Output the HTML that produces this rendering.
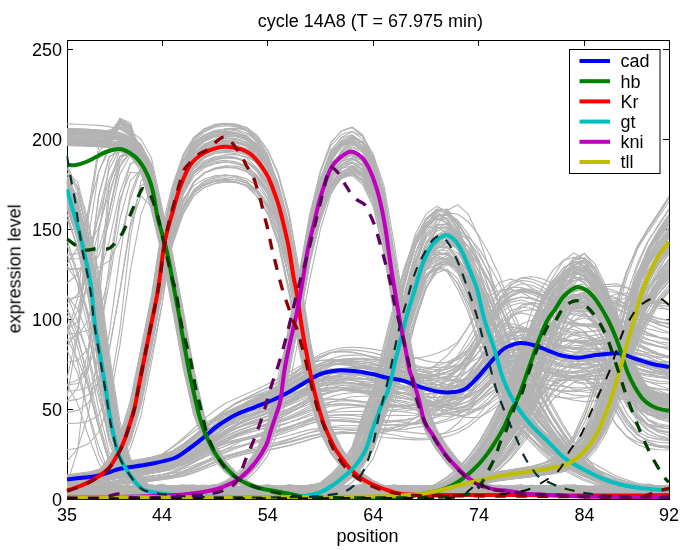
<!DOCTYPE html>
<html><head><meta charset="utf-8"><style>
html,body{margin:0;padding:0;background:#fff;width:685px;height:550px;overflow:hidden;font-family:"Liberation Sans",sans-serif;}
svg{display:block}
</style></head><body>
<svg width="685" height="550" viewBox="0 0 685 550">
<defs><clipPath id="ax"><rect x="66.5" y="39.5" width="603" height="460"/></clipPath></defs>
<rect width="685" height="550" fill="#fff"/>
<g stroke="#000" stroke-width="1" fill="none" shape-rendering="crispEdges">
<rect x="67" y="40" width="602" height="459"/>
<line x1="67.0" y1="499" x2="67.0" y2="493"/>
<line x1="67.0" y1="40" x2="67.0" y2="46"/>
<line x1="162.1" y1="499" x2="162.1" y2="493"/>
<line x1="162.1" y1="40" x2="162.1" y2="46"/>
<line x1="267.7" y1="499" x2="267.7" y2="493"/>
<line x1="267.7" y1="40" x2="267.7" y2="46"/>
<line x1="373.3" y1="499" x2="373.3" y2="493"/>
<line x1="373.3" y1="40" x2="373.3" y2="46"/>
<line x1="478.9" y1="499" x2="478.9" y2="493"/>
<line x1="478.9" y1="40" x2="478.9" y2="46"/>
<line x1="584.5" y1="499" x2="584.5" y2="493"/>
<line x1="584.5" y1="40" x2="584.5" y2="46"/>
<line x1="669.0" y1="499" x2="669.0" y2="493"/>
<line x1="669.0" y1="40" x2="669.0" y2="46"/>
<line x1="67" y1="499.0" x2="73" y2="499.0"/>
<line x1="669" y1="499.0" x2="663" y2="499.0"/>
<line x1="67" y1="409.0" x2="73" y2="409.0"/>
<line x1="669" y1="409.0" x2="663" y2="409.0"/>
<line x1="67" y1="319.0" x2="73" y2="319.0"/>
<line x1="669" y1="319.0" x2="663" y2="319.0"/>
<line x1="67" y1="229.0" x2="73" y2="229.0"/>
<line x1="669" y1="229.0" x2="663" y2="229.0"/>
<line x1="67" y1="139.0" x2="73" y2="139.0"/>
<line x1="669" y1="139.0" x2="663" y2="139.0"/>
<line x1="67" y1="49.0" x2="73" y2="49.0"/>
<line x1="669" y1="49.0" x2="663" y2="49.0"/>
</g>
<g clip-path="url(#ax)" fill="none" stroke-linejoin="round">
<g stroke="#b3b3b3" stroke-width="1.1">
<path d="M67.0,477.6 L77.6,476.0 L88.1,474.5 L98.7,471.3 L109.2,467.7 L119.8,465.2 L130.4,463.6 L140.9,462.2 L151.5,460.1 L162.1,457.9 L172.6,453.7 L183.2,447.5 L193.7,440.0 L204.3,432.1 L214.9,424.8 L225.4,418.7 L236.0,413.7 L246.5,409.0 L257.1,404.0 L267.7,398.5 L278.2,391.7 L288.8,384.3 L299.4,376.1 L309.9,368.5 L320.5,363.6 L331.0,360.5 L341.6,360.5 L352.2,361.6 L362.7,363.9 L373.3,367.4 L383.8,371.2 L394.4,374.7 L405.0,379.3 L415.5,384.1 L426.1,387.4 L436.6,389.1 L447.2,388.6 L457.8,385.3 L468.3,374.6 L478.9,361.2 L489.5,347.2 L500.0,335.7 L510.6,330.0 L521.1,328.0 L531.7,328.6 L542.3,330.9 L552.8,333.5 L563.4,334.2 L573.9,334.0 L584.5,332.0 L595.1,331.0 L605.6,330.9 L616.2,333.1 L626.8,339.5 L637.3,345.3 L647.9,350.5 L658.4,354.8 L669.0,357.3"/>
<path d="M67.0,479.8 L77.6,478.6 L88.1,477.5 L98.7,475.6 L109.2,472.8 L119.8,470.3 L130.4,469.2 L140.9,468.1 L151.5,466.6 L162.1,464.7 L172.6,462.2 L183.2,456.4 L193.7,449.7 L204.3,442.1 L214.9,434.0 L225.4,427.5 L236.0,421.3 L246.5,416.3 L257.1,411.2 L267.7,406.1 L278.2,400.2 L288.8,394.3 L299.4,387.8 L309.9,382.0 L320.5,378.0 L331.0,376.8 L341.6,377.7 L352.2,379.7 L362.7,382.9 L373.3,386.5 L383.8,390.3 L394.4,393.3 L405.0,396.5 L415.5,400.2 L426.1,402.7 L436.6,404.3 L447.2,403.9 L457.8,400.7 L468.3,392.9 L478.9,381.2 L489.5,368.2 L500.0,356.6 L510.6,350.5 L521.1,348.0 L531.7,349.2 L542.3,353.1 L552.8,357.4 L563.4,360.9 L573.9,363.7 L584.5,364.0 L595.1,364.6 L605.6,365.5 L616.2,367.1 L626.8,371.5 L637.3,375.8 L647.9,379.1 L658.4,381.1 L669.0,382.0"/>
<path d="M67.0,484.9 L77.6,483.9 L88.1,482.9 L98.7,480.8 L109.2,478.4 L119.8,476.6 L130.4,475.4 L140.9,474.3 L151.5,472.7 L162.1,471.0 L172.6,468.0 L183.2,463.4 L193.7,458.1 L204.3,452.7 L214.9,447.7 L225.4,443.9 L236.0,441.1 L246.5,438.8 L257.1,436.5 L267.7,434.0 L278.2,430.8 L288.8,427.3 L299.4,423.2 L309.9,419.3 L320.5,416.8 L331.0,415.0 L341.6,414.6 L352.2,414.5 L362.7,414.7 L373.3,415.2 L383.8,415.6 L394.4,415.4 L405.0,415.5 L415.5,415.2 L426.1,413.1 L436.6,408.9 L447.2,402.2 L457.8,392.9 L468.3,377.1 L478.9,359.7 L489.5,343.4 L500.0,331.6 L510.6,327.4 L521.1,328.1 L531.7,332.0 L542.3,337.6 L552.8,343.2 L563.4,346.6 L573.9,348.6 L584.5,348.3 L595.1,348.1 L605.6,348.0 L616.2,349.3 L626.8,353.8 L637.3,357.2 L647.9,360.0 L658.4,361.6 L669.0,361.7"/>
<path d="M67.0,475.7 L77.6,474.4 L88.1,473.0 L98.7,469.7 L109.2,466.2 L119.8,463.9 L130.4,462.4 L140.9,460.9 L151.5,458.5 L162.1,456.1 L172.6,451.0 L183.2,444.1 L193.7,435.9 L204.3,427.3 L214.9,419.7 L225.4,413.3 L236.0,408.5 L246.5,404.2 L257.1,399.8 L267.7,394.8 L278.2,388.9 L288.8,382.2 L299.4,374.7 L309.9,367.7 L320.5,363.4 L331.0,360.2 L341.6,359.2 L352.2,359.0 L362.7,359.1 L373.3,360.0 L383.8,360.1 L394.4,359.2 L405.0,359.1 L415.5,358.4 L426.1,356.5 L436.6,353.5 L447.2,349.0 L457.8,342.1 L468.3,327.0 L478.9,309.3 L489.5,292.8 L500.0,282.2 L510.6,279.1 L521.1,282.0 L531.7,287.8 L542.3,295.1 L552.8,302.2 L563.4,305.8 L573.9,307.6 L584.5,306.8 L595.1,306.3 L605.6,306.0 L616.2,307.9 L626.8,313.4 L637.3,317.5 L647.9,320.7 L658.4,322.8 L669.0,322.7"/>
<path d="M67.0,486.9 L77.6,486.2 L88.1,485.6 L98.7,484.3 L109.2,482.3 L119.8,480.5 L130.4,479.3 L140.9,478.1 L151.5,476.6 L162.1,474.7 L172.6,472.4 L183.2,467.7 L193.7,462.4 L204.3,456.6 L214.9,450.6 L225.4,446.1 L236.0,442.2 L246.5,439.5 L257.1,437.0 L267.7,434.7 L278.2,432.0 L288.8,429.2 L299.4,426.1 L309.9,423.2 L320.5,421.3 L331.0,420.7 L341.6,421.1 L352.2,421.9 L362.7,422.9 L373.3,423.9 L383.8,424.7 L394.4,424.6 L405.0,424.0 L415.5,423.1 L426.1,420.3 L436.6,415.7 L447.2,408.9 L457.8,399.4 L468.3,385.9 L478.9,369.4 L489.5,352.7 L500.0,339.1 L510.6,332.7 L521.1,331.0 L531.7,333.6 L542.3,339.0 L552.8,344.7 L563.4,349.2 L573.9,352.6 L584.5,352.9 L595.1,353.2 L605.6,353.5 L616.2,354.3 L626.8,358.2 L637.3,361.9 L647.9,364.7 L658.4,366.2 L669.0,366.6"/>
<path d="M67.0,476.9 L77.6,476.2 L88.1,475.0 L98.7,473.8 L109.2,471.0 L119.8,467.7 L130.4,465.3 L140.9,463.8 L151.5,462.2 L162.1,459.9 L172.6,457.3 L183.2,452.6 L193.7,445.4 L204.3,436.7 L214.9,427.3 L225.4,418.4 L236.0,410.9 L246.5,404.7 L257.1,399.2 L267.7,393.6 L278.2,387.7 L288.8,380.8 L299.4,373.2 L309.9,365.0 L320.5,357.5 L331.0,352.8 L341.6,349.8 L352.2,349.9 L362.7,350.9 L373.3,352.9 L383.8,355.9 L394.4,359.0 L405.0,361.5 L415.5,365.0 L426.1,368.4 L436.6,369.9 L447.2,369.2 L457.8,365.6 L468.3,358.9 L478.9,343.8 L489.5,326.1 L500.0,309.0 L510.6,296.2 L521.1,291.4 L531.7,291.4 L542.3,294.6 L552.8,299.3 L563.4,303.7 L573.9,305.1 L584.5,304.6 L595.1,301.0 L605.6,297.5 L616.2,294.3 L626.8,293.1 L637.3,296.9 L647.9,299.9 L658.4,302.5 L669.0,304.2"/>
<path d="M67.0,479.8 L77.6,479.4 L88.1,478.3 L98.7,477.1 L109.2,474.6 L119.8,471.3 L130.4,468.3 L140.9,466.3 L151.5,464.2 L162.1,461.4 L172.6,458.2 L183.2,453.7 L193.7,446.0 L204.3,437.3 L214.9,428.1 L225.4,419.3 L236.0,412.9 L246.5,407.9 L257.1,404.6 L267.7,401.5 L278.2,398.5 L288.8,394.6 L299.4,390.4 L309.9,385.3 L320.5,380.3 L331.0,376.7 L341.6,374.3 L352.2,373.6 L362.7,373.0 L373.3,372.8 L383.8,372.8 L394.4,372.6 L405.0,371.2 L415.5,370.0 L426.1,368.9 L436.6,366.0 L447.2,362.1 L457.8,357.0 L468.3,349.4 L478.9,335.9 L489.5,319.6 L500.0,303.8 L510.6,292.1 L521.1,289.0 L531.7,290.6 L542.3,295.7 L552.8,302.4 L563.4,308.3 L573.9,311.2 L584.5,311.9 L595.1,308.4 L605.6,304.6 L616.2,300.6 L626.8,297.7 L637.3,300.3 L647.9,302.6 L658.4,304.9 L669.0,306.4"/>
<path d="M67.0,481.1 L77.6,480.0 L88.1,478.8 L98.7,476.2 L109.2,473.1 L119.8,470.7 L130.4,468.9 L140.9,467.1 L151.5,464.6 L162.1,461.9 L172.6,457.3 L183.2,450.4 L193.7,442.3 L204.3,433.7 L214.9,425.7 L225.4,419.3 L236.0,414.2 L246.5,410.1 L257.1,406.2 L267.7,402.2 L278.2,397.5 L288.8,392.6 L299.4,387.4 L309.9,382.8 L320.5,380.6 L331.0,379.8 L341.6,381.2 L352.2,383.1 L362.7,385.5 L373.3,388.5 L383.8,391.3 L394.4,393.5 L405.0,396.5 L415.5,399.5 L426.1,401.5 L436.6,402.3 L447.2,401.4 L457.8,398.2 L468.3,388.6 L478.9,376.7 L489.5,364.4 L500.0,354.6 L510.6,350.1 L521.1,349.0 L531.7,350.3 L542.3,353.0 L552.8,355.9 L563.4,356.8 L573.9,356.8 L584.5,354.8 L595.1,353.3 L605.6,352.3 L616.2,353.1 L626.8,357.6 L637.3,361.4 L647.9,365.1 L658.4,368.1 L669.0,369.8"/>
<path d="M67.0,482.4 L77.6,481.6 L88.1,480.8 L98.7,479.3 L109.2,477.1 L119.8,475.0 L130.4,474.0 L140.9,473.0 L151.5,471.6 L162.1,469.6 L172.6,467.1 L183.2,461.5 L193.7,455.1 L204.3,447.8 L214.9,440.0 L225.4,433.8 L236.0,428.2 L246.5,424.1 L257.1,420.2 L267.7,416.6 L278.2,412.7 L288.8,408.9 L299.4,404.8 L309.9,401.2 L320.5,399.0 L331.0,398.7 L341.6,399.7 L352.2,401.0 L362.7,402.7 L373.3,404.2 L383.8,405.4 L394.4,405.5 L405.0,405.3 L415.5,405.4 L426.1,404.2 L436.6,402.2 L447.2,398.7 L457.8,393.3 L468.3,384.1 L478.9,371.8 L489.5,359.2 L500.0,349.1 L510.6,345.6 L521.1,346.0 L531.7,350.0 L542.3,356.0 L552.8,361.7 L563.4,365.7 L573.9,368.1 L584.5,367.3 L595.1,365.8 L605.6,363.9 L616.2,362.2 L626.8,363.3 L637.3,364.7 L647.9,365.7 L658.4,366.0 L669.0,366.0"/>
<path d="M67.0,484.8 L77.6,484.0 L88.1,483.0 L98.7,482.0 L109.2,479.6 L119.8,477.0 L130.4,475.1 L140.9,473.8 L151.5,472.4 L162.1,470.3 L172.6,468.2 L183.2,464.3 L193.7,458.8 L204.3,452.4 L214.9,445.7 L225.4,439.7 L236.0,434.9 L246.5,431.2 L257.1,428.2 L267.7,425.1 L278.2,422.0 L288.8,418.3 L299.4,414.3 L309.9,410.0 L320.5,406.3 L331.0,404.6 L341.6,403.8 L352.2,404.6 L362.7,405.9 L373.3,407.5 L383.8,409.5 L394.4,411.1 L405.0,412.0 L415.5,413.5 L426.1,414.6 L436.6,414.9 L447.2,414.2 L457.8,412.4 L468.3,408.8 L478.9,400.0 L489.5,389.4 L500.0,379.0 L510.6,371.5 L521.1,368.3 L531.7,368.2 L542.3,370.0 L552.8,372.6 L563.4,375.2 L573.9,375.8 L584.5,375.2 L595.1,373.1 L605.6,371.2 L616.2,369.6 L626.8,369.7 L637.3,372.6 L647.9,374.8 L658.4,376.7 L669.0,378.2"/>
<path d="M67.0,481.5 L77.6,480.5 L88.1,479.4 L98.7,478.2 L109.2,475.5 L119.8,472.7 L130.4,471.0 L140.9,469.9 L151.5,468.7 L162.1,466.9 L172.6,465.0 L183.2,460.8 L193.7,455.3 L204.3,449.0 L214.9,442.2 L225.4,436.3 L236.0,431.2 L246.5,427.3 L257.1,423.6 L267.7,419.6 L278.2,415.1 L288.8,409.8 L299.4,403.7 L309.9,397.2 L320.5,391.2 L331.0,387.8 L341.6,385.4 L352.2,384.9 L362.7,385.4 L373.3,386.6 L383.8,388.8 L394.4,391.0 L405.0,393.2 L415.5,396.8 L426.1,400.4 L436.6,403.3 L447.2,404.8 L457.8,404.6 L468.3,401.9 L478.9,394.2 L489.5,384.5 L500.0,375.3 L510.6,369.8 L521.1,367.5 L531.7,368.6 L542.3,371.0 L552.8,373.8 L563.4,376.1 L573.9,376.3 L584.5,375.1 L595.1,372.4 L605.6,369.9 L616.2,367.9 L626.8,367.8 L637.3,370.3 L647.9,372.3 L658.4,374.1 L669.0,375.7"/>
<path d="M67.0,479.2 L77.6,479.2 L88.1,478.1 L98.7,476.9 L109.2,475.2 L119.8,472.2 L130.4,469.1 L140.9,467.7 L151.5,466.2 L162.1,464.5 L172.6,462.2 L183.2,459.9 L193.7,453.7 L204.3,446.7 L214.9,439.0 L225.4,430.9 L236.0,424.5 L246.5,418.6 L257.1,414.6 L267.7,410.5 L278.2,406.4 L288.8,401.5 L299.4,396.2 L309.9,389.8 L320.5,383.5 L331.0,378.0 L341.6,375.2 L352.2,373.8 L362.7,373.5 L373.3,374.3 L383.8,375.5 L394.4,377.3 L405.0,378.6 L415.5,380.0 L426.1,382.7 L436.6,384.8 L447.2,386.3 L457.8,385.7 L468.3,382.8 L478.9,375.7 L489.5,363.6 L500.0,349.8 L510.6,337.2 L521.1,330.9 L531.7,328.2 L542.3,330.0 L552.8,334.2 L563.4,338.7 L573.9,342.3 L584.5,344.3 L595.1,343.9 L605.6,342.8 L616.2,342.2 L626.8,342.4 L637.3,345.8 L647.9,350.5 L658.4,354.6 L669.0,357.8"/>
<path d="M67.0,483.1 L77.6,482.2 L88.1,481.1 L98.7,479.8 L109.2,477.0 L119.8,474.1 L130.4,472.1 L140.9,470.5 L151.5,468.8 L162.1,466.3 L172.6,463.8 L183.2,458.7 L193.7,452.2 L204.3,444.7 L214.9,436.8 L225.4,430.0 L236.0,424.2 L246.5,420.2 L257.1,416.6 L267.7,413.1 L278.2,409.4 L288.8,405.3 L299.4,400.8 L309.9,396.0 L320.5,392.0 L331.0,390.7 L341.6,390.3 L352.2,391.5 L362.7,393.3 L373.3,395.4 L383.8,397.9 L394.4,399.9 L405.0,401.4 L415.5,403.8 L426.1,405.9 L436.6,407.2 L447.2,407.2 L457.8,405.5 L468.3,401.3 L478.9,391.8 L489.5,380.0 L500.0,368.4 L510.6,360.6 L521.1,356.5 L531.7,356.5 L542.3,358.3 L552.8,360.9 L563.4,363.5 L573.9,364.1 L584.5,363.4 L595.1,361.5 L605.6,360.2 L616.2,359.4 L626.8,360.9 L637.3,364.9 L647.9,368.4 L658.4,371.5 L669.0,374.2"/>
<path d="M67.0,474.7 L77.6,473.4 L88.1,472.0 L98.7,470.4 L109.2,466.7 L119.8,462.9 L130.4,460.7 L140.9,459.0 L151.5,457.2 L162.1,454.4 L172.6,451.6 L183.2,445.2 L193.7,437.2 L204.3,428.0 L214.9,418.2 L225.4,410.0 L236.0,402.8 L246.5,397.7 L257.1,392.9 L267.7,388.0 L278.2,382.5 L288.8,376.1 L299.4,368.8 L309.9,361.0 L320.5,353.9 L331.0,350.2 L341.6,347.7 L352.2,347.3 L362.7,347.9 L373.3,349.1 L383.8,351.2 L394.4,353.0 L405.0,354.4 L415.5,357.9 L426.1,360.9 L436.6,362.8 L447.2,362.7 L457.8,359.7 L468.3,352.8 L478.9,338.4 L489.5,321.0 L500.0,304.6 L510.6,294.8 L521.1,290.3 L531.7,292.3 L542.3,296.9 L552.8,302.6 L563.4,307.9 L573.9,310.6 L584.5,311.2 L595.1,310.1 L605.6,309.6 L616.2,309.8 L626.8,312.9 L637.3,319.1 L647.9,324.2 L658.4,328.6 L669.0,332.3"/>
<path d="M67.0,480.4 L77.6,479.2 L88.1,477.9 L98.7,476.3 L109.2,473.0 L119.8,469.6 L130.4,467.4 L140.9,465.5 L151.5,463.4 L162.1,460.5 L172.6,457.6 L183.2,451.3 L193.7,443.5 L204.3,434.8 L214.9,425.5 L225.4,417.8 L236.0,411.1 L246.5,406.6 L257.1,402.4 L267.7,398.4 L278.2,393.9 L288.8,389.1 L299.4,383.6 L309.9,378.1 L320.5,373.5 L331.0,372.2 L341.6,372.1 L352.2,373.6 L362.7,376.1 L373.3,379.1 L383.8,382.9 L394.4,386.7 L405.0,390.6 L415.5,396.6 L426.1,402.9 L436.6,409.0 L447.2,413.5 L457.8,415.9 L468.3,415.0 L478.9,409.1 L489.5,401.1 L500.0,392.8 L510.6,387.9 L521.1,385.1 L531.7,385.6 L542.3,387.3 L552.8,389.4 L563.4,391.2 L573.9,391.7 L584.5,390.8 L595.1,389.2 L605.6,388.0 L616.2,387.2 L626.8,388.5 L637.3,391.5 L647.9,394.1 L658.4,396.4 L669.0,398.4"/>
<path d="M67.0,476.8 L77.6,475.4 L88.1,472.7 L98.7,469.2 L109.2,466.2 L119.8,464.5 L130.4,462.8 L140.9,460.6 L151.5,458.0 L162.1,454.2 L172.6,447.5 L183.2,439.7 L193.7,431.5 L204.3,423.7 L214.9,417.9 L225.4,413.2 L236.0,409.7 L246.5,406.3 L257.1,402.8 L267.7,398.3 L278.2,393.4 L288.8,387.8 L299.4,382.4 L309.9,378.7 L320.5,376.5 L331.0,376.3 L341.6,376.6 L352.2,377.6 L362.7,379.0 L373.3,380.6 L383.8,381.6 L394.4,383.4 L405.0,385.9 L415.5,387.2 L426.1,387.5 L436.6,386.0 L447.2,381.2 L457.8,370.4 L468.3,356.1 L478.9,341.4 L489.5,329.5 L500.0,324.3 L510.6,323.5 L521.1,326.1 L531.7,331.0 L542.3,336.0 L552.8,339.3 L563.4,341.5 L573.9,340.9 L584.5,340.7 L595.1,340.9 L605.6,342.1 L616.2,347.6 L626.8,352.4 L637.3,356.8 L647.9,360.0 L658.4,362.0 L669.0,362.7"/>
<path d="M67.0,488.1 L77.6,487.4 L88.1,486.6 L98.7,485.5 L109.2,483.6 L119.8,481.7 L130.4,480.7 L140.9,479.8 L151.5,478.7 L162.1,477.3 L172.6,475.9 L183.2,472.2 L193.7,468.1 L204.3,463.7 L214.9,459.2 L225.4,455.8 L236.0,452.8 L246.5,450.9 L257.1,449.1 L267.7,447.2 L278.2,445.0 L288.8,442.6 L299.4,439.6 L309.9,436.7 L320.5,434.2 L331.0,433.1 L341.6,432.6 L352.2,432.5 L362.7,432.7 L373.3,432.6 L383.8,432.1 L394.4,430.3 L405.0,426.9 L415.5,422.2 L426.1,414.6 L436.6,404.7 L447.2,392.0 L457.8,377.8 L468.3,360.6 L478.9,339.4 L489.5,317.7 L500.0,298.7 L510.6,288.5 L521.1,283.8 L531.7,285.2 L542.3,290.1 L552.8,295.6 L563.4,300.1 L573.9,302.8 L584.5,302.5 L595.1,301.7 L605.6,301.5 L616.2,302.4 L626.8,307.4 L637.3,313.9 L647.9,319.6 L658.4,324.0 L669.0,327.7"/>
<path d="M67.0,485.1 L77.6,484.5 L88.1,483.7 L98.7,482.1 L109.2,479.9 L119.8,477.9 L130.4,476.6 L140.9,475.2 L151.5,473.3 L162.1,471.1 L172.6,468.1 L183.2,462.7 L193.7,456.6 L204.3,450.0 L214.9,443.5 L225.4,438.8 L236.0,435.0 L246.5,432.5 L257.1,430.2 L267.7,428.1 L278.2,425.4 L288.8,422.6 L299.4,419.2 L309.9,415.8 L320.5,413.5 L331.0,412.1 L341.6,411.7 L352.2,411.4 L362.7,411.4 L373.3,411.3 L383.8,411.0 L394.4,409.9 L405.0,408.6 L415.5,407.6 L426.1,405.6 L436.6,403.2 L447.2,400.2 L457.8,395.5 L468.3,387.1 L478.9,376.4 L489.5,365.7 L500.0,357.7 L510.6,355.5 L521.1,356.5 L531.7,360.0 L542.3,364.7 L552.8,368.8 L563.4,370.9 L573.9,371.6 L584.5,369.2 L595.1,366.5 L605.6,363.7 L616.2,361.6 L626.8,363.1 L637.3,364.7 L647.9,366.4 L658.4,367.5 L669.0,368.3"/>
<path d="M67.0,480.4 L77.6,479.0 L88.1,477.6 L98.7,475.5 L109.2,472.0 L119.8,468.5 L130.4,466.5 L140.9,464.7 L151.5,462.7 L162.1,460.2 L172.6,457.8 L183.2,451.4 L193.7,444.5 L204.3,437.1 L214.9,429.5 L225.4,423.9 L236.0,419.0 L246.5,415.9 L257.1,412.7 L267.7,409.2 L278.2,404.8 L288.8,399.8 L299.4,393.5 L309.9,386.8 L320.5,380.8 L331.0,377.3 L341.6,375.0 L352.2,373.8 L362.7,374.1 L373.3,375.1 L383.8,377.2 L394.4,379.5 L405.0,382.9 L415.5,388.6 L426.1,394.6 L436.6,400.8 L447.2,405.2 L457.8,407.4 L468.3,405.8 L478.9,400.1 L489.5,392.8 L500.0,386.1 L510.6,383.3 L521.1,382.5 L531.7,384.1 L542.3,386.9 L552.8,389.3 L563.4,390.7 L573.9,390.7 L584.5,388.7 L595.1,386.2 L605.6,383.9 L616.2,382.2 L626.8,383.0 L637.3,385.2 L647.9,387.2 L658.4,388.9 L669.0,390.5"/>
<path d="M67.0,479.8 L77.6,479.0 L88.1,477.7 L98.7,476.4 L109.2,473.5 L119.8,470.1 L130.4,467.5 L140.9,465.7 L151.5,463.8 L162.1,461.1 L172.6,458.3 L183.2,453.2 L193.7,445.8 L204.3,437.0 L214.9,427.6 L225.4,418.9 L236.0,411.7 L246.5,405.9 L257.1,401.0 L267.7,396.1 L278.2,391.1 L288.8,385.1 L299.4,378.7 L309.9,371.7 L320.5,365.5 L331.0,361.9 L341.6,359.9 L352.2,360.5 L362.7,361.8 L373.3,363.8 L383.8,366.6 L394.4,369.0 L405.0,370.7 L415.5,373.1 L426.1,375.1 L436.6,375.4 L447.2,374.0 L457.8,370.7 L468.3,365.2 L478.9,351.9 L489.5,336.5 L500.0,321.6 L510.6,310.8 L521.1,307.3 L531.7,308.3 L542.3,312.2 L552.8,317.5 L563.4,322.7 L573.9,325.0 L584.5,325.8 L595.1,323.9 L605.6,322.2 L616.2,320.7 L626.8,321.0 L637.3,325.4 L647.9,328.7 L658.4,331.5 L669.0,333.2"/>
<path d="M67.0,481.2 L77.6,480.0 L88.1,477.9 L98.7,474.8 L109.2,471.8 L119.8,470.0 L130.4,468.2 L140.9,466.3 L151.5,463.8 L162.1,461.3 L172.6,455.3 L183.2,448.8 L193.7,441.8 L204.3,434.8 L214.9,429.9 L225.4,425.7 L236.0,423.0 L246.5,420.3 L257.1,417.4 L267.7,413.8 L278.2,409.6 L288.8,404.2 L299.4,398.7 L309.9,393.8 L320.5,390.8 L331.0,388.8 L341.6,387.5 L352.2,387.1 L362.7,386.7 L373.3,386.5 L383.8,385.1 L394.4,383.1 L405.0,380.9 L415.5,376.7 L426.1,371.3 L436.6,364.3 L447.2,355.6 L457.8,343.1 L468.3,326.6 L478.9,309.7 L489.5,295.8 L500.0,290.2 L510.6,289.1 L521.1,292.3 L531.7,297.9 L542.3,302.9 L552.8,305.7 L563.4,306.2 L573.9,302.6 L584.5,298.3 L595.1,294.2 L605.6,291.0 L616.2,292.7 L626.8,295.9 L637.3,298.9 L647.9,301.1 L658.4,303.1 L669.0,303.3"/>
<path d="M67.0,479.4 L77.6,478.1 L88.1,476.7 L98.7,474.6 L109.2,471.3 L119.8,468.0 L130.4,466.3 L140.9,464.6 L151.5,462.7 L162.1,460.1 L172.6,457.5 L183.2,450.8 L193.7,443.4 L204.3,435.4 L214.9,427.1 L225.4,420.9 L236.0,415.4 L246.5,411.8 L257.1,408.3 L267.7,404.8 L278.2,400.7 L288.8,396.3 L299.4,390.9 L309.9,385.8 L320.5,381.7 L331.0,380.1 L341.6,379.8 L352.2,380.2 L362.7,381.4 L373.3,382.4 L383.8,383.1 L394.4,382.2 L405.0,380.1 L415.5,378.0 L426.1,374.4 L436.6,370.3 L447.2,364.7 L457.8,357.3 L468.3,345.4 L478.9,328.1 L489.5,309.0 L500.0,291.8 L510.6,282.5 L521.1,278.0 L531.7,278.9 L542.3,283.1 L552.8,287.5 L563.4,290.6 L573.9,291.8 L584.5,289.5 L595.1,286.7 L605.6,284.6 L616.2,283.7 L626.8,287.5 L637.3,293.0 L647.9,297.8 L658.4,301.5 L669.0,304.5"/>
<path d="M67.0,480.9 L77.6,479.7 L88.1,478.4 L98.7,476.1 L109.2,472.9 L119.8,470.0 L130.4,468.1 L140.9,466.3 L151.5,463.9 L162.1,461.1 L172.6,457.5 L183.2,450.5 L193.7,442.5 L204.3,433.9 L214.9,425.2 L225.4,418.8 L236.0,413.2 L246.5,409.2 L257.1,405.3 L267.7,401.6 L278.2,397.1 L288.8,392.5 L299.4,387.3 L309.9,382.5 L320.5,379.4 L331.0,378.3 L341.6,379.1 L352.2,380.5 L362.7,382.5 L373.3,384.6 L383.8,386.4 L394.4,386.9 L405.0,387.0 L415.5,386.9 L426.1,385.0 L436.6,381.9 L447.2,377.5 L457.8,370.2 L468.3,357.6 L478.9,341.0 L489.5,323.3 L500.0,308.2 L510.6,300.4 L521.1,297.1 L531.7,298.1 L542.3,301.8 L552.8,305.8 L563.4,308.1 L573.9,309.3 L584.5,306.8 L595.1,304.9 L605.6,303.7 L616.2,303.9 L626.8,309.4 L637.3,315.0 L647.9,320.3 L658.4,324.4 L669.0,327.5"/>
<path d="M67.0,482.1 L77.6,481.5 L88.1,480.4 L98.7,479.3 L109.2,477.0 L119.8,474.3 L130.4,472.2 L140.9,470.9 L151.5,469.7 L162.1,468.0 L172.6,466.2 L183.2,463.0 L193.7,457.8 L204.3,451.7 L214.9,445.2 L225.4,439.1 L236.0,434.3 L246.5,430.5 L257.1,427.3 L267.7,424.1 L278.2,420.6 L288.8,416.3 L299.4,411.4 L309.9,405.9 L320.5,400.5 L331.0,396.6 L341.6,393.8 L352.2,392.8 L362.7,392.0 L373.3,391.7 L383.8,391.4 L394.4,390.5 L405.0,387.8 L415.5,384.5 L426.1,380.2 L436.6,373.7 L447.2,366.5 L457.8,358.6 L468.3,349.3 L478.9,333.4 L489.5,315.1 L500.0,297.5 L510.6,284.5 L521.1,280.4 L531.7,281.7 L542.3,286.8 L552.8,294.2 L563.4,301.3 L573.9,305.6 L584.5,308.3 L595.1,307.4 L605.6,306.6 L616.2,305.8 L626.8,306.3 L637.3,311.5 L647.9,315.5 L658.4,318.7 L669.0,320.5"/>
<path d="M67.0,477.9 L77.6,476.5 L88.1,475.1 L98.7,472.1 L109.2,468.6 L119.8,465.7 L130.4,463.9 L140.9,462.0 L151.5,459.5 L162.1,456.7 L172.6,452.2 L183.2,444.9 L193.7,436.3 L204.3,427.4 L214.9,418.9 L225.4,412.4 L236.0,407.1 L246.5,403.1 L257.1,399.1 L267.7,395.1 L278.2,390.2 L288.8,385.0 L299.4,379.2 L309.9,373.9 L320.5,371.0 L331.0,369.5 L341.6,370.6 L352.2,372.3 L362.7,374.8 L373.3,378.0 L383.8,381.4 L394.4,384.6 L405.0,389.1 L415.5,394.5 L426.1,399.1 L436.6,402.8 L447.2,404.6 L457.8,403.6 L468.3,396.8 L478.9,387.3 L489.5,377.2 L500.0,369.1 L510.6,365.7 L521.1,365.1 L531.7,366.6 L542.3,369.4 L552.8,372.2 L563.4,373.2 L573.9,373.2 L584.5,371.1 L595.1,369.3 L605.6,367.6 L616.2,367.1 L626.8,370.0 L637.3,372.4 L647.9,374.6 L658.4,376.0 L669.0,376.4"/>
<path d="M67.0,482.2 L77.6,481.3 L88.1,480.4 L98.7,478.9 L109.2,476.4 L119.8,474.0 L130.4,472.8 L140.9,471.7 L151.5,470.3 L162.1,468.4 L172.6,466.4 L183.2,461.1 L193.7,455.3 L204.3,448.8 L214.9,441.9 L225.4,436.6 L236.0,431.7 L246.5,428.1 L257.1,424.3 L267.7,420.4 L278.2,415.8 L288.8,410.9 L299.4,405.0 L309.9,399.2 L320.5,394.3 L331.0,391.6 L341.6,390.2 L352.2,389.8 L362.7,390.4 L373.3,391.3 L383.8,392.5 L394.4,393.0 L405.0,393.5 L415.5,394.5 L426.1,394.4 L436.6,393.6 L447.2,391.3 L457.8,387.0 L468.3,379.0 L478.9,367.2 L489.5,354.5 L500.0,343.8 L510.6,339.4 L521.1,338.7 L531.7,341.6 L542.3,346.8 L552.8,351.8 L563.4,355.6 L573.9,357.9 L584.5,357.5 L595.1,356.6 L605.6,355.8 L616.2,355.6 L626.8,358.3 L637.3,361.7 L647.9,364.3 L658.4,365.9 L669.0,366.8"/>
<path d="M67.0,476.9 L77.6,476.7 L88.1,475.5 L98.7,474.2 L109.2,472.1 L119.8,468.7 L130.4,465.5 L140.9,463.8 L151.5,462.2 L162.1,460.2 L172.6,457.6 L183.2,454.7 L193.7,447.6 L204.3,439.6 L214.9,430.9 L225.4,421.7 L236.0,414.8 L246.5,408.4 L257.1,403.9 L267.7,399.2 L278.2,394.5 L288.8,388.8 L299.4,382.7 L309.9,375.4 L320.5,368.3 L331.0,362.4 L341.6,359.4 L352.2,358.2 L362.7,358.1 L373.3,359.5 L383.8,361.7 L394.4,364.8 L405.0,368.1 L415.5,372.5 L426.1,378.8 L436.6,384.5 L447.2,389.3 L457.8,391.6 L468.3,390.7 L478.9,384.9 L489.5,374.7 L500.0,363.0 L510.6,352.6 L521.1,347.7 L531.7,346.1 L542.3,348.0 L552.8,352.2 L563.4,356.3 L573.9,359.4 L584.5,361.3 L595.1,360.7 L605.6,359.9 L616.2,359.5 L626.8,359.9 L637.3,363.4 L647.9,367.6 L658.4,371.3 L669.0,374.1"/>
<path d="M67.0,479.6 L77.6,478.2 L88.1,476.8 L98.7,474.6 L109.2,471.1 L119.8,467.5 L130.4,465.4 L140.9,463.3 L151.5,460.9 L162.1,457.9 L172.6,454.9 L183.2,447.3 L193.7,439.1 L204.3,430.2 L214.9,421.0 L225.4,414.2 L236.0,408.3 L246.5,404.6 L257.1,401.1 L267.7,397.7 L278.2,393.7 L288.8,389.5 L299.4,384.3 L309.9,379.2 L320.5,375.1 L331.0,373.6 L341.6,373.2 L352.2,373.6 L362.7,375.0 L373.3,376.5 L383.8,378.3 L394.4,379.5 L405.0,380.9 L415.5,383.7 L426.1,385.8 L436.6,387.7 L447.2,387.7 L457.8,385.4 L468.3,378.9 L478.9,367.9 L489.5,355.4 L500.0,344.2 L510.6,339.2 L521.1,337.8 L531.7,340.5 L542.3,345.7 L552.8,351.1 L563.4,355.5 L573.9,358.5 L584.5,359.1 L595.1,359.2 L605.6,359.6 L616.2,360.4 L626.8,363.9 L637.3,368.0 L647.9,371.3 L658.4,373.4 L669.0,374.7"/>
<path d="M67.0,488.7 L77.6,487.9 L88.1,487.2 L98.7,486.2 L109.2,484.4 L119.8,482.5 L130.4,481.5 L140.9,480.5 L151.5,479.6 L162.1,478.2 L172.6,476.9 L183.2,473.8 L193.7,470.1 L204.3,466.0 L214.9,461.8 L225.4,458.5 L236.0,455.6 L246.5,453.8 L257.1,452.1 L267.7,450.3 L278.2,448.1 L288.8,445.7 L299.4,442.7 L309.9,439.5 L320.5,436.5 L331.0,435.0 L341.6,433.8 L352.2,433.1 L362.7,432.6 L373.3,431.8 L383.8,430.7 L394.4,428.1 L405.0,423.6 L415.5,417.9 L426.1,409.7 L436.6,399.6 L447.2,388.2 L457.8,376.3 L468.3,362.7 L478.9,344.9 L489.5,326.4 L500.0,310.2 L510.6,302.4 L521.1,299.7 L531.7,303.2 L542.3,309.4 L552.8,316.1 L563.4,321.9 L573.9,325.4 L584.5,326.2 L595.1,325.6 L605.6,325.2 L616.2,325.0 L626.8,327.6 L637.3,331.9 L647.9,335.1 L658.4,337.2 L669.0,338.5"/>
<path d="M67.0,489.6 L77.6,489.0 L88.1,488.3 L98.7,487.4 L109.2,485.8 L119.8,484.1 L130.4,483.2 L140.9,482.3 L151.5,481.2 L162.1,479.7 L172.6,478.2 L183.2,474.7 L193.7,470.7 L204.3,466.2 L214.9,461.4 L225.4,457.6 L236.0,454.2 L246.5,451.8 L257.1,449.5 L267.7,447.2 L278.2,444.6 L288.8,441.9 L299.4,438.9 L309.9,435.9 L320.5,433.5 L331.0,432.8 L341.6,432.8 L352.2,433.4 L362.7,434.7 L373.3,436.0 L383.8,437.5 L394.4,438.4 L405.0,439.1 L415.5,439.9 L426.1,439.8 L436.6,438.8 L447.2,436.4 L457.8,432.8 L468.3,427.0 L478.9,418.4 L489.5,409.0 L500.0,400.3 L510.6,395.5 L521.1,392.9 L531.7,393.2 L542.3,394.8 L552.8,396.7 L563.4,397.9 L573.9,398.2 L584.5,396.8 L595.1,395.0 L605.6,393.5 L616.2,392.6 L626.8,393.9 L637.3,396.3 L647.9,398.4 L658.4,400.0 L669.0,401.5"/>
<path d="M67.0,482.1 L77.6,481.3 L88.1,480.3 L98.7,479.3 L109.2,476.7 L119.8,474.0 L130.4,472.3 L140.9,470.9 L151.5,469.5 L162.1,467.3 L172.6,465.0 L183.2,460.3 L193.7,454.0 L204.3,446.8 L214.9,439.0 L225.4,432.0 L236.0,426.0 L246.5,421.3 L257.1,417.0 L267.7,412.6 L278.2,407.8 L288.8,402.4 L299.4,396.3 L309.9,389.9 L320.5,384.1 L331.0,381.0 L341.6,379.0 L352.2,378.8 L362.7,379.1 L373.3,379.6 L383.8,380.3 L394.4,379.9 L405.0,378.1 L415.5,376.9 L426.1,375.5 L436.6,374.0 L447.2,372.0 L457.8,369.0 L468.3,363.5 L478.9,351.4 L489.5,337.0 L500.0,323.5 L510.6,315.6 L521.1,312.9 L531.7,315.3 L542.3,319.9 L552.8,325.3 L563.4,330.2 L573.9,332.3 L584.5,332.4 L595.1,330.6 L605.6,329.0 L616.2,327.6 L626.8,328.6 L637.3,332.5 L647.9,335.3 L658.4,337.4 L669.0,338.8"/>
<path d="M67.0,475.1 L77.6,474.7 L88.1,473.2 L98.7,471.8 L109.2,469.3 L119.8,465.5 L130.4,462.1 L140.9,460.3 L151.5,458.6 L162.1,456.4 L172.6,453.6 L183.2,450.3 L193.7,442.7 L204.3,434.2 L214.9,425.0 L225.4,415.5 L236.0,408.6 L246.5,402.5 L257.1,398.1 L267.7,393.7 L278.2,389.2 L288.8,383.7 L299.4,377.8 L309.9,370.8 L320.5,363.9 L331.0,358.7 L341.6,355.9 L352.2,355.1 L362.7,355.2 L373.3,356.6 L383.8,358.6 L394.4,361.2 L405.0,363.4 L415.5,366.7 L426.1,371.6 L436.6,376.0 L447.2,379.9 L457.8,381.6 L468.3,379.9 L478.9,372.7 L489.5,361.0 L500.0,347.7 L510.6,336.1 L521.1,330.5 L531.7,328.6 L542.3,330.4 L552.8,334.5 L563.4,338.8 L573.9,341.6 L584.5,343.4 L595.1,342.1 L605.6,340.9 L616.2,340.2 L626.8,340.4 L637.3,344.5 L647.9,349.1 L658.4,353.2 L669.0,356.3"/>
<path d="M67.0,482.9 L77.6,482.2 L88.1,481.1 L98.7,480.1 L109.2,477.6 L119.8,474.8 L130.4,472.7 L140.9,471.2 L151.5,469.6 L162.1,467.3 L172.6,464.9 L183.2,460.5 L193.7,454.2 L204.3,446.8 L214.9,438.8 L225.4,431.4 L236.0,425.3 L246.5,420.4 L257.1,416.2 L267.7,412.1 L278.2,407.7 L288.8,402.7 L299.4,397.3 L309.9,391.5 L320.5,386.4 L331.0,383.6 L341.6,382.2 L352.2,382.9 L362.7,384.3 L373.3,386.3 L383.8,388.9 L394.4,391.3 L405.0,393.1 L415.5,395.4 L426.1,397.4 L436.6,397.6 L447.2,395.9 L457.8,392.0 L468.3,385.8 L478.9,372.8 L489.5,358.0 L500.0,343.8 L510.6,333.5 L521.1,329.6 L531.7,329.8 L542.3,332.5 L552.8,336.4 L563.4,340.2 L573.9,341.4 L584.5,341.1 L595.1,338.6 L605.6,336.2 L616.2,334.1 L626.8,333.8 L637.3,337.2 L647.9,339.7 L658.4,341.8 L669.0,343.1"/>
<path d="M67.0,488.0 L77.6,487.2 L88.1,485.8 L98.7,483.9 L109.2,482.2 L119.8,481.2 L130.4,480.2 L140.9,479.1 L151.5,477.8 L162.1,476.2 L172.6,472.9 L183.2,469.1 L193.7,465.2 L204.3,461.3 L214.9,458.5 L225.4,456.0 L236.0,454.2 L246.5,452.2 L257.1,450.0 L267.7,447.1 L278.2,443.8 L288.8,439.9 L299.4,435.9 L309.9,432.7 L320.5,430.6 L331.0,429.7 L341.6,429.3 L352.2,429.8 L362.7,430.8 L373.3,432.2 L383.8,433.4 L394.4,435.0 L405.0,437.0 L415.5,438.1 L426.1,438.2 L436.6,436.3 L447.2,431.8 L457.8,423.3 L468.3,411.8 L478.9,399.5 L489.5,388.6 L500.0,382.3 L510.6,378.9 L521.1,378.2 L531.7,379.2 L542.3,380.4 L552.8,380.8 L563.4,380.6 L573.9,378.3 L584.5,376.5 L595.1,375.4 L605.6,375.5 L616.2,379.1 L626.8,383.2 L637.3,387.2 L647.9,390.4 L658.4,393.0 L669.0,394.5"/>
<path d="M67.0,477.6 L77.6,476.2 L88.1,474.1 L98.7,470.6 L109.2,467.0 L119.8,464.9 L130.4,462.9 L140.9,460.5 L151.5,457.4 L162.1,454.2 L172.6,446.6 L183.2,438.0 L193.7,428.5 L204.3,418.4 L214.9,410.5 L225.4,403.3 L236.0,398.5 L246.5,393.8 L257.1,389.3 L267.7,384.1 L278.2,378.8 L288.8,372.5 L299.4,366.6 L309.9,361.9 L320.5,360.5 L331.0,360.7 L341.6,362.2 L352.2,364.9 L362.7,367.8 L373.3,371.0 L383.8,373.3 L394.4,375.2 L405.0,377.6 L415.5,378.4 L426.1,377.7 L436.6,373.8 L447.2,367.1 L457.8,355.7 L468.3,338.7 L478.9,319.7 L489.5,302.3 L500.0,292.5 L510.6,287.2 L521.1,287.5 L531.7,290.7 L542.3,294.4 L552.8,297.1 L563.4,297.7 L573.9,295.2 L584.5,291.9 L595.1,289.4 L605.6,288.1 L616.2,291.3 L626.8,296.5 L637.3,301.2 L647.9,304.9 L658.4,308.2 L669.0,309.1"/>
<path d="M67.0,488.7 L77.6,487.6 L88.1,487.1 L98.7,485.9 L109.2,486.1 L119.8,484.3 L130.4,482.6 L140.9,481.6 L151.5,480.6 L162.1,479.4 L172.6,477.8 L183.2,476.1 L193.7,472.1 L204.3,467.6 L214.9,462.7 L225.4,457.5 L236.0,453.5 L246.5,449.9 L257.1,447.3 L267.7,444.7 L278.2,442.1 L288.8,439.1 L299.4,436.0 L309.9,432.4 L320.5,429.0 L331.0,426.5 L341.6,425.5 L352.2,425.5 L362.7,426.1 L373.3,427.4 L383.8,428.9 L394.4,430.6 L405.0,431.8 L415.5,432.9 L426.1,434.1 L436.6,434.2 L447.2,433.0 L457.8,429.6 L468.3,423.6 L478.9,414.3 L489.5,401.9 L500.0,388.9 L510.6,377.8 L521.1,372.0 L531.7,369.4 L542.3,370.0 L552.8,372.6 L563.4,375.3 L573.9,376.9 L584.5,377.5 L595.1,375.7 L605.6,373.6 L616.2,371.7 L626.8,370.5 L637.3,372.2 L647.9,374.5 L658.4,376.5 L669.0,377.7"/>
<path d="M67.0,479.6 L77.6,478.6 L88.1,477.5 L98.7,476.1 L109.2,472.9 L119.8,469.6 L130.4,467.4 L140.9,465.5 L151.5,463.4 L162.1,460.4 L172.6,457.2 L183.2,450.8 L193.7,442.7 L204.3,433.5 L214.9,423.6 L225.4,415.3 L236.0,408.2 L246.5,403.3 L257.1,399.0 L267.7,394.9 L278.2,390.6 L288.8,386.0 L299.4,380.8 L309.9,375.6 L320.5,371.3 L331.0,370.2 L341.6,370.0 L352.2,371.4 L362.7,373.4 L373.3,375.2 L383.8,377.3 L394.4,378.2 L405.0,378.0 L415.5,378.5 L426.1,377.8 L436.6,375.9 L447.2,372.3 L457.8,366.8 L468.3,357.9 L478.9,342.3 L489.5,324.2 L500.0,306.9 L510.6,296.7 L521.1,291.8 L531.7,293.9 L542.3,298.8 L552.8,305.0 L563.4,311.1 L573.9,314.7 L584.5,316.4 L595.1,316.6 L605.6,317.4 L616.2,318.6 L626.8,322.5 L637.3,328.7 L647.9,333.6 L658.4,337.3 L669.0,340.0"/>
<path d="M67.0,480.1 L77.6,479.7 L88.1,478.6 L98.7,477.4 L109.2,475.1 L119.8,471.9 L130.4,469.0 L140.9,467.3 L151.5,465.5 L162.1,463.2 L172.6,460.3 L183.2,456.6 L193.7,449.4 L204.3,441.1 L214.9,432.1 L225.4,422.7 L236.0,415.6 L246.5,409.1 L257.1,404.2 L267.7,399.3 L278.2,394.4 L288.8,388.6 L299.4,382.6 L309.9,375.8 L320.5,369.6 L331.0,365.3 L341.6,363.4 L352.2,363.8 L362.7,365.2 L373.3,367.8 L383.8,371.1 L394.4,374.9 L405.0,378.3 L415.5,382.6 L426.1,388.0 L436.6,392.6 L447.2,396.5 L457.8,398.7 L468.3,397.7 L478.9,391.9 L489.5,382.6 L500.0,372.3 L510.6,363.6 L521.1,359.7 L531.7,358.7 L542.3,360.3 L552.8,363.4 L563.4,366.4 L573.9,367.9 L584.5,368.4 L595.1,366.1 L605.6,363.9 L616.2,361.8 L626.8,360.6 L637.3,362.8 L647.9,365.2 L658.4,367.3 L669.0,368.5"/>
<path d="M67.0,478.0 L77.6,477.0 L88.1,476.0 L98.7,474.2 L109.2,471.0 L119.8,467.8 L130.4,466.0 L140.9,464.0 L151.5,461.5 L162.1,458.3 L172.6,454.7 L183.2,446.6 L193.7,437.6 L204.3,427.7 L214.9,417.5 L225.4,409.9 L236.0,403.3 L246.5,399.2 L257.1,395.6 L267.7,392.3 L278.2,388.4 L288.8,384.5 L299.4,379.5 L309.9,374.6 L320.5,370.7 L331.0,369.0 L341.6,368.3 L352.2,368.1 L362.7,368.6 L373.3,369.3 L383.8,370.4 L394.4,371.3 L405.0,372.9 L415.5,376.7 L426.1,380.7 L436.6,384.9 L447.2,387.6 L457.8,388.0 L468.3,384.1 L478.9,376.1 L489.5,367.0 L500.0,359.3 L510.6,356.9 L521.1,357.4 L531.7,360.6 L542.3,365.2 L552.8,369.1 L563.4,371.4 L573.9,371.9 L584.5,369.6 L595.1,366.6 L605.6,363.6 L616.2,361.2 L626.8,362.0 L637.3,364.0 L647.9,366.0 L658.4,367.7 L669.0,369.3"/>
<path d="M67.0,481.0 L77.6,480.0 L88.1,478.9 L98.7,477.4 L109.2,474.3 L119.8,471.1 L130.4,469.0 L140.9,467.0 L151.5,464.8 L162.1,461.7 L172.6,458.7 L183.2,452.2 L193.7,444.5 L204.3,436.2 L214.9,427.7 L225.4,421.1 L236.0,415.6 L246.5,412.6 L257.1,409.8 L267.7,407.1 L278.2,403.9 L288.8,400.1 L299.4,395.3 L309.9,390.0 L320.5,384.9 L331.0,382.3 L341.6,380.2 L352.2,379.1 L362.7,378.7 L373.3,378.6 L383.8,379.2 L394.4,379.5 L405.0,380.0 L415.5,382.1 L426.1,383.9 L436.6,385.1 L447.2,384.6 L457.8,382.3 L468.3,376.7 L478.9,366.2 L489.5,354.4 L500.0,343.8 L510.6,339.1 L521.1,337.5 L531.7,339.8 L542.3,343.4 L552.8,346.8 L563.4,348.8 L573.9,348.6 L584.5,345.9 L595.1,342.0 L605.6,338.5 L616.2,335.9 L626.8,336.7 L637.3,340.1 L647.9,343.3 L658.4,346.4 L669.0,349.6"/>
<path d="M67.0,477.9 L77.6,477.6 L88.1,476.4 L98.7,475.3 L109.2,473.1 L119.8,470.0 L130.4,467.1 L140.9,465.7 L151.5,464.3 L162.1,462.4 L172.6,460.1 L183.2,457.1 L193.7,450.5 L204.3,443.0 L214.9,434.7 L225.4,426.0 L236.0,419.5 L246.5,413.4 L257.1,408.8 L267.7,404.0 L278.2,399.0 L288.8,393.0 L299.4,386.6 L309.9,379.0 L320.5,371.7 L331.0,365.9 L341.6,362.6 L352.2,361.4 L362.7,361.5 L373.3,363.1 L383.8,365.8 L394.4,369.7 L405.0,374.2 L415.5,380.5 L426.1,389.2 L436.6,397.6 L447.2,405.3 L457.8,410.6 L468.3,412.5 L478.9,409.9 L489.5,403.8 L500.0,396.6 L510.6,390.5 L521.1,388.4 L531.7,388.5 L542.3,390.8 L552.8,394.4 L563.4,397.9 L573.9,400.2 L584.5,401.6 L595.1,400.9 L605.6,400.1 L616.2,399.3 L626.8,398.9 L637.3,400.8 L647.9,402.8 L658.4,404.4 L669.0,405.2"/>
<path d="M67.0,480.0 L77.6,478.6 L88.1,477.3 L98.7,475.2 L109.2,471.9 L119.8,468.6 L130.4,466.9 L140.9,465.3 L151.5,463.4 L162.1,460.9 L172.6,458.5 L183.2,452.0 L193.7,445.0 L204.3,437.3 L214.9,429.5 L225.4,423.7 L236.0,418.7 L246.5,415.4 L257.1,412.2 L267.7,409.0 L278.2,405.1 L288.8,400.8 L299.4,395.6 L309.9,390.4 L320.5,386.0 L331.0,384.0 L341.6,383.2 L352.2,383.1 L362.7,383.9 L373.3,384.9 L383.8,386.1 L394.4,386.7 L405.0,387.2 L415.5,388.8 L426.1,389.6 L436.6,389.9 L447.2,388.5 L457.8,384.8 L468.3,377.0 L478.9,364.7 L489.5,350.8 L500.0,338.6 L510.6,332.6 L521.1,330.6 L531.7,332.7 L542.3,337.5 L552.8,342.5 L563.4,346.5 L573.9,349.2 L584.5,349.3 L595.1,349.1 L605.6,349.4 L616.2,350.3 L626.8,354.3 L637.3,359.2 L647.9,363.4 L658.4,366.5 L669.0,368.8"/>
<path d="M67.0,477.3 L77.6,476.3 L88.1,475.2 L98.7,473.2 L109.2,470.1 L119.8,467.2 L130.4,465.7 L140.9,464.0 L151.5,461.8 L162.1,458.9 L172.6,455.4 L183.2,447.8 L193.7,439.0 L204.3,429.3 L214.9,418.9 L225.4,410.8 L236.0,403.4 L246.5,397.9 L257.1,392.6 L267.7,387.5 L278.2,381.7 L288.8,376.1 L299.4,369.7 L309.9,364.1 L320.5,360.4 L331.0,359.6 L341.6,360.9 L352.2,363.0 L362.7,366.1 L373.3,369.2 L383.8,372.3 L394.4,374.1 L405.0,375.6 L415.5,377.7 L426.1,378.3 L436.6,378.2 L447.2,376.1 L457.8,370.9 L468.3,360.3 L478.9,344.9 L489.5,328.0 L500.0,313.1 L510.6,305.5 L521.1,302.7 L531.7,304.6 L542.3,309.8 L552.8,315.5 L563.4,320.0 L573.9,323.5 L584.5,323.7 L595.1,324.2 L605.6,325.1 L616.2,326.9 L626.8,332.5 L637.3,338.2 L647.9,342.9 L658.4,346.0 L669.0,347.8"/>
<path d="M67.0,481.5 L77.6,480.5 L88.1,479.5 L98.7,477.5 L109.2,475.0 L119.8,472.9 L130.4,471.9 L140.9,470.9 L151.5,469.4 L162.1,467.7 L172.6,464.9 L183.2,459.7 L193.7,453.6 L204.3,446.8 L214.9,439.8 L225.4,434.2 L236.0,429.1 L246.5,424.8 L257.1,420.3 L267.7,415.7 L278.2,410.2 L288.8,404.6 L299.4,398.4 L309.9,392.8 L320.5,389.1 L331.0,387.4 L341.6,388.0 L352.2,389.6 L362.7,392.1 L373.3,395.3 L383.8,398.8 L394.4,401.9 L405.0,405.6 L415.5,409.9 L426.1,413.1 L436.6,415.6 L447.2,416.5 L457.8,414.8 L468.3,408.6 L478.9,399.5 L489.5,389.3 L500.0,380.5 L510.6,375.8 L521.1,373.8 L531.7,374.2 L542.3,376.3 L552.8,378.6 L563.4,380.0 L573.9,380.8 L584.5,379.8 L595.1,379.3 L605.6,379.3 L616.2,380.5 L626.8,385.0 L637.3,389.1 L647.9,392.9 L658.4,395.8 L669.0,397.8"/>
<path d="M67.0,483.2 L77.6,482.2 L88.1,481.1 L98.7,479.5 L109.2,476.6 L119.8,473.5 L130.4,471.5 L140.9,469.7 L151.5,467.7 L162.1,465.2 L172.6,462.7 L183.2,457.2 L193.7,450.9 L204.3,444.1 L214.9,437.2 L225.4,431.9 L236.0,427.5 L246.5,425.0 L257.1,422.5 L267.7,419.9 L278.2,416.4 L288.8,412.3 L299.4,406.9 L309.9,401.1 L320.5,395.3 L331.0,392.0 L341.6,389.4 L352.2,388.1 L362.7,387.9 L373.3,388.4 L383.8,390.0 L394.4,391.9 L405.0,394.1 L415.5,398.2 L426.1,402.2 L436.6,405.9 L447.2,408.1 L457.8,408.6 L468.3,406.0 L478.9,399.0 L489.5,390.1 L500.0,381.3 L510.6,376.4 L521.1,373.4 L531.7,373.6 L542.3,374.8 L552.8,376.3 L563.4,377.2 L573.9,376.8 L584.5,375.0 L595.1,372.6 L605.6,371.2 L616.2,370.7 L626.8,373.1 L637.3,377.5 L647.9,381.7 L658.4,385.4 L669.0,388.8"/>
<path d="M67.0,486.6 L77.6,485.9 L88.1,485.3 L98.7,484.4 L109.2,482.6 L119.8,480.8 L130.4,479.8 L140.9,479.0 L151.5,478.0 L162.1,476.5 L172.6,475.0 L183.2,471.3 L193.7,466.8 L204.3,461.7 L214.9,456.2 L225.4,451.5 L236.0,447.1 L246.5,443.9 L257.1,440.6 L267.7,437.4 L278.2,433.7 L288.8,429.8 L299.4,425.4 L309.9,421.0 L320.5,417.2 L331.0,415.7 L341.6,415.0 L352.2,415.5 L362.7,416.7 L373.3,418.3 L383.8,420.1 L394.4,421.5 L405.0,422.4 L415.5,423.6 L426.1,423.6 L436.6,422.2 L447.2,419.0 L457.8,414.1 L468.3,406.6 L478.9,395.5 L489.5,383.0 L500.0,371.3 L510.6,364.6 L521.1,360.8 L531.7,361.0 L542.3,362.8 L552.8,364.9 L563.4,366.6 L573.9,366.6 L584.5,364.8 L595.1,362.1 L605.6,360.0 L616.2,358.6 L626.8,359.9 L637.3,363.2 L647.9,366.1 L658.4,368.7 L669.0,371.1"/>
<path d="M67.0,478.5 L77.6,478.6 L88.1,477.9 L98.7,476.7 L109.2,475.6 L119.8,472.7 L130.4,469.6 L140.9,467.5 L151.5,466.1 L162.1,464.7 L172.6,462.4 L183.2,460.1 L193.7,455.4 L204.3,448.8 L214.9,441.1 L225.4,432.8 L236.0,425.3 L246.5,419.0 L257.1,414.0 L267.7,409.6 L278.2,405.0 L288.8,400.1 L299.4,394.2 L309.9,387.7 L320.5,380.5 L331.0,373.8 L341.6,369.6 L352.2,366.7 L362.7,365.9 L373.3,365.9 L383.8,366.2 L394.4,367.2 L405.0,367.6 L415.5,367.0 L426.1,367.3 L436.6,367.5 L447.2,366.9 L457.8,365.6 L468.3,362.9 L478.9,357.9 L489.5,345.0 L500.0,329.7 L510.6,315.1 L521.1,305.4 L531.7,302.6 L542.3,304.8 L552.8,309.8 L563.4,316.1 L573.9,322.3 L584.5,325.5 L595.1,327.1 L605.6,326.4 L616.2,326.0 L626.8,325.8 L637.3,327.7 L647.9,332.9 L658.4,337.0 L669.0,340.4"/>
<path d="M67.0,483.9 L77.6,483.1 L88.1,482.3 L98.7,480.6 L109.2,478.4 L119.8,476.4 L130.4,475.3 L140.9,474.2 L151.5,472.8 L162.1,471.0 L172.6,468.5 L183.2,463.7 L193.7,458.1 L204.3,452.1 L214.9,445.9 L225.4,441.2 L236.0,437.0 L246.5,433.7 L257.1,430.4 L267.7,426.9 L278.2,422.7 L288.8,418.1 L299.4,412.9 L309.9,407.9 L320.5,404.1 L331.0,401.8 L341.6,401.0 L352.2,400.9 L362.7,401.5 L373.3,402.6 L383.8,403.8 L394.4,404.6 L405.0,405.8 L415.5,407.5 L426.1,408.1 L436.6,408.0 L447.2,406.6 L457.8,402.8 L468.3,394.9 L478.9,384.3 L489.5,373.3 L500.0,364.5 L510.6,361.0 L521.1,360.8 L531.7,363.4 L542.3,367.7 L552.8,372.0 L563.4,374.9 L573.9,376.9 L584.5,376.4 L595.1,376.0 L605.6,375.9 L616.2,376.5 L626.8,380.2 L637.3,383.6 L647.9,386.7 L658.4,388.7 L669.0,390.0"/>
<path d="M67.0,480.1 L77.6,479.7 L88.1,478.2 L98.7,476.7 L109.2,474.4 L119.8,470.8 L130.4,467.2 L140.9,465.2 L151.5,463.4 L162.1,461.4 L172.6,458.9 L183.2,456.5 L193.7,450.0 L204.3,443.0 L214.9,435.5 L225.4,427.7 L236.0,422.1 L246.5,417.0 L257.1,413.6 L267.7,410.0 L278.2,406.0 L288.8,401.0 L299.4,395.2 L309.9,388.0 L320.5,380.6 L331.0,374.0 L341.6,370.0 L352.2,367.6 L362.7,366.6 L373.3,367.2 L383.8,368.8 L394.4,371.4 L405.0,374.1 L415.5,377.7 L426.1,383.0 L436.6,387.9 L447.2,392.4 L457.8,394.8 L468.3,394.7 L478.9,390.5 L489.5,381.8 L500.0,371.5 L510.6,361.8 L521.1,356.8 L531.7,354.3 L542.3,354.7 L552.8,356.8 L563.4,358.8 L573.9,359.8 L584.5,359.4 L595.1,356.7 L605.6,353.8 L616.2,351.6 L626.8,350.5 L637.3,353.0 L647.9,357.2 L658.4,361.2 L669.0,364.8"/>
<path d="M67.0,482.6 L77.6,481.8 L88.1,480.8 L98.7,479.7 L109.2,477.4 L119.8,474.8 L130.4,473.0 L140.9,472.0 L151.5,471.0 L162.1,469.4 L172.6,467.7 L183.2,464.4 L193.7,459.4 L204.3,453.4 L214.9,447.0 L225.4,441.0 L236.0,435.8 L246.5,431.5 L257.1,427.6 L267.7,423.4 L278.2,418.9 L288.8,413.6 L299.4,407.8 L309.9,401.5 L320.5,395.8 L331.0,392.4 L341.6,390.3 L352.2,390.4 L362.7,391.4 L373.3,393.1 L383.8,395.4 L394.4,397.5 L405.0,398.8 L415.5,400.5 L426.1,401.9 L436.6,402.0 L447.2,401.1 L457.8,398.9 L468.3,394.9 L478.9,384.5 L489.5,371.9 L500.0,359.0 L510.6,348.8 L521.1,343.8 L531.7,342.3 L542.3,343.0 L552.8,345.1 L563.4,347.5 L573.9,347.8 L584.5,347.2 L595.1,344.8 L605.6,343.3 L616.2,342.5 L626.8,343.9 L637.3,349.3 L647.9,354.1 L658.4,358.7 L669.0,362.6"/>
<path d="M67.0,479.7 L77.6,479.1 L88.1,477.6 L98.7,476.0 L109.2,473.4 L119.8,469.7 L130.4,466.3 L140.9,464.2 L151.5,462.3 L162.1,459.9 L172.6,457.2 L183.2,453.9 L193.7,446.9 L204.3,439.2 L214.9,431.0 L225.4,422.9 L236.0,417.3 L246.5,412.5 L257.1,409.3 L267.7,406.0 L278.2,402.5 L288.8,397.9 L299.4,392.6 L309.9,386.2 L320.5,379.6 L331.0,374.2 L341.6,370.7 L352.2,368.8 L362.7,367.8 L373.3,367.9 L383.8,368.7 L394.4,370.2 L405.0,371.6 L415.5,374.0 L426.1,378.0 L436.6,381.4 L447.2,384.6 L457.8,386.1 L468.3,384.9 L478.9,378.8 L489.5,369.2 L500.0,358.7 L510.6,350.3 L521.1,347.4 L531.7,347.6 L542.3,350.6 L552.8,355.0 L563.4,358.9 L573.9,361.0 L584.5,361.6 L595.1,359.0 L605.6,356.2 L616.2,353.4 L626.8,351.3 L637.3,352.9 L647.9,354.9 L658.4,356.8 L669.0,358.0"/>
<path d="M67.0,487.3 L77.6,486.5 L88.1,485.6 L98.7,483.7 L109.2,481.6 L119.8,480.1 L130.4,479.0 L140.9,477.9 L151.5,476.2 L162.1,474.6 L172.6,471.5 L183.2,467.3 L193.7,462.4 L204.3,457.3 L214.9,452.9 L225.4,449.3 L236.0,446.8 L246.5,444.8 L257.1,442.8 L267.7,440.8 L278.2,438.3 L288.8,435.5 L299.4,432.4 L309.9,429.6 L320.5,428.3 L331.0,427.4 L341.6,427.7 L352.2,428.0 L362.7,428.4 L373.3,428.9 L383.8,428.6 L394.4,427.3 L405.0,425.6 L415.5,422.6 L426.1,417.9 L436.6,411.5 L447.2,403.9 L457.8,395.0 L468.3,380.8 L478.9,365.1 L489.5,350.3 L500.0,339.9 L510.6,335.5 L521.1,335.8 L531.7,338.8 L542.3,343.4 L552.8,348.1 L563.4,350.6 L573.9,352.0 L584.5,351.7 L595.1,351.8 L605.6,352.4 L616.2,354.7 L626.8,360.1 L637.3,364.4 L647.9,368.1 L658.4,370.9 L669.0,372.1"/>
<path d="M67.0,485.4 L77.6,484.6 L88.1,483.6 L98.7,482.5 L109.2,480.0 L119.8,477.5 L130.4,475.7 L140.9,474.4 L151.5,473.2 L162.1,471.4 L172.6,469.7 L183.2,466.2 L193.7,461.5 L204.3,456.1 L214.9,450.6 L225.4,445.9 L236.0,442.1 L246.5,439.4 L257.1,437.0 L267.7,434.5 L278.2,431.5 L288.8,427.9 L299.4,423.6 L309.9,418.7 L320.5,414.0 L331.0,410.9 L341.6,408.4 L352.2,407.4 L362.7,406.8 L373.3,406.6 L383.8,406.8 L394.4,406.5 L405.0,405.4 L415.5,404.6 L426.1,403.3 L436.6,400.9 L447.2,397.9 L457.8,394.2 L468.3,389.2 L478.9,378.8 L489.5,366.9 L500.0,355.9 L510.6,348.9 L521.1,346.7 L531.7,348.1 L542.3,351.2 L552.8,354.8 L563.4,358.0 L573.9,358.4 L584.5,357.3 L595.1,354.1 L605.6,351.1 L616.2,348.4 L626.8,347.8 L637.3,350.4 L647.9,352.5 L658.4,354.5 L669.0,356.3"/>
<path d="M67.0,487.8 L77.6,487.7 L88.1,487.0 L98.7,486.2 L109.2,485.2 L119.8,483.4 L130.4,481.6 L140.9,480.6 L151.5,479.7 L162.1,478.8 L172.6,477.4 L183.2,476.1 L193.7,472.9 L204.3,469.0 L214.9,464.7 L225.4,460.3 L236.0,456.8 L246.5,453.6 L257.1,451.7 L267.7,449.7 L278.2,447.7 L288.8,445.3 L299.4,442.6 L309.9,439.4 L320.5,436.0 L331.0,433.0 L341.6,431.5 L352.2,430.5 L362.7,430.1 L373.3,430.1 L383.8,430.1 L394.4,430.0 L405.0,429.1 L415.5,427.4 L426.1,425.9 L436.6,423.6 L447.2,421.0 L457.8,417.7 L468.3,413.5 L478.9,407.2 L489.5,397.4 L500.0,386.2 L510.6,376.1 L521.1,370.9 L531.7,368.6 L542.3,370.3 L552.8,373.8 L563.4,377.6 L573.9,381.0 L584.5,383.1 L595.1,383.5 L605.6,383.2 L616.2,383.2 L626.8,383.7 L637.3,386.3 L647.9,390.1 L658.4,393.3 L669.0,395.8"/>
<path d="M67.0,476.4 L77.6,476.1 L88.1,475.0 L98.7,473.8 L109.2,471.7 L119.8,468.5 L130.4,465.5 L140.9,464.1 L151.5,462.6 L162.1,460.7 L172.6,458.1 L183.2,454.9 L193.7,447.5 L204.3,439.1 L214.9,429.6 L225.4,419.4 L236.0,411.4 L246.5,403.8 L257.1,397.9 L267.7,392.0 L278.2,386.0 L288.8,379.3 L299.4,372.4 L309.9,364.7 L320.5,357.7 L331.0,352.8 L341.6,351.2 L352.2,352.0 L362.7,354.2 L373.3,358.0 L383.8,362.4 L394.4,367.5 L405.0,372.2 L415.5,377.7 L426.1,384.4 L436.6,390.3 L447.2,395.1 L457.8,397.4 L468.3,396.4 L478.9,390.2 L489.5,379.6 L500.0,367.3 L510.6,356.0 L521.1,349.7 L531.7,346.7 L542.3,346.9 L552.8,349.6 L563.4,352.6 L573.9,354.7 L584.5,356.0 L595.1,354.9 L605.6,354.2 L616.2,354.1 L626.8,355.1 L637.3,359.7 L647.9,364.8 L658.4,369.5 L669.0,373.0"/>
<path d="M67.0,476.9 L77.6,475.2 L88.1,473.4 L98.7,470.1 L109.2,466.2 L119.8,463.1 L130.4,461.3 L140.9,459.5 L151.5,457.3 L162.1,454.8 L172.6,450.7 L183.2,444.0 L193.7,436.2 L204.3,428.0 L214.9,420.2 L225.4,414.0 L236.0,408.8 L246.5,404.2 L257.1,399.2 L267.7,393.6 L278.2,386.6 L288.8,378.8 L299.4,370.0 L309.9,361.7 L320.5,355.9 L331.0,352.1 L341.6,351.7 L352.2,352.4 L362.7,354.4 L373.3,357.6 L383.8,361.1 L394.4,363.8 L405.0,367.2 L415.5,370.5 L426.1,371.8 L436.6,371.4 L447.2,368.9 L457.8,363.2 L468.3,349.9 L478.9,333.0 L489.5,315.2 L500.0,300.1 L510.6,292.3 L521.1,288.9 L531.7,289.2 L542.3,292.0 L552.8,295.4 L563.4,296.8 L573.9,297.4 L584.5,295.4 L595.1,294.7 L605.6,295.0 L616.2,297.7 L626.8,305.9 L637.3,313.1 L647.9,319.7 L658.4,324.7 L669.0,327.6"/>
<path d="M67.0,478.1 L77.6,477.5 L88.1,476.2 L98.7,474.8 L109.2,472.2 L119.8,468.8 L130.4,466.0 L140.9,464.3 L151.5,462.7 L162.1,460.6 L172.6,458.1 L183.2,454.6 L193.7,447.8 L204.3,440.1 L214.9,431.9 L225.4,423.9 L236.0,418.0 L246.5,413.0 L257.1,409.3 L267.7,405.6 L278.2,401.9 L288.8,397.1 L299.4,392.1 L309.9,386.1 L320.5,380.5 L331.0,376.5 L341.6,374.2 L352.2,373.8 L362.7,374.0 L373.3,374.9 L383.8,376.0 L394.4,377.0 L405.0,377.0 L415.5,377.4 L426.1,378.3 L436.6,378.3 L447.2,377.7 L457.8,375.9 L468.3,371.0 L478.9,360.2 L489.5,345.5 L500.0,330.0 L510.6,317.0 L521.1,311.1 L531.7,309.5 L542.3,311.7 L552.8,316.2 L563.4,320.8 L573.9,323.6 L584.5,325.3 L595.1,323.7 L605.6,322.5 L616.2,321.8 L626.8,322.3 L637.3,327.7 L647.9,332.7 L658.4,337.3 L669.0,340.8"/>
<path d="M67.0,483.3 L77.6,483.2 L88.1,482.4 L98.7,481.2 L109.2,480.0 L119.8,477.4 L130.4,474.5 L140.9,472.1 L151.5,470.5 L162.1,468.9 L172.6,466.9 L183.2,464.6 L193.7,461.0 L204.3,455.3 L214.9,448.7 L225.4,442.0 L236.0,435.8 L246.5,431.2 L257.1,427.7 L267.7,425.0 L278.2,422.4 L288.8,419.5 L299.4,415.8 L309.9,411.7 L320.5,406.9 L331.0,402.2 L341.6,399.0 L352.2,396.7 L362.7,396.2 L373.3,396.0 L383.8,396.4 L394.4,397.4 L405.0,398.6 L415.5,399.7 L426.1,402.1 L436.6,405.3 L447.2,407.8 L457.8,409.7 L468.3,410.1 L478.9,408.5 L489.5,401.6 L500.0,392.9 L510.6,384.2 L521.1,377.9 L531.7,376.5 L542.3,377.9 L552.8,381.2 L563.4,385.5 L573.9,389.6 L584.5,392.0 L595.1,393.3 L605.6,392.6 L616.2,391.9 L626.8,391.0 L637.3,390.9 L647.9,393.3 L658.4,394.9 L669.0,396.2"/>
<path d="M67.0,476.7 L77.6,475.2 L88.1,473.7 L98.7,470.3 L109.2,466.7 L119.8,464.0 L130.4,462.3 L140.9,460.6 L151.5,458.2 L162.1,455.7 L172.6,451.1 L183.2,444.2 L193.7,436.2 L204.3,427.9 L214.9,420.5 L225.4,414.6 L236.0,410.1 L246.5,406.3 L257.1,402.4 L267.7,397.9 L278.2,392.5 L288.8,386.2 L299.4,379.0 L309.9,372.2 L320.5,367.6 L331.0,364.2 L341.6,363.2 L352.2,362.8 L362.7,363.3 L373.3,364.8 L383.8,366.4 L394.4,367.9 L405.0,371.1 L415.5,375.0 L426.1,378.2 L436.6,380.5 L447.2,381.2 L457.8,379.7 L468.3,371.0 L478.9,360.4 L489.5,350.1 L500.0,343.2 L510.6,342.0 L521.1,344.3 L531.7,348.6 L542.3,353.8 L552.8,358.6 L563.4,360.8 L573.9,361.6 L584.5,360.1 L595.1,358.6 L605.6,357.0 L616.2,356.7 L626.8,359.4 L637.3,361.3 L647.9,362.7 L658.4,363.3 L669.0,362.6"/>
<path d="M67.0,481.3 L77.6,480.2 L88.1,479.0 L98.7,477.4 L109.2,474.3 L119.8,471.0 L130.4,469.0 L140.9,467.1 L151.5,465.0 L162.1,462.1 L172.6,459.2 L183.2,452.8 L193.7,445.3 L204.3,436.8 L214.9,428.0 L225.4,421.0 L236.0,414.9 L246.5,411.1 L257.1,407.6 L267.7,404.3 L278.2,400.7 L288.8,396.7 L299.4,392.1 L309.9,387.5 L320.5,383.5 L331.0,382.4 L341.6,382.2 L352.2,383.1 L362.7,384.7 L373.3,386.6 L383.8,388.9 L394.4,391.1 L405.0,393.5 L415.5,398.0 L426.1,402.6 L436.6,407.3 L447.2,410.5 L457.8,411.7 L468.3,409.4 L478.9,402.6 L489.5,393.8 L500.0,385.4 L510.6,381.2 L521.1,379.6 L531.7,381.6 L542.3,385.2 L552.8,389.2 L563.4,392.8 L573.9,395.1 L584.5,395.9 L595.1,396.0 L605.6,396.3 L616.2,396.9 L626.8,399.0 L637.3,402.2 L647.9,404.6 L658.4,406.2 L669.0,407.3"/>
<path d="M67.0,486.7 L77.6,486.1 L88.1,485.5 L98.7,484.8 L109.2,483.1 L119.8,481.3 L130.4,480.3 L140.9,479.5 L151.5,478.7 L162.1,477.4 L172.6,475.9 L183.2,472.8 L193.7,468.5 L204.3,463.6 L214.9,458.0 L225.4,453.1 L236.0,448.6 L246.5,445.1 L257.1,441.8 L267.7,438.6 L278.2,435.2 L288.8,431.6 L299.4,427.8 L309.9,423.9 L320.5,420.8 L331.0,419.7 L341.6,419.6 L352.2,420.6 L362.7,422.1 L373.3,423.6 L383.8,425.2 L394.4,425.8 L405.0,425.2 L415.5,424.2 L426.1,421.6 L436.6,417.3 L447.2,411.4 L457.8,404.3 L468.3,395.2 L478.9,381.2 L489.5,365.2 L500.0,350.1 L510.6,339.9 L521.1,334.7 L531.7,334.9 L542.3,337.8 L552.8,342.1 L563.4,346.8 L573.9,349.5 L584.5,351.0 L595.1,351.3 L605.6,352.1 L616.2,353.3 L626.8,356.5 L637.3,361.9 L647.9,366.0 L658.4,369.2 L669.0,371.3"/>
<path d="M67.0,481.9 L77.6,480.8 L88.1,479.6 L98.7,477.4 L109.2,474.4 L119.8,471.8 L130.4,470.2 L140.9,468.6 L151.5,466.5 L162.1,464.1 L172.6,460.7 L183.2,454.4 L193.7,447.2 L204.3,439.4 L214.9,431.7 L225.4,425.8 L236.0,420.7 L246.5,416.9 L257.1,413.1 L267.7,409.3 L278.2,404.7 L288.8,399.9 L299.4,394.4 L309.9,389.4 L320.5,386.1 L331.0,384.6 L341.6,385.0 L352.2,386.2 L362.7,388.2 L373.3,390.7 L383.8,393.4 L394.4,395.6 L405.0,398.4 L415.5,401.8 L426.1,404.1 L436.6,405.5 L447.2,405.4 L457.8,402.6 L468.3,395.1 L478.9,384.9 L489.5,374.2 L500.0,365.5 L510.6,362.0 L521.1,361.5 L531.7,363.5 L542.3,367.1 L552.8,370.6 L563.4,372.5 L573.9,373.5 L584.5,371.9 L595.1,370.5 L605.6,369.1 L616.2,368.6 L626.8,371.4 L637.3,374.0 L647.9,376.2 L658.4,377.5 L669.0,377.9"/>
<path d="M67.0,481.3 L77.6,481.2 L88.1,480.4 L98.7,479.0 L109.2,477.5 L119.8,474.5 L130.4,471.0 L140.9,468.2 L151.5,466.3 L162.1,464.5 L172.6,462.1 L183.2,459.6 L193.7,455.5 L204.3,449.2 L214.9,442.0 L225.4,434.7 L236.0,428.0 L246.5,423.1 L257.1,419.2 L267.7,416.1 L278.2,412.7 L288.8,408.8 L299.4,403.6 L309.9,397.7 L320.5,390.7 L331.0,383.9 L341.6,379.0 L352.2,375.4 L362.7,374.7 L373.3,375.2 L383.8,377.4 L394.4,381.4 L405.0,386.7 L415.5,392.5 L426.1,399.4 L436.6,406.4 L447.2,411.8 L457.8,415.7 L468.3,417.6 L478.9,417.2 L489.5,411.6 L500.0,403.9 L510.6,395.6 L521.1,388.8 L531.7,385.6 L542.3,384.6 L552.8,385.1 L563.4,386.5 L573.9,387.9 L584.5,387.8 L595.1,387.1 L605.6,384.9 L616.2,383.4 L626.8,382.4 L637.3,383.0 L647.9,387.0 L658.4,390.7 L669.0,394.3"/>
<path d="M67.0,486.0 L77.6,485.2 L88.1,483.7 L98.7,481.5 L109.2,479.4 L119.8,478.1 L130.4,476.8 L140.9,475.3 L151.5,473.4 L162.1,471.2 L172.6,466.5 L183.2,461.2 L193.7,455.6 L204.3,449.8 L214.9,445.7 L225.4,442.1 L236.0,439.7 L246.5,437.4 L257.1,435.2 L267.7,432.6 L278.2,429.8 L288.8,426.5 L299.4,423.5 L309.9,421.3 L320.5,420.4 L331.0,420.5 L341.6,421.0 L352.2,421.8 L362.7,422.6 L373.3,423.1 L383.8,422.6 L394.4,421.6 L405.0,420.4 L415.5,417.8 L426.1,414.4 L436.6,409.9 L447.2,403.8 L457.8,394.2 L468.3,381.5 L478.9,368.2 L489.5,356.9 L500.0,351.4 L510.6,349.5 L521.1,351.2 L531.7,355.2 L542.3,359.5 L552.8,362.7 L563.4,365.1 L573.9,364.9 L584.5,364.9 L595.1,365.3 L605.6,366.4 L616.2,370.7 L626.8,375.0 L637.3,378.8 L647.9,381.5 L658.4,383.4 L669.0,383.8"/>
<path d="M67.0,484.3 L77.6,483.5 L88.1,482.5 L98.7,481.4 L109.2,478.9 L119.8,476.2 L130.4,474.2 L140.9,472.7 L151.5,471.2 L162.1,469.2 L172.6,467.0 L183.2,463.2 L193.7,457.7 L204.3,451.1 L214.9,444.4 L225.4,438.2 L236.0,433.4 L246.5,429.8 L257.1,427.0 L267.7,424.2 L278.2,421.3 L288.8,417.9 L299.4,414.2 L309.9,410.0 L320.5,406.4 L331.0,404.5 L341.6,403.5 L352.2,404.2 L362.7,405.0 L373.3,406.0 L383.8,407.1 L394.4,407.3 L405.0,406.2 L415.5,404.4 L426.1,401.1 L436.6,394.9 L447.2,386.4 L457.8,375.9 L468.3,363.7 L478.9,344.0 L489.5,322.3 L500.0,301.4 L510.6,285.4 L521.1,278.1 L531.7,276.5 L542.3,278.7 L552.8,283.2 L563.4,288.0 L573.9,290.0 L584.5,290.5 L595.1,288.2 L605.6,286.7 L616.2,285.9 L626.8,287.7 L637.3,294.5 L647.9,300.4 L658.4,305.8 L669.0,310.2"/>
<path d="M67.0,480.1 L77.6,478.8 L88.1,477.5 L98.7,474.8 L109.2,471.6 L119.8,469.2 L130.4,467.6 L140.9,466.0 L151.5,463.8 L162.1,461.4 L172.6,457.3 L183.2,451.0 L193.7,443.7 L204.3,436.0 L214.9,428.9 L225.4,423.5 L236.0,419.3 L246.5,416.0 L257.1,412.8 L267.7,409.5 L278.2,405.4 L288.8,401.0 L299.4,396.0 L309.9,391.5 L320.5,388.9 L331.0,387.4 L341.6,387.9 L352.2,388.8 L362.7,390.1 L373.3,391.7 L383.8,392.9 L394.4,393.2 L405.0,393.5 L415.5,393.3 L426.1,390.8 L436.6,386.1 L447.2,379.0 L457.8,369.2 L468.3,352.2 L478.9,332.6 L489.5,313.4 L500.0,298.3 L510.6,291.4 L521.1,289.6 L531.7,291.6 L542.3,295.9 L552.8,300.4 L563.4,302.3 L573.9,302.9 L584.5,300.5 L595.1,298.8 L605.6,297.6 L616.2,298.5 L626.8,304.6 L637.3,309.8 L647.9,314.6 L658.4,318.4 L669.0,320.5"/>
<path d="M67.0,477.7 L77.6,477.6 L88.1,476.6 L98.7,475.0 L109.2,473.4 L119.8,469.8 L130.4,465.8 L140.9,462.7 L151.5,460.4 L162.1,458.1 L172.6,455.0 L183.2,451.7 L193.7,445.9 L204.3,437.6 L214.9,427.8 L225.4,417.7 L236.0,408.7 L246.5,401.7 L257.1,396.5 L267.7,392.5 L278.2,388.6 L288.8,384.6 L299.4,379.7 L309.9,374.4 L320.5,368.5 L331.0,363.3 L341.6,360.6 L352.2,359.2 L362.7,360.0 L373.3,361.4 L383.8,363.2 L394.4,365.6 L405.0,367.9 L415.5,369.8 L426.1,373.0 L436.6,376.6 L447.2,379.1 L457.8,380.1 L468.3,379.0 L478.9,375.2 L489.5,363.4 L500.0,349.1 L510.6,334.8 L521.1,324.1 L531.7,320.2 L542.3,320.7 L552.8,324.3 L563.4,329.5 L573.9,334.9 L584.5,338.0 L595.1,339.9 L605.6,339.7 L616.2,340.0 L626.8,340.6 L637.3,342.9 L647.9,348.6 L658.4,353.3 L669.0,357.3"/>
<path d="M67.0,482.8 L77.6,482.1 L88.1,480.9 L98.7,479.8 L109.2,477.5 L119.8,474.8 L130.4,472.8 L140.9,471.7 L151.5,470.7 L162.1,469.2 L172.6,467.5 L183.2,464.6 L193.7,459.7 L204.3,453.8 L214.9,447.5 L225.4,441.3 L236.0,436.2 L246.5,431.7 L257.1,427.7 L267.7,423.4 L278.2,418.8 L288.8,413.4 L299.4,407.6 L309.9,401.3 L320.5,395.6 L331.0,392.0 L341.6,390.0 L352.2,390.6 L362.7,392.0 L373.3,394.3 L383.8,397.4 L394.4,400.5 L405.0,403.0 L415.5,406.0 L426.1,408.9 L436.6,410.2 L447.2,410.2 L457.8,408.5 L468.3,404.2 L478.9,394.4 L489.5,381.9 L500.0,368.9 L510.6,357.9 L521.1,352.3 L531.7,350.1 L542.3,350.8 L552.8,353.4 L563.4,356.6 L573.9,358.4 L584.5,359.6 L595.1,359.0 L605.6,359.2 L616.2,359.9 L626.8,362.0 L637.3,367.7 L647.9,372.5 L658.4,376.6 L669.0,379.6"/>
<path d="M67.0,477.9 L77.6,476.8 L88.1,474.8 L98.7,471.8 L109.2,469.0 L119.8,467.5 L130.4,466.0 L140.9,464.2 L151.5,461.8 L162.1,459.0 L172.6,452.4 L183.2,445.0 L193.7,436.8 L204.3,428.2 L214.9,421.6 L225.4,415.4 L236.0,410.8 L246.5,406.0 L257.1,401.2 L267.7,395.4 L278.2,389.2 L288.8,382.0 L299.4,374.9 L309.9,369.2 L320.5,366.1 L331.0,364.8 L341.6,364.6 L352.2,365.7 L362.7,367.4 L373.3,369.7 L383.8,371.4 L394.4,373.6 L405.0,377.0 L415.5,379.2 L426.1,380.7 L436.6,380.0 L447.2,376.5 L457.8,368.3 L468.3,355.8 L478.9,342.4 L489.5,331.1 L500.0,326.5 L510.6,325.9 L521.1,329.1 L531.7,334.6 L542.3,340.0 L552.8,343.9 L563.4,346.4 L573.9,345.9 L584.5,345.0 L595.1,344.3 L605.6,344.3 L616.2,347.7 L626.8,351.5 L637.3,354.6 L647.9,356.6 L658.4,357.8 L669.0,357.1"/>
<path d="M67.0,481.2 L77.6,480.4 L88.1,479.6 L98.7,477.8 L109.2,475.3 L119.8,472.8 L130.4,471.3 L140.9,469.7 L151.5,467.6 L162.1,464.9 L172.6,461.5 L183.2,454.8 L193.7,447.1 L204.3,438.7 L214.9,430.2 L225.4,423.9 L236.0,418.5 L246.5,415.0 L257.1,411.8 L267.7,409.0 L278.2,405.6 L288.8,402.2 L299.4,398.1 L309.9,394.2 L320.5,391.4 L331.0,390.1 L341.6,390.0 L352.2,390.1 L362.7,390.6 L373.3,391.2 L383.8,391.9 L394.4,392.0 L405.0,392.8 L415.5,394.7 L426.1,396.2 L436.6,397.5 L447.2,397.6 L457.8,395.5 L468.3,389.2 L478.9,380.0 L489.5,370.4 L500.0,362.9 L510.6,360.9 L521.1,361.7 L531.7,365.1 L542.3,369.7 L552.8,373.6 L563.4,375.7 L573.9,376.3 L584.5,373.9 L595.1,371.0 L605.6,368.2 L616.2,366.0 L626.8,367.2 L637.3,368.9 L647.9,370.7 L658.4,372.1 L669.0,373.3"/>
<path d="M67.0,485.3 L77.6,484.4 L88.1,483.5 L98.7,481.4 L109.2,479.1 L119.8,477.4 L130.4,476.2 L140.9,475.0 L151.5,473.3 L162.1,471.5 L172.6,468.2 L183.2,463.6 L193.7,458.1 L204.3,452.4 L214.9,447.3 L225.4,443.2 L236.0,440.2 L246.5,437.8 L257.1,435.4 L267.7,432.9 L278.2,429.9 L288.8,426.7 L299.4,423.1 L309.9,419.9 L320.5,418.2 L331.0,417.3 L341.6,417.8 L352.2,418.6 L362.7,419.5 L373.3,420.6 L383.8,421.1 L394.4,420.6 L405.0,419.9 L415.5,417.8 L426.1,413.1 L436.6,405.6 L447.2,395.4 L457.8,382.8 L468.3,363.2 L478.9,342.0 L489.5,321.8 L500.0,306.4 L510.6,299.2 L521.1,297.3 L531.7,299.0 L542.3,302.8 L552.8,306.8 L563.4,308.2 L573.9,308.1 L584.5,305.6 L595.1,303.6 L605.6,302.3 L616.2,303.3 L626.8,309.0 L637.3,313.8 L647.9,318.2 L658.4,321.8 L669.0,323.6"/>
<path d="M67.0,483.5 L77.6,482.4 L88.1,481.2 L98.7,479.5 L109.2,476.7 L119.8,473.8 L130.4,472.2 L140.9,470.6 L151.5,468.8 L162.1,466.5 L172.6,464.2 L183.2,458.5 L193.7,452.2 L204.3,445.2 L214.9,438.0 L225.4,432.5 L236.0,427.7 L246.5,424.7 L257.1,421.8 L267.7,419.0 L278.2,415.7 L288.8,412.2 L299.4,408.0 L309.9,403.9 L320.5,400.6 L331.0,399.5 L341.6,399.4 L352.2,400.0 L362.7,401.5 L373.3,403.0 L383.8,404.8 L394.4,406.2 L405.0,407.6 L415.5,410.0 L426.1,411.9 L436.6,413.3 L447.2,413.0 L457.8,410.9 L468.3,405.4 L478.9,395.9 L489.5,385.0 L500.0,374.8 L510.6,369.5 L521.1,367.0 L531.7,368.0 L542.3,371.0 L552.8,374.4 L563.4,377.2 L573.9,378.9 L584.5,378.8 L595.1,378.3 L605.6,378.3 L616.2,378.9 L626.8,382.0 L637.3,386.1 L647.9,389.7 L658.4,392.5 L669.0,394.8"/>
<path d="M67.0,479.0 L77.6,477.7 L88.1,476.4 L98.7,474.2 L109.2,470.7 L119.8,467.2 L130.4,465.1 L140.9,463.1 L151.5,460.6 L162.1,457.5 L172.6,454.3 L183.2,446.5 L193.7,437.8 L204.3,428.2 L214.9,418.3 L225.4,410.6 L236.0,403.7 L246.5,399.1 L257.1,394.7 L267.7,390.4 L278.2,385.5 L288.8,380.5 L299.4,374.5 L309.9,369.0 L320.5,364.8 L331.0,363.7 L341.6,364.1 L352.2,365.6 L362.7,368.1 L373.3,370.6 L383.8,373.1 L394.4,374.6 L405.0,375.4 L415.5,376.7 L426.1,376.4 L436.6,375.3 L447.2,372.0 L457.8,366.3 L468.3,355.7 L478.9,339.7 L489.5,321.8 L500.0,305.4 L510.6,296.3 L521.1,291.7 L531.7,292.2 L542.3,295.9 L552.8,300.1 L563.4,303.1 L573.9,304.6 L584.5,303.0 L595.1,301.1 L605.6,300.0 L616.2,300.2 L626.8,304.9 L637.3,311.1 L647.9,316.7 L658.4,321.2 L669.0,325.1"/>
<path d="M67.0,484.3 L77.6,484.3 L88.1,483.5 L98.7,482.8 L109.2,481.8 L119.8,479.7 L130.4,477.7 L140.9,476.6 L151.5,475.7 L162.1,474.7 L172.6,473.1 L183.2,471.4 L193.7,467.3 L204.3,462.2 L214.9,456.1 L225.4,449.5 L236.0,443.7 L246.5,438.3 L257.1,434.3 L267.7,430.4 L278.2,426.6 L288.8,422.6 L299.4,418.4 L309.9,413.9 L320.5,409.5 L331.0,406.1 L341.6,405.2 L352.2,405.3 L362.7,406.6 L373.3,408.3 L383.8,409.9 L394.4,411.2 L405.0,411.0 L415.5,409.1 L426.1,406.7 L436.6,402.4 L447.2,396.7 L457.8,389.6 L468.3,381.2 L478.9,370.3 L489.5,353.8 L500.0,335.4 L510.6,318.0 L521.1,307.9 L531.7,302.9 L542.3,304.7 L552.8,309.5 L563.4,315.6 L573.9,321.6 L584.5,325.6 L595.1,327.5 L605.6,328.1 L616.2,329.1 L626.8,330.3 L637.3,333.9 L647.9,339.2 L658.4,343.1 L669.0,345.5"/>
<path d="M67.0,478.6 L77.6,477.2 L88.1,475.8 L98.7,472.4 L109.2,468.9 L119.8,466.4 L130.4,464.6 L140.9,462.7 L151.5,460.0 L162.1,457.2 L172.6,451.8 L183.2,444.4 L193.7,435.9 L204.3,427.0 L214.9,419.2 L225.4,412.7 L236.0,408.1 L246.5,404.2 L257.1,400.3 L267.7,396.3 L278.2,391.6 L288.8,386.4 L299.4,380.8 L309.9,376.0 L320.5,373.9 L331.0,373.0 L341.6,374.2 L352.2,376.0 L362.7,378.3 L373.3,381.2 L383.8,383.8 L394.4,385.8 L405.0,389.0 L415.5,391.8 L426.1,393.5 L436.6,393.4 L447.2,391.2 L457.8,386.3 L468.3,374.6 L478.9,360.5 L489.5,346.7 L500.0,336.8 L510.6,332.0 L521.1,331.7 L531.7,333.7 L542.3,336.8 L552.8,340.0 L563.4,340.6 L573.9,339.9 L584.5,337.3 L595.1,335.1 L605.6,333.4 L616.2,334.0 L626.8,338.1 L637.3,341.4 L647.9,344.4 L658.4,346.7 L669.0,347.4"/>
<path d="M67.0,138.8 L77.6,139.1 L88.1,139.5 L98.7,140.2 L109.2,141.2 L119.8,143.4 L130.4,148.8 L140.9,160.4 L151.5,190.0 L162.1,239.4 L172.6,290.6 L183.2,349.0 L193.7,400.1 L204.3,435.3 L214.9,455.2 L225.4,469.0 L236.0,478.4 L246.5,484.3 L257.1,487.8 L267.7,490.1 L278.2,492.1 L288.8,494.0 L299.4,494.8 L309.9,495.5 L320.5,495.4 L331.0,494.5 L341.6,494.7 L352.2,494.7 L362.7,492.9 L373.3,493.4 L383.8,495.6 L394.4,495.5 L405.0,492.9 L415.5,495.1 L426.1,493.3 L436.6,493.1 L447.2,493.0 L457.8,490.6 L468.3,487.1 L478.9,481.4 L489.5,473.4 L500.0,463.0 L510.6,449.3 L521.1,431.4 L531.7,408.3 L542.3,383.4 L552.8,347.9 L563.4,311.2 L573.9,285.1 L584.5,269.9 L595.1,278.2 L605.6,297.4 L616.2,322.6 L626.8,355.4 L637.3,379.1 L647.9,393.4 L658.4,400.6 L669.0,403.4"/>
<path d="M67.0,145.4 L77.6,145.7 L88.1,146.0 L98.7,146.6 L109.2,147.3 L119.8,121.9 L130.4,126.1 L140.9,160.1 L151.5,179.7 L162.1,226.2 L172.6,271.0 L183.2,326.9 L193.7,382.5 L204.3,424.3 L214.9,449.1 L225.4,464.2 L236.0,475.1 L246.5,482.1 L257.1,486.6 L267.7,489.4 L278.2,491.3 L288.8,493.3 L299.4,494.5 L309.9,494.6 L320.5,494.5 L331.0,496.1 L341.6,496.1 L352.2,496.1 L362.7,496.2 L373.3,496.0 L383.8,496.2 L394.4,496.3 L405.0,495.1 L415.5,494.7 L426.1,496.4 L436.6,495.3 L447.2,494.0 L457.8,491.6 L468.3,487.9 L478.9,483.0 L489.5,476.9 L500.0,468.8 L510.6,458.9 L521.1,446.2 L531.7,431.7 L542.3,414.8 L552.8,399.5 L563.4,389.5 L573.9,382.3 L584.5,384.2 L595.1,394.0 L605.6,407.2 L616.2,424.1 L626.8,436.8 L637.3,444.5 L647.9,448.4 L658.4,449.8 L669.0,450.0"/>
<path d="M67.0,396.9 L77.6,336.4 L88.1,240.0 L98.7,171.8 L109.2,146.8 L119.8,141.2 L130.4,143.5 L140.9,150.9 L151.5,173.1 L162.1,221.4 L172.6,268.4 L183.2,326.7 L193.7,382.5 L204.3,424.3 L214.9,448.8 L225.4,464.1 L236.0,475.1 L246.5,482.1 L257.1,486.5 L267.7,487.5 L278.2,487.3 L288.8,485.9 L299.4,485.5 L309.9,486.8 L320.5,488.0 L331.0,488.0 L341.6,487.4 L352.2,485.7 L362.7,486.9 L373.3,487.3 L383.8,488.0 L394.4,486.3 L405.0,486.9 L415.5,487.3 L426.1,487.1 L436.6,485.4 L447.2,483.7 L457.8,476.7 L468.3,467.4 L478.9,455.4 L489.5,439.8 L500.0,419.8 L510.6,399.0 L521.1,370.4 L531.7,342.3 L542.3,321.6 L552.8,307.3 L563.4,298.0 L573.9,294.0 L584.5,297.1 L595.1,306.3 L605.6,322.0 L616.2,343.8 L626.8,373.0 L637.3,392.8 L647.9,404.8 L658.4,410.9 L669.0,413.4"/>
<path d="M67.0,339.7 L77.6,335.6 L88.1,320.7 L98.7,278.6 L109.2,212.1 L119.8,166.2 L130.4,152.7 L140.9,155.8 L151.5,178.4 L162.1,226.6 L172.6,274.2 L183.2,332.3 L193.7,386.7 L204.3,427.1 L214.9,450.4 L225.4,465.3 L236.0,475.9 L246.5,482.6 L257.1,486.8 L267.7,489.5 L278.2,491.5 L288.8,493.5 L299.4,494.5 L309.9,495.2 L320.5,493.2 L331.0,496.0 L341.6,495.5 L352.2,494.8 L362.7,495.6 L373.3,495.1 L383.8,495.6 L394.4,495.0 L405.0,494.4 L415.5,495.1 L426.1,492.8 L436.6,490.5 L447.2,486.6 L457.8,480.6 L468.3,472.4 L478.9,462.0 L489.5,448.2 L500.0,430.8 L510.6,408.2 L521.1,384.5 L531.7,354.5 L542.3,326.8 L552.8,308.2 L563.4,292.8 L573.9,284.9 L584.5,289.1 L595.1,302.3 L605.6,321.2 L616.2,347.6 L626.8,376.7 L637.3,395.5 L647.9,403.9 L658.4,408.2 L669.0,409.8"/>
<path d="M67.0,385.3 L77.6,383.5 L88.1,370.9 L98.7,306.8 L109.2,197.1 L119.8,156.4 L130.4,154.9 L140.9,166.1 L151.5,197.5 L162.1,245.4 L172.6,296.7 L183.2,354.5 L193.7,404.1 L204.3,437.5 L214.9,456.8 L225.4,470.0 L236.0,479.1 L246.5,484.8 L257.1,488.2 L267.7,490.3 L278.2,492.3 L288.8,494.2 L299.4,494.8 L309.9,495.5 L320.5,496.1 L331.0,496.1 L341.6,496.1 L352.2,495.6 L362.7,496.1 L373.3,495.7 L383.8,495.9 L394.4,495.7 L405.0,495.6 L415.5,494.2 L426.1,492.0 L436.6,489.5 L447.2,485.0 L457.8,478.2 L468.3,469.3 L478.9,457.8 L489.5,443.3 L500.0,424.5 L510.6,403.1 L521.1,376.3 L531.7,348.2 L542.3,325.3 L552.8,311.6 L563.4,301.0 L573.9,295.7 L584.5,296.3 L595.1,301.8 L605.6,314.1 L616.2,331.9 L626.8,357.1 L637.3,383.6 L647.9,401.2 L658.4,408.8 L669.0,412.5"/>
<path d="M67.0,140.4 L77.6,140.7 L88.1,141.1 L98.7,141.8 L109.2,142.8 L119.8,120.4 L130.4,129.8 L140.9,161.1 L151.5,189.6 L162.1,238.9 L172.6,289.4 L183.2,347.4 L193.7,398.8 L204.3,434.7 L214.9,454.8 L225.4,468.6 L236.0,478.3 L246.5,484.1 L257.1,487.7 L267.7,487.8 L278.2,488.6 L288.8,489.3 L299.4,489.5 L309.9,490.2 L320.5,490.2 L331.0,489.1 L341.6,490.5 L352.2,488.4 L362.7,490.3 L373.3,490.7 L383.8,488.4 L394.4,489.9 L405.0,489.2 L415.5,490.2 L426.1,492.2 L436.6,489.2 L447.2,491.2 L457.8,488.6 L468.3,485.3 L478.9,479.7 L489.5,472.4 L500.0,462.8 L510.6,450.6 L521.1,438.0 L531.7,420.7 L542.3,404.0 L552.8,391.9 L563.4,382.4 L573.9,377.1 L584.5,378.0 L595.1,385.3 L605.6,396.0 L616.2,410.9 L626.8,428.2 L637.3,439.0 L647.9,444.2 L658.4,446.9 L669.0,447.9"/>
<path d="M67.0,303.4 L77.6,294.7 L88.1,272.5 L98.7,230.6 L109.2,184.4 L119.8,156.8 L130.4,148.7 L140.9,152.6 L151.5,174.6 L162.1,223.2 L172.6,271.0 L183.2,329.7 L193.7,384.7 L204.3,425.8 L214.9,449.6 L225.4,464.7 L236.0,475.5 L246.5,482.3 L257.1,486.7 L267.7,486.9 L278.2,486.8 L288.8,488.1 L299.4,487.8 L309.9,491.3 L320.5,488.7 L331.0,486.1 L341.6,490.0 L352.2,488.6 L362.7,487.8 L373.3,487.4 L383.8,486.3 L394.4,490.0 L405.0,488.0 L415.5,487.1 L426.1,489.5 L436.6,488.1 L447.2,485.9 L457.8,479.6 L468.3,471.0 L478.9,459.9 L489.5,445.5 L500.0,427.4 L510.6,403.9 L521.1,378.9 L531.7,348.2 L542.3,320.2 L552.8,302.0 L563.4,286.9 L573.9,280.2 L584.5,279.0 L595.1,285.2 L605.6,299.3 L616.2,319.3 L626.8,347.3 L637.3,375.2 L647.9,393.5 L658.4,401.8 L669.0,405.4"/>
<path d="M67.0,140.0 L77.6,140.3 L88.1,140.7 L98.7,141.3 L109.2,142.1 L119.8,120.1 L130.4,124.9 L140.9,156.9 L151.5,182.4 L162.1,230.8 L172.6,279.0 L183.2,336.8 L193.7,390.2 L204.3,429.5 L214.9,451.7 L225.4,466.3 L236.0,476.6 L246.5,483.0 L257.1,487.1 L267.7,489.7 L278.2,491.6 L288.8,493.7 L299.4,494.6 L309.9,495.3 L320.5,495.5 L331.0,496.0 L341.6,496.1 L352.2,495.7 L362.7,495.8 L373.3,495.7 L383.8,494.8 L394.4,495.4 L405.0,495.1 L415.5,492.7 L426.1,490.3 L436.6,486.5 L447.2,480.4 L457.8,472.1 L468.3,461.4 L478.9,447.3 L489.5,429.4 L500.0,406.1 L510.6,382.1 L521.1,350.9 L531.7,321.8 L542.3,302.0 L552.8,286.5 L563.4,278.8 L573.9,276.5 L584.5,279.9 L595.1,289.2 L605.6,305.7 L616.2,328.9 L626.8,360.1 L637.3,382.4 L647.9,396.1 L658.4,403.1 L669.0,405.7"/>
<path d="M67.0,423.5 L77.6,423.1 L88.1,421.5 L98.7,415.3 L109.2,392.9 L119.8,330.7 L130.4,237.5 L140.9,180.8 L151.5,175.3 L162.1,224.9 L172.6,274.4 L183.2,333.6 L193.7,388.1 L204.3,428.1 L214.9,450.7 L225.4,465.6 L236.0,476.2 L246.5,482.7 L257.1,486.9 L267.7,489.5 L278.2,491.5 L288.8,493.6 L299.4,494.5 L309.9,495.2 L320.5,495.9 L331.0,496.0 L341.6,496.0 L352.2,496.0 L362.7,494.5 L373.3,496.1 L383.8,496.1 L394.4,496.0 L405.0,495.8 L415.5,495.5 L426.1,493.4 L436.6,491.4 L447.2,487.9 L457.8,482.5 L468.3,475.2 L478.9,465.8 L489.5,453.4 L500.0,437.6 L510.6,417.1 L521.1,395.9 L531.7,368.7 L542.3,343.3 L552.8,326.2 L563.4,312.0 L573.9,305.3 L584.5,305.7 L595.1,313.7 L605.6,329.1 L616.2,349.7 L626.8,377.1 L637.3,396.9 L647.9,409.0 L658.4,415.1 L669.0,417.5"/>
<path d="M67.0,137.3 L77.6,137.7 L88.1,138.1 L98.7,138.8 L109.2,139.8 L119.8,127.3 L130.4,134.1 L140.9,159.6 L151.5,190.2 L162.1,239.5 L172.6,291.2 L183.2,349.9 L193.7,400.8 L204.3,435.6 L214.9,455.5 L225.4,469.2 L236.0,478.5 L246.5,484.4 L257.1,487.9 L267.7,490.1 L278.2,492.1 L288.8,492.6 L299.4,493.4 L309.9,490.2 L320.5,492.7 L331.0,493.4 L341.6,490.7 L352.2,491.8 L362.7,492.9 L373.3,491.2 L383.8,492.3 L394.4,491.8 L405.0,492.2 L415.5,493.6 L426.1,491.5 L436.6,492.3 L447.2,491.0 L457.8,487.5 L468.3,482.0 L478.9,474.4 L489.5,464.5 L500.0,451.4 L510.6,434.6 L521.1,412.9 L531.7,390.3 L542.3,359.7 L552.8,329.9 L563.4,308.4 L573.9,291.6 L584.5,287.4 L595.1,297.4 L605.6,316.8 L616.2,341.9 L626.8,373.6 L637.3,392.5 L647.9,402.9 L658.4,408.1 L669.0,410.2"/>
<path d="M67.0,255.2 L77.6,253.4 L88.1,247.0 L98.7,227.6 L109.2,191.9 L119.8,162.6 L130.4,153.9 L140.9,158.5 L151.5,182.4 L162.1,230.6 L172.6,278.4 L183.2,336.1 L193.7,389.6 L204.3,429.0 L214.9,451.5 L225.4,466.1 L236.0,476.5 L246.5,483.0 L257.1,487.1 L267.7,489.6 L278.2,491.4 L288.8,490.9 L299.4,492.5 L309.9,493.2 L320.5,492.9 L331.0,489.1 L341.6,492.8 L352.2,490.3 L362.7,489.2 L373.3,491.3 L383.8,489.0 L394.4,488.8 L405.0,489.8 L415.5,488.2 L426.1,490.1 L436.6,490.1 L447.2,485.9 L457.8,479.5 L468.3,470.9 L478.9,459.9 L489.5,445.5 L500.0,427.4 L510.6,403.9 L521.1,378.7 L531.7,347.8 L542.3,319.4 L552.8,300.7 L563.4,285.3 L573.9,277.4 L584.5,282.0 L595.1,295.6 L605.6,315.2 L616.2,342.4 L626.8,372.5 L637.3,392.0 L647.9,400.6 L658.4,405.0 L669.0,406.7"/>
<path d="M67.0,334.2 L77.6,298.3 L88.1,210.9 L98.7,146.7 L109.2,129.7 L119.8,128.1 L130.4,131.4 L140.9,139.0 L151.5,158.3 L162.1,207.3 L172.6,254.3 L183.2,313.0 L193.7,372.9 L204.3,418.1 L214.9,445.0 L225.4,461.4 L236.0,473.1 L246.5,480.8 L257.1,485.7 L267.7,488.2 L278.2,490.6 L288.8,489.9 L299.4,490.5 L309.9,489.2 L320.5,489.9 L331.0,490.1 L341.6,490.8 L352.2,490.2 L362.7,489.2 L373.3,492.7 L383.8,490.6 L394.4,490.9 L405.0,490.8 L415.5,492.6 L426.1,489.7 L436.6,491.4 L447.2,490.7 L457.8,491.0 L468.3,487.3 L478.9,481.6 L489.5,473.9 L500.0,464.0 L510.6,450.9 L521.1,434.3 L531.7,412.5 L542.3,388.5 L552.8,356.6 L563.4,325.4 L573.9,303.3 L584.5,296.9 L595.1,309.6 L605.6,331.0 L616.2,358.7 L626.8,385.3 L637.3,402.2 L647.9,409.8 L658.4,413.1 L669.0,414.2"/>
<path d="M67.0,142.1 L77.6,142.4 L88.1,142.8 L98.7,143.4 L109.2,144.1 L119.8,145.8 L130.4,150.2 L140.9,158.3 L151.5,182.9 L162.1,230.8 L172.6,278.2 L183.2,335.7 L193.7,389.1 L204.3,428.7 L214.9,451.4 L225.4,466.0 L236.0,476.4 L246.5,482.9 L257.1,487.1 L267.7,487.3 L278.2,489.5 L288.8,486.4 L299.4,486.5 L309.9,487.9 L320.5,487.5 L331.0,487.1 L341.6,485.8 L352.2,487.0 L362.7,487.4 L373.3,488.0 L383.8,489.1 L394.4,488.1 L405.0,487.4 L415.5,487.7 L426.1,487.4 L436.6,486.7 L447.2,487.0 L457.8,487.2 L468.3,486.8 L478.9,483.2 L489.5,476.8 L500.0,468.3 L510.6,457.3 L521.1,443.3 L531.7,428.8 L542.3,409.0 L552.8,389.8 L563.4,376.0 L573.9,364.8 L584.5,359.3 L595.1,360.9 L605.6,368.9 L616.2,380.5 L626.8,397.2 L637.3,417.3 L647.9,429.6 L658.4,436.1 L669.0,439.3"/>
<path d="M67.0,134.9 L77.6,135.1 L88.1,135.5 L98.7,136.0 L109.2,136.7 L119.8,138.3 L130.4,141.9 L140.9,149.3 L151.5,167.2 L162.1,214.2 L172.6,259.6 L183.2,315.9 L193.7,374.7 L204.3,419.2 L214.9,445.8 L225.4,462.1 L236.0,473.5 L246.5,481.1 L257.1,486.0 L267.7,489.0 L278.2,490.0 L288.8,489.7 L299.4,489.7 L309.9,489.9 L320.5,494.3 L331.0,491.8 L341.6,491.0 L352.2,490.5 L362.7,492.4 L373.3,489.2 L383.8,490.4 L394.4,491.4 L405.0,490.5 L415.5,491.1 L426.1,491.5 L436.6,490.1 L447.2,488.4 L457.8,483.4 L468.3,476.3 L478.9,467.1 L489.5,454.9 L500.0,439.1 L510.6,418.9 L521.1,398.0 L531.7,369.6 L542.3,342.0 L552.8,322.0 L563.4,306.6 L573.9,298.0 L584.5,298.6 L595.1,309.4 L605.6,326.5 L616.2,349.9 L626.8,379.8 L637.3,397.6 L647.9,407.5 L658.4,412.6 L669.0,414.5"/>
<path d="M67.0,259.0 L77.6,258.8 L88.1,257.4 L98.7,248.6 L109.2,211.8 L119.8,160.7 L130.4,146.5 L140.9,155.1 L151.5,185.3 L162.1,235.4 L172.6,287.7 L183.2,347.2 L193.7,399.0 L204.3,434.5 L214.9,454.7 L225.4,468.6 L236.0,478.2 L246.5,484.1 L257.1,487.5 L267.7,486.2 L278.2,486.2 L288.8,486.0 L299.4,487.0 L309.9,487.6 L320.5,489.2 L331.0,486.7 L341.6,486.5 L352.2,487.8 L362.7,486.5 L373.3,486.0 L383.8,487.3 L394.4,486.2 L405.0,487.0 L415.5,489.2 L426.1,487.9 L436.6,487.8 L447.2,486.8 L457.8,483.6 L468.3,476.6 L478.9,467.2 L489.5,455.1 L500.0,439.4 L510.6,419.3 L521.1,398.2 L531.7,369.4 L542.3,340.9 L552.8,319.9 L563.4,305.0 L573.9,295.4 L584.5,293.2 L595.1,300.0 L605.6,314.9 L616.2,335.2 L626.8,362.8 L637.3,386.6 L647.9,401.8 L658.4,409.5 L669.0,411.9"/>
<path d="M67.0,401.0 L77.6,387.8 L88.1,353.1 L98.7,286.6 L109.2,212.3 L119.8,167.2 L130.4,152.0 L140.9,153.4 L151.5,174.4 L162.1,223.1 L172.6,271.0 L183.2,329.7 L193.7,384.7 L204.3,425.9 L214.9,449.6 L225.4,464.7 L236.0,475.5 L246.5,482.3 L257.1,486.3 L267.7,488.5 L278.2,489.0 L288.8,487.4 L299.4,487.6 L309.9,490.2 L320.5,487.9 L331.0,489.6 L341.6,489.0 L352.2,487.3 L362.7,489.0 L373.3,487.7 L383.8,488.5 L394.4,486.0 L405.0,488.2 L415.5,489.4 L426.1,489.3 L436.6,489.1 L447.2,488.0 L457.8,488.1 L468.3,483.9 L478.9,476.5 L489.5,466.7 L500.0,454.2 L510.6,438.1 L521.1,417.8 L531.7,392.9 L542.3,362.5 L552.8,327.5 L563.4,298.3 L573.9,276.2 L584.5,269.5 L595.1,280.6 L605.6,302.5 L616.2,330.8 L626.8,364.6 L637.3,385.0 L647.9,395.5 L658.4,400.8 L669.0,402.8"/>
<path d="M67.0,144.0 L77.6,144.3 L88.1,144.7 L98.7,145.4 L109.2,146.5 L119.8,122.1 L130.4,132.7 L140.9,166.1 L151.5,196.8 L162.1,245.0 L172.6,295.9 L183.2,353.6 L193.7,403.3 L204.3,437.2 L214.9,456.6 L225.4,469.9 L236.0,479.0 L246.5,484.7 L257.1,486.3 L267.7,486.3 L278.2,487.2 L288.8,486.4 L299.4,487.9 L309.9,489.6 L320.5,486.5 L331.0,488.2 L341.6,487.5 L352.2,487.8 L362.7,485.8 L373.3,487.8 L383.8,486.2 L394.4,487.0 L405.0,487.8 L415.5,488.2 L426.1,486.0 L436.6,486.0 L447.2,480.1 L457.8,471.5 L468.3,460.5 L478.9,445.8 L489.5,426.8 L500.0,402.6 L510.6,377.4 L521.1,343.5 L531.7,310.9 L542.3,287.5 L552.8,270.4 L563.4,260.4 L573.9,257.3 L584.5,262.2 L595.1,274.6 L605.6,293.3 L616.2,320.6 L626.8,356.1 L637.3,377.4 L647.9,389.4 L658.4,395.4 L669.0,397.8"/>
<path d="M67.0,138.2 L77.6,138.5 L88.1,138.9 L98.7,139.5 L109.2,140.3 L119.8,118.5 L130.4,125.4 L140.9,154.8 L151.5,180.1 L162.1,228.5 L172.6,276.7 L183.2,334.8 L193.7,388.6 L204.3,428.4 L214.9,451.1 L225.4,465.8 L236.0,476.3 L246.5,482.8 L257.1,487.0 L267.7,489.6 L278.2,491.5 L288.8,493.6 L299.4,494.6 L309.9,495.3 L320.5,496.0 L331.0,495.8 L341.6,495.3 L352.2,496.0 L362.7,494.0 L373.3,496.0 L383.8,495.8 L394.4,495.5 L405.0,495.5 L415.5,495.4 L426.1,493.7 L436.6,491.5 L447.2,488.6 L457.8,483.7 L468.3,476.5 L478.9,466.8 L489.5,454.4 L500.0,438.6 L510.6,418.2 L521.1,395.7 L531.7,366.6 L542.3,336.4 L552.8,312.9 L563.4,296.8 L573.9,285.9 L584.5,283.7 L595.1,291.8 L605.6,308.6 L616.2,331.0 L626.8,361.0 L637.3,384.1 L647.9,398.4 L658.4,405.7 L669.0,408.2"/>
<path d="M67.0,483.8 L77.6,450.7 L88.1,358.7 L98.7,233.7 L109.2,164.1 L119.8,143.9 L130.4,142.5 L140.9,149.1 L151.5,170.1 L162.1,218.4 L172.6,265.2 L183.2,323.5 L193.7,380.2 L204.3,422.9 L214.9,448.0 L225.4,463.5 L236.0,474.6 L246.5,481.8 L257.1,486.3 L267.7,489.2 L278.2,491.1 L288.8,493.2 L299.4,493.9 L309.9,493.6 L320.5,494.7 L331.0,495.4 L341.6,495.5 L352.2,493.6 L362.7,493.6 L373.3,495.3 L383.8,495.9 L394.4,493.1 L405.0,496.1 L415.5,494.3 L426.1,493.9 L436.6,492.3 L447.2,488.9 L457.8,484.0 L468.3,477.4 L478.9,469.0 L489.5,458.2 L500.0,444.9 L510.6,427.8 L521.1,408.4 L531.7,386.4 L542.3,367.2 L552.8,355.4 L563.4,345.9 L573.9,340.9 L584.5,342.6 L595.1,349.2 L605.6,361.7 L616.2,378.3 L626.8,400.6 L637.3,416.4 L647.9,426.1 L658.4,431.0 L669.0,432.9"/>
<path d="M67.0,129.6 L77.6,130.0 L88.1,130.4 L98.7,131.0 L109.2,131.9 L119.8,133.6 L130.4,138.2 L140.9,147.1 L151.5,173.4 L162.1,223.1 L172.6,272.7 L183.2,332.2 L193.7,387.1 L204.3,427.5 L214.9,450.3 L225.4,465.3 L236.0,476.0 L246.5,482.6 L257.1,486.8 L267.7,489.4 L278.2,491.4 L288.8,491.3 L299.4,488.7 L309.9,493.4 L320.5,493.1 L331.0,491.7 L341.6,491.5 L352.2,492.8 L362.7,491.9 L373.3,493.8 L383.8,492.3 L394.4,491.1 L405.0,490.3 L415.5,492.2 L426.1,492.3 L436.6,491.5 L447.2,488.3 L457.8,483.0 L468.3,476.1 L478.9,467.2 L489.5,455.8 L500.0,441.5 L510.6,423.8 L521.1,403.3 L531.7,380.4 L542.3,360.7 L552.8,349.0 L563.4,339.4 L573.9,334.9 L584.5,335.1 L595.1,339.8 L605.6,350.1 L616.2,364.9 L626.8,385.7 L637.3,406.6 L647.9,420.3 L658.4,426.4 L669.0,429.2"/>
<path d="M67.0,264.0 L77.6,247.9 L88.1,212.1 L98.7,171.6 L109.2,149.8 L119.8,143.7 L130.4,145.8 L140.9,153.3 L151.5,176.7 L162.1,224.9 L172.6,272.4 L183.2,330.6 L193.7,385.3 L204.3,426.2 L214.9,449.9 L225.4,464.9 L236.0,475.6 L246.5,482.4 L257.1,486.7 L267.7,489.4 L278.2,491.4 L288.8,491.2 L299.4,493.2 L309.9,491.9 L320.5,491.3 L331.0,492.8 L341.6,492.8 L352.2,491.7 L362.7,492.0 L373.3,492.2 L383.8,491.7 L394.4,491.7 L405.0,492.9 L415.5,492.6 L426.1,491.4 L436.6,490.7 L447.2,488.0 L457.8,482.8 L468.3,475.4 L478.9,465.3 L489.5,452.4 L500.0,435.8 L510.6,414.5 L521.1,391.8 L531.7,361.0 L542.3,329.9 L552.8,306.5 L563.4,288.4 L573.9,277.9 L584.5,283.0 L595.1,299.9 L605.6,323.0 L616.2,353.5 L626.8,379.2 L637.3,395.2 L647.9,403.3 L658.4,405.9 L669.0,406.6"/>
<path d="M67.0,131.3 L77.6,131.7 L88.1,132.0 L98.7,132.7 L109.2,133.7 L119.8,135.6 L130.4,140.8 L140.9,151.5 L151.5,179.9 L162.1,230.2 L172.6,281.4 L183.2,340.8 L193.7,394.0 L204.3,432.0 L214.9,452.8 L225.4,467.2 L236.0,477.4 L246.5,483.5 L257.1,487.3 L267.7,489.7 L278.2,489.0 L288.8,489.2 L299.4,490.0 L309.9,488.2 L320.5,488.8 L331.0,489.8 L341.6,489.8 L352.2,490.8 L362.7,489.4 L373.3,487.0 L383.8,490.0 L394.4,488.8 L405.0,489.8 L415.5,488.4 L426.1,488.7 L436.6,489.5 L447.2,489.1 L457.8,484.6 L468.3,478.9 L478.9,471.3 L489.5,461.7 L500.0,449.1 L510.6,436.2 L521.1,419.3 L531.7,403.4 L542.3,392.5 L552.8,384.2 L563.4,379.9 L573.9,378.1 L584.5,379.3 L595.1,383.6 L605.6,392.0 L616.2,403.5 L626.8,419.5 L637.3,433.3 L647.9,442.2 L658.4,446.6 L669.0,448.1"/>
<path d="M67.0,128.5 L77.6,128.9 L88.1,129.3 L98.7,130.0 L109.2,131.2 L119.8,133.8 L130.4,139.9 L140.9,153.6 L151.5,189.0 L162.1,238.0 L172.6,292.3 L183.2,352.5 L193.7,403.2 L204.3,436.6 L214.9,456.3 L225.4,469.5 L236.0,478.7 L246.5,484.5 L257.1,488.0 L267.7,488.7 L278.2,487.3 L288.8,489.2 L299.4,486.8 L309.9,486.2 L320.5,490.5 L331.0,489.2 L341.6,490.2 L352.2,489.3 L362.7,489.7 L373.3,489.2 L383.8,488.1 L394.4,488.2 L405.0,488.9 L415.5,489.2 L426.1,489.0 L436.6,488.4 L447.2,483.3 L457.8,475.5 L468.3,465.4 L478.9,452.4 L489.5,435.7 L500.0,414.7 L510.6,389.4 L521.1,359.1 L531.7,326.2 L542.3,297.9 L552.8,281.2 L563.4,267.8 L573.9,261.7 L584.5,266.5 L595.1,279.6 L605.6,298.9 L616.2,326.8 L626.8,360.7 L637.3,381.5 L647.9,392.4 L658.4,397.8 L669.0,400.0"/>
<path d="M67.0,132.5 L77.6,132.9 L88.1,133.3 L98.7,134.0 L109.2,135.3 L119.8,138.1 L130.4,144.4 L140.9,158.7 L151.5,196.2 L162.1,243.9 L172.6,298.2 L183.2,357.7 L193.7,407.2 L204.3,438.8 L214.9,457.9 L225.4,470.5 L236.0,479.3 L246.5,484.9 L257.1,488.3 L267.7,490.3 L278.2,491.0 L288.8,492.7 L299.4,491.0 L309.9,489.9 L320.5,490.3 L331.0,490.6 L341.6,491.7 L352.2,492.2 L362.7,491.2 L373.3,492.6 L383.8,492.4 L394.4,490.1 L405.0,492.1 L415.5,489.2 L426.1,492.7 L436.6,490.7 L447.2,491.4 L457.8,487.6 L468.3,482.6 L478.9,476.2 L489.5,467.8 L500.0,457.3 L510.6,443.8 L521.1,429.1 L531.7,411.2 L542.3,394.8 L552.8,384.0 L563.4,375.2 L573.9,372.4 L584.5,378.1 L595.1,390.3 L605.6,406.1 L616.2,425.0 L626.8,436.3 L637.3,442.0 L647.9,444.9 L658.4,446.0 L669.0,446.0"/>
<path d="M67.0,138.9 L77.6,139.2 L88.1,139.5 L98.7,140.1 L109.2,140.8 L119.8,126.7 L130.4,135.6 L140.9,153.5 L151.5,172.0 L162.1,219.1 L172.6,264.2 L183.2,320.5 L193.7,378.0 L204.3,421.4 L214.9,447.2 L225.4,463.0 L236.0,474.2 L246.5,481.5 L257.1,486.2 L267.7,489.2 L278.2,491.1 L288.8,493.1 L299.4,494.2 L309.9,495.1 L320.5,495.8 L331.0,493.8 L341.6,496.1 L352.2,495.3 L362.7,496.1 L373.3,496.2 L383.8,495.7 L394.4,494.3 L405.0,494.3 L415.5,495.9 L426.1,494.7 L436.6,494.8 L447.2,493.3 L457.8,490.7 L468.3,486.6 L478.9,481.2 L489.5,474.3 L500.0,465.5 L510.6,454.3 L521.1,441.1 L531.7,425.0 L542.3,407.5 L552.8,392.8 L563.4,383.4 L573.9,376.5 L584.5,375.2 L595.1,380.2 L605.6,390.3 L616.2,403.7 L626.8,421.4 L637.3,434.0 L647.9,441.6 L658.4,445.4 L669.0,446.9"/>
<path d="M67.0,129.8 L77.6,130.2 L88.1,130.6 L98.7,131.2 L109.2,132.2 L119.8,125.8 L130.4,132.3 L140.9,149.4 L151.5,177.3 L162.1,227.6 L172.6,278.6 L183.2,338.1 L193.7,392.0 L204.3,430.7 L214.9,452.1 L225.4,466.6 L236.0,477.0 L246.5,483.2 L257.1,487.1 L267.7,489.6 L278.2,491.6 L288.8,493.7 L299.4,494.6 L309.9,495.3 L320.5,495.9 L331.0,495.5 L341.6,496.0 L352.2,496.0 L362.7,495.9 L373.3,495.8 L383.8,495.6 L394.4,494.9 L405.0,495.3 L415.5,494.0 L426.1,491.6 L436.6,489.0 L447.2,484.3 L457.8,477.0 L468.3,467.4 L478.9,455.3 L489.5,439.7 L500.0,419.9 L510.6,396.3 L521.1,368.0 L531.7,337.2 L542.3,311.0 L552.8,295.8 L563.4,283.4 L573.9,277.0 L584.5,278.9 L595.1,286.9 L605.6,302.7 L616.2,324.4 L626.8,354.2 L637.3,379.1 L647.9,395.0 L658.4,403.0 L669.0,405.6"/>
<path d="M67.0,131.5 L77.6,131.8 L88.1,132.2 L98.7,132.8 L109.2,133.5 L119.8,119.4 L130.4,128.8 L140.9,147.5 L151.5,170.1 L162.1,218.9 L172.6,266.4 L183.2,325.3 L193.7,381.5 L204.3,423.8 L214.9,448.4 L225.4,463.8 L236.0,474.9 L246.5,481.9 L257.1,486.4 L267.7,489.2 L278.2,491.2 L288.8,491.5 L299.4,493.0 L309.9,492.8 L320.5,492.7 L331.0,491.6 L341.6,492.2 L352.2,492.2 L362.7,491.5 L373.3,491.6 L383.8,490.3 L394.4,492.1 L405.0,493.0 L415.5,491.9 L426.1,490.3 L436.6,492.5 L447.2,491.4 L457.8,488.1 L468.3,482.9 L478.9,475.6 L489.5,466.3 L500.0,453.8 L510.6,437.8 L521.1,417.2 L531.7,395.5 L542.3,366.1 L552.8,337.1 L563.4,316.0 L573.9,299.9 L584.5,297.9 L595.1,312.4 L605.6,333.5 L616.2,361.0 L626.8,386.6 L637.3,402.7 L647.9,410.3 L658.4,413.2 L669.0,414.2"/>
<path d="M67.0,140.7 L77.6,141.0 L88.1,141.4 L98.7,141.9 L109.2,142.6 L119.8,144.2 L130.4,148.1 L140.9,155.7 L151.5,175.7 L162.1,222.8 L172.6,268.2 L183.2,324.9 L193.7,381.1 L204.3,423.4 L214.9,448.5 L225.4,463.8 L236.0,474.8 L246.5,481.9 L257.1,486.5 L267.7,489.3 L278.2,491.2 L288.8,493.3 L299.4,494.5 L309.9,495.2 L320.5,495.9 L331.0,496.1 L341.6,496.1 L352.2,496.1 L362.7,496.0 L373.3,495.8 L383.8,495.7 L394.4,495.5 L405.0,495.3 L415.5,495.2 L426.1,493.4 L436.6,491.0 L447.2,487.9 L457.8,482.8 L468.3,475.1 L478.9,464.9 L489.5,451.8 L500.0,435.1 L510.6,413.4 L521.1,389.7 L531.7,358.5 L542.3,326.1 L552.8,301.0 L563.4,282.0 L573.9,270.6 L584.5,276.2 L595.1,294.6 L605.6,319.3 L616.2,351.7 L626.8,377.0 L637.3,392.5 L647.9,400.4 L658.4,403.1 L669.0,403.6"/>
<path d="M67.0,140.0 L77.6,140.4 L88.1,140.7 L98.7,141.4 L109.2,142.4 L119.8,119.8 L130.4,128.6 L140.9,160.4 L151.5,188.8 L162.1,238.0 L172.6,288.4 L183.2,346.5 L193.7,398.1 L204.3,434.3 L214.9,454.5 L225.4,468.4 L236.0,478.2 L246.5,484.0 L257.1,487.7 L267.7,490.0 L278.2,492.0 L288.8,494.0 L299.4,494.7 L309.9,495.4 L320.5,495.2 L331.0,496.0 L341.6,495.3 L352.2,496.1 L362.7,495.9 L373.3,495.7 L383.8,495.6 L394.4,495.4 L405.0,495.1 L415.5,495.1 L426.1,494.9 L436.6,493.2 L447.2,490.6 L457.8,487.5 L468.3,482.1 L478.9,473.9 L489.5,463.0 L500.0,449.2 L510.6,431.6 L521.1,408.7 L531.7,382.7 L542.3,349.0 L552.8,312.3 L563.4,283.5 L573.9,261.2 L584.5,253.6 L595.1,263.9 L605.6,285.5 L616.2,313.6 L626.8,349.9 L637.3,373.0 L647.9,386.7 L658.4,393.5 L669.0,396.3"/>
<path d="M67.0,346.1 L77.6,331.2 L88.1,277.8 L98.7,196.6 L109.2,157.1 L119.8,148.7 L130.4,150.2 L140.9,156.7 L151.5,173.3 L162.1,217.5 L172.6,261.8 L183.2,316.1 L193.7,373.7 L204.3,418.9 L214.9,445.4 L225.4,462.0 L236.0,473.4 L246.5,481.1 L257.1,486.0 L267.7,489.1 L278.2,491.0 L288.8,493.0 L299.4,494.4 L309.9,495.1 L320.5,495.8 L331.0,496.1 L341.6,496.1 L352.2,496.1 L362.7,496.2 L373.3,496.2 L383.8,496.2 L394.4,496.2 L405.0,496.3 L415.5,496.0 L426.1,494.7 L436.6,493.0 L447.2,490.2 L457.8,486.1 L468.3,480.5 L478.9,473.5 L489.5,464.4 L500.0,452.7 L510.6,440.1 L521.1,423.4 L531.7,406.5 L542.3,393.7 L552.8,385.0 L563.4,379.1 L573.9,377.0 L584.5,379.9 L595.1,386.9 L605.6,397.2 L616.2,411.9 L626.8,428.6 L637.3,439.4 L647.9,444.4 L658.4,447.0 L669.0,448.0"/>
<path d="M67.0,130.3 L77.6,130.6 L88.1,130.9 L98.7,131.5 L109.2,132.3 L119.8,133.9 L130.4,138.0 L140.9,145.9 L151.5,167.6 L162.1,216.3 L172.6,263.5 L183.2,322.2 L193.7,379.4 L204.3,422.3 L214.9,447.6 L225.4,463.2 L236.0,474.4 L246.5,481.6 L257.1,486.2 L267.7,485.4 L278.2,486.9 L288.8,485.5 L299.4,486.6 L309.9,485.8 L320.5,485.1 L331.0,487.3 L341.6,486.6 L352.2,486.9 L362.7,486.5 L373.3,488.4 L383.8,486.9 L394.4,487.0 L405.0,487.5 L415.5,486.9 L426.1,488.3 L436.6,485.2 L447.2,482.1 L457.8,474.3 L468.3,463.7 L478.9,450.2 L489.5,432.9 L500.0,410.5 L510.6,386.6 L521.1,354.8 L531.7,322.6 L542.3,298.4 L552.8,282.3 L563.4,271.3 L573.9,265.8 L584.5,268.5 L595.1,277.6 L605.6,294.9 L616.2,318.3 L626.8,350.2 L637.3,375.1 L647.9,390.6 L658.4,398.5 L669.0,401.3"/>
<path d="M67.0,412.6 L77.6,410.4 L88.1,403.5 L98.7,383.2 L109.2,334.3 L119.8,257.4 L130.4,193.5 L140.9,167.3 L151.5,169.9 L162.1,217.8 L172.6,263.9 L183.2,321.6 L193.7,378.8 L204.3,421.9 L214.9,447.5 L225.4,463.1 L236.0,474.3 L246.5,481.6 L257.1,486.2 L267.7,489.1 L278.2,490.8 L288.8,490.9 L299.4,491.2 L309.9,491.5 L320.5,489.3 L331.0,490.3 L341.6,490.6 L352.2,489.4 L362.7,491.2 L373.3,489.8 L383.8,490.5 L394.4,491.4 L405.0,489.7 L415.5,492.1 L426.1,489.8 L436.6,488.9 L447.2,484.1 L457.8,476.8 L468.3,467.1 L478.9,454.6 L489.5,438.3 L500.0,417.9 L510.6,391.6 L521.1,363.0 L531.7,328.6 L542.3,297.4 L552.8,277.2 L563.4,260.6 L573.9,253.0 L584.5,259.4 L595.1,276.0 L605.6,299.3 L616.2,331.1 L626.8,362.0 L637.3,382.0 L647.9,391.2 L658.4,395.0 L669.0,396.4"/>
<path d="M67.0,140.6 L77.6,141.0 L88.1,141.4 L98.7,142.1 L109.2,143.0 L119.8,144.8 L130.4,150.0 L140.9,160.4 L151.5,188.1 L162.1,237.1 L172.6,287.0 L183.2,344.9 L193.7,396.7 L204.3,433.7 L214.9,454.0 L225.4,468.0 L236.0,478.0 L246.5,483.9 L257.1,487.6 L267.7,489.9 L278.2,491.9 L288.8,494.0 L299.4,494.7 L309.9,495.4 L320.5,496.0 L331.0,496.1 L341.6,496.1 L352.2,496.0 L362.7,495.8 L373.3,495.6 L383.8,495.5 L394.4,495.3 L405.0,495.2 L415.5,493.9 L426.1,491.5 L436.6,488.9 L447.2,484.0 L457.8,476.6 L468.3,466.9 L478.9,454.4 L489.5,438.4 L500.0,418.5 L510.6,393.6 L521.1,364.6 L531.7,332.4 L542.3,304.2 L552.8,287.0 L563.4,273.2 L573.9,268.0 L584.5,275.1 L595.1,291.7 L605.6,314.4 L616.2,345.3 L626.8,372.6 L637.3,389.9 L647.9,398.6 L658.4,401.5 L669.0,402.4"/>
<path d="M67.0,331.2 L77.6,310.4 L88.1,268.3 L98.7,212.5 L109.2,169.5 L119.8,149.1 L130.4,145.4 L140.9,152.5 L151.5,178.9 L162.1,228.9 L172.6,279.6 L183.2,338.8 L193.7,392.4 L204.3,431.0 L214.9,452.3 L225.4,466.8 L236.0,477.1 L246.5,483.3 L257.1,487.2 L267.7,489.6 L278.2,491.7 L288.8,493.8 L299.4,494.6 L309.9,495.3 L320.5,496.0 L331.0,496.0 L341.6,496.0 L352.2,496.0 L362.7,495.8 L373.3,495.7 L383.8,495.5 L394.4,495.4 L405.0,495.3 L415.5,493.0 L426.1,490.6 L436.6,487.0 L447.2,481.3 L457.8,473.3 L468.3,463.0 L478.9,449.2 L489.5,431.5 L500.0,408.8 L510.6,385.4 L521.1,353.8 L531.7,323.6 L542.3,302.1 L552.8,286.7 L563.4,277.6 L573.9,273.3 L584.5,275.6 L595.1,283.5 L605.6,299.0 L616.2,320.4 L626.8,350.1 L637.3,376.1 L647.9,392.8 L658.4,401.3 L669.0,404.0"/>
<path d="M67.0,135.7 L77.6,136.1 L88.1,136.4 L98.7,137.1 L109.2,137.9 L119.8,139.6 L130.4,144.0 L140.9,152.4 L151.5,177.7 L162.1,226.5 L172.6,274.9 L183.2,333.4 L193.7,387.7 L204.3,427.8 L214.9,450.7 L225.4,465.6 L236.0,476.1 L246.5,482.7 L257.1,486.9 L267.7,489.5 L278.2,491.5 L288.8,493.6 L299.4,494.5 L309.9,495.2 L320.5,496.0 L331.0,496.0 L341.6,496.0 L352.2,495.9 L362.7,495.8 L373.3,495.6 L383.8,495.4 L394.4,495.3 L405.0,495.1 L415.5,495.0 L426.1,493.1 L436.6,490.5 L447.2,487.3 L457.8,481.8 L468.3,473.7 L478.9,462.8 L489.5,449.0 L500.0,431.2 L510.6,408.3 L521.1,383.1 L531.7,350.2 L542.3,316.2 L552.8,289.7 L563.4,270.8 L573.9,258.6 L584.5,258.6 L595.1,271.9 L605.6,292.9 L616.2,321.8 L626.8,357.1 L637.3,378.5 L647.9,389.8 L658.4,395.5 L669.0,397.7"/>
<path d="M67.0,139.7 L77.6,140.0 L88.1,140.4 L98.7,141.1 L109.2,142.0 L119.8,121.0 L130.4,127.5 L140.9,159.0 L151.5,186.5 L162.1,235.5 L172.6,285.3 L183.2,343.3 L193.7,395.5 L204.3,433.0 L214.9,453.6 L225.4,467.7 L236.0,477.7 L246.5,483.7 L257.1,487.5 L267.7,489.9 L278.2,491.9 L288.8,491.6 L299.4,491.7 L309.9,491.9 L320.5,490.8 L331.0,492.5 L341.6,492.6 L352.2,492.6 L362.7,490.3 L373.3,494.3 L383.8,491.9 L394.4,491.8 L405.0,492.2 L415.5,489.9 L426.1,491.0 L436.6,491.4 L447.2,489.1 L457.8,484.4 L468.3,478.1 L478.9,470.0 L489.5,459.8 L500.0,446.5 L510.6,431.7 L521.1,412.8 L531.7,393.1 L542.3,377.4 L552.8,367.4 L563.4,360.2 L573.9,356.8 L584.5,359.2 L595.1,366.1 L605.6,377.2 L616.2,392.9 L626.8,413.6 L637.3,426.6 L647.9,434.2 L658.4,438.1 L669.0,439.7"/>
<path d="M67.0,329.8 L77.6,321.4 L88.1,278.5 L98.7,195.1 L109.2,156.6 L119.8,151.4 L130.4,155.9 L140.9,168.1 L151.5,199.9 L162.1,247.4 L172.6,298.5 L183.2,356.0 L193.7,405.1 L204.3,438.2 L214.9,457.3 L225.4,470.3 L236.0,479.3 L246.5,485.0 L257.1,488.3 L267.7,490.4 L278.2,492.3 L288.8,493.9 L299.4,493.4 L309.9,495.4 L320.5,494.7 L331.0,495.1 L341.6,495.4 L352.2,492.5 L362.7,493.6 L373.3,496.2 L383.8,494.1 L394.4,495.1 L405.0,493.4 L415.5,494.4 L426.1,494.7 L436.6,493.3 L447.2,490.5 L457.8,486.3 L468.3,480.8 L478.9,473.7 L489.5,464.5 L500.0,453.2 L510.6,438.6 L521.1,422.2 L531.7,403.5 L542.3,386.9 L552.8,376.6 L563.4,368.3 L573.9,364.7 L584.5,368.3 L595.1,377.3 L605.6,389.9 L616.2,407.2 L626.8,424.1 L637.3,435.0 L647.9,440.1 L658.4,442.2 L669.0,442.9"/>
<path d="M67.0,129.8 L77.6,130.1 L88.1,130.5 L98.7,131.0 L109.2,131.8 L119.8,133.3 L130.4,137.2 L140.9,144.7 L151.5,163.7 L162.1,212.0 L172.6,258.2 L183.2,315.9 L193.7,374.9 L204.3,419.3 L214.9,445.9 L225.4,462.0 L236.0,473.5 L246.5,481.1 L257.1,485.9 L267.7,488.9 L278.2,490.9 L288.8,493.0 L299.4,494.3 L309.9,495.0 L320.5,495.7 L331.0,496.0 L341.6,496.0 L352.2,496.0 L362.7,496.0 L373.3,495.8 L383.8,495.7 L394.4,495.5 L405.0,495.4 L415.5,495.2 L426.1,494.3 L436.6,491.9 L447.2,489.5 L457.8,484.8 L468.3,477.9 L478.9,468.6 L489.5,456.8 L500.0,441.4 L510.6,422.2 L521.1,397.4 L531.7,370.1 L542.3,337.9 L552.8,308.8 L563.4,290.2 L573.9,275.2 L584.5,268.7 L595.1,274.6 L605.6,289.6 L616.2,310.6 L626.8,339.8 L637.3,369.5 L647.9,388.9 L658.4,397.5 L669.0,401.4"/>
<path d="M67.0,128.7 L77.6,129.0 L88.1,129.4 L98.7,130.0 L109.2,130.7 L119.8,132.4 L130.4,136.4 L140.9,144.3 L151.5,165.4 L162.1,214.2 L172.6,261.3 L183.2,320.1 L193.7,377.9 L204.3,421.3 L214.9,447.0 L225.4,462.8 L236.0,474.1 L246.5,481.4 L257.1,486.1 L267.7,488.5 L278.2,487.6 L288.8,489.2 L299.4,487.9 L309.9,488.5 L320.5,486.4 L331.0,487.0 L341.6,487.3 L352.2,485.9 L362.7,486.3 L373.3,487.1 L383.8,488.5 L394.4,489.2 L405.0,487.8 L415.5,488.1 L426.1,488.4 L436.6,488.1 L447.2,489.5 L457.8,486.3 L468.3,486.0 L478.9,479.7 L489.5,471.2 L500.0,460.5 L510.6,446.6 L521.1,429.3 L531.7,407.3 L542.3,381.3 L552.8,351.1 L563.4,324.9 L573.9,305.2 L584.5,297.4 L595.1,305.0 L605.6,321.8 L616.2,343.9 L626.8,372.8 L637.3,393.4 L647.9,405.9 L658.4,412.2 L669.0,414.6"/>
<path d="M67.0,400.9 L77.6,399.4 L88.1,394.8 L98.7,382.0 L109.2,350.2 L119.8,290.8 L130.4,224.1 L140.9,185.7 L151.5,180.3 L162.1,229.9 L172.6,280.1 L183.2,338.9 L193.7,392.3 L204.3,430.9 L214.9,452.3 L225.4,466.8 L236.0,477.1 L246.5,483.3 L257.1,487.2 L267.7,489.7 L278.2,491.7 L288.8,492.7 L299.4,494.0 L309.9,492.9 L320.5,493.1 L331.0,492.0 L341.6,494.0 L352.2,492.2 L362.7,492.7 L373.3,494.1 L383.8,492.0 L394.4,492.2 L405.0,494.5 L415.5,491.1 L426.1,491.3 L436.6,488.5 L447.2,483.6 L457.8,476.0 L468.3,466.1 L478.9,453.4 L489.5,437.2 L500.0,416.5 L510.6,392.1 L521.1,362.5 L531.7,330.7 L542.3,303.8 L552.8,288.1 L563.4,275.5 L573.9,268.9 L584.5,270.9 L595.1,279.1 L605.6,295.4 L616.2,317.7 L626.8,348.4 L637.3,374.5 L647.9,391.1 L658.4,399.5 L669.0,402.2"/>
<path d="M67.0,132.7 L77.6,133.1 L88.1,133.5 L98.7,134.1 L109.2,135.0 L119.8,136.8 L130.4,141.7 L140.9,151.5 L151.5,178.7 L162.1,228.4 L172.6,278.6 L183.2,337.7 L193.7,391.4 L204.3,430.3 L214.9,451.9 L225.4,466.5 L236.0,476.9 L246.5,483.1 L257.1,487.1 L267.7,489.6 L278.2,491.6 L288.8,493.7 L299.4,494.6 L309.9,495.3 L320.5,496.0 L331.0,496.0 L341.6,496.0 L352.2,496.0 L362.7,495.9 L373.3,495.7 L383.8,495.6 L394.4,495.4 L405.0,495.2 L415.5,494.9 L426.1,492.5 L436.6,490.0 L447.2,486.0 L457.8,479.7 L468.3,471.1 L478.9,460.1 L489.5,445.5 L500.0,426.9 L510.6,402.8 L521.1,377.8 L531.7,345.3 L542.3,314.7 L552.8,293.6 L563.4,276.1 L573.9,267.3 L584.5,273.1 L595.1,289.2 L605.6,311.5 L616.2,341.8 L626.8,370.6 L637.3,389.2 L647.9,397.8 L658.4,401.3 L669.0,402.5"/>
<path d="M67.0,269.2 L77.6,269.1 L88.1,268.8 L98.7,267.3 L109.2,261.1 L119.8,240.0 L130.4,198.8 L140.9,169.8 L151.5,175.2 L162.1,223.3 L172.6,270.3 L183.2,328.3 L193.7,383.6 L204.3,425.1 L214.9,449.3 L225.4,464.5 L236.0,475.3 L246.5,482.2 L257.1,486.6 L267.7,489.4 L278.2,491.3 L288.8,493.1 L299.4,491.6 L309.9,489.9 L320.5,492.1 L331.0,492.8 L341.6,492.9 L352.2,489.9 L362.7,492.1 L373.3,491.4 L383.8,490.7 L394.4,490.9 L405.0,493.0 L415.5,491.0 L426.1,489.2 L436.6,484.6 L447.2,477.9 L457.8,468.8 L468.3,457.3 L478.9,442.5 L489.5,423.4 L500.0,402.6 L510.6,375.4 L521.1,347.6 L531.7,326.0 L542.3,312.0 L552.8,302.2 L563.4,297.2 L573.9,298.9 L584.5,301.8 L595.1,308.0 L605.6,321.7 L616.2,340.8 L626.8,367.4 L637.3,390.0 L647.9,404.5 L658.4,411.9 L669.0,414.3"/>
<path d="M67.0,133.5 L77.6,133.8 L88.1,134.2 L98.7,134.7 L109.2,135.5 L119.8,137.1 L130.4,141.2 L140.9,149.0 L151.5,170.4 L162.1,218.7 L172.6,265.5 L183.2,323.6 L193.7,380.3 L204.3,422.9 L214.9,448.0 L225.4,463.5 L236.0,474.6 L246.5,481.8 L257.1,485.9 L267.7,485.0 L278.2,487.4 L288.8,485.9 L299.4,486.4 L309.9,486.2 L320.5,488.3 L331.0,486.2 L341.6,486.7 L352.2,486.1 L362.7,486.8 L373.3,485.7 L383.8,486.6 L394.4,486.1 L405.0,485.4 L415.5,486.7 L426.1,485.8 L436.6,486.6 L447.2,486.3 L457.8,487.4 L468.3,484.7 L478.9,478.2 L489.5,469.6 L500.0,458.4 L510.6,443.9 L521.1,425.2 L531.7,405.7 L542.3,378.6 L552.8,351.6 L563.4,331.5 L573.9,315.6 L584.5,309.4 L595.1,315.9 L605.6,330.6 L616.2,350.3 L626.8,376.5 L637.3,397.5 L647.9,410.5 L658.4,417.1 L669.0,419.3"/>
<path d="M67.0,145.0 L77.6,145.3 L88.1,145.7 L98.7,146.4 L109.2,147.5 L119.8,149.7 L130.4,155.3 L140.9,167.2 L151.5,198.2 L162.1,246.1 L172.6,297.0 L183.2,354.5 L193.7,403.9 L204.3,437.5 L214.9,456.8 L225.4,470.0 L236.0,479.1 L246.5,484.8 L257.1,488.2 L267.7,489.1 L278.2,488.9 L288.8,489.1 L299.4,490.3 L309.9,490.6 L320.5,489.2 L331.0,488.3 L341.6,487.2 L352.2,489.0 L362.7,488.6 L373.3,487.8 L383.8,487.7 L394.4,488.6 L405.0,488.5 L415.5,486.5 L426.1,488.8 L436.6,489.0 L447.2,490.2 L457.8,488.0 L468.3,486.3 L478.9,480.0 L489.5,471.8 L500.0,461.2 L510.6,447.5 L521.1,430.5 L531.7,408.5 L542.3,382.3 L552.8,350.5 L563.4,323.4 L573.9,303.6 L584.5,302.6 L595.1,322.2 L605.6,347.9 L616.2,379.5 L626.8,398.1 L637.3,408.5 L647.9,413.6 L658.4,415.6 L669.0,415.6"/>
<path d="M67.0,142.3 L77.6,142.7 L88.1,143.0 L98.7,143.7 L109.2,144.7 L119.8,146.8 L130.4,152.1 L140.9,163.3 L151.5,192.0 L162.1,241.2 L172.6,291.6 L183.2,349.4 L193.7,400.2 L204.3,435.5 L214.9,455.3 L225.4,469.0 L236.0,478.5 L246.5,484.3 L257.1,487.9 L267.7,490.1 L278.2,489.5 L288.8,490.2 L299.4,490.8 L309.9,490.4 L320.5,487.7 L331.0,489.5 L341.6,489.4 L352.2,490.9 L362.7,489.9 L373.3,488.2 L383.8,490.1 L394.4,489.4 L405.0,489.2 L415.5,489.8 L426.1,488.9 L436.6,490.3 L447.2,489.4 L457.8,484.8 L468.3,477.9 L478.9,468.6 L489.5,456.7 L500.0,441.1 L510.6,421.4 L521.1,395.8 L531.7,368.5 L542.3,334.4 L552.8,302.8 L563.4,281.4 L573.9,264.7 L584.5,259.8 L595.1,269.0 L605.6,288.4 L616.2,314.2 L626.8,348.1 L637.3,372.9 L647.9,388.0 L658.4,395.6 L669.0,398.5"/>
<path d="M67.0,449.7 L77.6,448.2 L88.1,444.0 L98.7,432.5 L109.2,403.8 L119.8,346.2 L130.4,270.4 L140.9,214.6 L151.5,186.9 L162.1,235.1 L172.6,283.5 L183.2,340.9 L193.7,393.3 L204.3,431.5 L214.9,452.9 L225.4,467.1 L236.0,477.3 L246.5,483.5 L257.1,487.4 L267.7,488.7 L278.2,490.8 L288.8,489.8 L299.4,490.6 L309.9,489.7 L320.5,490.4 L331.0,490.9 L341.6,489.0 L352.2,490.7 L362.7,491.8 L373.3,490.8 L383.8,489.9 L394.4,491.6 L405.0,489.6 L415.5,489.6 L426.1,488.2 L436.6,491.1 L447.2,489.7 L457.8,487.2 L468.3,481.9 L478.9,475.1 L489.5,466.1 L500.0,454.5 L510.6,439.5 L521.1,424.1 L531.7,403.6 L542.3,384.2 L552.8,370.5 L563.4,360.0 L573.9,354.3 L584.5,353.6 L595.1,358.7 L605.6,369.4 L616.2,383.9 L626.8,403.6 L637.3,420.1 L647.9,430.5 L658.4,435.7 L669.0,437.5"/>
<path d="M67.0,145.4 L77.6,145.7 L88.1,146.1 L98.7,146.8 L109.2,147.7 L119.8,149.4 L130.4,154.4 L140.9,164.4 L151.5,191.4 L162.1,239.6 L172.6,288.6 L183.2,345.7 L193.7,397.1 L204.3,434.0 L214.9,454.3 L225.4,468.2 L236.0,478.0 L246.5,483.9 L257.1,487.7 L267.7,487.5 L278.2,486.6 L288.8,488.1 L299.4,487.4 L309.9,488.0 L320.5,486.8 L331.0,486.4 L341.6,485.7 L352.2,486.7 L362.7,488.0 L373.3,487.0 L383.8,486.7 L394.4,485.8 L405.0,489.5 L415.5,486.9 L426.1,489.1 L436.6,486.5 L447.2,486.8 L457.8,486.0 L468.3,479.6 L478.9,471.2 L489.5,460.5 L500.0,446.7 L510.6,429.3 L521.1,408.2 L531.7,383.1 L542.3,355.5 L552.8,331.5 L563.4,316.7 L573.9,305.4 L584.5,302.5 L595.1,309.9 L605.6,325.2 L616.2,345.7 L626.8,373.1 L637.3,394.2 L647.9,407.3 L658.4,413.9 L669.0,416.2"/>
<path d="M67.0,140.2 L77.6,140.6 L88.1,141.0 L98.7,141.7 L109.2,142.8 L119.8,145.2 L130.4,150.9 L140.9,163.6 L151.5,196.4 L162.1,244.4 L172.6,296.4 L183.2,354.7 L193.7,404.4 L204.3,437.6 L214.9,456.9 L225.4,470.0 L236.0,479.0 L246.5,484.8 L257.1,488.2 L267.7,490.3 L278.2,492.3 L288.8,494.1 L299.4,494.8 L309.9,495.5 L320.5,496.0 L331.0,496.1 L341.6,494.9 L352.2,495.5 L362.7,495.7 L373.3,495.5 L383.8,493.3 L394.4,495.2 L405.0,495.1 L415.5,493.4 L426.1,490.9 L436.6,487.9 L447.2,482.8 L457.8,474.9 L468.3,464.5 L478.9,451.2 L489.5,434.3 L500.0,412.5 L510.6,387.7 L521.1,356.6 L531.7,323.8 L542.3,297.1 L552.8,280.6 L563.4,268.2 L573.9,262.1 L584.5,265.5 L595.1,276.4 L605.6,294.9 L616.2,320.3 L626.8,354.2 L637.3,376.9 L647.9,390.5 L658.4,397.4 L669.0,400.2"/>
<path d="M67.0,283.0 L77.6,274.7 L88.1,254.0 L98.7,217.2 L109.2,178.9 L119.8,156.9 L130.4,151.2 L140.9,155.6 L151.5,175.8 L162.1,223.6 L172.6,270.0 L183.2,327.6 L193.7,383.1 L204.3,424.7 L214.9,449.1 L225.4,464.3 L236.0,475.2 L246.5,482.2 L257.1,486.6 L267.7,489.4 L278.2,491.3 L288.8,491.4 L299.4,493.9 L309.9,492.5 L320.5,491.6 L331.0,494.1 L341.6,493.4 L352.2,494.3 L362.7,492.4 L373.3,493.8 L383.8,494.6 L394.4,492.1 L405.0,492.5 L415.5,494.4 L426.1,492.2 L436.6,493.3 L447.2,490.7 L457.8,487.7 L468.3,482.2 L478.9,474.7 L489.5,465.0 L500.0,452.1 L510.6,435.6 L521.1,414.2 L531.7,391.9 L542.3,362.2 L552.8,333.2 L563.4,312.5 L573.9,296.4 L584.5,292.7 L595.1,303.1 L605.6,322.0 L616.2,346.9 L626.8,377.5 L637.3,395.8 L647.9,405.5 L658.4,410.4 L669.0,412.4"/>
<path d="M67.0,461.5 L77.6,448.4 L88.1,415.3 L98.7,349.7 L109.2,264.3 L119.8,199.9 L130.4,172.2 L140.9,173.3 L151.5,204.7 L162.1,251.0 L172.6,304.6 L183.2,362.9 L193.7,410.9 L204.3,440.9 L214.9,459.4 L225.4,471.5 L236.0,479.9 L246.5,485.3 L257.1,488.6 L267.7,490.5 L278.2,491.4 L288.8,489.4 L299.4,490.1 L309.9,490.8 L320.5,490.8 L331.0,490.2 L341.6,491.2 L352.2,490.8 L362.7,492.3 L373.3,489.8 L383.8,489.5 L394.4,490.1 L405.0,490.0 L415.5,490.1 L426.1,488.4 L436.6,490.2 L447.2,486.3 L457.8,480.2 L468.3,471.8 L478.9,460.9 L489.5,446.7 L500.0,428.5 L510.6,404.8 L521.1,380.4 L531.7,348.5 L542.3,318.4 L552.8,297.6 L563.4,280.4 L573.9,271.6 L584.5,277.2 L595.1,292.8 L605.6,314.7 L616.2,344.2 L626.8,372.7 L637.3,391.1 L647.9,399.6 L658.4,403.1 L669.0,404.3"/>
<path d="M67.0,140.1 L77.6,140.5 L88.1,140.8 L98.7,141.5 L109.2,142.3 L119.8,122.0 L130.4,129.5 L140.9,157.7 L151.5,183.6 L162.1,232.1 L172.6,280.7 L183.2,338.5 L193.7,391.5 L204.3,430.4 L214.9,452.2 L225.4,466.6 L236.0,476.9 L246.5,483.2 L257.1,487.2 L267.7,489.7 L278.2,491.7 L288.8,493.7 L299.4,494.6 L309.9,495.3 L320.5,496.0 L331.0,496.1 L341.6,496.1 L352.2,496.0 L362.7,495.8 L373.3,495.6 L383.8,495.5 L394.4,495.3 L405.0,495.2 L415.5,493.9 L426.1,491.4 L436.6,488.8 L447.2,483.9 L457.8,476.5 L468.3,466.6 L478.9,454.1 L489.5,438.1 L500.0,417.9 L510.6,393.1 L521.1,364.0 L531.7,331.8 L542.3,303.8 L552.8,287.0 L563.4,273.5 L573.9,267.6 L584.5,272.9 L595.1,286.8 L605.6,306.8 L616.2,335.1 L626.8,366.5 L637.3,386.9 L647.9,396.0 L658.4,400.6 L669.0,402.4"/>
<path d="M67.0,136.3 L77.6,136.7 L88.1,137.1 L98.7,137.7 L109.2,138.6 L119.8,140.3 L130.4,145.1 L140.9,154.5 L151.5,181.1 L162.1,230.2 L172.6,279.6 L183.2,338.0 L193.7,391.4 L204.3,430.3 L214.9,452.0 L225.4,466.6 L236.0,476.9 L246.5,483.2 L257.1,487.2 L267.7,489.7 L278.2,491.7 L288.8,493.7 L299.4,494.6 L309.9,495.3 L320.5,495.9 L331.0,496.0 L341.6,496.1 L352.2,495.7 L362.7,495.8 L373.3,495.6 L383.8,495.4 L394.4,495.3 L405.0,495.2 L415.5,493.4 L426.1,490.9 L436.6,487.8 L447.2,482.6 L457.8,474.9 L468.3,464.5 L478.9,451.3 L489.5,434.4 L500.0,412.6 L510.6,388.5 L521.1,357.4 L531.7,325.3 L542.3,300.1 L552.8,283.8 L563.4,272.2 L573.9,267.1 L584.5,271.2 L595.1,282.7 L605.6,300.8 L616.2,326.6 L626.8,360.6 L637.3,381.4 L647.9,393.6 L658.4,399.7 L669.0,402.2"/>
<path d="M67.0,130.5 L77.6,130.9 L88.1,131.2 L98.7,132.0 L109.2,133.0 L119.8,135.2 L130.4,140.8 L140.9,152.6 L151.5,182.8 L162.1,233.4 L172.6,285.8 L183.2,345.5 L193.7,397.7 L204.3,433.8 L214.9,454.2 L225.4,468.3 L236.0,478.0 L246.5,483.9 L257.1,487.4 L267.7,486.2 L278.2,487.5 L288.8,489.0 L299.4,489.7 L309.9,487.6 L320.5,488.8 L331.0,487.2 L341.6,488.9 L352.2,487.9 L362.7,489.1 L373.3,487.9 L383.8,488.0 L394.4,486.9 L405.0,486.1 L415.5,487.8 L426.1,488.5 L436.6,485.5 L447.2,487.2 L457.8,484.5 L468.3,478.1 L478.9,469.8 L489.5,458.9 L500.0,445.0 L510.6,426.9 L521.1,408.1 L531.7,383.8 L542.3,360.9 L552.8,345.1 L563.4,332.1 L573.9,326.0 L584.5,331.3 L595.1,344.6 L605.6,362.7 L616.2,386.7 L626.8,406.1 L637.3,418.2 L647.9,424.3 L658.4,426.4 L669.0,426.8"/>
<path d="M67.0,362.3 L77.6,360.6 L88.1,348.6 L98.7,287.1 L109.2,185.5 L119.8,149.6 L130.4,148.8 L140.9,159.1 L151.5,187.6 L162.1,237.2 L172.6,288.0 L183.2,346.4 L193.7,398.1 L204.3,434.3 L214.9,454.5 L225.4,468.4 L236.0,478.2 L246.5,484.0 L257.1,487.7 L267.7,490.0 L278.2,489.9 L288.8,488.4 L299.4,488.3 L309.9,488.1 L320.5,489.6 L331.0,489.4 L341.6,489.3 L352.2,488.8 L362.7,489.9 L373.3,488.3 L383.8,489.2 L394.4,488.3 L405.0,489.0 L415.5,488.8 L426.1,488.6 L436.6,483.5 L447.2,476.7 L457.8,467.9 L468.3,456.6 L478.9,442.3 L489.5,424.0 L500.0,404.0 L510.6,380.0 L521.1,358.4 L531.7,344.5 L542.3,333.1 L552.8,327.8 L563.4,328.0 L573.9,329.8 L584.5,333.1 L595.1,339.1 L605.6,350.4 L616.2,367.5 L626.8,391.1 L637.3,408.6 L647.9,419.4 L658.4,425.0 L669.0,427.0"/>
<path d="M67.0,144.9 L77.6,145.3 L88.1,145.6 L98.7,146.3 L109.2,147.0 L119.8,122.7 L130.4,134.1 L140.9,161.7 L151.5,186.8 L162.1,234.5 L172.6,282.1 L183.2,339.1 L193.7,391.7 L204.3,430.4 L214.9,452.4 L225.4,466.7 L236.0,476.9 L246.5,483.3 L257.1,487.3 L267.7,489.8 L278.2,491.7 L288.8,493.8 L299.4,494.7 L309.9,495.4 L320.5,496.1 L331.0,496.1 L341.6,496.1 L352.2,496.2 L362.7,496.2 L373.3,496.2 L383.8,496.2 L394.4,496.0 L405.0,495.9 L415.5,495.8 L426.1,494.3 L436.6,492.2 L447.2,489.6 L457.8,485.2 L468.3,478.8 L478.9,470.1 L489.5,459.0 L500.0,444.8 L510.6,426.5 L521.1,406.4 L531.7,380.3 L542.3,353.3 L552.8,332.4 L563.4,318.2 L573.9,308.5 L584.5,306.3 L595.1,313.2 L605.6,327.8 L616.2,347.4 L626.8,373.9 L637.3,395.2 L647.9,408.6 L658.4,415.4 L669.0,417.6"/>
<path d="M67.0,144.8 L77.6,145.2 L88.1,145.5 L98.7,146.2 L109.2,147.1 L119.8,148.7 L130.4,153.6 L140.9,163.2 L151.5,189.7 L162.1,237.8 L172.6,286.5 L183.2,343.6 L193.7,395.4 L204.3,432.9 L214.9,453.7 L225.4,467.7 L236.0,477.7 L246.5,483.7 L257.1,487.5 L267.7,488.4 L278.2,487.5 L288.8,488.7 L299.4,490.4 L309.9,489.2 L320.5,488.2 L331.0,490.3 L341.6,490.4 L352.2,488.6 L362.7,489.8 L373.3,488.1 L383.8,490.1 L394.4,490.8 L405.0,489.6 L415.5,487.2 L426.1,489.7 L436.6,488.8 L447.2,486.6 L457.8,480.5 L468.3,472.4 L478.9,462.2 L489.5,449.1 L500.0,432.4 L510.6,412.7 L521.1,388.8 L531.7,363.0 L542.3,341.3 L552.8,328.4 L563.4,318.2 L573.9,312.7 L584.5,314.9 L595.1,322.2 L605.6,336.2 L616.2,355.1 L626.8,380.7 L637.3,400.4 L647.9,412.6 L658.4,418.8 L669.0,421.0"/>
<path d="M67.0,136.4 L77.6,136.7 L88.1,137.1 L98.7,137.8 L109.2,138.6 L119.8,140.4 L130.4,145.3 L140.9,155.0 L151.5,182.0 L162.1,231.2 L172.6,280.9 L183.2,339.4 L193.7,392.5 L204.3,431.1 L214.9,452.4 L225.4,466.9 L236.0,477.1 L246.5,483.3 L257.1,486.9 L267.7,486.9 L278.2,488.8 L288.8,486.2 L299.4,486.5 L309.9,488.1 L320.5,486.7 L331.0,487.2 L341.6,487.5 L352.2,488.0 L362.7,487.7 L373.3,488.0 L383.8,486.5 L394.4,486.6 L405.0,486.6 L415.5,487.2 L426.1,487.4 L436.6,484.8 L447.2,485.5 L457.8,478.9 L468.3,470.0 L478.9,458.6 L489.5,443.6 L500.0,424.8 L510.6,400.3 L521.1,374.4 L531.7,342.2 L542.3,312.7 L552.8,293.3 L563.4,277.1 L573.9,269.6 L584.5,270.2 L595.1,279.1 L605.6,296.7 L616.2,320.4 L626.8,352.3 L637.3,376.7 L647.9,391.9 L658.4,399.5 L669.0,402.3"/>
<path d="M67.0,131.7 L77.6,132.1 L88.1,132.5 L98.7,133.2 L109.2,134.1 L119.8,120.5 L130.4,128.5 L140.9,151.0 L151.5,178.7 L162.1,228.6 L172.6,279.2 L183.2,338.4 L193.7,392.1 L204.3,430.8 L214.9,452.2 L225.4,466.7 L236.0,477.0 L246.5,483.2 L257.1,487.2 L267.7,489.6 L278.2,491.6 L288.8,493.7 L299.4,494.6 L309.9,495.3 L320.5,496.0 L331.0,496.0 L341.6,496.0 L352.2,496.0 L362.7,496.1 L373.3,496.1 L383.8,496.0 L394.4,495.4 L405.0,495.8 L415.5,495.7 L426.1,493.6 L436.6,491.5 L447.2,488.3 L457.8,483.1 L468.3,476.0 L478.9,466.8 L489.5,454.5 L500.0,438.7 L510.6,418.5 L521.1,397.5 L531.7,369.5 L542.3,342.7 L552.8,323.6 L563.4,308.4 L573.9,300.4 L584.5,301.5 L595.1,312.3 L605.6,329.1 L616.2,352.2 L626.8,381.6 L637.3,399.2 L647.9,408.9 L658.4,413.8 L669.0,415.7"/>
<path d="M67.0,269.0 L77.6,268.6 L88.1,266.3 L98.7,255.9 L109.2,222.1 L119.8,174.6 L130.4,155.1 L140.9,160.2 L151.5,188.2 L162.1,237.9 L172.6,289.2 L183.2,347.9 L193.7,399.3 L204.3,434.8 L214.9,454.9 L225.4,468.7 L236.0,478.3 L246.5,484.2 L257.1,487.7 L267.7,490.0 L278.2,492.0 L288.8,494.0 L299.4,494.7 L309.9,495.4 L320.5,496.0 L331.0,496.0 L341.6,496.1 L352.2,496.0 L362.7,493.2 L373.3,495.7 L383.8,495.5 L394.4,495.4 L405.0,495.2 L415.5,495.0 L426.1,493.8 L436.6,491.2 L447.2,488.7 L457.8,483.6 L468.3,475.9 L478.9,465.9 L489.5,453.1 L500.0,436.5 L510.6,416.0 L521.1,389.9 L531.7,359.8 L542.3,325.6 L552.8,295.0 L563.4,275.1 L573.9,260.8 L584.5,262.6 L595.1,280.5 L605.6,305.3 L616.2,337.9 L626.8,367.1 L637.3,385.6 L647.9,394.6 L658.4,397.7 L669.0,398.7"/>
<path d="M67.0,384.2 L77.6,379.9 L88.1,367.8 L98.7,337.9 L109.2,282.4 L119.8,219.5 L130.4,180.7 L140.9,169.7 L151.5,184.5 L162.1,232.4 L172.6,280.1 L183.2,337.5 L193.7,390.6 L204.3,429.7 L214.9,451.9 L225.4,466.4 L236.0,476.7 L246.5,483.1 L257.1,487.2 L267.7,489.7 L278.2,491.7 L288.8,492.8 L299.4,493.0 L309.9,493.3 L320.5,495.2 L331.0,492.9 L341.6,492.9 L352.2,493.8 L362.7,492.9 L373.3,491.8 L383.8,493.6 L394.4,492.5 L405.0,494.0 L415.5,492.4 L426.1,492.1 L436.6,490.2 L447.2,490.7 L457.8,486.9 L468.3,481.0 L478.9,473.3 L489.5,463.4 L500.0,450.8 L510.6,434.5 L521.1,416.0 L531.7,392.7 L542.3,368.0 L552.8,348.0 L563.4,334.4 L573.9,325.2 L584.5,324.5 L595.1,333.0 L605.6,348.2 L616.2,368.3 L626.8,394.6 L637.3,410.2 L647.9,419.2 L658.4,423.7 L669.0,425.5"/>
<path d="M67.0,138.3 L77.6,138.7 L88.1,139.1 L98.7,139.7 L109.2,140.6 L119.8,142.3 L130.4,147.1 L140.9,156.7 L151.5,183.3 L162.1,232.2 L172.6,281.5 L183.2,339.7 L193.7,392.6 L204.3,431.1 L214.9,452.5 L225.4,466.9 L236.0,477.1 L246.5,483.3 L257.1,487.3 L267.7,489.7 L278.2,491.7 L288.8,493.8 L299.4,494.6 L309.9,495.3 L320.5,496.0 L331.0,496.0 L341.6,496.1 L352.2,496.1 L362.7,496.0 L373.3,495.8 L383.8,495.6 L394.4,495.5 L405.0,495.3 L415.5,495.2 L426.1,494.7 L436.6,492.2 L447.2,489.7 L457.8,485.5 L468.3,479.0 L478.9,470.0 L489.5,458.6 L500.0,443.5 L510.6,424.4 L521.1,399.4 L531.7,373.1 L542.3,339.0 L552.8,306.2 L563.4,283.2 L573.9,266.1 L584.5,266.3 L595.1,285.2 L605.6,311.0 L616.2,344.3 L626.8,371.6 L637.3,388.5 L647.9,396.9 L658.4,399.7 L669.0,400.4"/>
<path d="M67.0,333.9 L77.6,333.2 L88.1,330.2 L98.7,317.2 L109.2,274.5 L119.8,204.2 L130.4,163.7 L140.9,159.0 L151.5,181.1 L162.1,229.9 L172.6,278.7 L183.2,336.9 L193.7,390.4 L204.3,429.6 L214.9,451.7 L225.4,466.3 L236.0,476.7 L246.5,483.1 L257.1,487.1 L267.7,489.6 L278.2,491.3 L288.8,490.6 L299.4,492.9 L309.9,492.0 L320.5,490.8 L331.0,492.4 L341.6,492.1 L352.2,490.4 L362.7,490.0 L373.3,492.3 L383.8,492.5 L394.4,491.0 L405.0,491.4 L415.5,492.4 L426.1,491.0 L436.6,491.1 L447.2,491.6 L457.8,488.6 L468.3,484.6 L478.9,477.5 L489.5,468.1 L500.0,455.9 L510.6,440.0 L521.1,419.9 L531.7,393.6 L542.3,363.5 L552.8,324.3 L563.4,288.2 L573.9,262.6 L584.5,261.9 L595.1,287.4 L605.6,320.5 L616.2,358.5 L626.8,380.7 L637.3,391.0 L647.9,396.1 L658.4,398.0 L669.0,398.0"/>
<path d="M67.0,140.7 L77.6,141.0 L88.1,141.3 L98.7,141.9 L109.2,142.7 L119.8,118.3 L130.4,122.9 L140.9,156.7 L151.5,180.5 L162.1,228.4 L172.6,275.6 L183.2,333.3 L193.7,387.3 L204.3,427.5 L214.9,450.7 L225.4,465.5 L236.0,476.0 L246.5,482.7 L257.1,486.9 L267.7,489.6 L278.2,491.5 L288.8,493.3 L299.4,490.9 L309.9,491.9 L320.5,491.4 L331.0,493.2 L341.6,492.8 L352.2,491.3 L362.7,493.9 L373.3,492.0 L383.8,492.2 L394.4,492.9 L405.0,492.2 L415.5,493.5 L426.1,492.1 L436.6,491.8 L447.2,489.3 L457.8,484.8 L468.3,477.8 L478.9,468.5 L489.5,456.5 L500.0,440.9 L510.6,421.2 L521.1,395.8 L531.7,368.2 L542.3,334.2 L552.8,302.5 L563.4,281.2 L573.9,265.0 L584.5,262.7 L595.1,276.1 L605.6,297.7 L616.2,327.3 L626.8,361.1 L637.3,382.2 L647.9,392.4 L658.4,397.6 L669.0,399.6"/>
<path d="M67.0,132.9 L77.6,133.3 L88.1,133.6 L98.7,134.4 L109.2,135.4 L119.8,137.7 L130.4,143.3 L140.9,155.2 L151.5,186.0 L162.1,236.0 L172.6,288.2 L183.2,347.6 L193.7,399.3 L204.3,434.7 L214.9,454.8 L225.4,468.7 L236.0,478.2 L246.5,484.1 L257.1,487.7 L267.7,489.9 L278.2,491.7 L288.8,490.8 L299.4,491.9 L309.9,491.0 L320.5,493.6 L331.0,491.7 L341.6,491.7 L352.2,494.3 L362.7,494.5 L373.3,493.5 L383.8,492.7 L394.4,492.3 L405.0,493.0 L415.5,492.8 L426.1,492.9 L436.6,492.6 L447.2,492.1 L457.8,490.9 L468.3,487.9 L478.9,482.7 L489.5,474.7 L500.0,464.2 L510.6,450.8 L521.1,433.6 L531.7,411.1 L542.3,384.7 L552.8,348.2 L563.4,306.6 L573.9,275.5 L584.5,257.8 L595.1,267.5 L605.6,289.3 L616.2,317.3 L626.8,353.3 L637.3,376.0 L647.9,389.2 L658.4,395.9 L669.0,398.5"/>
<path d="M67.0,133.8 L77.6,134.1 L88.1,134.5 L98.7,135.3 L109.2,136.4 L119.8,138.8 L130.4,144.6 L140.9,157.2 L151.5,189.9 L162.1,239.0 L172.6,291.7 L183.2,351.1 L193.7,401.9 L204.3,436.1 L214.9,455.8 L225.4,469.3 L236.0,478.6 L246.5,484.5 L257.1,487.9 L267.7,490.1 L278.2,492.1 L288.8,494.0 L299.4,494.7 L309.9,495.5 L320.5,496.0 L331.0,494.4 L341.6,495.8 L352.2,495.5 L362.7,494.2 L373.3,495.7 L383.8,495.6 L394.4,495.4 L405.0,495.3 L415.5,494.4 L426.1,492.0 L436.6,489.6 L447.2,485.0 L457.8,478.2 L468.3,469.1 L478.9,457.4 L489.5,442.2 L500.0,423.4 L510.6,399.0 L521.1,372.2 L531.7,340.7 L542.3,312.5 L552.8,294.6 L563.4,279.9 L573.9,272.3 L584.5,276.3 L595.1,288.7 L605.6,307.2 L616.2,333.5 L626.8,366.4 L637.3,386.3 L647.9,397.0 L658.4,402.5 L669.0,404.6"/>
<path d="M67.0,143.4 L77.6,143.8 L88.1,144.2 L98.7,144.9 L109.2,145.8 L119.8,147.7 L130.4,152.9 L140.9,163.6 L151.5,191.6 L162.1,240.3 L172.6,290.2 L183.2,347.7 L193.7,398.8 L204.3,434.9 L214.9,454.8 L225.4,468.6 L236.0,478.4 L246.5,484.1 L257.1,487.8 L267.7,490.1 L278.2,492.0 L288.8,494.1 L299.4,494.0 L309.9,495.5 L320.5,495.7 L331.0,495.4 L341.6,496.1 L352.2,495.8 L362.7,496.2 L373.3,495.9 L383.8,496.2 L394.4,495.6 L405.0,496.3 L415.5,496.3 L426.1,495.0 L436.6,493.3 L447.2,491.1 L457.8,487.3 L468.3,482.0 L478.9,474.8 L489.5,465.6 L500.0,453.6 L510.6,438.3 L521.1,422.1 L531.7,400.1 L542.3,378.1 L552.8,361.8 L563.4,350.1 L573.9,342.6 L584.5,341.4 L595.1,347.5 L605.6,359.9 L616.2,376.5 L626.8,398.6 L637.3,415.2 L647.9,425.5 L658.4,430.7 L669.0,432.6"/>
<path d="M67.0,142.6 L77.6,142.8 L88.1,143.2 L98.7,143.7 L109.2,144.5 L119.8,146.0 L130.4,149.9 L140.9,157.4 L151.5,177.1 L162.1,223.9 L172.6,269.0 L183.2,325.4 L193.7,381.4 L204.3,423.6 L214.9,448.6 L225.4,463.9 L236.0,474.8 L246.5,482.0 L257.1,486.5 L267.7,488.1 L278.2,488.0 L288.8,487.8 L299.4,487.8 L309.9,487.0 L320.5,485.9 L331.0,488.5 L341.6,488.7 L352.2,489.1 L362.7,485.9 L373.3,485.6 L383.8,488.7 L394.4,488.8 L405.0,486.9 L415.5,485.9 L426.1,486.0 L436.6,486.9 L447.2,486.3 L457.8,486.7 L468.3,484.0 L478.9,476.6 L489.5,466.9 L500.0,454.5 L510.6,438.6 L521.1,418.3 L531.7,394.2 L542.3,364.0 L552.8,330.0 L563.4,302.4 L573.9,281.5 L584.5,275.4 L595.1,286.8 L605.6,308.1 L616.2,336.2 L626.8,368.7 L637.3,388.6 L647.9,398.4 L658.4,403.3 L669.0,405.2"/>
<path d="M67.0,143.8 L77.6,144.1 L88.1,144.4 L98.7,145.0 L109.2,145.7 L119.8,147.3 L130.4,151.3 L140.9,158.9 L151.5,179.9 L162.1,226.8 L172.6,272.4 L183.2,329.0 L193.7,383.9 L204.3,425.3 L214.9,449.6 L225.4,464.6 L236.0,475.4 L246.5,482.3 L257.1,486.7 L267.7,489.5 L278.2,491.4 L288.8,493.4 L299.4,494.5 L309.9,494.7 L320.5,493.6 L331.0,494.5 L341.6,494.0 L352.2,495.6 L362.7,493.0 L373.3,495.1 L383.8,494.0 L394.4,494.5 L405.0,493.5 L415.5,494.9 L426.1,493.9 L436.6,492.0 L447.2,488.9 L457.8,484.0 L468.3,477.3 L478.9,468.7 L489.5,457.3 L500.0,442.8 L510.6,424.0 L521.1,404.5 L531.7,379.3 L542.3,355.7 L552.8,339.5 L563.4,327.3 L573.9,320.7 L584.5,318.0 L595.1,321.8 L605.6,332.0 L616.2,347.0 L626.8,368.5 L637.3,394.0 L647.9,409.9 L658.4,417.8 L669.0,421.8"/>
<path d="M67.0,142.4 L77.6,142.8 L88.1,143.2 L98.7,143.9 L109.2,144.8 L119.8,146.8 L130.4,152.1 L140.9,163.0 L151.5,191.3 L162.1,240.3 L172.6,290.5 L183.2,348.2 L193.7,399.3 L204.3,435.0 L214.9,455.0 L225.4,468.7 L236.0,478.4 L246.5,484.2 L257.1,487.8 L267.7,490.1 L278.2,492.0 L288.8,494.1 L299.4,494.8 L309.9,495.5 L320.5,496.0 L331.0,494.9 L341.6,494.7 L352.2,495.7 L362.7,496.2 L373.3,495.5 L383.8,495.7 L394.4,496.3 L405.0,494.6 L415.5,495.5 L426.1,494.9 L436.6,494.9 L447.2,492.9 L457.8,490.9 L468.3,486.9 L478.9,481.0 L489.5,473.1 L500.0,463.1 L510.6,450.2 L521.1,434.0 L531.7,414.0 L542.3,389.8 L552.8,362.1 L563.4,338.6 L573.9,320.8 L584.5,313.7 L595.1,320.6 L605.6,336.0 L616.2,356.1 L626.8,382.6 L637.3,401.7 L647.9,413.4 L658.4,419.2 L669.0,421.4"/>
<path d="M67.0,139.5 L77.6,139.8 L88.1,140.2 L98.7,140.7 L109.2,141.5 L119.8,120.5 L130.4,127.0 L140.9,155.0 L151.5,177.1 L162.1,224.8 L172.6,271.2 L183.2,328.8 L193.7,383.9 L204.3,425.3 L214.9,449.4 L225.4,464.6 L236.0,475.3 L246.5,482.3 L257.1,486.7 L267.7,489.4 L278.2,491.4 L288.8,493.4 L299.4,493.9 L309.9,495.2 L320.5,493.9 L331.0,494.7 L341.6,492.8 L352.2,492.7 L362.7,491.7 L373.3,493.3 L383.8,493.2 L394.4,495.3 L405.0,494.0 L415.5,495.5 L426.1,493.1 L436.6,494.7 L447.2,493.3 L457.8,490.5 L468.3,486.4 L478.9,480.9 L489.5,473.8 L500.0,464.5 L510.6,452.9 L521.1,437.9 L531.7,421.5 L542.3,401.5 L552.8,383.0 L563.4,370.6 L573.9,361.2 L584.5,360.3 L595.1,369.0 L605.6,382.2 L616.2,400.0 L626.8,419.2 L637.3,431.5 L647.9,436.9 L658.4,439.6 L669.0,440.6"/>
<path d="M67.0,135.8 L77.6,136.2 L88.1,136.5 L98.7,137.2 L109.2,138.0 L119.8,139.7 L130.4,144.3 L140.9,153.2 L151.5,179.3 L162.1,228.2 L172.6,277.2 L183.2,335.7 L193.7,389.6 L204.3,429.1 L214.9,451.4 L225.4,466.1 L236.0,476.5 L246.5,482.9 L257.1,487.0 L267.7,489.6 L278.2,491.6 L288.8,492.3 L299.4,493.7 L309.9,492.4 L320.5,494.9 L331.0,492.4 L341.6,493.0 L352.2,490.0 L362.7,491.5 L373.3,492.2 L383.8,491.8 L394.4,491.2 L405.0,492.8 L415.5,492.2 L426.1,492.4 L436.6,489.2 L447.2,491.6 L457.8,488.6 L468.3,483.7 L478.9,476.7 L489.5,467.3 L500.0,455.2 L510.6,439.5 L521.1,419.4 L531.7,398.2 L542.3,368.4 L552.8,338.3 L563.4,315.7 L573.9,298.1 L584.5,294.1 L595.1,305.8 L605.6,325.5 L616.2,351.8 L626.8,380.6 L637.3,398.9 L647.9,407.2 L658.4,411.3 L669.0,412.9"/>
<path d="M67.0,140.8 L77.6,141.1 L88.1,141.5 L98.7,142.2 L109.2,143.3 L119.8,121.1 L130.4,132.5 L140.9,163.9 L151.5,196.3 L162.1,244.3 L172.6,296.2 L183.2,354.4 L193.7,404.1 L204.3,437.5 L214.9,456.8 L225.4,470.0 L236.0,479.0 L246.5,484.8 L257.1,487.8 L267.7,488.1 L278.2,488.3 L288.8,489.8 L299.4,489.4 L309.9,489.3 L320.5,488.0 L331.0,489.7 L341.6,486.9 L352.2,488.2 L362.7,491.0 L373.3,486.7 L383.8,488.4 L394.4,489.2 L405.0,488.5 L415.5,490.6 L426.1,488.4 L436.6,491.3 L447.2,489.7 L457.8,486.4 L468.3,480.4 L478.9,472.1 L489.5,461.3 L500.0,447.0 L510.6,428.5 L521.1,404.8 L531.7,380.0 L542.3,346.6 L552.8,313.8 L563.4,290.3 L573.9,271.8 L584.5,266.7 L595.1,277.0 L605.6,297.7 L616.2,324.4 L626.8,359.2 L637.3,380.4 L647.9,392.8 L658.4,399.1 L669.0,401.6"/>
<path d="M67.0,144.2 L77.6,144.5 L88.1,145.0 L98.7,145.7 L109.2,147.0 L119.8,149.9 L130.4,156.4 L140.9,171.3 L151.5,210.6 L162.1,256.0 L172.6,309.3 L183.2,366.8 L193.7,413.7 L204.3,442.6 L214.9,460.4 L225.4,472.2 L236.0,480.4 L246.5,485.6 L257.1,488.8 L267.7,490.7 L278.2,492.7 L288.8,494.0 L299.4,493.9 L309.9,495.1 L320.5,493.5 L331.0,492.4 L341.6,492.3 L352.2,492.8 L362.7,492.5 L373.3,494.1 L383.8,493.9 L394.4,492.1 L405.0,492.9 L415.5,494.3 L426.1,492.8 L436.6,490.7 L447.2,487.7 L457.8,482.5 L468.3,474.4 L478.9,463.7 L489.5,450.2 L500.0,432.8 L510.6,410.5 L521.1,384.9 L531.7,352.8 L542.3,318.5 L552.8,290.4 L563.4,271.2 L573.9,258.1 L584.5,257.9 L595.1,271.9 L605.6,293.4 L616.2,323.2 L626.8,357.8 L637.3,379.3 L647.9,389.9 L658.4,395.3 L669.0,397.4"/>
<path d="M67.0,129.7 L77.6,130.0 L88.1,130.4 L98.7,131.1 L109.2,132.0 L119.8,133.8 L130.4,139.0 L140.9,149.3 L151.5,177.3 L162.1,227.6 L172.6,278.7 L183.2,338.2 L193.7,392.0 L204.3,430.8 L214.9,452.1 L225.4,466.7 L236.0,477.0 L246.5,483.2 L257.1,487.1 L267.7,487.3 L278.2,486.8 L288.8,488.7 L299.4,487.9 L309.9,488.1 L320.5,486.7 L331.0,487.2 L341.6,489.0 L352.2,488.2 L362.7,485.5 L373.3,488.6 L383.8,487.3 L394.4,488.2 L405.0,486.1 L415.5,487.6 L426.1,488.0 L436.6,488.8 L447.2,484.0 L457.8,476.7 L468.3,467.0 L478.9,454.6 L489.5,438.7 L500.0,418.7 L510.6,394.6 L521.1,365.8 L531.7,334.4 L542.3,307.7 L552.8,292.0 L563.4,279.3 L573.9,273.0 L584.5,274.2 L595.1,281.4 L605.6,296.6 L616.2,317.8 L626.8,347.2 L637.3,374.3 L647.9,391.9 L658.4,400.3 L669.0,403.4"/>
<path d="M67.0,134.4 L77.6,134.7 L88.1,135.2 L98.7,136.0 L109.2,137.4 L119.8,123.9 L130.4,131.5 L140.9,164.0 L151.5,207.5 L162.1,253.4 L172.6,308.8 L183.2,367.8 L193.7,415.1 L204.3,442.9 L214.9,460.4 L225.4,472.3 L236.0,480.4 L246.5,485.5 L257.1,488.7 L267.7,490.7 L278.2,492.7 L288.8,493.4 L299.4,493.1 L309.9,493.4 L320.5,491.8 L331.0,491.2 L341.6,490.9 L352.2,491.6 L362.7,492.4 L373.3,491.6 L383.8,491.0 L394.4,492.0 L405.0,491.6 L415.5,492.0 L426.1,492.2 L436.6,491.6 L447.2,490.8 L457.8,486.9 L468.3,481.3 L478.9,473.7 L489.5,464.0 L500.0,451.6 L510.6,435.5 L521.1,418.2 L531.7,395.1 L542.3,371.5 L552.8,353.5 L563.4,340.2 L573.9,332.0 L584.5,332.9 L595.1,343.6 L605.6,358.9 L616.2,380.0 L626.8,402.9 L637.3,417.8 L647.9,424.3 L658.4,427.6 L669.0,428.8"/>
<path d="M67.0,144.5 L77.6,144.9 L88.1,145.3 L98.7,146.0 L109.2,147.1 L119.8,149.6 L130.4,155.4 L140.9,168.3 L151.5,202.0 L162.1,248.9 L172.6,300.8 L183.2,358.4 L193.7,407.0 L204.3,439.1 L214.9,458.0 L225.4,470.7 L236.0,479.5 L246.5,485.1 L257.1,488.2 L267.7,489.4 L278.2,486.9 L288.8,487.7 L299.4,487.7 L309.9,489.5 L320.5,488.1 L331.0,490.0 L341.6,490.4 L352.2,488.4 L362.7,488.6 L373.3,487.5 L383.8,486.5 L394.4,488.2 L405.0,486.2 L415.5,488.8 L426.1,487.3 L436.6,489.5 L447.2,485.0 L457.8,478.1 L468.3,469.0 L478.9,457.4 L489.5,442.6 L500.0,423.8 L510.6,401.2 L521.1,374.3 L531.7,345.0 L542.3,320.0 L552.8,305.5 L563.4,293.7 L573.9,287.7 L584.5,289.0 L595.1,296.1 L605.6,310.6 L616.2,330.7 L626.8,358.5 L637.3,383.3 L647.9,399.2 L658.4,407.1 L669.0,409.8"/>
<path d="M67.0,378.7 L77.6,331.0 L88.1,219.8 L98.7,152.6 L109.2,138.2 L119.8,137.4 L130.4,141.0 L140.9,148.7 L151.5,169.4 L162.1,217.6 L172.6,264.1 L183.2,322.1 L193.7,379.2 L204.3,422.2 L214.9,447.6 L225.4,463.2 L236.0,474.4 L246.5,481.7 L257.1,486.3 L267.7,487.4 L278.2,486.7 L288.8,488.1 L299.4,487.2 L309.9,486.8 L320.5,487.2 L331.0,487.0 L341.6,485.3 L352.2,486.2 L362.7,488.2 L373.3,487.2 L383.8,485.9 L394.4,487.4 L405.0,486.6 L415.5,486.7 L426.1,486.1 L436.6,486.9 L447.2,486.8 L457.8,486.7 L468.3,480.7 L478.9,472.7 L489.5,462.5 L500.0,449.3 L510.6,433.0 L521.1,412.1 L531.7,388.2 L542.3,360.9 L552.8,336.4 L563.4,320.8 L573.9,309.1 L584.5,308.0 L595.1,318.9 L605.6,336.1 L616.2,359.8 L626.8,387.3 L637.3,404.3 L647.9,412.7 L658.4,416.9 L669.0,418.6"/>
<path d="M67.0,140.9 L77.6,141.2 L88.1,141.6 L98.7,142.2 L109.2,143.0 L119.8,144.7 L130.4,149.0 L140.9,157.1 L151.5,181.8 L162.1,229.8 L172.6,277.4 L183.2,335.1 L193.7,388.7 L204.3,428.5 L214.9,451.2 L225.4,465.9 L236.0,476.3 L246.5,482.9 L257.1,487.0 L267.7,488.2 L278.2,490.2 L288.8,486.0 L299.4,487.1 L309.9,487.7 L320.5,490.0 L331.0,490.9 L341.6,489.5 L352.2,488.8 L362.7,486.1 L373.3,487.1 L383.8,489.1 L394.4,487.2 L405.0,487.2 L415.5,488.5 L426.1,487.2 L436.6,488.2 L447.2,489.3 L457.8,487.3 L468.3,481.7 L478.9,474.0 L489.5,464.1 L500.0,451.1 L510.6,434.6 L521.1,413.0 L531.7,390.5 L542.3,361.4 L552.8,333.8 L563.4,314.6 L573.9,299.7 L584.5,296.0 L595.1,304.9 L605.6,322.8 L616.2,346.0 L626.8,376.2 L637.3,395.0 L647.9,406.0 L658.4,411.6 L669.0,413.8"/>
<path d="M67.0,142.6 L77.6,142.9 L88.1,143.3 L98.7,143.8 L109.2,144.5 L119.8,146.1 L130.4,150.0 L140.9,157.5 L151.5,177.6 L162.1,224.5 L172.6,269.7 L183.2,326.1 L193.7,382.0 L204.3,423.9 L214.9,448.8 L225.4,464.1 L236.0,475.0 L246.5,482.1 L257.1,486.6 L267.7,488.9 L278.2,486.9 L288.8,487.2 L299.4,485.2 L309.9,488.7 L320.5,486.4 L331.0,485.4 L341.6,489.0 L352.2,486.1 L362.7,488.6 L373.3,486.3 L383.8,485.2 L394.4,486.9 L405.0,486.5 L415.5,487.6 L426.1,486.5 L436.6,485.6 L447.2,487.1 L457.8,487.0 L468.3,485.0 L478.9,478.9 L489.5,471.1 L500.0,460.9 L510.6,448.4 L521.1,432.2 L531.7,414.2 L542.3,393.3 L552.8,374.8 L563.4,363.2 L573.9,353.8 L584.5,349.2 L595.1,352.4 L605.6,361.4 L616.2,374.3 L626.8,392.5 L637.3,413.0 L647.9,426.2 L658.4,432.3 L669.0,435.4"/>
<path d="M67.0,391.2 L77.6,390.2 L88.1,387.1 L98.7,377.1 L109.2,349.2 L119.8,292.0 L130.4,226.9 L140.9,195.7 L151.5,206.9 L162.1,252.9 L172.6,305.3 L183.2,362.7 L193.7,410.4 L204.3,440.9 L214.9,459.3 L225.4,471.5 L236.0,480.0 L246.5,485.4 L257.1,488.7 L267.7,490.6 L278.2,492.6 L288.8,494.3 L299.4,495.0 L309.9,495.7 L320.5,496.1 L331.0,496.1 L341.6,496.1 L352.2,496.2 L362.7,496.1 L373.3,496.0 L383.8,495.9 L394.4,495.8 L405.0,494.1 L415.5,492.0 L426.1,489.2 L436.6,484.6 L447.2,478.0 L457.8,469.2 L468.3,457.8 L478.9,443.1 L489.5,424.2 L500.0,404.4 L510.6,377.4 L521.1,350.7 L531.7,331.0 L542.3,317.2 L552.8,308.4 L563.4,305.1 L573.9,307.7 L584.5,313.8 L595.1,325.3 L605.6,341.4 L616.2,365.0 L626.8,389.6 L637.3,406.1 L647.9,413.3 L658.4,416.7 L669.0,418.0"/>
<path d="M67.0,139.5 L77.6,139.7 L88.1,140.0 L98.7,140.5 L109.2,141.2 L119.8,142.6 L130.4,145.7 L140.9,152.4 L151.5,168.2 L162.1,210.0 L172.6,255.5 L183.2,309.9 L193.7,368.1 L204.3,415.0 L214.9,443.1 L225.4,460.6 L236.0,472.4 L246.5,480.5 L257.1,485.6 L267.7,488.8 L278.2,490.7 L288.8,492.8 L299.4,494.3 L309.9,495.0 L320.5,495.7 L331.0,496.0 L341.6,496.1 L352.2,496.1 L362.7,496.1 L373.3,496.2 L383.8,496.2 L394.4,496.2 L405.0,496.2 L415.5,496.3 L426.1,495.1 L436.6,493.4 L447.2,491.2 L457.8,487.6 L468.3,482.3 L478.9,475.1 L489.5,466.0 L500.0,454.2 L510.6,439.1 L521.1,422.6 L531.7,401.0 L542.3,378.8 L552.8,361.7 L563.4,350.1 L573.9,342.1 L584.5,340.1 L595.1,345.5 L605.6,357.1 L616.2,372.9 L626.8,394.3 L637.3,412.5 L647.9,424.1 L658.4,429.9 L669.0,431.8"/>
<path d="M67.0,130.0 L77.6,130.3 L88.1,130.7 L98.7,131.2 L109.2,132.0 L119.8,133.6 L130.4,137.7 L140.9,145.5 L151.5,166.6 L162.1,215.2 L172.6,262.2 L183.2,320.7 L193.7,378.3 L204.3,421.6 L214.9,447.2 L225.4,463.0 L236.0,474.2 L246.5,481.5 L257.1,486.2 L267.7,489.0 L278.2,491.0 L288.8,493.1 L299.4,493.5 L309.9,491.6 L320.5,493.1 L331.0,493.9 L341.6,494.2 L352.2,493.2 L362.7,492.0 L373.3,493.8 L383.8,494.3 L394.4,492.1 L405.0,493.1 L415.5,493.2 L426.1,490.9 L436.6,492.8 L447.2,490.2 L457.8,486.7 L468.3,480.9 L478.9,472.6 L489.5,461.4 L500.0,447.0 L510.6,428.4 L521.1,404.5 L531.7,378.9 L542.3,343.5 L552.8,307.0 L563.4,279.5 L573.9,258.1 L584.5,253.5 L595.1,268.4 L605.6,292.6 L616.2,324.8 L626.8,358.4 L637.3,380.2 L647.9,389.5 L658.4,394.1 L669.0,395.8"/>
<path d="M67.0,123.9 L77.6,124.3 L88.1,124.7 L98.7,125.4 L109.2,126.6 L119.8,129.3 L130.4,135.5 L140.9,149.4 L151.5,185.4 L162.1,234.9 L172.6,289.9 L183.2,350.8 L193.7,402.2 L204.3,435.9 L214.9,455.8 L225.4,469.2 L236.0,478.4 L246.5,484.3 L257.1,487.9 L267.7,490.0 L278.2,492.1 L288.8,489.9 L299.4,491.6 L309.9,490.2 L320.5,489.1 L331.0,488.1 L341.6,490.6 L352.2,489.7 L362.7,490.2 L373.3,489.6 L383.8,493.3 L394.4,490.9 L405.0,490.2 L415.5,490.0 L426.1,491.0 L436.6,488.1 L447.2,483.0 L457.8,475.3 L468.3,465.0 L478.9,452.0 L489.5,435.4 L500.0,413.9 L510.6,389.6 L521.1,359.0 L531.7,326.9 L542.3,300.9 L552.8,285.1 L563.4,273.0 L573.9,266.7 L584.5,268.4 L595.1,275.7 L605.6,291.0 L616.2,312.5 L626.8,342.5 L637.3,370.6 L647.9,388.9 L658.4,397.6 L669.0,400.9"/>
<path d="M67.0,132.6 L77.6,132.9 L88.1,133.3 L98.7,134.0 L109.2,134.8 L119.8,136.5 L130.4,141.1 L140.9,150.1 L151.5,176.3 L162.1,225.7 L172.6,275.0 L183.2,334.0 L193.7,388.4 L204.3,428.3 L214.9,450.9 L225.4,465.7 L236.0,476.3 L246.5,482.8 L257.1,486.9 L267.7,489.5 L278.2,491.5 L288.8,493.6 L299.4,494.5 L309.9,495.2 L320.5,496.0 L331.0,496.0 L341.6,495.5 L352.2,496.1 L362.7,496.1 L373.3,496.1 L383.8,496.1 L394.4,496.0 L405.0,494.4 L415.5,495.2 L426.1,493.1 L436.6,491.1 L447.2,487.3 L457.8,481.6 L468.3,474.0 L478.9,464.2 L489.5,451.4 L500.0,435.5 L510.6,414.9 L521.1,392.4 L531.7,365.4 L542.3,341.0 L552.8,325.1 L563.4,312.1 L573.9,306.1 L584.5,311.3 L595.1,324.5 L605.6,343.0 L616.2,368.1 L626.8,392.0 L637.3,407.5 L647.9,414.7 L658.4,417.5 L669.0,418.5"/>
<path d="M67.0,298.7 L77.6,297.3 L88.1,292.4 L98.7,277.2 L109.2,241.3 L119.8,192.7 L130.4,163.4 L140.9,159.9 L151.5,182.0 L162.1,231.6 L172.6,282.0 L183.2,340.6 L193.7,393.6 L204.3,431.8 L214.9,452.8 L225.4,467.1 L236.0,477.3 L246.5,483.4 L257.1,487.3 L267.7,489.7 L278.2,491.7 L288.8,493.8 L299.4,494.6 L309.9,495.1 L320.5,495.8 L331.0,493.3 L341.6,494.3 L352.2,495.7 L362.7,494.4 L373.3,495.8 L383.8,495.8 L394.4,493.1 L405.0,493.1 L415.5,495.3 L426.1,495.1 L436.6,493.7 L447.2,491.2 L457.8,488.4 L468.3,483.5 L478.9,475.8 L489.5,465.7 L500.0,452.8 L510.6,436.4 L521.1,415.3 L531.7,390.3 L542.3,359.0 L552.8,323.6 L563.4,295.0 L573.9,273.1 L584.5,266.8 L595.1,278.7 L605.6,300.8 L616.2,329.9 L626.8,363.6 L637.3,384.3 L647.9,394.5 L658.4,399.7 L669.0,401.6"/>
<path d="M67.0,490.3 L77.6,486.7 L88.1,481.9 L98.7,475.3 L109.2,466.4 L119.8,448.6 L130.4,419.4 L140.9,371.0 L151.5,316.6 L162.1,250.7 L172.6,203.8 L183.2,172.1 L193.7,154.2 L204.3,145.6 L214.9,141.2 L225.4,140.1 L236.0,141.7 L246.5,145.8 L257.1,156.3 L267.7,174.1 L278.2,205.4 L288.8,255.5 L299.4,321.7 L309.9,379.8 L320.5,419.9 L331.0,444.4 L341.6,460.9 L352.2,472.5 L362.7,480.4 L373.3,485.8 L383.8,489.7 L394.4,491.1 L405.0,493.9 L415.5,492.3 L426.1,490.8 L436.6,492.0 L447.2,493.6 L457.8,493.5 L468.3,491.6 L478.9,490.5 L489.5,493.6 L500.0,492.4 L510.6,493.3 L521.1,492.8 L531.7,492.1 L542.3,492.5 L552.8,493.2 L563.4,490.2 L573.9,492.6 L584.5,492.7 L595.1,491.3 L605.6,492.5 L616.2,492.7 L626.8,491.5 L637.3,493.6 L647.9,491.7 L658.4,491.4 L669.0,491.8"/>
<path d="M67.0,490.6 L77.6,489.7 L88.1,485.9 L98.7,480.9 L109.2,473.4 L119.8,460.7 L130.4,438.6 L140.9,400.6 L151.5,348.5 L162.1,293.9 L172.6,236.3 L183.2,202.2 L193.7,182.0 L204.3,172.7 L214.9,168.5 L225.4,166.9 L236.0,168.0 L246.5,171.7 L257.1,181.2 L267.7,198.0 L278.2,227.9 L288.8,276.9 L299.4,339.9 L309.9,393.9 L320.5,429.6 L331.0,452.1 L341.6,466.3 L352.2,476.4 L362.7,483.1 L373.3,487.9 L383.8,491.6 L394.4,491.3 L405.0,491.0 L415.5,488.2 L426.1,489.5 L436.6,490.8 L447.2,492.1 L457.8,490.6 L468.3,492.2 L478.9,490.7 L489.5,490.6 L500.0,491.4 L510.6,490.7 L521.1,491.3 L531.7,491.6 L542.3,489.3 L552.8,490.3 L563.4,491.3 L573.9,491.8 L584.5,490.8 L595.1,490.3 L605.6,490.0 L616.2,489.4 L626.8,490.5 L637.3,492.1 L647.9,488.8 L658.4,489.7 L669.0,490.1"/>
<path d="M67.0,489.6 L77.6,485.7 L88.1,480.5 L98.7,473.3 L109.2,462.7 L119.8,443.6 L130.4,411.2 L140.9,358.4 L151.5,302.7 L162.1,232.8 L172.6,190.3 L183.2,159.9 L193.7,143.8 L204.3,135.7 L214.9,131.8 L225.4,130.6 L236.0,132.7 L246.5,137.4 L257.1,149.5 L267.7,169.4 L278.2,203.4 L288.8,258.3 L299.4,325.4 L309.9,382.8 L320.5,421.3 L331.0,445.7 L341.6,461.5 L352.2,472.8 L362.7,480.5 L373.3,485.9 L383.8,489.9 L394.4,492.7 L405.0,494.1 L415.5,494.4 L426.1,494.6 L436.6,494.8 L447.2,493.7 L457.8,494.2 L468.3,494.8 L478.9,493.4 L489.5,494.7 L500.0,494.9 L510.6,494.6 L521.1,495.0 L531.7,495.1 L542.3,495.2 L552.8,495.2 L563.4,495.2 L573.9,495.3 L584.5,495.3 L595.1,494.4 L605.6,495.3 L616.2,494.5 L626.8,495.3 L637.3,495.3 L647.9,495.1 L658.4,494.9 L669.0,494.8"/>
<path d="M67.0,490.9 L77.6,487.4 L88.1,482.9 L98.7,476.8 L109.2,468.6 L119.8,452.2 L130.4,425.4 L140.9,381.1 L151.5,330.6 L162.1,270.8 L172.6,224.5 L183.2,194.1 L193.7,176.3 L204.3,167.7 L214.9,163.7 L225.4,162.3 L236.0,163.3 L246.5,166.8 L257.1,175.2 L267.7,190.3 L278.2,217.1 L288.8,259.2 L299.4,319.1 L309.9,376.5 L320.5,417.5 L331.0,443.0 L341.6,459.8 L352.2,472.1 L362.7,480.0 L373.3,485.2 L383.8,489.3 L394.4,492.0 L405.0,491.2 L415.5,490.2 L426.1,492.3 L436.6,492.8 L447.2,489.5 L457.8,491.8 L468.3,490.2 L478.9,492.5 L489.5,491.4 L500.0,492.5 L510.6,491.1 L521.1,492.1 L531.7,492.5 L542.3,490.1 L552.8,491.4 L563.4,493.9 L573.9,492.0 L584.5,492.8 L595.1,493.1 L605.6,492.4 L616.2,492.3 L626.8,491.7 L637.3,492.6 L647.9,493.8 L658.4,492.4 L669.0,490.8"/>
<path d="M67.0,490.3 L77.6,486.6 L88.1,481.9 L98.7,475.4 L109.2,466.8 L119.8,449.7 L130.4,421.9 L140.9,376.1 L151.5,323.8 L162.1,262.7 L172.6,213.0 L183.2,180.5 L193.7,161.1 L204.3,151.8 L214.9,147.6 L225.4,145.9 L236.0,146.6 L246.5,149.7 L257.1,157.7 L267.7,172.3 L278.2,197.2 L288.8,237.6 L299.4,295.3 L309.9,359.0 L320.5,405.4 L331.0,435.1 L341.6,454.1 L352.2,467.7 L362.7,476.8 L373.3,483.0 L383.8,487.6 L394.4,491.3 L405.0,493.6 L415.5,494.4 L426.1,494.6 L436.6,494.9 L447.2,495.0 L457.8,495.0 L468.3,495.0 L478.9,495.0 L489.5,495.0 L500.0,495.0 L510.6,495.1 L521.1,495.1 L531.7,495.2 L542.3,495.3 L552.8,495.3 L563.4,495.3 L573.9,495.4 L584.5,495.4 L595.1,495.5 L605.6,495.5 L616.2,495.5 L626.8,495.5 L637.3,495.5 L647.9,495.5 L658.4,495.3 L669.0,495.1"/>
<path d="M67.0,486.4 L77.6,486.1 L88.1,484.0 L98.7,478.2 L109.2,470.8 L119.8,455.1 L130.4,429.8 L140.9,387.5 L151.5,338.9 L162.1,281.3 L172.6,237.2 L183.2,208.2 L193.7,191.5 L204.3,183.5 L214.9,179.6 L225.4,178.5 L236.0,179.7 L246.5,183.2 L257.1,192.2 L267.7,207.5 L278.2,234.9 L288.8,278.5 L299.4,337.7 L309.9,390.0 L320.5,426.8 L331.0,449.2 L341.6,464.3 L352.2,474.9 L362.7,482.1 L373.3,485.9 L383.8,488.1 L394.4,490.1 L405.0,486.0 L415.5,486.4 L426.1,487.5 L436.6,485.5 L447.2,487.3 L457.8,486.8 L468.3,488.0 L478.9,486.5 L489.5,487.4 L500.0,487.4 L510.6,485.7 L521.1,486.7 L531.7,488.5 L542.3,486.1 L552.8,486.0 L563.4,487.8 L573.9,487.3 L584.5,486.8 L595.1,487.2 L605.6,486.8 L616.2,486.2 L626.8,487.4 L637.3,484.6 L647.9,487.7 L658.4,487.5 L669.0,484.8"/>
<path d="M67.0,490.1 L77.6,486.6 L88.1,481.8 L98.7,475.2 L109.2,466.7 L119.8,448.9 L130.4,420.2 L140.9,372.5 L151.5,317.1 L162.1,252.4 L172.6,200.4 L183.2,166.7 L193.7,146.9 L204.3,137.4 L214.9,132.9 L225.4,131.4 L236.0,132.5 L246.5,136.3 L257.1,145.5 L267.7,162.1 L278.2,191.5 L288.8,238.0 L299.4,303.8 L309.9,366.3 L320.5,410.8 L331.0,438.4 L341.6,456.7 L352.2,470.0 L362.7,478.6 L373.3,484.2 L383.8,488.6 L394.4,491.8 L405.0,494.0 L415.5,494.3 L426.1,494.5 L436.6,494.8 L447.2,494.8 L457.8,494.8 L468.3,494.8 L478.9,494.8 L489.5,494.8 L500.0,494.9 L510.6,495.0 L521.1,495.0 L531.7,495.1 L542.3,495.1 L552.8,495.2 L563.4,495.2 L573.9,495.3 L584.5,495.3 L595.1,495.3 L605.6,495.3 L616.2,495.3 L626.8,495.3 L637.3,495.3 L647.9,495.2 L658.4,495.0 L669.0,494.8"/>
<path d="M67.0,490.0 L77.6,486.4 L88.1,481.5 L98.7,474.9 L109.2,465.7 L119.8,448.3 L130.4,419.6 L140.9,372.5 L151.5,320.0 L162.1,257.3 L172.6,209.7 L183.2,178.0 L193.7,159.2 L204.3,150.2 L214.9,145.9 L225.4,144.4 L236.0,145.3 L246.5,148.6 L257.1,156.9 L267.7,171.9 L278.2,197.6 L288.8,239.0 L299.4,298.4 L309.9,361.3 L320.5,406.8 L331.0,435.9 L341.6,454.7 L352.2,468.2 L362.7,477.2 L373.3,483.2 L383.8,487.8 L394.4,491.3 L405.0,491.9 L415.5,491.7 L426.1,489.9 L436.6,492.1 L447.2,490.6 L457.8,491.9 L468.3,492.8 L478.9,491.2 L489.5,491.3 L500.0,492.7 L510.6,492.4 L521.1,492.3 L531.7,490.4 L542.3,490.9 L552.8,491.2 L563.4,490.9 L573.9,492.0 L584.5,490.9 L595.1,492.1 L605.6,492.9 L616.2,492.2 L626.8,491.2 L637.3,491.3 L647.9,490.3 L658.4,493.3 L669.0,491.7"/>
<path d="M67.0,489.1 L77.6,485.2 L88.1,480.1 L98.7,472.7 L109.2,461.6 L119.8,442.5 L130.4,410.0 L140.9,357.4 L151.5,302.7 L162.1,233.9 L172.6,192.1 L183.2,162.0 L193.7,145.5 L204.3,137.3 L214.9,133.2 L225.4,132.1 L236.0,133.8 L246.5,138.1 L257.1,148.7 L267.7,166.4 L278.2,197.5 L288.8,246.6 L299.4,313.0 L309.9,372.3 L320.5,414.4 L331.0,440.4 L341.6,457.8 L352.2,470.5 L362.7,479.0 L373.3,484.4 L383.8,488.7 L394.4,491.9 L405.0,494.0 L415.5,494.3 L426.1,494.5 L436.6,494.8 L447.2,494.8 L457.8,494.8 L468.3,494.8 L478.9,494.8 L489.5,494.8 L500.0,494.9 L510.6,495.0 L521.1,495.0 L531.7,495.1 L542.3,495.2 L552.8,495.2 L563.4,495.2 L573.9,495.3 L584.5,495.3 L595.1,495.3 L605.6,495.4 L616.2,495.4 L626.8,495.4 L637.3,495.4 L647.9,495.2 L658.4,495.0 L669.0,494.8"/>
<path d="M67.0,490.2 L77.6,486.4 L88.1,481.5 L98.7,474.7 L109.2,465.6 L119.8,447.4 L130.4,417.5 L140.9,368.0 L151.5,312.6 L162.1,245.3 L172.6,198.1 L183.2,166.0 L193.7,147.9 L204.3,139.1 L214.9,134.7 L225.4,133.6 L236.0,135.2 L246.5,139.5 L257.1,150.2 L267.7,168.4 L278.2,200.3 L288.8,251.4 L299.4,318.8 L309.9,377.9 L320.5,418.5 L331.0,443.4 L341.6,460.2 L352.2,472.0 L362.7,480.0 L373.3,485.5 L383.8,489.6 L394.4,492.5 L405.0,494.1 L415.5,494.4 L426.1,494.6 L436.6,494.8 L447.2,494.8 L457.8,494.8 L468.3,494.8 L478.9,494.8 L489.5,494.9 L500.0,494.9 L510.6,495.0 L521.1,495.1 L531.7,495.1 L542.3,495.2 L552.8,495.2 L563.4,495.3 L573.9,495.3 L584.5,495.3 L595.1,495.4 L605.6,495.4 L616.2,495.4 L626.8,495.4 L637.3,495.3 L647.9,495.1 L658.4,494.9 L669.0,494.8"/>
<path d="M67.0,490.4 L77.6,486.8 L88.1,482.2 L98.7,475.8 L109.2,467.0 L119.8,450.1 L130.4,422.4 L140.9,376.9 L151.5,326.2 L162.1,265.5 L172.6,219.7 L183.2,189.1 L193.7,171.1 L204.3,162.4 L214.9,158.3 L225.4,156.8 L236.0,157.7 L246.5,161.0 L257.1,169.1 L267.7,183.7 L278.2,208.8 L288.8,249.2 L299.4,307.3 L309.9,367.5 L320.5,411.1 L331.0,438.8 L341.6,456.7 L352.2,469.7 L362.7,478.2 L373.3,484.0 L383.8,488.3 L394.4,491.7 L405.0,492.1 L415.5,493.3 L426.1,493.6 L436.6,492.6 L447.2,492.5 L457.8,493.1 L468.3,494.3 L478.9,493.7 L489.5,494.4 L500.0,493.5 L510.6,493.1 L521.1,491.6 L531.7,491.7 L542.3,492.4 L552.8,492.1 L563.4,492.9 L573.9,490.2 L584.5,491.5 L595.1,490.3 L605.6,492.8 L616.2,492.7 L626.8,492.0 L637.3,493.0 L647.9,492.8 L658.4,494.2 L669.0,492.2"/>
<path d="M67.0,490.1 L77.6,487.1 L88.1,482.5 L98.7,476.2 L109.2,468.2 L119.8,452.0 L130.4,425.2 L140.9,380.2 L151.5,324.2 L162.1,263.1 L172.6,204.2 L183.2,167.9 L193.7,145.9 L204.3,135.9 L214.9,131.0 L225.4,129.0 L236.0,129.6 L246.5,133.0 L257.1,141.4 L267.7,157.1 L278.2,184.0 L288.8,227.9 L299.4,291.4 L309.9,357.5 L320.5,404.9 L331.0,434.8 L341.6,454.2 L352.2,468.2 L362.7,477.3 L373.3,483.3 L383.8,487.9 L394.4,491.4 L405.0,493.9 L415.5,494.2 L426.1,494.5 L436.6,494.7 L447.2,494.8 L457.8,494.8 L468.3,494.8 L478.9,494.8 L489.5,494.8 L500.0,494.9 L510.6,494.9 L521.1,495.0 L531.7,495.1 L542.3,495.1 L552.8,495.2 L563.4,495.2 L573.9,495.2 L584.5,495.3 L595.1,495.3 L605.6,495.3 L616.2,495.3 L626.8,495.3 L637.3,495.3 L647.9,495.2 L658.4,495.0 L669.0,494.8"/>
<path d="M67.0,489.9 L77.6,486.6 L88.1,481.6 L98.7,474.8 L109.2,465.9 L119.8,447.2 L130.4,416.5 L140.9,365.3 L151.5,307.5 L162.1,236.9 L172.6,188.4 L183.2,155.4 L193.7,137.4 L204.3,128.7 L214.9,124.4 L225.4,123.2 L236.0,125.3 L246.5,130.2 L257.1,143.0 L267.7,164.2 L278.2,200.8 L288.8,260.0 L299.4,329.2 L309.9,386.3 L320.5,424.0 L331.0,447.7 L341.6,463.2 L352.2,474.1 L362.7,481.4 L373.3,486.6 L383.8,490.7 L394.4,493.2 L405.0,494.1 L415.5,493.1 L426.1,493.1 L436.6,492.4 L447.2,493.2 L457.8,494.5 L468.3,492.8 L478.9,494.7 L489.5,494.4 L500.0,494.9 L510.6,492.7 L521.1,492.9 L531.7,494.5 L542.3,494.3 L552.8,494.0 L563.4,493.8 L573.9,493.1 L584.5,493.9 L595.1,493.6 L605.6,495.3 L616.2,494.3 L626.8,495.3 L637.3,492.1 L647.9,492.5 L658.4,493.2 L669.0,492.8"/>
<path d="M67.0,489.9 L77.6,489.1 L88.1,485.0 L98.7,479.4 L109.2,471.3 L119.8,458.4 L130.4,436.0 L140.9,396.8 L151.5,338.0 L162.1,279.3 L172.6,208.5 L183.2,168.7 L193.7,142.3 L204.3,131.7 L214.9,126.0 L225.4,123.7 L236.0,124.3 L246.5,127.9 L257.1,137.1 L267.7,154.2 L278.2,185.1 L288.8,235.2 L299.4,306.0 L309.9,370.2 L320.5,414.8 L331.0,441.6 L341.6,459.4 L352.2,471.7 L362.7,479.9 L373.3,485.6 L383.8,489.9 L394.4,492.3 L405.0,489.4 L415.5,491.1 L426.1,491.1 L436.6,492.3 L447.2,492.6 L457.8,491.5 L468.3,492.5 L478.9,490.4 L489.5,490.0 L500.0,491.6 L510.6,492.6 L521.1,491.3 L531.7,492.0 L542.3,490.7 L552.8,490.7 L563.4,491.4 L573.9,490.8 L584.5,489.8 L595.1,489.1 L605.6,491.5 L616.2,490.1 L626.8,491.2 L637.3,492.0 L647.9,489.5 L658.4,490.5 L669.0,490.7"/>
<path d="M67.0,490.3 L77.6,488.1 L88.1,483.7 L98.7,477.8 L109.2,469.9 L119.8,454.7 L130.4,428.6 L140.9,384.5 L151.5,329.7 L162.1,268.5 L172.6,213.2 L183.2,179.0 L193.7,158.9 L204.3,149.5 L214.9,145.1 L225.4,143.6 L236.0,144.9 L246.5,148.9 L257.1,158.9 L267.7,176.5 L278.2,207.7 L288.8,258.1 L299.4,324.7 L309.9,383.0 L320.5,422.1 L331.0,446.4 L341.6,462.4 L352.2,473.6 L362.7,481.2 L373.3,486.4 L383.8,490.2 L394.4,489.3 L405.0,493.3 L415.5,490.9 L426.1,491.7 L436.6,492.2 L447.2,491.2 L457.8,492.6 L468.3,493.7 L478.9,492.3 L489.5,491.6 L500.0,489.3 L510.6,492.1 L521.1,492.6 L531.7,493.4 L542.3,491.7 L552.8,491.6 L563.4,491.1 L573.9,492.9 L584.5,492.1 L595.1,493.7 L605.6,491.1 L616.2,493.0 L626.8,494.3 L637.3,490.0 L647.9,490.8 L658.4,490.9 L669.0,490.9"/>
<path d="M67.0,490.4 L77.6,488.9 L88.1,484.8 L98.7,479.5 L109.2,471.6 L119.8,458.4 L130.4,435.6 L140.9,396.6 L151.5,341.4 L162.1,286.0 L172.6,220.5 L183.2,183.3 L193.7,159.2 L204.3,149.4 L214.9,144.0 L225.4,141.8 L236.0,142.3 L246.5,145.5 L257.1,153.9 L267.7,169.5 L278.2,196.9 L288.8,241.4 L299.4,306.5 L309.9,369.3 L320.5,413.6 L331.0,440.8 L341.6,458.7 L352.2,471.4 L362.7,479.8 L373.3,485.3 L383.8,489.4 L394.4,491.2 L405.0,492.9 L415.5,493.4 L426.1,492.2 L436.6,491.7 L447.2,493.9 L457.8,491.6 L468.3,492.2 L478.9,492.6 L489.5,495.0 L500.0,492.9 L510.6,491.6 L521.1,493.4 L531.7,490.6 L542.3,493.0 L552.8,494.2 L563.4,492.5 L573.9,492.8 L584.5,492.2 L595.1,493.3 L605.6,491.7 L616.2,493.7 L626.8,493.0 L637.3,494.5 L647.9,494.0 L658.4,492.9 L669.0,493.8"/>
<path d="M67.0,488.0 L77.6,486.4 L88.1,481.5 L98.7,474.8 L109.2,465.4 L119.8,447.7 L130.4,418.4 L140.9,370.4 L151.5,317.9 L162.1,253.6 L172.6,208.9 L183.2,178.2 L193.7,160.6 L204.3,152.0 L214.9,147.8 L225.4,146.5 L236.0,147.7 L246.5,151.4 L257.1,160.4 L267.7,176.2 L278.2,204.2 L288.8,248.2 L299.4,310.5 L309.9,370.2 L320.5,413.0 L331.0,439.8 L341.6,457.5 L352.2,470.5 L362.7,478.8 L373.3,484.3 L383.8,488.6 L394.4,489.8 L405.0,489.9 L415.5,487.6 L426.1,487.8 L436.6,491.2 L447.2,491.1 L457.8,490.1 L468.3,490.4 L478.9,488.3 L489.5,488.6 L500.0,486.6 L510.6,487.9 L521.1,488.7 L531.7,487.5 L542.3,489.8 L552.8,490.3 L563.4,488.8 L573.9,487.8 L584.5,490.6 L595.1,487.8 L605.6,487.8 L616.2,489.3 L626.8,488.6 L637.3,489.1 L647.9,488.7 L658.4,487.9 L669.0,489.7"/>
<path d="M67.0,489.2 L77.6,485.4 L88.1,480.3 L98.7,473.2 L109.2,463.5 L119.8,445.1 L130.4,415.1 L140.9,365.9 L151.5,310.8 L162.1,245.9 L172.6,194.4 L183.2,160.4 L193.7,139.9 L204.3,130.1 L214.9,125.6 L225.4,123.6 L236.0,124.2 L246.5,127.3 L257.1,135.3 L267.7,150.1 L278.2,175.2 L288.8,215.8 L299.4,275.8 L309.9,342.8 L320.5,393.9 L331.0,427.4 L341.6,448.8 L352.2,463.5 L362.7,473.8 L373.3,481.0 L383.8,486.1 L394.4,490.1 L405.0,492.7 L415.5,494.0 L426.1,494.3 L436.6,494.5 L447.2,494.7 L457.8,494.7 L468.3,494.7 L478.9,494.7 L489.5,494.7 L500.0,494.7 L510.6,494.8 L521.1,494.9 L531.7,494.9 L542.3,495.0 L552.8,495.1 L563.4,495.1 L573.9,495.1 L584.5,495.2 L595.1,495.1 L605.6,495.2 L616.2,495.3 L626.8,495.3 L637.3,495.3 L647.9,495.3 L658.4,495.1 L669.0,494.9"/>
<path d="M67.0,486.0 L77.6,484.9 L88.1,480.1 L98.7,472.7 L109.2,461.3 L119.8,442.8 L130.4,411.0 L140.9,360.2 L151.5,308.7 L162.1,243.7 L172.6,204.3 L183.2,175.6 L193.7,159.6 L204.3,151.6 L214.9,147.4 L225.4,146.3 L236.0,147.6 L246.5,151.2 L257.1,159.8 L267.7,175.0 L278.2,201.2 L288.8,242.4 L299.4,301.5 L309.9,362.7 L320.5,407.3 L331.0,435.9 L341.6,454.5 L352.2,467.8 L362.7,476.8 L373.3,482.9 L383.8,487.5 L394.4,489.6 L405.0,489.1 L415.5,488.0 L426.1,489.0 L436.6,490.4 L447.2,487.7 L457.8,488.4 L468.3,488.6 L478.9,488.9 L489.5,490.7 L500.0,486.5 L510.6,488.8 L521.1,487.7 L531.7,486.7 L542.3,487.0 L552.8,488.0 L563.4,488.2 L573.9,487.9 L584.5,487.2 L595.1,487.6 L605.6,488.7 L616.2,487.7 L626.8,487.8 L637.3,487.5 L647.9,488.0 L658.4,486.7 L669.0,488.0"/>
<path d="M67.0,487.2 L77.6,486.5 L88.1,482.2 L98.7,475.8 L109.2,467.6 L119.8,450.5 L130.4,422.5 L140.9,375.3 L151.5,318.4 L162.1,253.9 L172.6,197.9 L183.2,162.5 L193.7,141.6 L204.3,131.8 L214.9,127.2 L225.4,125.6 L236.0,126.8 L246.5,130.7 L257.1,140.3 L267.7,157.5 L278.2,188.5 L288.8,237.7 L299.4,306.1 L309.9,368.7 L320.5,412.8 L331.0,439.7 L341.6,457.7 L352.2,470.6 L362.7,479.1 L373.3,484.8 L383.8,486.1 L394.4,486.2 L405.0,488.6 L415.5,486.5 L426.1,487.0 L436.6,486.8 L447.2,488.0 L457.8,487.6 L468.3,488.0 L478.9,487.0 L489.5,487.3 L500.0,485.2 L510.6,486.4 L521.1,488.8 L531.7,486.6 L542.3,485.5 L552.8,486.8 L563.4,485.9 L573.9,487.1 L584.5,486.3 L595.1,488.1 L605.6,486.2 L616.2,488.6 L626.8,485.6 L637.3,488.7 L647.9,489.4 L658.4,486.5 L669.0,487.3"/>
<path d="M67.0,491.3 L77.6,488.4 L88.1,484.2 L98.7,478.6 L109.2,471.6 L119.8,456.5 L130.4,432.3 L140.9,391.9 L151.5,344.3 L162.1,289.9 L172.6,243.3 L183.2,213.6 L193.7,195.8 L204.3,187.4 L214.9,183.6 L225.4,182.0 L236.0,182.8 L246.5,185.8 L257.1,193.3 L267.7,207.0 L278.2,230.6 L288.8,268.6 L299.4,323.8 L309.9,379.5 L320.5,419.4 L331.0,444.5 L341.6,460.9 L352.2,472.8 L362.7,480.5 L373.3,485.6 L383.8,489.5 L394.4,492.5 L405.0,494.6 L415.5,494.9 L426.1,495.1 L436.6,495.3 L447.2,494.9 L457.8,492.4 L468.3,494.6 L478.9,495.2 L489.5,493.6 L500.0,495.4 L510.6,494.8 L521.1,494.1 L531.7,494.3 L542.3,494.8 L552.8,495.6 L563.4,495.7 L573.9,495.4 L584.5,495.8 L595.1,494.4 L605.6,495.4 L616.2,494.6 L626.8,495.8 L637.3,494.1 L647.9,495.7 L658.4,495.6 L669.0,495.4"/>
<path d="M67.0,490.2 L77.6,486.5 L88.1,481.8 L98.7,475.3 L109.2,466.9 L119.8,449.9 L130.4,422.5 L140.9,377.4 L151.5,324.9 L162.1,265.1 L172.6,212.7 L183.2,179.2 L193.7,158.8 L204.3,149.4 L214.9,144.8 L225.4,142.7 L236.0,143.1 L246.5,146.0 L257.1,153.3 L267.7,167.1 L278.2,190.6 L288.8,228.7 L299.4,285.6 L309.9,349.5 L320.5,398.4 L331.0,430.6 L341.6,451.1 L352.2,465.2 L362.7,475.1 L373.3,481.9 L383.8,486.8 L394.4,490.6 L405.0,493.0 L415.5,494.3 L426.1,493.6 L436.6,494.8 L447.2,494.9 L457.8,494.9 L468.3,494.9 L478.9,494.9 L489.5,494.9 L500.0,495.0 L510.6,495.0 L521.1,495.1 L531.7,495.1 L542.3,495.2 L552.8,495.0 L563.4,495.3 L573.9,494.2 L584.5,495.4 L595.1,494.3 L605.6,495.4 L616.2,495.5 L626.8,495.5 L637.3,495.5 L647.9,495.5 L658.4,495.3 L669.0,495.1"/>
<path d="M67.0,490.2 L77.6,487.2 L88.1,482.7 L98.7,476.6 L109.2,468.8 L119.8,453.2 L130.4,427.3 L140.9,384.3 L151.5,329.6 L162.1,271.5 L172.6,210.8 L183.2,174.0 L193.7,151.1 L204.3,141.3 L214.9,136.0 L225.4,133.6 L236.0,133.8 L246.5,136.6 L257.1,144.1 L267.7,158.2 L278.2,182.6 L288.8,222.4 L299.4,281.6 L309.9,347.9 L320.5,398.2 L331.0,430.7 L341.6,451.2 L352.2,465.5 L362.7,475.4 L373.3,482.1 L383.8,487.0 L394.4,490.9 L405.0,493.3 L415.5,494.2 L426.1,494.4 L436.6,494.7 L447.2,494.8 L457.8,494.8 L468.3,494.8 L478.9,494.8 L489.5,494.8 L500.0,494.9 L510.6,494.9 L521.1,495.0 L531.7,495.1 L542.3,495.1 L552.8,495.2 L563.4,495.2 L573.9,495.3 L584.5,495.3 L595.1,495.3 L605.6,495.4 L616.2,495.4 L626.8,495.4 L637.3,495.4 L647.9,495.3 L658.4,495.1 L669.0,494.9"/>
<path d="M67.0,491.3 L77.6,488.3 L88.1,484.1 L98.7,478.2 L109.2,470.6 L119.8,454.8 L130.4,429.0 L140.9,385.9 L151.5,337.3 L162.1,278.5 L172.6,236.8 L183.2,208.7 L193.7,193.0 L204.3,185.4 L214.9,181.6 L225.4,180.6 L236.0,182.1 L246.5,186.0 L257.1,195.9 L267.7,212.6 L278.2,241.4 L288.8,288.4 L299.4,347.1 L309.9,397.7 L320.5,431.5 L331.0,452.9 L341.6,466.6 L352.2,476.5 L362.7,483.1 L373.3,487.8 L383.8,491.3 L394.4,493.6 L405.0,494.8 L415.5,495.0 L426.1,495.2 L436.6,495.4 L447.2,494.9 L457.8,495.4 L468.3,495.0 L478.9,494.7 L489.5,494.9 L500.0,495.5 L510.6,495.5 L521.1,495.6 L531.7,495.6 L542.3,495.2 L552.8,495.7 L563.4,494.2 L573.9,494.1 L584.5,495.8 L595.1,494.7 L605.6,495.8 L616.2,495.8 L626.8,495.8 L637.3,495.7 L647.9,495.6 L658.4,495.4 L669.0,493.6"/>
<path d="M67.0,489.6 L77.6,486.3 L88.1,481.5 L98.7,474.7 L109.2,465.2 L119.8,447.9 L130.4,419.0 L140.9,372.0 L151.5,320.6 L162.1,258.3 L172.6,213.4 L183.2,182.8 L193.7,164.8 L204.3,156.0 L214.9,151.9 L225.4,150.4 L236.0,151.3 L246.5,154.5 L257.1,162.6 L267.7,177.2 L278.2,202.1 L288.8,242.3 L299.4,299.6 L309.9,361.7 L320.5,407.0 L331.0,436.0 L341.6,454.7 L352.2,468.0 L362.7,477.0 L373.3,483.2 L383.8,487.7 L394.4,491.3 L405.0,489.3 L415.5,487.4 L426.1,489.2 L436.6,488.8 L447.2,489.7 L457.8,489.4 L468.3,486.8 L478.9,487.9 L489.5,489.7 L500.0,489.8 L510.6,489.3 L521.1,486.9 L531.7,489.1 L542.3,488.1 L552.8,489.7 L563.4,490.7 L573.9,487.9 L584.5,489.4 L595.1,490.2 L605.6,490.1 L616.2,490.1 L626.8,490.0 L637.3,491.0 L647.9,488.0 L658.4,488.9 L669.0,488.3"/>
<path d="M67.0,487.5 L77.6,486.4 L88.1,481.6 L98.7,475.0 L109.2,466.3 L119.8,448.6 L130.4,420.0 L140.9,372.7 L151.5,318.2 L162.1,254.7 L172.6,203.3 L183.2,169.8 L193.7,150.0 L204.3,140.5 L214.9,136.1 L225.4,134.4 L236.0,135.3 L246.5,138.8 L257.1,147.5 L267.7,163.1 L278.2,190.0 L288.8,233.5 L299.4,296.2 L309.9,360.3 L320.5,406.4 L331.0,435.6 L341.6,454.6 L352.2,468.4 L362.7,477.3 L373.3,483.3 L383.8,487.9 L394.4,488.9 L405.0,487.1 L415.5,488.6 L426.1,486.8 L436.6,489.6 L447.2,489.8 L457.8,488.2 L468.3,487.5 L478.9,489.1 L489.5,487.7 L500.0,487.3 L510.6,487.2 L521.1,488.5 L531.7,488.4 L542.3,490.2 L552.8,488.3 L563.4,488.0 L573.9,486.8 L584.5,489.7 L595.1,489.3 L605.6,489.4 L616.2,487.4 L626.8,491.1 L637.3,489.5 L647.9,486.1 L658.4,487.6 L669.0,489.8"/>
<path d="M67.0,490.2 L77.6,487.4 L88.1,483.0 L98.7,477.0 L109.2,469.0 L119.8,453.1 L130.4,427.3 L140.9,384.8 L151.5,335.8 L162.1,279.2 L172.6,231.5 L183.2,200.7 L193.7,182.0 L204.3,173.3 L214.9,169.2 L225.4,167.4 L236.0,168.0 L246.5,170.8 L257.1,178.0 L267.7,191.3 L278.2,214.1 L288.8,250.9 L299.4,304.6 L309.9,364.3 L320.5,408.9 L331.0,437.6 L341.6,455.9 L352.2,468.7 L362.7,477.6 L373.3,483.6 L383.8,488.0 L394.4,489.3 L405.0,491.8 L415.5,490.6 L426.1,490.1 L436.6,489.6 L447.2,489.1 L457.8,490.2 L468.3,491.0 L478.9,489.0 L489.5,489.7 L500.0,488.4 L510.6,489.9 L521.1,488.6 L531.7,490.3 L542.3,489.0 L552.8,489.2 L563.4,488.8 L573.9,490.3 L584.5,489.5 L595.1,490.3 L605.6,489.5 L616.2,488.7 L626.8,486.1 L637.3,489.3 L647.9,488.6 L658.4,489.2 L669.0,488.1"/>
<path d="M67.0,485.5 L77.6,487.5 L88.1,483.1 L98.7,477.0 L109.2,469.6 L119.8,453.6 L130.4,428.1 L140.9,385.6 L151.5,334.8 L162.1,278.0 L172.6,226.1 L183.2,193.4 L193.7,173.4 L204.3,164.4 L214.9,159.9 L225.4,157.9 L236.0,158.4 L246.5,161.2 L257.1,168.5 L267.7,182.1 L278.2,205.5 L288.8,243.4 L299.4,298.8 L309.9,360.4 L320.5,406.4 L331.0,436.0 L341.6,454.8 L352.2,468.1 L362.7,477.2 L373.3,483.3 L383.8,486.0 L394.4,487.1 L405.0,487.6 L415.5,486.6 L426.1,486.4 L436.6,486.1 L447.2,486.1 L457.8,487.7 L468.3,486.5 L478.9,485.7 L489.5,487.5 L500.0,486.6 L510.6,487.7 L521.1,486.8 L531.7,485.1 L542.3,486.8 L552.8,488.0 L563.4,486.6 L573.9,486.8 L584.5,485.8 L595.1,488.5 L605.6,488.0 L616.2,487.1 L626.8,488.7 L637.3,485.8 L647.9,489.2 L658.4,487.9 L669.0,488.6"/>
<path d="M67.0,491.0 L77.6,487.7 L88.1,483.5 L98.7,477.6 L109.2,469.8 L119.8,454.3 L130.4,429.3 L140.9,388.0 L151.5,340.8 L162.1,285.9 L172.6,240.6 L183.2,211.1 L193.7,193.3 L204.3,184.9 L214.9,181.0 L225.4,179.3 L236.0,179.9 L246.5,182.6 L257.1,189.6 L267.7,202.4 L278.2,224.4 L288.8,259.9 L299.4,311.6 L309.9,369.1 L320.5,412.0 L331.0,439.7 L341.6,457.3 L352.2,469.7 L362.7,478.3 L373.3,484.1 L383.8,488.4 L394.4,491.8 L405.0,493.9 L415.5,494.8 L426.1,495.0 L436.6,495.2 L447.2,495.4 L457.8,495.4 L468.3,495.4 L478.9,495.4 L489.5,495.4 L500.0,495.4 L510.6,495.4 L521.1,495.5 L531.7,495.6 L542.3,495.6 L552.8,495.7 L563.4,495.7 L573.9,495.7 L584.5,495.7 L595.1,495.8 L605.6,495.8 L616.2,495.8 L626.8,495.8 L637.3,495.8 L647.9,495.8 L658.4,495.7 L669.0,495.5"/>
<path d="M67.0,489.1 L77.6,485.4 L88.1,480.3 L98.7,473.2 L109.2,462.9 L119.8,444.7 L130.4,414.2 L140.9,364.9 L151.5,311.8 L162.1,246.9 L172.6,201.0 L183.2,169.3 L193.7,150.5 L204.3,141.4 L214.9,137.1 L225.4,135.5 L236.0,136.3 L246.5,139.5 L257.1,147.5 L267.7,162.1 L278.2,187.0 L288.8,227.0 L299.4,285.1 L309.9,349.9 L320.5,398.7 L331.0,430.5 L341.6,450.8 L352.2,464.9 L362.7,474.8 L373.3,481.6 L383.8,486.6 L394.4,490.4 L405.0,492.9 L415.5,494.2 L426.1,494.4 L436.6,494.7 L447.2,494.9 L457.8,494.9 L468.3,494.9 L478.9,494.9 L489.5,494.9 L500.0,494.9 L510.6,494.9 L521.1,495.0 L531.7,495.1 L542.3,495.1 L552.8,495.2 L563.4,495.2 L573.9,495.3 L584.5,495.3 L595.1,495.3 L605.6,495.4 L616.2,495.4 L626.8,495.4 L637.3,494.8 L647.9,495.4 L658.4,495.3 L669.0,495.1"/>
<path d="M67.0,489.3 L77.6,485.6 L88.1,480.5 L98.7,473.4 L109.2,462.7 L119.8,444.2 L130.4,413.0 L140.9,362.3 L151.5,309.3 L162.1,242.3 L172.6,201.2 L183.2,171.4 L193.7,154.8 L204.3,146.5 L214.9,142.3 L225.4,141.2 L236.0,142.7 L246.5,146.6 L257.1,156.1 L267.7,172.4 L278.2,201.4 L288.8,246.6 L299.4,309.8 L309.9,369.5 L320.5,412.3 L331.0,439.2 L341.6,457.0 L352.2,470.1 L362.7,478.4 L373.3,484.0 L383.8,488.4 L394.4,491.7 L405.0,490.9 L415.5,491.9 L426.1,493.3 L436.6,491.5 L447.2,491.3 L457.8,491.0 L468.3,492.8 L478.9,492.6 L489.5,491.5 L500.0,492.3 L510.6,491.9 L521.1,490.8 L531.7,491.4 L542.3,489.9 L552.8,491.5 L563.4,490.0 L573.9,490.7 L584.5,489.1 L595.1,491.8 L605.6,491.9 L616.2,490.4 L626.8,492.4 L637.3,492.3 L647.9,491.5 L658.4,491.4 L669.0,493.3"/>
<path d="M67.0,489.2 L77.6,486.5 L88.1,481.7 L98.7,475.0 L109.2,465.9 L119.8,448.3 L130.4,419.2 L140.9,371.4 L151.5,318.3 L162.1,254.0 L172.6,207.6 L183.2,176.3 L193.7,158.2 L204.3,149.5 L214.9,145.2 L225.4,143.9 L236.0,145.2 L246.5,148.9 L257.1,158.1 L267.7,174.1 L278.2,202.9 L288.8,248.0 L299.4,311.3 L309.9,371.1 L320.5,413.8 L331.0,440.4 L341.6,457.9 L352.2,470.8 L362.7,479.1 L373.3,484.6 L383.8,488.5 L394.4,489.0 L405.0,487.3 L415.5,490.5 L426.1,492.1 L436.6,487.4 L447.2,488.6 L457.8,490.8 L468.3,489.4 L478.9,488.3 L489.5,490.3 L500.0,488.4 L510.6,486.7 L521.1,487.5 L531.7,489.0 L542.3,488.7 L552.8,490.0 L563.4,488.9 L573.9,489.4 L584.5,490.1 L595.1,490.4 L605.6,486.9 L616.2,488.9 L626.8,490.1 L637.3,489.5 L647.9,487.4 L658.4,487.3 L669.0,489.7"/>
<path d="M67.0,490.6 L77.6,488.0 L88.1,483.7 L98.7,477.9 L109.2,470.4 L119.8,455.7 L130.4,430.8 L140.9,389.4 L151.5,336.8 L162.1,280.3 L172.6,223.4 L183.2,188.8 L193.7,167.6 L204.3,158.2 L214.9,153.5 L225.4,151.4 L236.0,151.9 L246.5,154.9 L257.1,162.7 L267.7,177.2 L278.2,202.2 L288.8,242.9 L299.4,301.7 L309.9,364.5 L320.5,409.6 L331.0,438.1 L341.6,456.5 L352.2,469.8 L362.7,478.4 L373.3,484.2 L383.8,488.5 L394.4,491.8 L405.0,494.2 L415.5,494.5 L426.1,494.6 L436.6,495.0 L447.2,494.5 L457.8,493.7 L468.3,495.0 L478.9,495.0 L489.5,494.9 L500.0,495.1 L510.6,494.8 L521.1,495.2 L531.7,494.7 L542.3,493.8 L552.8,494.1 L563.4,495.4 L573.9,495.5 L584.5,495.5 L595.1,495.5 L605.6,495.5 L616.2,494.9 L626.8,495.5 L637.3,495.5 L647.9,495.4 L658.4,495.2 L669.0,495.0"/>
<path d="M67.0,488.2 L77.6,484.1 L88.1,478.7 L98.7,471.2 L109.2,458.2 L119.8,436.5 L130.4,400.4 L140.9,348.3 L151.5,296.3 L162.1,231.5 L172.6,195.3 L183.2,169.5 L193.7,156.7 L204.3,150.0 L214.9,146.6 L225.4,145.7 L236.0,147.8 L246.5,152.3 L257.1,163.8 L267.7,182.2 L278.2,213.2 L288.8,262.8 L299.4,326.0 L309.9,381.4 L320.5,420.1 L331.0,443.8 L341.6,460.1 L352.2,471.9 L362.7,479.8 L373.3,485.0 L383.8,489.1 L394.4,492.1 L405.0,494.2 L415.5,494.5 L426.1,494.7 L436.6,494.8 L447.2,494.3 L457.8,495.0 L468.3,495.0 L478.9,495.0 L489.5,495.0 L500.0,494.7 L510.6,494.6 L521.1,492.7 L531.7,494.1 L542.3,494.2 L552.8,495.3 L563.4,494.0 L573.9,494.1 L584.5,494.1 L595.1,495.0 L605.6,494.2 L616.2,493.2 L626.8,495.5 L637.3,495.5 L647.9,494.0 L658.4,494.1 L669.0,495.1"/>
<path d="M67.0,490.0 L77.6,488.9 L88.1,484.8 L98.7,479.5 L109.2,471.7 L119.8,459.5 L130.4,438.8 L140.9,403.2 L151.5,346.9 L162.1,290.6 L172.6,220.6 L183.2,180.7 L193.7,152.6 L204.3,139.0 L214.9,132.0 L225.4,128.7 L236.0,128.1 L246.5,130.3 L257.1,136.8 L267.7,150.1 L278.2,173.0 L288.8,211.3 L299.4,271.0 L309.9,339.0 L320.5,392.3 L331.0,427.4 L341.6,449.4 L352.2,464.4 L362.7,474.8 L373.3,481.8 L383.8,486.8 L394.4,490.8 L405.0,492.3 L415.5,493.4 L426.1,493.5 L436.6,494.0 L447.2,493.6 L457.8,492.9 L468.3,493.9 L478.9,494.8 L489.5,493.5 L500.0,493.8 L510.6,493.1 L521.1,493.6 L531.7,491.9 L542.3,494.9 L552.8,494.7 L563.4,492.9 L573.9,494.7 L584.5,493.3 L595.1,493.6 L605.6,495.3 L616.2,492.9 L626.8,492.2 L637.3,493.4 L647.9,495.1 L658.4,492.8 L669.0,494.7"/>
<path d="M67.0,491.0 L77.6,488.8 L88.1,484.7 L98.7,479.3 L109.2,472.0 L119.8,458.2 L130.4,434.4 L140.9,394.4 L151.5,343.5 L162.1,288.2 L172.6,234.4 L183.2,201.5 L193.7,181.9 L204.3,172.8 L214.9,168.6 L225.4,166.9 L236.0,167.8 L246.5,171.1 L257.1,179.4 L267.7,194.5 L278.2,221.4 L288.8,264.5 L299.4,325.4 L309.9,381.9 L320.5,421.7 L331.0,446.0 L341.6,462.2 L352.2,473.7 L362.7,481.3 L373.3,486.4 L383.8,490.2 L394.4,492.9 L405.0,494.1 L415.5,491.9 L426.1,495.0 L436.6,495.0 L447.2,495.1 L457.8,494.6 L468.3,494.2 L478.9,495.2 L489.5,495.2 L500.0,494.6 L510.6,493.9 L521.1,495.4 L531.7,495.5 L542.3,493.8 L552.8,494.1 L563.4,493.8 L573.9,495.6 L584.5,495.2 L595.1,494.7 L605.6,494.5 L616.2,495.1 L626.8,495.0 L637.3,493.9 L647.9,495.4 L658.4,495.3 L669.0,495.2"/>
<path d="M67.0,490.7 L77.6,487.6 L88.1,483.1 L98.7,477.0 L109.2,469.4 L119.8,453.0 L130.4,426.6 L140.9,382.5 L151.5,331.0 L162.1,271.3 L172.6,222.2 L183.2,190.6 L193.7,172.0 L204.3,163.2 L214.9,159.0 L225.4,157.5 L236.0,158.6 L246.5,162.0 L257.1,170.6 L267.7,185.9 L278.2,213.2 L288.8,256.3 L299.4,317.6 L309.9,375.7 L320.5,417.1 L331.0,442.8 L341.6,459.7 L352.2,472.1 L362.7,480.1 L373.3,485.3 L383.8,489.3 L394.4,492.1 L405.0,493.2 L415.5,493.3 L426.1,493.6 L436.6,492.6 L447.2,492.8 L457.8,494.3 L468.3,493.9 L478.9,493.6 L489.5,493.2 L500.0,493.2 L510.6,493.5 L521.1,492.2 L531.7,491.9 L542.3,492.8 L552.8,495.1 L563.4,493.0 L573.9,492.3 L584.5,492.9 L595.1,492.6 L605.6,492.7 L616.2,494.4 L626.8,495.4 L637.3,492.2 L647.9,493.4 L658.4,492.4 L669.0,493.1"/>
<path d="M67.0,490.9 L77.6,489.8 L88.1,486.1 L98.7,481.2 L109.2,473.9 L119.8,462.1 L130.4,441.8 L140.9,406.7 L151.5,355.1 L162.1,303.5 L172.6,241.2 L183.2,206.3 L193.7,182.9 L204.3,173.2 L214.9,168.0 L225.4,165.8 L236.0,166.1 L246.5,169.0 L257.1,176.7 L267.7,191.0 L278.2,216.0 L288.8,257.0 L299.4,317.3 L309.9,376.6 L320.5,418.5 L331.0,444.3 L341.6,461.1 L352.2,473.1 L362.7,481.0 L373.3,486.1 L383.8,490.0 L394.4,492.8 L405.0,494.5 L415.5,494.2 L426.1,494.9 L436.6,492.0 L447.2,495.2 L457.8,494.2 L468.3,495.2 L478.9,493.2 L489.5,495.1 L500.0,492.6 L510.6,494.8 L521.1,493.1 L531.7,494.1 L542.3,493.0 L552.8,494.2 L563.4,495.6 L573.9,495.0 L584.5,495.7 L595.1,493.3 L605.6,493.7 L616.2,494.3 L626.8,493.8 L637.3,494.1 L647.9,494.8 L658.4,492.3 L669.0,494.0"/>
<path d="M67.0,489.7 L77.6,487.8 L88.1,483.5 L98.7,477.3 L109.2,468.8 L119.8,452.4 L130.4,425.1 L140.9,380.2 L151.5,331.6 L162.1,270.6 L172.6,233.0 L183.2,206.1 L193.7,191.6 L204.3,184.5 L214.9,181.0 L225.4,180.0 L236.0,181.8 L246.5,186.0 L257.1,196.6 L267.7,214.1 L278.2,244.2 L288.8,292.8 L299.4,351.2 L309.9,400.4 L320.5,433.2 L331.0,454.0 L341.6,467.3 L352.2,476.9 L362.7,483.4 L373.3,488.0 L383.8,489.7 L394.4,488.8 L405.0,488.0 L415.5,490.3 L426.1,491.0 L436.6,490.6 L447.2,488.1 L457.8,488.3 L468.3,489.9 L478.9,489.3 L489.5,489.1 L500.0,488.5 L510.6,491.5 L521.1,490.1 L531.7,489.8 L542.3,489.2 L552.8,489.5 L563.4,489.9 L573.9,489.2 L584.5,492.2 L595.1,486.4 L605.6,488.7 L616.2,488.6 L626.8,490.2 L637.3,489.1 L647.9,487.4 L658.4,487.7 L669.0,489.5"/>
<path d="M67.0,490.3 L77.6,487.0 L88.1,482.4 L98.7,476.0 L109.2,468.1 L119.8,450.9 L130.4,423.3 L140.9,377.1 L151.5,322.5 L162.1,259.9 L172.6,207.1 L183.2,173.4 L193.7,153.5 L204.3,144.0 L214.9,139.6 L225.4,138.0 L236.0,139.1 L246.5,142.7 L257.1,151.8 L267.7,168.0 L278.2,196.9 L288.8,242.6 L299.4,307.5 L309.9,369.0 L320.5,412.7 L331.0,439.8 L341.6,457.6 L352.2,470.6 L362.7,479.1 L373.3,484.6 L383.8,488.8 L394.4,492.0 L405.0,494.1 L415.5,494.4 L426.1,494.6 L436.6,494.9 L447.2,494.9 L457.8,494.9 L468.3,494.9 L478.9,494.9 L489.5,494.9 L500.0,495.0 L510.6,495.0 L521.1,495.1 L531.7,495.2 L542.3,495.2 L552.8,495.3 L563.4,495.3 L573.9,495.3 L584.5,495.4 L595.1,495.4 L605.6,495.4 L616.2,495.4 L626.8,495.4 L637.3,495.4 L647.9,495.2 L658.4,495.0 L669.0,494.9"/>
<path d="M67.0,490.6 L77.6,487.8 L88.1,483.4 L98.7,477.4 L109.2,469.7 L119.8,453.4 L130.4,426.8 L140.9,381.8 L151.5,328.6 L162.1,266.8 L172.6,216.9 L183.2,184.9 L193.7,166.5 L204.3,157.8 L214.9,153.5 L225.4,152.4 L236.0,153.8 L246.5,157.8 L257.1,168.1 L267.7,185.8 L278.2,216.6 L288.8,266.8 L299.4,331.3 L309.9,387.3 L320.5,424.8 L331.0,448.2 L341.6,463.5 L352.2,474.4 L362.7,481.7 L373.3,486.8 L383.8,490.6 L394.4,493.2 L405.0,494.4 L415.5,494.7 L426.1,494.9 L436.6,495.1 L447.2,495.1 L457.8,495.1 L468.3,495.1 L478.9,495.1 L489.5,494.8 L500.0,495.2 L510.6,495.2 L521.1,494.4 L531.7,495.4 L542.3,495.4 L552.8,495.4 L563.4,495.5 L573.9,495.5 L584.5,495.5 L595.1,495.6 L605.6,495.6 L616.2,495.0 L626.8,495.6 L637.3,495.4 L647.9,495.2 L658.4,495.1 L669.0,495.1"/>
<path d="M67.0,489.3 L77.6,485.5 L88.1,480.4 L98.7,473.1 L109.2,462.6 L119.8,443.8 L130.4,412.1 L140.9,360.7 L151.5,306.1 L162.1,237.3 L172.6,194.2 L183.2,163.2 L193.7,145.9 L204.3,137.3 L214.9,133.0 L225.4,131.8 L236.0,133.3 L246.5,137.4 L257.1,147.3 L267.7,164.1 L278.2,194.2 L288.8,241.4 L299.4,306.8 L309.9,367.7 L320.5,411.3 L331.0,438.5 L341.6,456.5 L352.2,469.8 L362.7,478.3 L373.3,483.9 L383.8,488.3 L394.4,491.6 L405.0,493.9 L415.5,494.3 L426.1,494.0 L436.6,494.6 L447.2,492.4 L457.8,494.8 L468.3,494.8 L478.9,494.8 L489.5,494.8 L500.0,494.5 L510.6,494.0 L521.1,495.0 L531.7,493.6 L542.3,492.6 L552.8,492.8 L563.4,491.9 L573.9,492.8 L584.5,494.0 L595.1,492.1 L605.6,493.2 L616.2,492.0 L626.8,494.1 L637.3,495.3 L647.9,495.1 L658.4,493.7 L669.0,493.4"/>
<path d="M67.0,490.6 L77.6,489.1 L88.1,485.1 L98.7,479.9 L109.2,472.1 L119.8,459.2 L130.4,436.8 L140.9,398.4 L151.5,344.4 L162.1,289.9 L172.6,226.3 L183.2,189.9 L193.7,166.6 L204.3,157.0 L214.9,151.9 L225.4,149.7 L236.0,150.3 L246.5,153.5 L257.1,161.8 L267.7,177.2 L278.2,204.3 L288.8,248.4 L299.4,312.3 L309.9,373.3 L320.5,416.3 L331.0,442.6 L341.6,460.0 L352.2,472.3 L362.7,480.3 L373.3,485.7 L383.8,489.7 L394.4,492.6 L405.0,494.3 L415.5,494.6 L426.1,494.8 L436.6,495.0 L447.2,495.0 L457.8,495.0 L468.3,495.0 L478.9,495.0 L489.5,495.1 L500.0,495.1 L510.6,495.2 L521.1,495.3 L531.7,495.3 L542.3,495.4 L552.8,495.4 L563.4,495.4 L573.9,495.5 L584.5,495.5 L595.1,495.5 L605.6,495.5 L616.2,495.5 L626.8,495.5 L637.3,495.4 L647.9,495.2 L658.4,495.0 L669.0,495.0"/>
<path d="M67.0,491.3 L77.6,488.2 L88.1,484.0 L98.7,478.4 L109.2,471.3 L119.8,456.3 L130.4,432.2 L140.9,392.3 L151.5,345.0 L162.1,291.7 L172.6,244.2 L183.2,214.1 L193.7,195.9 L204.3,187.4 L214.9,183.4 L225.4,181.6 L236.0,182.1 L246.5,184.8 L257.1,191.8 L267.7,204.6 L278.2,226.6 L288.8,262.2 L299.4,313.9 L309.9,371.3 L320.5,413.7 L331.0,440.9 L341.6,458.2 L352.2,470.5 L362.7,478.9 L373.3,484.5 L383.8,488.7 L394.4,491.7 L405.0,494.1 L415.5,492.9 L426.1,494.9 L436.6,492.1 L447.2,495.0 L457.8,493.8 L468.3,492.4 L478.9,493.0 L489.5,493.1 L500.0,493.7 L510.6,493.2 L521.1,494.5 L531.7,492.3 L542.3,491.8 L552.8,491.9 L563.4,492.7 L573.9,491.4 L584.5,492.2 L595.1,491.7 L605.6,492.3 L616.2,492.6 L626.8,493.5 L637.3,495.4 L647.9,492.0 L658.4,492.8 L669.0,490.6"/>
<path d="M67.0,490.3 L77.6,488.4 L88.1,484.2 L98.7,478.6 L109.2,470.7 L119.8,456.7 L130.4,432.5 L140.9,391.6 L151.5,336.5 L162.1,279.1 L172.6,216.7 L183.2,179.8 L193.7,157.2 L204.3,147.4 L214.9,142.4 L225.4,140.3 L236.0,140.9 L246.5,144.3 L257.1,152.8 L267.7,168.6 L278.2,196.4 L288.8,241.4 L299.4,306.5 L309.9,369.1 L320.5,413.3 L331.0,440.5 L341.6,458.4 L352.2,471.2 L362.7,479.6 L373.3,485.1 L383.8,489.3 L394.4,492.3 L405.0,494.2 L415.5,494.4 L426.1,494.7 L436.6,494.9 L447.2,494.9 L457.8,494.9 L468.3,494.9 L478.9,494.9 L489.5,494.9 L500.0,495.0 L510.6,495.1 L521.1,495.1 L531.7,495.2 L542.3,495.3 L552.8,495.3 L563.4,495.3 L573.9,495.4 L584.5,495.4 L595.1,495.4 L605.6,495.4 L616.2,495.4 L626.8,495.4 L637.3,495.3 L647.9,495.1 L658.4,495.0 L669.0,494.9"/>
<path d="M67.0,490.3 L77.6,486.6 L88.1,481.8 L98.7,475.2 L109.2,466.2 L119.8,448.6 L130.4,419.7 L140.9,372.0 L151.5,318.8 L162.1,254.6 L172.6,207.9 L183.2,176.4 L193.7,158.2 L204.3,149.5 L214.9,145.2 L225.4,143.9 L236.0,145.2 L246.5,148.9 L257.1,158.2 L267.7,174.2 L278.2,203.2 L288.8,248.6 L299.4,312.2 L309.9,371.9 L320.5,414.3 L331.0,440.7 L341.6,458.2 L352.2,471.0 L362.7,479.3 L373.3,484.7 L383.8,488.9 L394.4,492.0 L405.0,494.2 L415.5,494.4 L426.1,494.7 L436.6,494.9 L447.2,495.0 L457.8,495.0 L468.3,495.0 L478.9,495.0 L489.5,495.0 L500.0,495.0 L510.6,495.1 L521.1,495.2 L531.7,495.2 L542.3,495.3 L552.8,495.3 L563.4,495.3 L573.9,495.4 L584.5,494.5 L595.1,495.5 L605.6,494.6 L616.2,495.5 L626.8,495.5 L637.3,495.5 L647.9,495.3 L658.4,495.1 L669.0,495.0"/>
<path d="M67.0,489.3 L77.6,485.4 L88.1,480.2 L98.7,472.9 L109.2,462.5 L119.8,443.5 L130.4,411.8 L140.9,360.0 L151.5,304.1 L162.1,234.7 L172.6,189.1 L183.2,156.9 L193.7,138.7 L204.3,129.8 L214.9,125.3 L225.4,124.1 L236.0,125.5 L246.5,129.6 L257.1,139.5 L267.7,156.5 L278.2,187.0 L288.8,234.8 L299.4,301.5 L309.9,364.2 L320.5,409.0 L331.0,437.0 L341.6,455.5 L352.2,469.1 L362.7,477.8 L373.3,483.6 L383.8,485.3 L394.4,488.3 L405.0,486.1 L415.5,486.8 L426.1,490.0 L436.6,487.6 L447.2,486.8 L457.8,487.0 L468.3,488.8 L478.9,487.6 L489.5,489.1 L500.0,489.0 L510.6,488.1 L521.1,487.7 L531.7,486.2 L542.3,487.5 L552.8,486.8 L563.4,489.1 L573.9,489.1 L584.5,488.4 L595.1,486.0 L605.6,489.3 L616.2,489.5 L626.8,487.9 L637.3,486.6 L647.9,489.6 L658.4,488.1 L669.0,489.3"/>
<path d="M67.0,490.3 L77.6,486.7 L88.1,481.9 L98.7,475.5 L109.2,467.2 L119.8,450.0 L130.4,422.3 L140.9,376.3 L151.5,322.6 L162.1,261.2 L172.6,208.6 L183.2,174.9 L193.7,154.6 L204.3,145.0 L214.9,140.6 L225.4,138.8 L236.0,139.4 L246.5,142.7 L257.1,150.8 L267.7,165.7 L278.2,191.4 L288.8,232.8 L299.4,292.4 L309.9,357.3 L320.5,404.4 L331.0,434.4 L341.6,453.7 L352.2,467.5 L362.7,476.7 L373.3,483.0 L383.8,487.6 L394.4,490.4 L405.0,489.5 L415.5,491.6 L426.1,490.5 L436.6,491.4 L447.2,489.9 L457.8,490.8 L468.3,490.8 L478.9,492.1 L489.5,491.4 L500.0,491.4 L510.6,494.9 L521.1,490.2 L531.7,491.1 L542.3,491.3 L552.8,491.5 L563.4,491.1 L573.9,490.8 L584.5,492.5 L595.1,491.0 L605.6,491.0 L616.2,491.1 L626.8,492.7 L637.3,491.2 L647.9,492.4 L658.4,490.7 L669.0,489.7"/>
<path d="M67.0,487.2 L77.6,488.3 L88.1,484.1 L98.7,478.3 L109.2,471.1 L119.8,455.5 L130.4,430.3 L140.9,388.1 L151.5,339.2 L162.1,281.8 L172.6,236.5 L183.2,207.1 L193.7,190.0 L204.3,181.9 L214.9,178.0 L225.4,176.8 L236.0,178.0 L246.5,181.5 L257.1,190.4 L267.7,205.8 L278.2,233.2 L288.8,276.9 L299.4,336.5 L309.9,389.3 L320.5,426.4 L331.0,448.9 L341.6,464.1 L352.2,474.8 L362.7,482.0 L373.3,486.9 L383.8,486.9 L394.4,486.5 L405.0,486.6 L415.5,489.1 L426.1,486.6 L436.6,487.0 L447.2,486.5 L457.8,488.5 L468.3,486.6 L478.9,487.2 L489.5,488.8 L500.0,486.2 L510.6,488.4 L521.1,488.6 L531.7,487.1 L542.3,488.2 L552.8,487.2 L563.4,487.8 L573.9,487.3 L584.5,486.7 L595.1,487.6 L605.6,486.7 L616.2,486.7 L626.8,488.4 L637.3,486.7 L647.9,486.9 L658.4,487.4 L669.0,486.4"/>
<path d="M67.0,490.3 L77.6,489.0 L88.1,484.9 L98.7,479.6 L109.2,471.6 L119.8,458.5 L130.4,435.7 L140.9,396.4 L151.5,340.1 L162.1,283.6 L172.6,217.1 L183.2,179.2 L193.7,155.2 L204.3,145.1 L214.9,139.9 L225.4,137.8 L236.0,138.5 L246.5,142.0 L257.1,151.0 L267.7,167.4 L278.2,197.2 L288.8,245.2 L299.4,313.0 L309.9,374.5 L320.5,417.4 L331.0,443.3 L341.6,460.5 L352.2,472.5 L362.7,480.5 L373.3,486.0 L383.8,490.0 L394.4,492.6 L405.0,491.3 L415.5,491.5 L426.1,492.7 L436.6,491.7 L447.2,492.6 L457.8,492.7 L468.3,490.6 L478.9,493.7 L489.5,491.3 L500.0,491.1 L510.6,492.5 L521.1,490.7 L531.7,490.9 L542.3,493.2 L552.8,491.3 L563.4,491.3 L573.9,492.6 L584.5,491.2 L595.1,491.1 L605.6,492.6 L616.2,493.9 L626.8,491.4 L637.3,492.6 L647.9,493.6 L658.4,492.2 L669.0,494.3"/>
<path d="M67.0,490.2 L77.6,490.2 L88.1,487.5 L98.7,482.7 L109.2,476.0 L119.8,467.0 L130.4,448.0 L140.9,416.2 L151.5,362.5 L162.1,304.1 L172.6,232.0 L183.2,189.1 L193.7,159.7 L204.3,146.1 L214.9,139.4 L225.4,136.6 L236.0,136.8 L246.5,140.2 L257.1,149.1 L267.7,165.9 L278.2,196.9 L288.8,248.2 L299.4,319.2 L309.9,381.3 L320.5,422.2 L331.0,447.6 L341.6,463.6 L352.2,474.8 L362.7,482.1 L373.3,487.3 L383.8,491.2 L394.4,493.8 L405.0,494.3 L415.5,494.6 L426.1,494.9 L436.6,494.9 L447.2,494.9 L457.8,494.9 L468.3,494.9 L478.9,494.9 L489.5,495.0 L500.0,495.0 L510.6,495.1 L521.1,495.2 L531.7,495.2 L542.3,495.3 L552.8,495.3 L563.4,495.3 L573.9,495.4 L584.5,495.4 L595.1,495.4 L605.6,495.4 L616.2,495.4 L626.8,495.2 L637.3,495.0 L647.9,494.9 L658.4,494.9 L669.0,494.9"/>
<path d="M67.0,489.2 L77.6,485.6 L88.1,480.7 L98.7,473.8 L109.2,463.9 L119.8,446.4 L130.4,417.4 L140.9,370.5 L151.5,319.4 L162.1,258.3 L172.6,211.6 L183.2,180.1 L193.7,161.0 L204.3,151.9 L214.9,147.5 L225.4,145.6 L236.0,145.9 L246.5,148.6 L257.1,155.4 L267.7,168.3 L278.2,190.2 L288.8,225.5 L299.4,280.0 L309.9,341.6 L320.5,391.9 L331.0,426.0 L341.6,448.1 L352.2,462.6 L362.7,473.2 L373.3,480.6 L383.8,485.7 L394.4,489.5 L405.0,492.3 L415.5,494.2 L426.1,494.5 L436.6,494.7 L447.2,494.9 L457.8,495.0 L468.3,495.0 L478.9,495.0 L489.5,495.0 L500.0,495.0 L510.6,495.0 L521.1,495.1 L531.7,495.1 L542.3,495.2 L552.8,495.3 L563.4,495.3 L573.9,495.3 L584.5,495.4 L595.1,495.4 L605.6,495.4 L616.2,495.5 L626.8,495.5 L637.3,495.5 L647.9,495.5 L658.4,495.5 L669.0,495.3"/>
<path d="M67.0,490.0 L77.6,486.7 L88.1,482.1 L98.7,475.4 L109.2,465.1 L119.8,447.7 L130.4,417.9 L140.9,369.6 L151.5,321.0 L162.1,260.1 L172.6,224.3 L183.2,198.8 L193.7,185.6 L204.3,179.0 L214.9,175.7 L225.4,174.8 L236.0,176.7 L246.5,181.0 L257.1,191.8 L267.7,209.5 L278.2,239.6 L288.8,287.9 L299.4,346.5 L309.9,396.7 L320.5,430.4 L331.0,451.8 L341.6,465.7 L352.2,475.7 L362.7,482.5 L373.3,487.3 L383.8,489.4 L394.4,489.7 L405.0,490.4 L415.5,489.4 L426.1,490.8 L436.6,489.5 L447.2,489.6 L457.8,490.6 L468.3,489.3 L478.9,489.8 L489.5,489.0 L500.0,490.1 L510.6,489.1 L521.1,488.0 L531.7,489.4 L542.3,488.8 L552.8,490.3 L563.4,490.0 L573.9,491.6 L584.5,489.8 L595.1,490.8 L605.6,489.5 L616.2,491.8 L626.8,490.5 L637.3,489.5 L647.9,489.2 L658.4,491.4 L669.0,490.1"/>
<path d="M67.0,491.2 L77.6,488.1 L88.1,483.9 L98.7,478.2 L109.2,471.1 L119.8,455.8 L130.4,431.5 L140.9,390.8 L151.5,342.4 L162.1,287.9 L172.6,239.2 L183.2,208.4 L193.7,189.8 L204.3,181.1 L214.9,177.0 L225.4,175.3 L236.0,175.9 L246.5,178.7 L257.1,186.0 L267.7,199.4 L278.2,222.4 L288.8,259.7 L299.4,313.2 L309.9,371.7 L320.5,414.1 L331.0,441.1 L341.6,458.4 L352.2,470.8 L362.7,479.1 L373.3,484.7 L383.8,488.8 L394.4,492.1 L405.0,491.9 L415.5,492.7 L426.1,495.0 L436.6,495.2 L447.2,494.6 L457.8,495.3 L468.3,492.8 L478.9,494.2 L489.5,494.8 L500.0,494.4 L510.6,493.0 L521.1,495.3 L531.7,493.8 L542.3,495.6 L552.8,494.6 L563.4,495.0 L573.9,494.0 L584.5,494.2 L595.1,493.1 L605.6,493.6 L616.2,495.0 L626.8,495.7 L637.3,495.2 L647.9,494.8 L658.4,494.6 L669.0,495.1"/>
<path d="M67.0,490.1 L77.6,487.3 L88.1,482.8 L98.7,476.7 L109.2,468.8 L119.8,453.1 L130.4,426.8 L140.9,382.9 L151.5,327.4 L162.1,267.5 L172.6,207.9 L183.2,171.5 L193.7,149.3 L204.3,139.5 L214.9,134.5 L225.4,132.4 L236.0,133.0 L246.5,136.2 L257.1,144.5 L267.7,159.9 L278.2,186.4 L288.8,229.6 L299.4,292.2 L309.9,358.0 L320.5,405.3 L331.0,435.2 L341.6,454.4 L352.2,468.4 L362.7,477.4 L373.3,483.4 L383.8,488.0 L394.4,491.5 L405.0,493.9 L415.5,494.3 L426.1,494.5 L436.6,494.8 L447.2,494.8 L457.8,494.8 L468.3,494.8 L478.9,494.8 L489.5,494.8 L500.0,494.9 L510.6,495.0 L521.1,495.0 L531.7,495.1 L542.3,495.2 L552.8,495.2 L563.4,495.2 L573.9,495.3 L584.5,495.3 L595.1,495.3 L605.6,495.4 L616.2,495.4 L626.8,495.4 L637.3,495.4 L647.9,495.2 L658.4,495.0 L669.0,494.8"/>
<path d="M67.0,490.5 L77.6,486.9 L88.1,482.2 L98.7,475.7 L109.2,466.6 L119.8,449.2 L130.4,420.4 L140.9,373.0 L151.5,321.1 L162.1,256.9 L172.6,214.8 L183.2,185.2 L193.7,168.8 L204.3,160.8 L214.9,156.8 L225.4,155.7 L236.0,157.3 L246.5,161.4 L257.1,171.6 L267.7,188.9 L278.2,218.8 L288.8,266.9 L299.4,330.0 L309.9,385.3 L320.5,423.4 L331.0,446.7 L341.6,462.4 L352.2,473.6 L362.7,481.1 L373.3,486.3 L383.8,490.1 L394.4,492.7 L405.0,490.1 L415.5,491.8 L426.1,492.7 L436.6,490.7 L447.2,490.9 L457.8,491.2 L468.3,491.2 L478.9,491.9 L489.5,491.6 L500.0,493.8 L510.6,493.1 L521.1,492.8 L531.7,491.2 L542.3,490.2 L552.8,491.6 L563.4,491.8 L573.9,490.3 L584.5,491.9 L595.1,490.8 L605.6,491.0 L616.2,492.9 L626.8,491.1 L637.3,491.2 L647.9,492.7 L658.4,492.6 L669.0,492.8"/>
<path d="M67.0,490.7 L77.6,487.6 L88.1,483.3 L98.7,477.5 L109.2,470.2 L119.8,455.3 L130.4,431.0 L140.9,390.9 L151.5,340.0 L162.1,286.5 L172.6,228.8 L183.2,194.5 L193.7,172.1 L204.3,162.7 L214.9,157.3 L225.4,154.8 L236.0,154.6 L246.5,156.8 L257.1,163.0 L267.7,175.1 L278.2,195.9 L288.8,230.1 L299.4,283.7 L309.9,344.7 L320.5,394.8 L331.0,428.5 L341.6,450.3 L352.2,464.3 L362.7,474.5 L373.3,481.6 L383.8,486.6 L394.4,490.2 L405.0,492.8 L415.5,494.4 L426.1,493.9 L436.6,494.1 L447.2,495.1 L457.8,495.1 L468.3,495.1 L478.9,494.9 L489.5,493.4 L500.0,494.1 L510.6,495.1 L521.1,494.7 L531.7,494.3 L542.3,493.2 L552.8,495.4 L563.4,494.3 L573.9,494.8 L584.5,495.5 L595.1,495.5 L605.6,493.7 L616.2,494.7 L626.8,495.3 L637.3,495.0 L647.9,494.0 L658.4,495.0 L669.0,493.4"/>
<path d="M67.0,489.7 L77.6,485.8 L88.1,480.7 L98.7,473.6 L109.2,463.6 L119.8,444.8 L130.4,413.5 L140.9,362.2 L151.5,306.6 L162.1,237.4 L172.6,192.6 L183.2,160.9 L193.7,143.3 L204.3,134.7 L214.9,130.3 L225.4,129.2 L236.0,130.8 L246.5,135.1 L257.1,145.8 L267.7,163.8 L278.2,195.5 L288.8,245.9 L299.4,313.6 L309.9,373.4 L320.5,415.4 L331.0,441.1 L341.6,458.5 L352.2,470.9 L362.7,479.3 L373.3,484.8 L383.8,489.0 L394.4,492.1 L405.0,494.0 L415.5,494.3 L426.1,494.5 L436.6,494.8 L447.2,494.8 L457.8,494.8 L468.3,494.8 L478.9,494.8 L489.5,494.8 L500.0,494.9 L510.6,494.9 L521.1,495.0 L531.7,495.1 L542.3,495.1 L552.8,495.2 L563.4,495.2 L573.9,495.2 L584.5,495.3 L595.1,495.3 L605.6,495.3 L616.2,495.3 L626.8,495.3 L637.3,495.3 L647.9,495.1 L658.4,494.9 L669.0,494.8"/>
<path d="M67.0,487.7 L77.6,483.5 L88.1,478.1 L98.7,470.8 L109.2,457.7 L119.8,436.2 L130.4,401.3 L140.9,350.6 L151.5,300.0 L162.1,236.3 L172.6,199.8 L183.2,173.1 L193.7,158.8 L204.3,151.3 L214.9,147.4 L225.4,146.4 L236.0,147.8 L246.5,151.4 L257.1,159.9 L267.7,174.9 L278.2,200.1 L288.8,240.2 L299.4,296.7 L309.9,358.3 L320.5,403.8 L331.0,433.4 L341.6,452.5 L352.2,465.9 L362.7,475.4 L373.3,482.0 L383.8,486.7 L394.4,489.6 L405.0,487.8 L415.5,489.2 L426.1,490.3 L436.6,489.7 L447.2,491.0 L457.8,489.5 L468.3,489.8 L478.9,489.1 L489.5,488.6 L500.0,491.7 L510.6,489.2 L521.1,488.8 L531.7,490.9 L542.3,487.5 L552.8,490.4 L563.4,486.9 L573.9,488.7 L584.5,488.5 L595.1,489.3 L605.6,488.5 L616.2,490.7 L626.8,490.5 L637.3,491.7 L647.9,489.0 L658.4,490.4 L669.0,488.8"/>
<path d="M67.0,487.4 L77.6,485.3 L88.1,480.5 L98.7,473.3 L109.2,461.7 L119.8,442.6 L130.4,410.5 L140.9,360.7 L151.5,311.1 L162.1,248.9 L172.6,212.8 L183.2,186.8 L193.7,173.3 L204.3,166.4 L214.9,162.9 L225.4,161.8 L236.0,163.6 L246.5,167.7 L257.1,177.7 L267.7,194.2 L278.2,222.6 L288.8,267.6 L299.4,327.9 L309.9,381.8 L320.5,420.4 L331.0,444.4 L341.6,460.5 L352.2,472.4 L362.7,480.1 L373.3,485.2 L383.8,488.3 L394.4,487.5 L405.0,488.2 L415.5,487.4 L426.1,486.8 L436.6,487.3 L447.2,486.9 L457.8,489.1 L468.3,487.1 L478.9,487.3 L489.5,488.3 L500.0,487.8 L510.6,490.6 L521.1,487.5 L531.7,488.0 L542.3,490.0 L552.8,487.0 L563.4,488.3 L573.9,487.3 L584.5,487.8 L595.1,487.1 L605.6,487.5 L616.2,487.9 L626.8,487.1 L637.3,486.7 L647.9,490.0 L658.4,487.6 L669.0,488.2"/>
<path d="M67.0,487.9 L77.6,485.8 L88.1,481.5 L98.7,475.0 L109.2,466.2 L119.8,449.1 L130.4,421.5 L140.9,376.0 L151.5,323.6 L162.1,263.7 L172.6,211.7 L183.2,178.3 L193.7,157.7 L204.3,148.4 L214.9,143.7 L225.4,141.6 L236.0,141.9 L246.5,144.6 L257.1,151.7 L267.7,165.1 L278.2,188.1 L288.8,225.1 L299.4,281.5 L309.9,345.2 L320.5,394.9 L331.0,428.3 L341.6,449.7 L352.2,463.9 L362.7,474.2 L373.3,481.3 L383.8,486.1 L394.4,487.6 L405.0,486.4 L415.5,485.8 L426.1,486.1 L436.6,486.3 L447.2,486.8 L457.8,487.8 L468.3,486.1 L478.9,487.2 L489.5,487.8 L500.0,485.9 L510.6,488.5 L521.1,487.3 L531.7,485.9 L542.3,485.7 L552.8,487.1 L563.4,486.7 L573.9,486.1 L584.5,486.8 L595.1,487.6 L605.6,486.3 L616.2,486.6 L626.8,486.6 L637.3,485.5 L647.9,486.4 L658.4,487.2 L669.0,486.6"/>
<path d="M67.0,489.7 L77.6,487.2 L88.1,482.6 L98.7,476.2 L109.2,467.4 L119.8,450.4 L130.4,422.3 L140.9,376.0 L151.5,324.9 L162.1,262.1 L172.6,219.5 L183.2,190.0 L193.7,173.5 L204.3,165.5 L214.9,161.4 L225.4,160.4 L236.0,161.9 L246.5,165.8 L257.1,175.6 L267.7,192.2 L278.2,221.4 L288.8,268.1 L299.4,330.4 L309.9,385.1 L320.5,423.4 L331.0,446.7 L341.6,462.4 L352.2,473.6 L362.7,481.2 L373.3,486.3 L383.8,489.2 L394.4,492.1 L405.0,490.3 L415.5,490.7 L426.1,489.8 L436.6,491.2 L447.2,489.1 L457.8,490.3 L468.3,489.4 L478.9,489.1 L489.5,492.2 L500.0,490.3 L510.6,488.4 L521.1,490.0 L531.7,488.9 L542.3,489.6 L552.8,490.6 L563.4,489.8 L573.9,488.9 L584.5,488.7 L595.1,488.5 L605.6,491.3 L616.2,489.2 L626.8,491.5 L637.3,490.2 L647.9,490.3 L658.4,489.4 L669.0,489.7"/>
<path d="M67.0,488.3 L77.6,484.2 L88.1,479.0 L98.7,471.2 L109.2,459.2 L119.8,439.5 L130.4,405.6 L140.9,351.3 L151.5,296.3 L162.1,226.8 L172.6,185.0 L183.2,154.6 L193.7,137.8 L204.3,129.4 L214.9,125.1 L225.4,124.0 L236.0,125.5 L246.5,129.5 L257.1,139.3 L267.7,155.9 L278.2,185.5 L288.8,231.2 L299.4,296.1 L309.9,359.5 L320.5,405.3 L331.0,434.4 L341.6,453.4 L352.2,467.4 L362.7,476.5 L373.3,482.6 L383.8,487.3 L394.4,489.8 L405.0,492.7 L415.5,490.1 L426.1,490.9 L436.6,491.4 L447.2,490.1 L457.8,490.6 L468.3,490.8 L478.9,489.5 L489.5,490.0 L500.0,489.9 L510.6,488.9 L521.1,490.4 L531.7,489.4 L542.3,490.8 L552.8,489.7 L563.4,489.8 L573.9,490.9 L584.5,492.0 L595.1,491.7 L605.6,491.4 L616.2,489.7 L626.8,490.5 L637.3,490.7 L647.9,489.8 L658.4,489.6 L669.0,488.8"/>
<path d="M67.0,489.6 L77.6,485.9 L88.1,480.9 L98.7,474.0 L109.2,464.4 L119.8,446.5 L130.4,417.0 L140.9,368.7 L151.5,315.0 L162.1,251.0 L172.6,202.0 L183.2,169.3 L193.7,149.9 L204.3,140.5 L214.9,136.2 L225.4,134.4 L236.0,135.2 L246.5,138.5 L257.1,146.7 L267.7,161.6 L278.2,187.1 L288.8,228.2 L299.4,287.2 L309.9,352.7 L320.5,400.9 L331.0,432.0 L341.6,451.9 L352.2,466.0 L362.7,475.6 L373.3,482.2 L383.8,487.0 L394.4,490.8 L405.0,492.1 L415.5,491.8 L426.1,491.5 L436.6,491.9 L447.2,493.1 L457.8,493.1 L468.3,489.7 L478.9,492.6 L489.5,490.5 L500.0,492.6 L510.6,490.4 L521.1,491.1 L531.7,492.1 L542.3,489.7 L552.8,492.8 L563.4,492.1 L573.9,492.7 L584.5,492.7 L595.1,492.2 L605.6,492.9 L616.2,492.2 L626.8,490.1 L637.3,493.7 L647.9,493.2 L658.4,492.8 L669.0,492.3"/>
<path d="M67.0,486.8 L77.6,486.7 L88.1,482.0 L98.7,475.5 L109.2,467.0 L119.8,450.0 L130.4,422.5 L140.9,377.0 L151.5,324.6 L162.1,264.0 L172.6,213.7 L183.2,181.1 L193.7,161.4 L204.3,152.1 L214.9,147.8 L225.4,146.0 L236.0,146.7 L246.5,149.8 L257.1,157.7 L267.7,172.1 L278.2,196.8 L288.8,236.7 L299.4,294.2 L309.9,357.9 L320.5,404.6 L331.0,434.6 L341.6,453.8 L352.2,467.4 L362.7,476.7 L373.3,482.9 L383.8,487.4 L394.4,487.9 L405.0,489.8 L415.5,490.0 L426.1,488.2 L436.6,489.1 L447.2,489.9 L457.8,489.6 L468.3,489.0 L478.9,489.5 L489.5,489.6 L500.0,489.6 L510.6,490.9 L521.1,487.5 L531.7,488.0 L542.3,487.7 L552.8,489.5 L563.4,489.2 L573.9,488.7 L584.5,488.4 L595.1,491.3 L605.6,488.9 L616.2,490.4 L626.8,489.4 L637.3,490.0 L647.9,487.5 L658.4,488.8 L669.0,489.4"/>
<path d="M67.0,350.3 L77.6,373.0 L88.1,411.9 L98.7,446.1 L109.2,473.2 L119.8,484.8 L130.4,491.8 L140.9,494.7 L151.5,494.4 L162.1,495.2 L172.6,496.2 L183.2,496.7 L193.7,495.3 L204.3,495.8 L214.9,495.3 L225.4,496.6 L236.0,496.8 L246.5,494.0 L257.1,496.7 L267.7,495.7 L278.2,494.2 L288.8,497.5 L299.4,494.9 L309.9,493.0 L320.5,488.1 L331.0,481.3 L341.6,473.0 L352.2,462.0 L362.7,442.1 L373.3,413.5 L383.8,387.9 L394.4,347.9 L405.0,309.0 L415.5,275.3 L426.1,250.9 L436.6,239.8 L447.2,237.7 L457.8,248.4 L468.3,270.5 L478.9,301.1 L489.5,336.4 L500.0,368.8 L510.6,393.8 L521.1,410.8 L531.7,424.3 L542.3,434.4 L552.8,444.5 L563.4,454.6 L573.9,462.0 L584.5,468.1 L595.1,473.2 L605.6,478.2 L616.2,481.6 L626.8,484.9 L637.3,486.6 L647.9,488.3 L658.4,489.1 L669.0,489.9"/>
<path d="M67.0,191.5 L77.6,202.7 L88.1,239.9 L98.7,290.4 L109.2,366.6 L119.8,430.2 L130.4,462.8 L140.9,479.3 L151.5,489.4 L162.1,492.5 L172.6,494.0 L183.2,495.1 L193.7,495.6 L204.3,496.3 L214.9,496.6 L225.4,494.2 L236.0,496.3 L246.5,496.8 L257.1,496.9 L267.7,496.9 L278.2,495.1 L288.8,497.3 L299.4,496.4 L309.9,494.0 L320.5,490.3 L331.0,484.3 L341.6,476.4 L352.2,466.8 L362.7,452.2 L373.3,425.1 L383.8,398.6 L394.4,365.5 L405.0,324.8 L415.5,289.3 L426.1,257.9 L436.6,239.0 L447.2,232.0 L457.8,235.5 L468.3,252.4 L478.9,277.6 L489.5,315.3 L500.0,346.1 L510.6,379.5 L521.1,399.9 L531.7,414.4 L542.3,426.8 L552.8,436.9 L563.4,447.1 L573.9,457.3 L584.5,463.4 L595.1,469.2 L605.6,474.3 L616.2,478.8 L626.8,482.2 L637.3,485.1 L647.9,486.8 L658.4,488.3 L669.0,489.1"/>
<path d="M67.0,177.9 L77.6,202.8 L88.1,245.0 L98.7,318.9 L109.2,384.9 L119.8,442.4 L130.4,468.3 L140.9,483.0 L151.5,490.1 L162.1,492.4 L172.6,492.2 L183.2,492.5 L193.7,492.7 L204.3,490.8 L214.9,489.4 L225.4,490.4 L236.0,491.3 L246.5,491.0 L257.1,492.2 L267.7,492.3 L278.2,493.1 L288.8,490.3 L299.4,492.2 L309.9,492.6 L320.5,492.5 L331.0,489.2 L341.6,481.8 L352.2,472.5 L362.7,460.1 L373.3,436.5 L383.8,404.2 L394.4,372.8 L405.0,325.3 L415.5,284.1 L426.1,248.6 L436.6,229.4 L447.2,222.8 L457.8,232.3 L468.3,256.0 L478.9,290.1 L489.5,330.3 L500.0,367.8 L510.6,393.7 L521.1,411.1 L531.7,425.1 L542.3,436.6 L552.8,448.2 L563.4,458.2 L573.9,465.2 L584.5,471.2 L595.1,477.0 L605.6,480.8 L616.2,484.4 L626.8,486.4 L637.3,488.0 L647.9,489.0 L658.4,488.9 L669.0,488.7"/>
<path d="M67.0,204.0 L77.6,234.2 L88.1,275.5 L98.7,346.1 L109.2,408.0 L119.8,454.9 L130.4,474.5 L140.9,486.7 L151.5,491.4 L162.1,493.6 L172.6,495.0 L183.2,495.6 L193.7,496.2 L204.3,496.6 L214.9,496.7 L225.4,496.5 L236.0,496.4 L246.5,497.0 L257.1,495.1 L267.7,497.2 L278.2,496.0 L288.8,497.2 L299.4,496.8 L309.9,494.3 L320.5,490.8 L331.0,484.6 L341.6,476.3 L352.2,466.1 L362.7,450.4 L373.3,420.6 L383.8,394.3 L394.4,354.7 L405.0,313.1 L415.5,278.1 L426.1,251.0 L436.6,238.9 L447.2,236.2 L457.8,243.9 L468.3,260.9 L478.9,282.8 L489.5,315.9 L500.0,342.8 L510.6,371.5 L521.1,392.5 L531.7,408.5 L542.3,422.9 L552.8,435.8 L563.4,448.0 L573.9,458.3 L584.5,467.5 L595.1,475.1 L605.6,480.3 L616.2,483.8 L626.8,486.1 L637.3,487.9 L647.9,488.9 L658.4,489.8 L669.0,489.2"/>
<path d="M67.0,172.6 L77.6,200.3 L88.1,244.2 L98.7,320.2 L109.2,387.7 L119.8,444.1 L130.4,469.0 L140.9,483.5 L151.5,485.9 L162.1,487.2 L172.6,488.1 L183.2,487.2 L193.7,487.2 L204.3,486.9 L214.9,488.1 L225.4,485.6 L236.0,488.0 L246.5,486.5 L257.1,487.0 L267.7,488.4 L278.2,487.1 L288.8,487.2 L299.4,487.4 L309.9,486.3 L320.5,487.7 L331.0,482.9 L341.6,474.8 L352.2,464.1 L362.7,445.5 L373.3,416.9 L383.8,391.3 L394.4,351.4 L405.0,313.2 L415.5,279.5 L426.1,257.3 L436.6,247.6 L447.2,247.6 L457.8,260.4 L468.3,284.5 L478.9,319.3 L489.5,351.1 L500.0,384.5 L510.6,404.7 L521.1,419.1 L531.7,431.1 L542.3,441.1 L552.8,451.2 L563.4,460.5 L573.9,466.6 L584.5,472.0 L595.1,477.1 L605.6,481.0 L616.2,484.4 L626.8,486.5 L637.3,487.6 L647.9,487.9 L658.4,487.1 L669.0,486.9"/>
<path d="M67.0,174.0 L77.6,186.0 L88.1,225.3 L98.7,278.8 L109.2,359.4 L119.8,426.6 L130.4,460.8 L140.9,478.2 L151.5,486.6 L162.1,486.5 L172.6,486.0 L183.2,484.8 L193.7,487.4 L204.3,487.3 L214.9,487.3 L225.4,486.7 L236.0,486.6 L246.5,488.0 L257.1,486.3 L267.7,488.0 L278.2,487.0 L288.8,486.9 L299.4,486.9 L309.9,485.1 L320.5,484.9 L331.0,485.5 L341.6,477.8 L352.2,468.6 L362.7,454.7 L373.3,429.3 L383.8,401.7 L394.4,372.0 L405.0,330.3 L415.5,293.3 L426.1,260.3 L436.6,239.9 L447.2,231.5 L457.8,233.1 L468.3,247.2 L478.9,272.4 L489.5,308.1 L500.0,340.7 L510.6,374.6 L521.1,396.4 L531.7,412.0 L542.3,425.0 L552.8,435.2 L563.4,445.4 L573.9,455.7 L584.5,462.4 L595.1,468.4 L605.6,473.5 L616.2,478.3 L626.8,481.7 L637.3,484.8 L647.9,486.5 L658.4,486.9 L669.0,488.6"/>
<path d="M67.0,208.8 L77.6,232.1 L88.1,270.6 L98.7,337.7 L109.2,397.4 L119.8,448.7 L130.4,471.6 L140.9,484.8 L151.5,487.5 L162.1,485.9 L172.6,487.5 L183.2,487.4 L193.7,487.4 L204.3,489.5 L214.9,487.0 L225.4,488.8 L236.0,488.0 L246.5,485.1 L257.1,488.9 L267.7,487.5 L278.2,487.3 L288.8,487.5 L299.4,487.6 L309.9,488.2 L320.5,485.4 L331.0,489.8 L341.6,485.6 L352.2,477.0 L362.7,465.9 L373.3,445.8 L383.8,414.9 L394.4,384.9 L405.0,340.0 L415.5,301.5 L426.1,269.4 L436.6,255.1 L447.2,252.4 L457.8,265.0 L468.3,291.0 L478.9,330.6 L489.5,363.9 L500.0,395.2 L510.6,414.6 L521.1,429.1 L531.7,440.0 L542.3,451.0 L552.8,461.3 L563.4,467.9 L573.9,473.7 L584.5,479.2 L595.1,482.9 L605.6,486.1 L616.2,487.9 L626.8,487.2 L637.3,487.7 L647.9,488.4 L658.4,486.1 L669.0,487.5"/>
<path d="M67.0,195.7 L77.6,231.7 L88.1,276.9 L98.7,351.9 L109.2,416.2 L119.8,458.4 L130.4,476.4 L140.9,488.4 L151.5,491.7 L162.1,493.7 L172.6,493.3 L183.2,495.2 L193.7,495.0 L204.3,495.8 L214.9,494.3 L225.4,496.3 L236.0,495.5 L246.5,494.4 L257.1,495.5 L267.7,494.5 L278.2,492.9 L288.8,496.0 L299.4,493.4 L309.9,493.8 L320.5,489.8 L331.0,483.1 L341.6,474.4 L352.2,463.3 L362.7,446.5 L373.3,414.3 L383.8,387.2 L394.4,344.5 L405.0,301.3 L415.5,264.5 L426.1,237.5 L436.6,225.5 L447.2,224.1 L457.8,236.9 L468.3,262.3 L478.9,299.1 L489.5,335.2 L500.0,371.6 L510.6,394.8 L521.1,411.1 L531.7,424.5 L542.3,435.5 L552.8,446.6 L563.4,456.9 L573.9,463.6 L584.5,469.6 L595.1,475.1 L605.6,479.4 L616.2,483.1 L626.8,485.4 L637.3,487.3 L647.9,488.4 L658.4,489.3 L669.0,488.7"/>
<path d="M67.0,218.8 L77.6,246.6 L88.1,285.7 L98.7,352.5 L109.2,411.1 L119.8,456.3 L130.4,475.3 L140.9,487.0 L151.5,488.1 L162.1,487.0 L172.6,487.7 L183.2,488.1 L193.7,488.3 L204.3,487.9 L214.9,488.0 L225.4,488.5 L236.0,489.2 L246.5,490.9 L257.1,488.2 L267.7,488.4 L278.2,486.8 L288.8,487.6 L299.4,486.9 L309.9,486.3 L320.5,488.2 L331.0,485.5 L341.6,477.4 L352.2,467.6 L362.7,452.5 L373.3,424.1 L383.8,397.3 L394.4,359.7 L405.0,318.0 L415.5,282.8 L426.1,253.5 L436.6,240.4 L447.2,236.2 L457.8,240.5 L468.3,252.6 L478.9,271.1 L489.5,291.9 L500.0,322.5 L510.6,345.1 L521.1,370.2 L531.7,390.5 L542.3,410.3 L552.8,425.5 L563.4,440.7 L573.9,452.5 L584.5,463.6 L595.1,473.6 L605.6,479.9 L616.2,483.4 L626.8,485.9 L637.3,487.7 L647.9,487.0 L658.4,487.6 L669.0,488.2"/>
<path d="M67.0,187.5 L77.6,208.9 L88.1,248.8 L98.7,317.9 L109.2,383.2 L119.8,440.9 L130.4,467.7 L140.9,482.5 L151.5,490.1 L162.1,492.8 L172.6,494.4 L183.2,495.2 L193.7,495.8 L204.3,496.5 L214.9,496.6 L225.4,496.7 L236.0,496.7 L246.5,496.8 L257.1,496.9 L267.7,497.0 L278.2,497.2 L288.8,497.3 L299.4,496.0 L309.9,495.6 L320.5,493.3 L331.0,488.7 L341.6,481.6 L352.2,472.8 L362.7,461.2 L373.3,439.9 L383.8,409.5 L394.4,381.4 L405.0,337.7 L415.5,297.4 L426.1,261.8 L436.6,239.6 L447.2,230.0 L457.8,230.6 L468.3,236.8 L478.9,248.9 L489.5,266.0 L500.0,285.0 L510.6,314.1 L521.1,335.3 L531.7,359.3 L542.3,388.4 L552.8,408.9 L563.4,427.4 L573.9,443.3 L584.5,457.0 L595.1,469.0 L605.6,477.3 L616.2,481.0 L626.8,484.5 L637.3,486.3 L647.9,488.0 L658.4,489.0 L669.0,489.4"/>
<path d="M67.0,190.1 L77.6,212.0 L88.1,251.7 L98.7,321.2 L109.2,385.3 L119.8,442.1 L130.4,468.3 L140.9,482.8 L151.5,490.2 L162.1,489.0 L172.6,490.4 L183.2,489.4 L193.7,489.9 L204.3,491.0 L214.9,488.8 L225.4,489.7 L236.0,490.8 L246.5,491.0 L257.1,492.0 L267.7,491.0 L278.2,491.1 L288.8,490.6 L299.4,491.3 L309.9,490.2 L320.5,490.9 L331.0,489.5 L341.6,481.7 L352.2,471.4 L362.7,457.8 L373.3,431.0 L383.8,395.5 L394.4,357.5 L405.0,305.7 L415.5,261.6 L426.1,225.8 L436.6,210.7 L447.2,209.0 L457.8,224.8 L468.3,256.2 L478.9,302.9 L489.5,342.2 L500.0,377.9 L510.6,400.3 L521.1,417.1 L531.7,429.8 L542.3,442.7 L552.8,454.6 L563.4,462.4 L573.9,469.2 L584.5,475.6 L595.1,479.9 L605.6,483.7 L616.2,485.9 L626.8,487.5 L637.3,488.6 L647.9,488.1 L658.4,488.1 L669.0,488.1"/>
<path d="M67.0,338.7 L77.6,358.9 L88.1,386.6 L98.7,427.9 L109.2,462.1 L119.8,479.5 L130.4,488.4 L140.9,493.8 L151.5,494.7 L162.1,494.0 L172.6,494.1 L183.2,494.6 L193.7,492.9 L204.3,495.2 L214.9,493.2 L225.4,492.5 L236.0,492.5 L246.5,494.5 L257.1,495.0 L267.7,496.5 L278.2,494.8 L288.8,492.1 L299.4,496.5 L309.9,495.3 L320.5,492.7 L331.0,487.3 L341.6,479.8 L352.2,471.1 L362.7,457.5 L373.3,432.3 L383.8,405.0 L394.4,373.3 L405.0,332.0 L415.5,296.3 L426.1,265.3 L436.6,248.7 L447.2,242.2 L457.8,246.6 L468.3,259.8 L478.9,280.0 L489.5,306.2 L500.0,336.1 L510.6,362.0 L521.1,387.3 L531.7,404.5 L542.3,419.6 L552.8,433.4 L563.4,445.6 L573.9,456.3 L584.5,465.9 L595.1,474.0 L605.6,479.7 L616.2,483.1 L626.8,485.8 L637.3,487.6 L647.9,488.9 L658.4,489.8 L669.0,489.6"/>
<path d="M67.0,195.3 L77.6,222.5 L88.1,264.0 L98.7,335.4 L109.2,398.4 L119.8,449.7 L130.4,471.9 L140.9,485.1 L151.5,490.9 L162.1,492.4 L172.6,494.7 L183.2,495.3 L193.7,493.1 L204.3,493.7 L214.9,493.7 L225.4,492.8 L236.0,494.2 L246.5,494.0 L257.1,493.4 L267.7,493.1 L278.2,492.8 L288.8,493.7 L299.4,493.6 L309.9,492.8 L320.5,487.7 L331.0,480.0 L341.6,470.7 L352.2,457.9 L362.7,434.2 L373.3,402.2 L383.8,372.0 L394.4,325.2 L405.0,282.9 L415.5,245.8 L426.1,222.9 L436.6,213.7 L447.2,215.1 L457.8,224.2 L468.3,240.8 L478.9,261.4 L489.5,290.6 L500.0,319.0 L510.6,344.8 L521.1,371.5 L531.7,389.0 L542.3,407.9 L552.8,424.5 L563.4,439.3 L573.9,452.1 L584.5,463.6 L595.1,474.3 L605.6,480.1 L616.2,483.8 L626.8,485.7 L637.3,487.4 L647.9,488.4 L658.4,488.8 L669.0,488.3"/>
<path d="M67.0,384.6 L77.6,403.4 L88.1,435.3 L98.7,462.8 L109.2,481.4 L119.8,487.1 L130.4,488.5 L140.9,487.5 L151.5,489.2 L162.1,486.8 L172.6,490.2 L183.2,487.8 L193.7,486.2 L204.3,487.0 L214.9,487.9 L225.4,487.8 L236.0,488.0 L246.5,484.6 L257.1,487.6 L267.7,487.6 L278.2,488.4 L288.8,488.1 L299.4,486.9 L309.9,488.2 L320.5,488.4 L331.0,488.2 L341.6,486.1 L352.2,477.3 L362.7,466.3 L373.3,448.9 L383.8,415.7 L394.4,385.9 L405.0,339.7 L415.5,297.7 L426.1,261.9 L436.6,242.4 L447.2,236.6 L457.8,247.1 L468.3,271.9 L478.9,309.3 L489.5,346.6 L500.0,383.2 L510.6,405.7 L521.1,421.1 L531.7,433.4 L542.3,445.0 L552.8,456.5 L563.4,464.0 L573.9,470.5 L584.5,476.3 L595.1,480.7 L605.6,484.6 L616.2,486.6 L626.8,487.3 L637.3,488.3 L647.9,487.6 L658.4,486.9 L669.0,488.7"/>
<path d="M67.0,208.3 L77.6,234.1 L88.1,273.7 L98.7,341.9 L109.2,402.2 L119.8,451.5 L130.4,472.9 L140.9,485.6 L151.5,491.2 L162.1,492.0 L172.6,491.9 L183.2,494.9 L193.7,493.8 L204.3,493.7 L214.9,493.9 L225.4,491.7 L236.0,490.8 L246.5,494.3 L257.1,492.0 L267.7,493.5 L278.2,491.7 L288.8,495.8 L299.4,493.6 L309.9,491.9 L320.5,493.2 L331.0,488.3 L341.6,481.4 L352.2,473.2 L362.7,460.9 L373.3,438.0 L383.8,411.5 L394.4,383.0 L405.0,343.4 L415.5,309.0 L426.1,278.9 L436.6,261.7 L447.2,255.3 L457.8,259.1 L468.3,271.6 L478.9,291.3 L489.5,317.5 L500.0,346.2 L510.6,371.9 L521.1,395.2 L531.7,411.8 L542.3,425.2 L552.8,437.7 L563.4,449.0 L573.9,459.1 L584.5,467.9 L595.1,475.0 L605.6,480.4 L616.2,483.6 L626.8,486.4 L637.3,488.0 L647.9,489.3 L658.4,490.2 L669.0,490.1"/>
<path d="M67.0,239.9 L77.6,272.1 L88.1,315.5 L98.7,381.8 L109.2,437.3 L119.8,466.9 L130.4,481.4 L140.9,490.5 L151.5,493.2 L162.1,494.6 L172.6,494.9 L183.2,496.1 L193.7,496.3 L204.3,496.5 L214.9,497.0 L225.4,496.5 L236.0,496.6 L246.5,495.9 L257.1,496.0 L267.7,497.4 L278.2,496.3 L288.8,494.3 L299.4,494.3 L309.9,491.2 L320.5,485.1 L331.0,476.9 L341.6,467.0 L352.2,452.2 L362.7,424.5 L373.3,395.6 L383.8,361.9 L394.4,318.0 L405.0,279.7 L415.5,246.0 L426.1,226.1 L436.6,218.8 L447.2,223.3 L457.8,242.8 L468.3,270.1 L478.9,311.2 L489.5,344.3 L500.0,377.5 L510.6,398.8 L521.1,413.5 L531.7,425.8 L542.3,436.7 L552.8,447.6 L563.4,457.2 L573.9,463.8 L584.5,469.6 L595.1,475.1 L605.6,479.3 L616.2,482.9 L626.8,485.2 L637.3,487.1 L647.9,488.2 L658.4,489.1 L669.0,488.6"/>
<path d="M67.0,177.9 L77.6,211.5 L88.1,256.6 L98.7,333.8 L109.2,401.3 L119.8,451.8 L130.4,472.7 L140.9,485.8 L151.5,490.8 L162.1,493.1 L172.6,494.6 L183.2,495.3 L193.7,495.9 L204.3,496.4 L214.9,496.5 L225.4,496.6 L236.0,496.7 L246.5,496.8 L257.1,496.9 L267.7,497.0 L278.2,497.1 L288.8,497.3 L299.4,497.4 L309.9,495.4 L320.5,492.6 L331.0,487.1 L341.6,479.4 L352.2,470.4 L362.7,456.6 L373.3,431.1 L383.8,401.7 L394.4,370.0 L405.0,326.2 L415.5,287.9 L426.1,254.6 L436.6,235.6 L447.2,228.6 L457.8,231.6 L468.3,240.5 L478.9,255.3 L489.5,273.5 L500.0,298.1 L510.6,324.6 L521.1,346.7 L531.7,372.3 L542.3,395.9 L552.8,415.6 L563.4,432.1 L573.9,446.8 L584.5,459.4 L595.1,470.8 L605.6,478.3 L616.2,481.9 L626.8,485.0 L637.3,486.8 L647.9,488.3 L658.4,489.2 L669.0,489.1"/>
<path d="M67.0,315.8 L77.6,339.5 L88.1,374.7 L98.7,420.1 L109.2,458.5 L119.8,477.5 L130.4,487.4 L140.9,493.2 L151.5,495.0 L162.1,496.0 L172.6,495.1 L183.2,496.2 L193.7,497.1 L204.3,494.2 L214.9,496.3 L225.4,496.7 L236.0,496.9 L246.5,494.9 L257.1,496.0 L267.7,496.4 L278.2,497.4 L288.8,497.0 L299.4,495.6 L309.9,494.1 L320.5,490.3 L331.0,484.0 L341.6,475.9 L352.2,465.5 L362.7,449.2 L373.3,419.4 L383.8,393.8 L394.4,353.7 L405.0,313.7 L415.5,279.4 L426.1,254.9 L436.6,244.2 L447.2,242.4 L457.8,247.8 L468.3,259.9 L478.9,277.2 L489.5,297.5 L500.0,326.2 L510.6,347.4 L521.1,370.9 L531.7,391.1 L542.3,410.8 L552.8,426.5 L563.4,441.4 L573.9,453.6 L584.5,464.7 L595.1,475.0 L605.6,481.1 L616.2,484.5 L626.8,486.6 L637.3,488.3 L647.9,489.2 L658.4,490.1 L669.0,489.4"/>
<path d="M67.0,179.8 L77.6,201.1 L88.1,241.8 L98.7,311.3 L109.2,379.1 L119.8,438.7 L130.4,466.6 L140.9,481.8 L151.5,489.8 L162.1,492.7 L172.6,493.1 L183.2,493.0 L193.7,494.6 L204.3,494.2 L214.9,494.1 L225.4,495.7 L236.0,493.8 L246.5,493.2 L257.1,491.8 L267.7,493.7 L278.2,494.3 L288.8,494.1 L299.4,493.3 L309.9,493.1 L320.5,494.5 L331.0,490.7 L341.6,483.6 L352.2,474.3 L362.7,462.1 L373.3,438.9 L383.8,406.2 L394.4,373.0 L405.0,325.2 L415.5,284.3 L426.1,250.1 L436.6,235.0 L447.2,232.1 L457.8,245.5 L468.3,273.0 L478.9,315.0 L489.5,350.9 L500.0,385.2 L510.6,406.6 L521.1,422.3 L531.7,434.1 L542.3,445.8 L552.8,457.4 L563.4,464.4 L573.9,470.8 L584.5,476.7 L595.1,480.9 L605.6,484.7 L616.2,486.7 L626.8,488.3 L637.3,489.3 L647.9,489.1 L658.4,489.0 L669.0,489.0"/>
<path d="M67.0,295.9 L77.6,309.3 L88.1,335.1 L98.7,379.1 L109.2,422.4 L119.8,460.4 L130.4,478.3 L140.9,485.0 L151.5,486.1 L162.1,487.7 L172.6,487.7 L183.2,487.0 L193.7,487.6 L204.3,487.1 L214.9,486.2 L225.4,486.8 L236.0,486.0 L246.5,487.8 L257.1,488.0 L267.7,488.5 L278.2,489.0 L288.8,487.5 L299.4,487.0 L309.9,487.2 L320.5,487.0 L331.0,484.8 L341.6,480.0 L352.2,470.9 L362.7,456.7 L373.3,429.7 L383.8,404.1 L394.4,367.2 L405.0,327.5 L415.5,293.9 L426.1,269.3 L436.6,258.8 L447.2,258.6 L457.8,271.7 L468.3,296.7 L478.9,333.7 L489.5,364.4 L500.0,394.7 L510.6,413.8 L521.1,427.4 L531.7,438.2 L542.3,448.3 L552.8,458.4 L563.4,465.6 L573.9,471.5 L584.5,476.5 L595.1,481.0 L605.6,484.3 L616.2,486.2 L626.8,487.0 L637.3,485.9 L647.9,486.4 L658.4,488.9 L669.0,486.8"/>
<path d="M67.0,189.3 L77.6,203.2 L88.1,241.1 L98.7,295.8 L109.2,370.2 L119.8,432.6 L130.4,463.8 L140.9,480.0 L151.5,489.5 L162.1,492.5 L172.6,494.1 L183.2,493.4 L193.7,493.0 L204.3,492.4 L214.9,494.2 L225.4,494.6 L236.0,495.3 L246.5,492.8 L257.1,493.9 L267.7,494.2 L278.2,494.2 L288.8,493.5 L299.4,493.7 L309.9,492.5 L320.5,492.6 L331.0,487.2 L341.6,479.7 L352.2,470.8 L362.7,457.1 L373.3,431.9 L383.8,403.2 L394.4,371.8 L405.0,328.9 L415.5,291.7 L426.1,259.3 L436.6,241.1 L447.2,234.2 L457.8,238.4 L468.3,251.4 L478.9,272.3 L489.5,299.1 L500.0,330.4 L510.6,357.2 L521.1,383.6 L531.7,401.4 L542.3,417.0 L552.8,431.1 L563.4,443.7 L573.9,454.8 L584.5,464.7 L595.1,472.9 L605.6,478.9 L616.2,482.4 L626.8,485.3 L637.3,487.1 L647.9,488.5 L658.4,489.4 L669.0,489.3"/>
<path d="M67.0,195.9 L77.6,221.3 L88.1,261.9 L98.7,332.4 L109.2,395.0 L119.8,447.7 L130.4,471.0 L140.9,484.5 L151.5,490.8 L162.1,492.1 L172.6,492.9 L183.2,493.1 L193.7,491.8 L204.3,493.0 L214.9,491.2 L225.4,491.4 L236.0,493.4 L246.5,492.0 L257.1,491.1 L267.7,492.1 L278.2,493.8 L288.8,493.1 L299.4,493.1 L309.9,492.6 L320.5,488.3 L331.0,481.4 L341.6,473.2 L352.2,460.9 L362.7,438.0 L373.3,411.5 L383.8,383.0 L394.4,343.6 L405.0,309.2 L415.5,279.2 L426.1,262.1 L436.6,255.6 L447.2,259.2 L457.8,270.2 L468.3,288.2 L478.9,310.0 L489.5,339.5 L500.0,362.7 L510.6,388.2 L521.1,404.1 L531.7,417.4 L542.3,430.9 L552.8,443.0 L563.4,453.7 L573.9,463.5 L584.5,472.1 L595.1,479.3 L605.6,483.7 L616.2,486.4 L626.8,488.1 L637.3,489.4 L647.9,490.2 L658.4,490.1 L669.0,489.9"/>
<path d="M67.0,181.7 L77.6,208.1 L88.1,250.6 L98.7,324.3 L109.2,389.8 L119.8,445.1 L130.4,469.6 L140.9,483.8 L151.5,490.4 L162.1,492.9 L172.6,493.5 L183.2,492.4 L193.7,494.7 L204.3,493.3 L214.9,493.9 L225.4,493.6 L236.0,494.5 L246.5,493.2 L257.1,493.5 L267.7,495.6 L278.2,492.3 L288.8,491.3 L299.4,493.5 L309.9,489.5 L320.5,482.8 L331.0,474.3 L341.6,463.6 L352.2,447.5 L362.7,417.2 L373.3,389.2 L383.8,350.7 L394.4,307.4 L405.0,269.9 L415.5,237.2 L426.1,219.6 L436.6,212.2 L447.2,219.3 L457.8,239.7 L468.3,267.4 L478.9,309.2 L489.5,342.8 L500.0,375.7 L510.6,397.1 L521.1,411.9 L531.7,424.3 L542.3,435.3 L552.8,446.3 L563.4,456.1 L573.9,462.7 L584.5,468.7 L595.1,474.2 L605.6,478.5 L616.2,482.2 L626.8,484.7 L637.3,486.6 L647.9,487.8 L658.4,488.8 L669.0,488.4"/>
<path d="M67.0,183.6 L77.6,216.0 L88.1,260.2 L98.7,335.8 L109.2,402.0 L119.8,452.1 L130.4,472.9 L140.9,485.9 L151.5,490.9 L162.1,493.2 L172.6,494.7 L183.2,493.5 L193.7,492.7 L204.3,493.1 L214.9,494.3 L225.4,492.4 L236.0,493.6 L246.5,492.5 L257.1,494.3 L267.7,492.8 L278.2,492.0 L288.8,494.0 L299.4,493.6 L309.9,492.6 L320.5,489.1 L331.0,482.4 L341.6,473.9 L352.2,463.0 L362.7,446.0 L373.3,415.0 L383.8,388.9 L394.4,347.9 L405.0,305.8 L415.5,270.4 L426.1,242.1 L436.6,229.2 L447.2,225.7 L457.8,235.9 L468.3,258.6 L478.9,289.7 L489.5,327.8 L500.0,361.8 L510.6,388.7 L521.1,406.8 L531.7,421.1 L542.3,431.7 L552.8,442.4 L563.4,453.1 L573.9,460.7 L584.5,467.1 L595.1,472.4 L605.6,477.6 L616.2,481.2 L626.8,484.5 L637.3,486.3 L647.9,487.9 L658.4,488.8 L669.0,489.3"/>
<path d="M67.0,195.5 L77.6,219.7 L88.1,259.9 L98.7,330.0 L109.2,392.4 L119.8,446.2 L130.4,470.3 L140.9,484.1 L151.5,490.5 L162.1,493.1 L172.6,490.9 L183.2,491.3 L193.7,490.7 L204.3,492.7 L214.9,491.5 L225.4,492.2 L236.0,491.6 L246.5,490.4 L257.1,491.3 L267.7,491.7 L278.2,489.8 L288.8,491.1 L299.4,493.2 L309.9,492.2 L320.5,490.6 L331.0,488.0 L341.6,480.5 L352.2,471.4 L362.7,457.9 L373.3,432.4 L383.8,402.7 L394.4,369.6 L405.0,325.5 L415.5,287.5 L426.1,255.0 L436.6,238.9 L447.2,233.8 L457.8,243.6 L468.3,266.6 L478.9,299.6 L489.5,337.3 L500.0,372.8 L510.6,397.4 L521.1,414.0 L531.7,427.4 L542.3,438.3 L552.8,449.2 L563.4,459.1 L573.9,465.7 L584.5,471.5 L595.1,477.0 L605.6,481.0 L616.2,484.6 L626.8,486.5 L637.3,488.2 L647.9,489.1 L658.4,489.5 L669.0,489.1"/>
<path d="M67.0,182.5 L77.6,219.6 L88.1,265.2 L98.7,342.7 L109.2,409.7 L119.8,455.8 L130.4,474.8 L140.9,487.3 L151.5,486.8 L162.1,488.2 L172.6,486.2 L183.2,486.1 L193.7,485.5 L204.3,488.0 L214.9,485.3 L225.4,485.9 L236.0,488.9 L246.5,484.6 L257.1,485.2 L267.7,488.1 L278.2,486.6 L288.8,488.4 L299.4,487.1 L309.9,486.8 L320.5,486.3 L331.0,483.4 L341.6,475.4 L352.2,465.0 L362.7,446.1 L373.3,418.3 L383.8,392.9 L394.4,353.3 L405.0,316.4 L415.5,283.8 L426.1,263.3 L436.6,254.6 L447.2,254.6 L457.8,260.7 L468.3,272.7 L478.9,288.9 L489.5,308.8 L500.0,335.1 L510.6,354.9 L521.1,377.0 L531.7,395.9 L542.3,414.7 L552.8,430.0 L563.4,444.2 L573.9,456.1 L584.5,466.8 L595.1,476.9 L605.6,482.5 L616.2,485.8 L626.8,486.0 L637.3,487.6 L647.9,485.7 L658.4,487.7 L669.0,486.6"/>
<path d="M67.0,177.8 L77.6,215.5 L88.1,261.9 L98.7,340.5 L109.2,408.5 L119.8,455.2 L130.4,474.5 L140.9,487.1 L151.5,491.2 L162.1,491.3 L172.6,491.3 L183.2,492.5 L193.7,491.3 L204.3,489.2 L214.9,491.9 L225.4,491.1 L236.0,489.6 L246.5,490.3 L257.1,490.7 L267.7,491.3 L278.2,491.0 L288.8,490.9 L299.4,490.2 L309.9,490.8 L320.5,489.9 L331.0,484.9 L341.6,476.6 L352.2,466.3 L362.7,450.6 L373.3,421.0 L383.8,393.4 L394.4,354.2 L405.0,311.0 L415.5,274.7 L426.1,244.7 L436.6,231.2 L447.2,227.4 L457.8,235.5 L468.3,254.3 L478.9,278.6 L489.5,315.7 L500.0,344.5 L510.6,376.4 L521.1,395.6 L531.7,410.5 L542.3,424.9 L552.8,436.7 L563.4,448.9 L573.9,458.9 L584.5,467.1 L595.1,474.2 L605.6,479.3 L616.2,482.9 L626.8,485.5 L637.3,487.3 L647.9,488.5 L658.4,489.4 L669.0,488.9"/>
<path d="M67.0,209.3 L77.6,237.7 L88.1,277.9 L98.7,346.7 L109.2,407.3 L119.8,454.4 L130.4,474.3 L140.9,486.5 L151.5,491.5 L162.1,493.6 L172.6,494.0 L183.2,494.0 L193.7,495.8 L204.3,494.8 L214.9,495.5 L225.4,494.4 L236.0,495.5 L246.5,495.3 L257.1,493.3 L267.7,495.3 L278.2,496.8 L288.8,495.0 L299.4,494.8 L309.9,494.7 L320.5,491.6 L331.0,486.2 L341.6,479.2 L352.2,470.5 L362.7,457.3 L373.3,432.7 L383.8,409.1 L394.4,377.8 L405.0,341.5 L415.5,310.2 L426.1,282.9 L436.6,268.2 L447.2,262.2 L457.8,268.3 L468.3,285.6 L478.9,308.7 L489.5,343.6 L500.0,371.8 L510.6,398.5 L521.1,415.8 L531.7,428.1 L542.3,438.2 L552.8,447.3 L563.4,456.5 L573.9,464.3 L584.5,469.8 L595.1,474.6 L605.6,479.2 L616.2,482.6 L626.8,485.6 L637.3,487.5 L647.9,489.0 L658.4,489.9 L669.0,490.7"/>
<path d="M67.0,198.5 L77.6,229.7 L88.1,271.9 L98.7,344.0 L109.2,407.2 L119.8,454.7 L130.4,474.3 L140.9,486.6 L151.5,491.3 L162.1,493.5 L172.6,494.9 L183.2,495.5 L193.7,496.1 L204.3,496.6 L214.9,496.7 L225.4,496.8 L236.0,496.9 L246.5,496.9 L257.1,497.0 L267.7,497.1 L278.2,497.3 L288.8,496.7 L299.4,494.3 L309.9,490.8 L320.5,485.3 L331.0,478.1 L341.6,469.2 L352.2,455.6 L362.7,430.0 L373.3,407.4 L383.8,374.4 L394.4,338.8 L405.0,308.6 L415.5,282.6 L426.1,269.8 L436.6,264.9 L447.2,271.8 L457.8,289.4 L468.3,312.4 L478.9,346.9 L489.5,374.9 L500.0,400.4 L510.6,417.2 L521.1,429.3 L531.7,439.1 L542.3,448.1 L552.8,457.1 L563.4,464.7 L573.9,470.1 L584.5,474.9 L595.1,479.4 L605.6,482.7 L616.2,485.7 L626.8,487.6 L637.3,489.1 L647.9,490.0 L658.4,490.8 L669.0,490.3"/>
<path d="M67.0,186.5 L77.6,224.7 L88.1,275.8 L98.7,355.1 L109.2,421.9 L119.8,459.5 L130.4,477.3 L140.9,488.7 L151.5,489.7 L162.1,491.1 L172.6,490.2 L183.2,489.5 L193.7,489.4 L204.3,490.2 L214.9,488.6 L225.4,488.1 L236.0,490.5 L246.5,489.2 L257.1,491.2 L267.7,489.2 L278.2,490.6 L288.8,489.8 L299.4,489.4 L309.9,489.9 L320.5,488.5 L331.0,485.5 L341.6,477.5 L352.2,467.6 L362.7,452.6 L373.3,424.2 L383.8,397.6 L394.4,360.0 L405.0,318.5 L415.5,283.5 L426.1,254.5 L436.6,241.5 L447.2,237.2 L457.8,240.8 L468.3,250.7 L478.9,265.5 L489.5,282.5 L500.0,306.2 L510.6,330.4 L521.1,350.8 L531.7,374.7 L542.3,398.3 L552.8,418.0 L563.4,434.6 L573.9,448.8 L584.5,461.4 L595.1,472.9 L605.6,480.1 L616.2,483.5 L626.8,486.0 L637.3,487.7 L647.9,487.9 L658.4,489.0 L669.0,488.8"/>
<path d="M67.0,191.1 L77.6,203.1 L88.1,240.5 L98.7,291.7 L109.2,367.8 L119.8,431.1 L130.4,463.1 L140.9,479.5 L151.5,489.4 L162.1,492.5 L172.6,494.0 L183.2,495.1 L193.7,495.7 L204.3,496.3 L214.9,496.6 L225.4,496.7 L236.0,496.8 L246.5,496.8 L257.1,496.9 L267.7,497.0 L278.2,497.1 L288.8,496.4 L299.4,493.5 L309.9,489.7 L320.5,483.2 L331.0,474.8 L341.6,464.5 L352.2,449.0 L362.7,420.2 L373.3,391.3 L383.8,357.1 L394.4,312.9 L405.0,274.0 L415.5,239.3 L426.1,218.1 L436.6,209.7 L447.2,212.0 L457.8,228.0 L468.3,254.9 L478.9,293.6 L489.5,328.3 L500.0,364.6 L510.6,388.0 L521.1,404.8 L531.7,418.7 L542.3,429.7 L552.8,440.7 L563.4,451.7 L573.9,459.1 L584.5,465.5 L595.1,471.0 L605.6,476.3 L616.2,480.0 L626.8,483.5 L637.3,485.3 L647.9,487.1 L658.4,488.1 L669.0,488.9"/>
<path d="M67.0,180.9 L77.6,201.3 L88.1,241.7 L98.7,309.5 L109.2,378.1 L119.8,438.0 L130.4,466.3 L140.9,481.6 L151.5,489.7 L162.1,491.0 L172.6,490.9 L183.2,489.5 L193.7,490.1 L204.3,489.2 L214.9,490.3 L225.4,487.7 L236.0,490.2 L246.5,487.8 L257.1,490.7 L267.7,489.3 L278.2,488.8 L288.8,491.3 L299.4,490.9 L309.9,489.5 L320.5,488.7 L331.0,483.4 L341.6,475.8 L352.2,465.3 L362.7,445.6 L373.3,419.9 L383.8,395.4 L394.4,357.4 L405.0,323.7 L415.5,294.1 L426.1,276.0 L436.6,269.0 L447.2,271.3 L457.8,283.2 L468.3,303.4 L478.9,331.1 L489.5,358.8 L500.0,385.5 L510.6,405.9 L521.1,420.3 L531.7,431.6 L542.3,441.9 L552.8,451.9 L563.4,461.2 L573.9,468.9 L584.5,474.8 L595.1,480.4 L605.6,484.0 L616.2,486.8 L626.8,488.4 L637.3,489.1 L647.9,490.0 L658.4,489.0 L669.0,488.6"/>
<path d="M67.0,213.3 L77.6,247.8 L88.1,292.9 L98.7,364.6 L109.2,425.5 L119.8,462.0 L130.4,478.6 L140.9,489.4 L151.5,492.4 L162.1,494.1 L172.6,495.2 L183.2,495.8 L193.7,496.4 L204.3,496.7 L214.9,496.8 L225.4,496.9 L236.0,496.9 L246.5,497.0 L257.1,497.1 L267.7,497.2 L278.2,497.4 L288.8,497.5 L299.4,497.6 L309.9,496.9 L320.5,494.2 L331.0,490.1 L341.6,483.4 L352.2,474.8 L362.7,463.4 L373.3,441.4 L383.8,411.9 L394.4,382.4 L405.0,338.9 L415.5,301.3 L426.1,269.1 L436.6,252.4 L447.2,247.2 L457.8,256.6 L468.3,279.1 L478.9,311.8 L489.5,347.8 L500.0,382.5 L510.6,405.0 L521.1,420.3 L531.7,432.7 L542.3,443.3 L552.8,453.9 L563.4,462.6 L573.9,469.0 L584.5,474.4 L595.1,479.5 L605.6,483.0 L616.2,486.0 L626.8,487.8 L637.3,489.1 L647.9,490.0 L658.4,489.6 L669.0,489.6"/>
<path d="M67.0,197.2 L77.6,223.5 L88.1,264.4 L98.7,335.0 L109.2,397.6 L119.8,449.1 L130.4,471.7 L140.9,484.9 L151.5,489.9 L162.1,488.5 L172.6,489.1 L183.2,488.8 L193.7,491.1 L204.3,488.4 L214.9,490.9 L225.4,489.5 L236.0,488.6 L246.5,489.3 L257.1,488.6 L267.7,489.0 L278.2,489.1 L288.8,490.0 L299.4,488.1 L309.9,488.0 L320.5,489.7 L331.0,485.1 L341.6,477.2 L352.2,467.3 L362.7,452.2 L373.3,423.3 L383.8,398.7 L394.4,360.0 L405.0,321.3 L415.5,288.0 L426.1,264.5 L436.6,254.2 L447.2,253.7 L457.8,266.1 L468.3,289.8 L478.9,324.5 L489.5,355.8 L500.0,388.5 L510.6,408.5 L521.1,422.3 L531.7,433.9 L542.3,443.8 L552.8,453.8 L563.4,462.4 L573.9,468.5 L584.5,473.7 L595.1,478.7 L605.6,482.2 L616.2,485.6 L626.8,487.3 L637.3,488.9 L647.9,489.3 L658.4,490.2 L669.0,487.7"/>
<path d="M67.0,323.2 L77.6,347.0 L88.1,386.7 L98.7,427.4 L109.2,462.8 L119.8,479.6 L130.4,488.7 L140.9,493.6 L151.5,493.7 L162.1,495.6 L172.6,495.1 L183.2,493.9 L193.7,495.7 L204.3,494.8 L214.9,494.9 L225.4,495.8 L236.0,494.9 L246.5,494.1 L257.1,494.1 L267.7,495.5 L278.2,492.2 L288.8,494.8 L299.4,495.4 L309.9,495.9 L320.5,494.2 L331.0,490.1 L341.6,483.6 L352.2,475.7 L362.7,464.4 L373.3,442.6 L383.8,416.1 L394.4,387.2 L405.0,348.2 L415.5,314.7 L426.1,286.3 L436.6,272.9 L447.2,269.3 L457.8,278.9 L468.3,300.1 L478.9,331.3 L489.5,363.0 L500.0,394.9 L510.6,414.4 L521.1,427.9 L531.7,439.0 L542.3,448.6 L552.8,458.3 L563.4,466.0 L573.9,471.8 L584.5,476.7 L595.1,481.2 L605.6,484.5 L616.2,487.1 L626.8,488.8 L637.3,490.0 L647.9,490.8 L658.4,490.4 L669.0,490.4"/>
<path d="M67.0,182.7 L77.6,207.3 L88.1,248.9 L98.7,321.7 L109.2,386.7 L119.8,443.3 L130.4,468.7 L140.9,483.2 L151.5,489.5 L162.1,492.9 L172.6,490.7 L183.2,491.0 L193.7,490.9 L204.3,490.3 L214.9,489.4 L225.4,491.2 L236.0,490.9 L246.5,489.6 L257.1,489.8 L267.7,489.6 L278.2,490.0 L288.8,490.6 L299.4,490.8 L309.9,490.8 L320.5,485.5 L331.0,477.6 L341.6,468.5 L352.2,454.8 L362.7,429.9 L373.3,401.8 L383.8,373.4 L394.4,330.9 L405.0,293.0 L415.5,258.9 L426.1,237.4 L436.6,227.9 L447.2,228.0 L457.8,240.8 L468.3,264.7 L478.9,298.3 L489.5,333.1 L500.0,366.5 L510.6,390.9 L521.1,407.9 L531.7,421.7 L542.3,432.0 L552.8,442.3 L563.4,452.6 L573.9,460.3 L584.5,466.5 L595.1,471.8 L605.6,476.9 L616.2,480.5 L626.8,483.9 L637.3,485.8 L647.9,487.6 L658.4,488.5 L669.0,489.4"/>
<path d="M67.0,168.0 L77.6,192.1 L88.1,235.1 L98.7,310.7 L109.2,378.6 L119.8,438.9 L130.4,466.5 L140.9,481.9 L151.5,489.7 L162.1,492.5 L172.6,494.1 L183.2,495.0 L193.7,495.7 L204.3,496.3 L214.9,496.4 L225.4,496.5 L236.0,496.6 L246.5,496.7 L257.1,496.8 L267.7,496.9 L278.2,497.1 L288.8,497.2 L299.4,496.0 L309.9,493.0 L320.5,488.2 L331.0,480.7 L341.6,471.3 L352.2,459.0 L362.7,437.4 L373.3,404.2 L383.8,374.4 L394.4,327.9 L405.0,283.7 L415.5,244.6 L426.1,219.8 L436.6,209.0 L447.2,209.9 L457.8,225.8 L468.3,254.6 L478.9,296.6 L489.5,332.5 L500.0,369.8 L510.6,393.2 L521.1,409.0 L531.7,422.4 L542.3,434.1 L552.8,445.8 L563.4,455.8 L573.9,462.9 L584.5,469.0 L595.1,474.8 L605.6,479.0 L616.2,482.9 L626.8,485.1 L637.3,487.0 L647.9,488.0 L658.4,488.8 L669.0,488.1"/>
<path d="M67.0,186.2 L77.6,215.4 L88.1,258.5 L98.7,332.4 L109.2,397.6 L119.8,449.5 L130.4,471.7 L140.9,485.1 L151.5,489.1 L162.1,487.6 L172.6,486.4 L183.2,486.6 L193.7,489.1 L204.3,487.7 L214.9,487.8 L225.4,487.8 L236.0,490.4 L246.5,487.2 L257.1,489.7 L267.7,485.8 L278.2,487.4 L288.8,488.2 L299.4,487.4 L309.9,487.9 L320.5,487.3 L331.0,479.5 L341.6,470.1 L352.2,456.9 L362.7,432.4 L373.3,400.2 L383.8,369.5 L394.4,322.1 L405.0,279.8 L415.5,242.7 L426.1,220.0 L436.6,211.2 L447.2,212.6 L457.8,220.3 L468.3,234.3 L478.9,252.8 L489.5,275.4 L500.0,305.8 L510.6,328.3 L521.1,353.3 L531.7,376.1 L542.3,398.4 L552.8,417.2 L563.4,433.9 L573.9,448.5 L584.5,461.3 L595.1,473.5 L605.6,480.1 L616.2,483.7 L626.8,485.7 L637.3,487.4 L647.9,488.4 L658.4,487.8 L669.0,486.4"/>
<path d="M67.0,253.5 L77.6,284.6 L88.1,327.8 L98.7,390.6 L109.2,442.9 L119.8,469.4 L130.4,482.9 L140.9,486.0 L151.5,487.4 L162.1,488.1 L172.6,487.0 L183.2,488.0 L193.7,487.4 L204.3,487.0 L214.9,486.1 L225.4,486.1 L236.0,486.4 L246.5,487.2 L257.1,488.5 L267.7,487.1 L278.2,487.2 L288.8,487.0 L299.4,487.4 L309.9,487.4 L320.5,486.0 L331.0,488.3 L341.6,482.9 L352.2,474.0 L362.7,462.9 L373.3,446.0 L383.8,414.3 L394.4,385.0 L405.0,343.8 L415.5,298.2 L426.1,259.4 L436.6,226.3 L447.2,210.3 L457.8,204.7 L468.3,214.3 L478.9,237.6 L489.5,269.0 L500.0,311.7 L510.6,348.0 L521.1,378.5 L531.7,398.7 L542.3,414.2 L552.8,426.0 L563.4,437.5 L573.9,449.1 L584.5,457.6 L595.1,464.5 L605.6,470.3 L616.2,475.9 L626.8,479.7 L637.3,483.3 L647.9,484.7 L658.4,487.1 L669.0,487.0"/>
<path d="M67.0,213.7 L77.6,249.0 L88.1,296.5 L98.7,369.3 L109.2,430.4 L119.8,463.4 L130.4,479.5 L140.9,489.6 L151.5,492.6 L162.1,494.1 L172.6,495.2 L183.2,495.8 L193.7,495.9 L204.3,496.7 L214.9,496.8 L225.4,496.8 L236.0,496.7 L246.5,497.0 L257.1,497.1 L267.7,496.9 L278.2,497.3 L288.8,497.5 L299.4,496.7 L309.9,494.1 L320.5,490.3 L331.0,484.0 L341.6,475.9 L352.2,465.6 L362.7,448.9 L373.3,419.6 L383.8,394.3 L394.4,354.5 L405.0,315.4 L415.5,281.5 L426.1,258.1 L436.6,247.8 L447.2,246.6 L457.8,253.5 L468.3,268.0 L478.9,287.0 L489.5,313.5 L500.0,339.9 L510.6,363.9 L521.1,387.6 L531.7,403.6 L542.3,419.5 L552.8,433.8 L563.4,446.5 L573.9,457.4 L584.5,467.3 L595.1,476.2 L605.6,481.5 L616.2,484.9 L626.8,486.8 L637.3,488.5 L647.9,489.4 L658.4,490.2 L669.0,489.5"/>
<path d="M67.0,176.5 L77.6,200.5 L88.1,242.5 L98.7,316.4 L109.2,382.5 L119.8,441.0 L130.4,467.6 L140.9,482.5 L151.5,486.4 L162.1,487.9 L172.6,487.9 L183.2,489.5 L193.7,488.4 L204.3,486.8 L214.9,487.3 L225.4,487.8 L236.0,488.1 L246.5,487.8 L257.1,487.4 L267.7,488.2 L278.2,490.6 L288.8,485.7 L299.4,486.6 L309.9,488.0 L320.5,483.2 L331.0,474.5 L341.6,463.5 L352.2,446.5 L362.7,414.6 L373.3,387.5 L383.8,344.9 L394.4,302.1 L405.0,265.5 L415.5,239.2 L426.1,227.5 L436.6,226.5 L447.2,233.2 L457.8,249.2 L468.3,270.3 L478.9,300.1 L489.5,328.7 L500.0,355.5 L510.6,380.4 L521.1,397.5 L531.7,410.3 L542.3,425.7 L552.8,438.7 L563.4,450.5 L573.9,461.4 L584.5,471.1 L595.1,478.5 L605.6,483.5 L616.2,485.7 L626.8,487.5 L637.3,488.6 L647.9,486.4 L658.4,486.3 L669.0,486.6"/>
<path d="M67.0,188.0 L77.6,221.6 L88.1,265.6 L98.7,340.7 L109.2,406.3 L119.8,454.4 L130.4,474.1 L140.9,486.6 L151.5,491.2 L162.1,493.4 L172.6,494.8 L183.2,495.4 L193.7,496.1 L204.3,496.5 L214.9,495.2 L225.4,494.4 L236.0,495.6 L246.5,496.9 L257.1,494.3 L267.7,496.0 L278.2,497.2 L288.8,497.3 L299.4,495.5 L309.9,493.4 L320.5,488.8 L331.0,482.0 L341.6,473.9 L352.2,462.2 L362.7,440.6 L373.3,413.3 L383.8,386.6 L394.4,345.8 L405.0,310.0 L415.5,278.6 L426.1,259.5 L436.6,252.4 L447.2,254.4 L457.8,262.6 L468.3,277.0 L478.9,294.7 L489.5,319.9 L500.0,343.9 L510.6,365.9 L521.1,388.8 L531.7,403.7 L542.3,420.3 L552.8,434.7 L563.4,447.5 L573.9,458.6 L584.5,468.6 L595.1,477.9 L605.6,483.0 L616.2,486.0 L626.8,487.7 L637.3,489.1 L647.9,489.9 L658.4,490.1 L669.0,489.8"/>
<path d="M67.0,201.7 L77.6,228.6 L88.1,269.2 L98.7,339.1 L109.2,400.9 L119.8,450.9 L130.4,472.6 L140.9,485.5 L151.5,488.8 L162.1,488.4 L172.6,486.5 L183.2,487.1 L193.7,489.7 L204.3,488.9 L214.9,488.0 L225.4,488.4 L236.0,487.3 L246.5,488.9 L257.1,490.2 L267.7,489.2 L278.2,488.4 L288.8,487.6 L299.4,487.4 L309.9,486.8 L320.5,487.6 L331.0,481.0 L341.6,473.6 L352.2,462.6 L362.7,443.2 L373.3,418.8 L383.8,396.2 L394.4,360.9 L405.0,327.1 L415.5,297.9 L426.1,275.6 L436.6,265.0 L447.2,261.5 L457.8,268.9 L468.3,286.4 L478.9,308.8 L489.5,342.7 L500.0,369.7 L510.6,396.1 L521.1,413.5 L531.7,425.3 L542.3,435.6 L552.8,444.4 L563.4,453.1 L573.9,461.9 L584.5,467.2 L595.1,472.2 L605.6,476.6 L616.2,480.7 L626.8,483.6 L637.3,486.4 L647.9,487.8 L658.4,487.6 L669.0,487.3"/>
<path d="M67.0,173.3 L77.6,181.9 L88.1,220.7 L98.7,272.6 L109.2,353.1 L119.8,420.9 L130.4,458.9 L140.9,477.0 L151.5,488.5 L162.1,491.8 L172.6,493.6 L183.2,494.8 L193.7,495.4 L204.3,496.1 L214.9,496.4 L225.4,496.1 L236.0,496.6 L246.5,496.7 L257.1,496.5 L267.7,496.9 L278.2,497.0 L288.8,497.2 L299.4,496.4 L309.9,494.8 L320.5,492.0 L331.0,486.4 L341.6,478.7 L352.2,469.7 L362.7,455.9 L373.3,430.1 L383.8,403.3 L394.4,371.5 L405.0,330.7 L415.5,295.2 L426.1,264.0 L436.6,246.2 L447.2,239.4 L457.8,244.9 L468.3,263.7 L478.9,289.3 L489.5,327.8 L500.0,359.1 L510.6,388.7 L521.1,407.9 L531.7,421.5 L542.3,432.6 L552.8,442.8 L563.4,452.9 L573.9,461.3 L584.5,467.4 L595.1,472.7 L605.6,477.8 L616.2,481.4 L626.8,484.7 L637.3,486.6 L647.9,488.3 L658.4,489.2 L669.0,490.0"/>
<path d="M67.0,306.9 L77.6,334.4 L88.1,382.3 L98.7,425.1 L109.2,462.4 L119.8,479.1 L130.4,487.6 L140.9,489.2 L151.5,490.9 L162.1,488.4 L172.6,488.0 L183.2,490.8 L193.7,488.4 L204.3,488.8 L214.9,489.6 L225.4,488.8 L236.0,488.6 L246.5,488.4 L257.1,487.8 L267.7,489.0 L278.2,489.0 L288.8,486.4 L299.4,490.2 L309.9,489.3 L320.5,489.4 L331.0,486.7 L341.6,479.1 L352.2,469.9 L362.7,455.8 L373.3,429.5 L383.8,402.9 L394.4,368.7 L405.0,328.1 L415.5,293.1 L426.1,263.3 L436.6,248.6 L447.2,243.4 L457.8,248.2 L468.3,262.0 L478.9,281.9 L489.5,308.4 L500.0,337.4 L510.6,363.0 L521.1,387.8 L531.7,404.8 L542.3,419.8 L552.8,433.7 L563.4,446.1 L573.9,456.7 L584.5,466.3 L595.1,474.5 L605.6,480.1 L616.2,483.5 L626.8,486.1 L637.3,487.8 L647.9,486.3 L658.4,489.9 L669.0,488.7"/>
<path d="M67.0,183.5 L77.6,206.4 L88.1,247.3 L98.7,319.3 L109.2,384.0 L119.8,441.6 L130.4,468.0 L140.9,482.7 L151.5,490.1 L162.1,492.8 L172.6,494.4 L183.2,495.2 L193.7,495.6 L204.3,496.5 L214.9,496.5 L225.4,496.4 L236.0,496.7 L246.5,496.8 L257.1,495.0 L267.7,497.0 L278.2,496.1 L288.8,497.3 L299.4,496.3 L309.9,494.3 L320.5,490.7 L331.0,484.7 L341.6,477.2 L352.2,467.4 L362.7,451.1 L373.3,424.0 L383.8,400.2 L394.4,362.9 L405.0,326.8 L415.5,295.2 L426.1,274.2 L436.6,265.1 L447.2,264.1 L457.8,269.1 L468.3,279.9 L478.9,295.3 L489.5,312.6 L500.0,338.8 L510.6,357.6 L521.1,378.2 L531.7,397.7 L542.3,415.9 L552.8,431.3 L563.4,445.2 L573.9,456.9 L584.5,467.4 L595.1,477.2 L605.6,482.9 L616.2,486.0 L626.8,487.7 L637.3,489.3 L647.9,490.1 L658.4,490.7 L669.0,490.2"/>
<path d="M67.0,244.6 L77.6,276.1 L88.1,318.7 L98.7,383.7 L109.2,438.2 L119.8,467.4 L130.4,481.7 L140.9,490.7 L151.5,491.6 L162.1,491.9 L172.6,493.1 L183.2,492.5 L193.7,490.8 L204.3,492.1 L214.9,491.1 L225.4,489.9 L236.0,491.3 L246.5,491.5 L257.1,492.3 L267.7,490.4 L278.2,493.2 L288.8,492.9 L299.4,491.7 L309.9,493.3 L320.5,490.6 L331.0,486.1 L341.6,478.2 L352.2,468.6 L362.7,453.9 L373.3,426.4 L383.8,398.6 L394.4,362.9 L405.0,320.5 L415.5,284.1 L426.1,253.0 L436.6,237.8 L447.2,232.1 L457.8,235.9 L468.3,246.2 L478.9,262.1 L489.5,280.5 L500.0,307.3 L510.6,331.7 L521.1,354.2 L531.7,379.5 L542.3,400.5 L552.8,419.0 L563.4,435.2 L573.9,449.0 L584.5,461.1 L595.1,472.2 L605.6,479.3 L616.2,482.8 L626.8,485.5 L637.3,487.3 L647.9,488.6 L658.4,489.5 L669.0,489.1"/>
<path d="M67.0,190.4 L77.6,210.9 L88.1,250.3 L98.7,317.4 L109.2,383.0 L119.8,440.6 L130.4,467.6 L140.9,482.4 L151.5,490.1 L162.1,492.9 L172.6,494.4 L183.2,495.2 L193.7,495.9 L204.3,496.5 L214.9,496.5 L225.4,496.7 L236.0,496.8 L246.5,496.9 L257.1,496.9 L267.7,496.2 L278.2,497.2 L288.8,496.7 L299.4,496.3 L309.9,493.4 L320.5,488.9 L331.0,481.8 L341.6,472.6 L352.2,460.8 L362.7,441.2 L373.3,408.3 L383.8,379.5 L394.4,334.4 L405.0,290.6 L415.5,252.3 L426.1,226.7 L436.6,215.5 L447.2,214.6 L457.8,222.6 L468.3,238.9 L478.9,260.1 L489.5,289.6 L500.0,319.1 L510.6,345.9 L521.1,372.7 L531.7,390.7 L542.3,408.9 L552.8,425.1 L563.4,439.6 L573.9,452.0 L584.5,463.2 L595.1,473.5 L605.6,479.4 L616.2,483.2 L626.8,485.3 L637.3,487.3 L647.9,488.2 L658.4,489.0 L669.0,488.3"/>
<path d="M67.0,197.4 L77.6,223.4 L88.1,264.1 L98.7,334.6 L109.2,397.0 L119.8,448.8 L130.4,471.5 L140.9,484.8 L151.5,488.4 L162.1,488.0 L172.6,488.7 L183.2,488.8 L193.7,488.0 L204.3,491.4 L214.9,489.9 L225.4,489.2 L236.0,488.8 L246.5,486.9 L257.1,485.9 L267.7,487.8 L278.2,488.1 L288.8,487.8 L299.4,486.9 L309.9,489.6 L320.5,489.0 L331.0,482.8 L341.6,474.0 L352.2,462.6 L362.7,444.4 L373.3,412.3 L383.8,384.3 L394.4,340.6 L405.0,297.7 L415.5,260.4 L426.1,235.2 L436.6,224.3 L447.2,224.4 L457.8,238.9 L468.3,266.1 L478.9,305.9 L489.5,340.4 L500.0,376.2 L510.6,398.6 L521.1,413.7 L531.7,426.5 L542.3,437.7 L552.8,448.9 L563.4,458.3 L573.9,465.0 L584.5,470.9 L595.1,476.5 L605.6,480.3 L616.2,484.0 L626.8,485.9 L637.3,487.7 L647.9,488.7 L658.4,487.5 L669.0,488.7"/>
<path d="M67.0,266.0 L77.6,282.2 L88.1,312.0 L98.7,363.8 L109.2,412.6 L119.8,455.7 L130.4,475.6 L140.9,486.7 L151.5,492.4 L162.1,493.6 L172.6,495.5 L183.2,495.1 L193.7,495.8 L204.3,495.9 L214.9,495.4 L225.4,494.8 L236.0,496.7 L246.5,496.0 L257.1,497.0 L267.7,495.1 L278.2,496.4 L288.8,496.3 L299.4,494.8 L309.9,495.5 L320.5,493.2 L331.0,488.2 L341.6,480.2 L352.2,470.3 L362.7,455.8 L373.3,427.9 L383.8,395.3 L394.4,357.0 L405.0,308.7 L415.5,267.5 L426.1,234.2 L436.6,220.0 L447.2,218.0 L457.8,232.4 L468.3,261.1 L478.9,304.5 L489.5,341.6 L500.0,377.8 L510.6,400.3 L521.1,416.5 L531.7,429.1 L542.3,441.2 L552.8,453.3 L563.4,461.2 L573.9,468.0 L584.5,474.1 L595.1,478.9 L605.6,482.9 L616.2,485.4 L626.8,487.4 L637.3,488.4 L647.9,488.9 L658.4,488.5 L669.0,488.5"/>
<path d="M67.0,195.3 L77.6,233.1 L88.1,284.3 L98.7,362.1 L109.2,427.2 L119.8,461.5 L130.4,478.5 L140.9,489.1 L151.5,492.2 L162.1,493.9 L172.6,495.0 L183.2,495.6 L193.7,496.3 L204.3,496.5 L214.9,496.6 L225.4,496.7 L236.0,496.8 L246.5,496.9 L257.1,497.0 L267.7,497.1 L278.2,497.2 L288.8,497.4 L299.4,495.1 L309.9,492.2 L320.5,486.4 L331.0,478.3 L341.6,468.9 L352.2,454.2 L362.7,427.1 L373.3,396.9 L383.8,363.0 L394.4,317.7 L405.0,278.4 L415.5,244.2 L426.1,225.4 L436.6,218.1 L447.2,222.8 L457.8,237.8 L468.3,260.6 L478.9,291.1 L489.5,323.7 L500.0,353.2 L510.6,379.7 L521.1,398.3 L531.7,411.3 L542.3,425.7 L552.8,438.5 L563.4,450.2 L573.9,460.8 L584.5,469.4 L595.1,476.7 L605.6,481.5 L616.2,484.5 L626.8,486.4 L637.3,487.9 L647.9,488.9 L658.4,488.7 L669.0,488.6"/>
<path d="M67.0,180.3 L77.6,207.9 L88.1,251.1 L98.7,325.5 L109.2,391.6 L119.8,446.1 L130.4,470.1 L140.9,484.1 L151.5,490.4 L162.1,491.5 L172.6,491.3 L183.2,494.0 L193.7,492.6 L204.3,490.8 L214.9,491.2 L225.4,492.0 L236.0,493.3 L246.5,492.9 L257.1,492.1 L267.7,490.8 L278.2,491.6 L288.8,492.2 L299.4,491.9 L309.9,489.8 L320.5,483.4 L331.0,475.0 L341.6,464.8 L352.2,449.5 L362.7,420.8 L373.3,392.6 L383.8,357.9 L394.4,314.7 L405.0,276.9 L415.5,243.3 L426.1,223.0 L436.6,215.3 L447.2,218.5 L457.8,235.6 L468.3,262.3 L478.9,301.5 L489.5,334.6 L500.0,370.6 L510.6,392.4 L521.1,408.2 L531.7,421.5 L542.3,432.3 L552.8,443.1 L563.4,453.9 L573.9,460.7 L584.5,466.9 L595.1,472.3 L605.6,477.3 L616.2,480.8 L626.8,484.0 L637.3,485.9 L647.9,487.5 L658.4,488.4 L669.0,489.0"/>
<path d="M67.0,207.1 L77.6,218.5 L88.1,254.0 L98.7,302.7 L109.2,374.8 L119.8,434.7 L130.4,465.0 L140.9,480.5 L151.5,489.9 L162.1,492.9 L172.6,494.3 L183.2,493.9 L193.7,495.9 L204.3,493.6 L214.9,495.5 L225.4,493.3 L236.0,493.6 L246.5,496.1 L257.1,494.9 L267.7,494.1 L278.2,495.7 L288.8,495.6 L299.4,495.2 L309.9,494.0 L320.5,492.7 L331.0,487.4 L341.6,479.7 L352.2,470.3 L362.7,457.2 L373.3,432.9 L383.8,400.9 L394.4,370.4 L405.0,323.2 L415.5,281.2 L426.1,244.2 L436.6,221.6 L447.2,212.6 L457.8,214.2 L468.3,221.7 L478.9,235.7 L489.5,254.2 L500.0,276.8 L510.6,307.0 L521.1,329.5 L531.7,355.8 L542.3,384.5 L552.8,406.1 L563.4,424.8 L573.9,441.2 L584.5,455.3 L595.1,467.8 L605.6,476.4 L616.2,480.2 L626.8,483.8 L637.3,485.7 L647.9,487.4 L658.4,488.4 L669.0,488.7"/>
<path d="M67.0,188.7 L77.6,226.3 L88.1,276.2 L98.7,354.5 L109.2,420.7 L119.8,459.3 L130.4,477.1 L140.9,488.7 L151.5,489.7 L162.1,490.1 L172.6,489.3 L183.2,492.0 L193.7,488.7 L204.3,489.2 L214.9,490.2 L225.4,490.7 L236.0,491.0 L246.5,489.5 L257.1,489.6 L267.7,489.6 L278.2,487.9 L288.8,492.1 L299.4,490.5 L309.9,490.6 L320.5,488.7 L331.0,487.0 L341.6,479.5 L352.2,470.6 L362.7,456.8 L373.3,431.0 L383.8,404.0 L394.4,371.2 L405.0,330.1 L415.5,294.6 L426.1,263.9 L436.6,248.0 L447.2,242.0 L457.8,247.3 L468.3,262.7 L478.9,284.4 L489.5,315.3 L500.0,344.0 L510.6,372.5 L521.1,394.5 L531.7,410.6 L542.3,424.6 L552.8,436.8 L563.4,448.6 L573.9,458.6 L584.5,467.4 L595.1,474.4 L605.6,479.8 L616.2,483.2 L626.8,485.9 L637.3,487.6 L647.9,488.9 L658.4,489.8 L669.0,487.3"/>
<path d="M67.0,295.5 L77.6,321.3 L88.1,357.1 L98.7,409.1 L109.2,452.5 L119.8,474.4 L130.4,485.7 L140.9,492.4 L151.5,494.6 L162.1,495.6 L172.6,496.3 L183.2,496.7 L193.7,497.2 L204.3,497.3 L214.9,496.4 L225.4,497.5 L236.0,497.5 L246.5,497.5 L257.1,497.5 L267.7,496.3 L278.2,497.5 L288.8,497.5 L299.4,496.9 L309.9,494.2 L320.5,490.5 L331.0,484.1 L341.6,475.8 L352.2,465.3 L362.7,449.3 L373.3,418.7 L383.8,392.3 L394.4,351.7 L405.0,309.8 L415.5,274.3 L426.1,247.5 L436.6,235.6 L447.2,232.7 L457.8,236.4 L468.3,247.4 L478.9,263.2 L489.5,280.7 L500.0,306.4 L510.6,329.9 L521.1,351.0 L531.7,375.3 L542.3,398.1 L552.8,418.0 L563.4,434.4 L573.9,448.8 L584.5,461.4 L595.1,473.2 L605.6,480.2 L616.2,483.7 L626.8,486.0 L637.3,487.8 L647.9,488.8 L658.4,489.7 L669.0,489.1"/>
<path d="M67.0,186.9 L77.6,211.6 L88.1,252.8 L98.7,324.8 L109.2,389.0 L119.8,444.5 L130.4,469.4 L140.9,483.6 L151.5,490.4 L162.1,493.0 L172.6,494.5 L183.2,495.2 L193.7,495.9 L204.3,495.4 L214.9,495.2 L225.4,496.7 L236.0,496.8 L246.5,496.8 L257.1,496.9 L267.7,496.1 L278.2,497.2 L288.8,495.5 L299.4,496.6 L309.9,495.3 L320.5,492.5 L331.0,486.8 L341.6,478.9 L352.2,469.3 L362.7,454.5 L373.3,426.5 L383.8,398.6 L394.4,360.7 L405.0,317.9 L415.5,281.7 L426.1,252.5 L436.6,239.8 L447.2,237.5 L457.8,249.7 L468.3,274.4 L478.9,310.9 L489.5,345.6 L500.0,381.2 L510.6,402.9 L521.1,417.8 L531.7,430.3 L542.3,441.1 L552.8,452.0 L563.4,460.9 L573.9,467.4 L584.5,472.9 L595.1,478.3 L605.6,481.9 L616.2,485.2 L626.8,487.0 L637.3,488.5 L647.9,489.4 L658.4,489.4 L669.0,489.2"/>
<path d="M67.0,189.2 L77.6,216.9 L88.1,259.2 L98.7,331.9 L109.2,396.3 L119.8,448.6 L130.4,471.3 L140.9,484.8 L151.5,488.1 L162.1,489.7 L172.6,488.2 L183.2,489.5 L193.7,488.4 L204.3,489.2 L214.9,488.1 L225.4,487.0 L236.0,488.8 L246.5,489.6 L257.1,489.5 L267.7,488.4 L278.2,489.6 L288.8,488.0 L299.4,488.7 L309.9,488.1 L320.5,489.1 L331.0,482.8 L341.6,475.2 L352.2,465.1 L362.7,446.9 L373.3,420.4 L383.8,396.8 L394.4,359.7 L405.0,323.8 L415.5,292.6 L426.1,270.3 L436.6,260.2 L447.2,258.6 L457.8,268.7 L468.3,289.4 L478.9,318.3 L489.5,350.6 L500.0,380.7 L510.6,403.1 L521.1,418.5 L531.7,430.9 L542.3,440.2 L552.8,449.5 L563.4,458.9 L573.9,465.4 L584.5,471.0 L595.1,475.6 L605.6,480.1 L616.2,483.3 L626.8,486.2 L637.3,487.7 L647.9,489.2 L658.4,488.0 L669.0,488.9"/>
<path d="M67.0,178.8 L77.6,202.9 L88.1,244.7 L98.7,318.1 L109.2,383.7 L119.8,441.6 L130.4,467.9 L140.9,482.7 L151.5,490.1 L162.1,489.6 L172.6,488.9 L183.2,491.2 L193.7,489.7 L204.3,492.3 L214.9,490.5 L225.4,490.1 L236.0,491.7 L246.5,492.8 L257.1,490.8 L267.7,491.2 L278.2,490.6 L288.8,490.5 L299.4,490.0 L309.9,489.2 L320.5,490.4 L331.0,492.5 L341.6,489.5 L352.2,482.2 L362.7,473.0 L373.3,458.3 L383.8,430.0 L394.4,403.3 L405.0,361.7 L415.5,321.6 L426.1,287.6 L436.6,268.5 L447.2,263.0 L457.8,273.1 L468.3,296.6 L478.9,333.0 L489.5,366.8 L500.0,398.6 L510.6,418.0 L521.1,432.3 L531.7,443.0 L542.3,453.7 L552.8,463.5 L563.4,470.0 L573.9,475.6 L584.5,480.7 L595.1,484.3 L605.6,487.1 L616.2,488.9 L626.8,489.3 L637.3,489.3 L647.9,490.2 L658.4,489.2 L669.0,489.2"/>
<path d="M67.0,183.1 L77.6,194.8 L88.1,233.0 L98.7,285.0 L109.2,363.4 L119.8,428.6 L130.4,461.9 L140.9,478.8 L151.5,489.1 L162.1,492.3 L172.6,493.4 L183.2,494.7 L193.7,493.5 L204.3,495.2 L214.9,495.4 L225.4,495.3 L236.0,494.1 L246.5,495.7 L257.1,493.4 L267.7,494.7 L278.2,493.4 L288.8,494.7 L299.4,493.4 L309.9,495.4 L320.5,494.2 L331.0,490.3 L341.6,484.1 L352.2,476.3 L362.7,466.1 L373.3,447.5 L383.8,420.2 L394.4,395.0 L405.0,355.9 L415.5,320.1 L426.1,288.8 L436.6,269.5 L447.2,261.9 L457.8,264.7 L468.3,281.5 L478.9,305.7 L489.5,341.9 L500.0,371.7 L510.6,399.1 L521.1,416.8 L531.7,429.7 L542.3,439.8 L552.8,449.5 L563.4,459.1 L573.9,466.0 L584.5,471.7 L595.1,476.6 L605.6,481.0 L616.2,484.2 L626.8,486.8 L637.3,488.4 L647.9,489.7 L658.4,490.5 L669.0,490.2"/>
<path d="M67.0,164.8 L77.6,189.1 L88.1,232.4 L98.7,308.7 L109.2,377.2 L119.8,438.2 L130.4,466.1 L140.9,481.7 L151.5,489.6 L162.1,492.5 L172.6,494.1 L183.2,492.4 L193.7,495.5 L204.3,494.6 L214.9,494.2 L225.4,494.8 L236.0,492.5 L246.5,493.5 L257.1,492.8 L267.7,494.3 L278.2,493.0 L288.8,494.1 L299.4,494.1 L309.9,493.6 L320.5,490.0 L331.0,483.5 L341.6,475.4 L352.2,464.8 L362.7,447.1 L373.3,417.8 L383.8,392.1 L394.4,351.7 L405.0,312.7 L415.5,278.5 L426.1,255.8 L436.6,245.8 L447.2,246.0 L457.8,259.3 L468.3,284.1 L478.9,320.2 L489.5,352.0 L500.0,385.2 L510.6,405.7 L521.1,419.8 L531.7,431.7 L542.3,441.9 L552.8,452.2 L563.4,461.1 L573.9,467.2 L584.5,472.6 L595.1,477.8 L605.6,481.5 L616.2,484.9 L626.8,486.8 L637.3,488.5 L647.9,489.4 L658.4,490.1 L669.0,489.5"/>
<path d="M67.0,200.2 L77.6,211.0 L88.1,247.0 L98.7,296.0 L109.2,370.1 L119.8,431.9 L130.4,463.7 L140.9,479.8 L151.5,487.9 L162.1,487.5 L172.6,489.6 L183.2,486.4 L193.7,486.5 L204.3,487.9 L214.9,485.8 L225.4,488.9 L236.0,489.1 L246.5,488.7 L257.1,488.8 L267.7,486.1 L278.2,488.0 L288.8,488.1 L299.4,487.7 L309.9,486.3 L320.5,487.9 L331.0,483.8 L341.6,475.8 L352.2,465.3 L362.7,447.8 L373.3,419.0 L383.8,393.5 L394.4,353.7 L405.0,315.3 L415.5,281.6 L426.1,259.6 L436.6,250.0 L447.2,250.5 L457.8,263.9 L468.3,288.6 L478.9,324.7 L489.5,355.8 L500.0,388.0 L510.6,408.2 L521.1,421.8 L531.7,433.3 L542.3,443.4 L552.8,453.5 L563.4,462.1 L573.9,468.1 L584.5,473.4 L595.1,478.5 L605.6,482.0 L616.2,485.4 L626.8,486.2 L637.3,488.0 L647.9,486.8 L658.4,486.6 L669.0,489.1"/>
<path d="M67.0,202.2 L77.6,230.0 L88.1,270.9 L98.7,341.0 L109.2,402.8 L119.8,452.0 L130.4,473.1 L140.9,485.8 L151.5,491.2 L162.1,493.5 L172.6,493.2 L183.2,493.2 L193.7,492.3 L204.3,489.0 L214.9,493.0 L225.4,494.1 L236.0,491.7 L246.5,493.7 L257.1,493.3 L267.7,492.7 L278.2,492.3 L288.8,492.3 L299.4,492.1 L309.9,492.5 L320.5,490.4 L331.0,484.4 L341.6,476.9 L352.2,466.9 L362.7,449.1 L373.3,422.6 L383.8,398.3 L394.4,360.7 L405.0,325.7 L415.5,294.9 L426.1,275.7 L436.6,267.8 L447.2,269.7 L457.8,284.5 L468.3,307.8 L478.9,342.6 L489.5,371.1 L500.0,399.1 L510.6,417.0 L521.1,429.6 L531.7,439.8 L542.3,449.1 L552.8,458.5 L563.4,465.8 L573.9,471.5 L584.5,476.2 L595.1,480.8 L605.6,483.9 L616.2,486.7 L626.8,488.3 L637.3,489.7 L647.9,490.5 L658.4,490.6 L669.0,490.3"/>
<path d="M67.0,200.8 L77.6,231.1 L88.1,272.9 L98.7,344.2 L109.2,406.8 L119.8,454.3 L130.4,474.2 L140.9,486.5 L151.5,488.7 L162.1,490.4 L172.6,488.7 L183.2,488.6 L193.7,490.2 L204.3,488.3 L214.9,489.8 L225.4,491.6 L236.0,490.9 L246.5,488.7 L257.1,488.2 L267.7,489.3 L278.2,490.3 L288.8,489.0 L299.4,487.8 L309.9,488.9 L320.5,484.8 L331.0,476.5 L341.6,466.7 L352.2,451.9 L362.7,424.4 L373.3,395.6 L383.8,362.8 L394.4,319.0 L405.0,280.4 L415.5,246.2 L426.1,225.5 L436.6,217.5 L447.2,220.5 L457.8,237.8 L468.3,264.7 L478.9,304.6 L489.5,337.6 L500.0,373.0 L510.6,394.8 L521.1,410.1 L531.7,423.2 L542.3,434.0 L552.8,444.8 L563.4,455.4 L573.9,461.9 L584.5,468.0 L595.1,473.4 L605.6,478.1 L616.2,481.7 L626.8,484.6 L637.3,486.4 L647.9,487.8 L658.4,488.7 L669.0,487.5"/>
<path d="M67.0,195.0 L77.6,206.6 L88.1,243.4 L98.7,293.6 L109.2,369.0 L119.8,431.6 L130.4,463.4 L140.9,479.6 L151.5,489.5 L162.1,492.6 L172.6,494.1 L183.2,492.0 L193.7,492.9 L204.3,492.7 L214.9,494.0 L225.4,493.6 L236.0,492.3 L246.5,493.9 L257.1,492.3 L267.7,493.6 L278.2,493.6 L288.8,493.0 L299.4,492.7 L309.9,491.7 L320.5,489.0 L331.0,482.4 L341.6,474.5 L352.2,463.2 L362.7,442.2 L373.3,415.3 L383.8,389.4 L394.4,349.4 L405.0,314.1 L415.5,283.2 L426.1,264.4 L436.6,257.3 L447.2,259.3 L457.8,268.2 L468.3,283.8 L478.9,302.4 L489.5,330.7 L500.0,353.3 L510.6,376.9 L521.1,396.7 L531.7,412.0 L542.3,425.8 L552.8,439.4 L563.4,450.7 L573.9,461.1 L584.5,470.3 L595.1,478.6 L605.6,483.3 L616.2,486.2 L626.8,487.9 L637.3,489.3 L647.9,490.1 L658.4,490.3 L669.0,490.0"/>
<path d="M67.0,324.1 L77.6,363.1 L88.1,412.7 L98.7,454.7 L109.2,475.5 L119.8,486.3 L130.4,492.6 L140.9,494.6 L151.5,495.7 L162.1,496.3 L172.6,496.8 L183.2,496.5 L193.7,497.3 L204.3,496.7 L214.9,497.5 L225.4,497.5 L236.0,497.6 L246.5,497.6 L257.1,496.8 L267.7,497.6 L278.2,497.4 L288.8,497.6 L299.4,495.7 L309.9,493.1 L320.5,488.3 L331.0,481.4 L341.6,473.3 L352.2,461.6 L362.7,439.9 L373.3,413.0 L383.8,386.9 L394.4,346.6 L405.0,310.9 L415.5,279.4 L426.1,260.0 L436.6,252.2 L447.2,254.4 L457.8,269.7 L468.3,293.9 L478.9,330.3 L489.5,359.7 L500.0,390.3 L510.6,409.8 L521.1,422.9 L531.7,434.1 L542.3,443.8 L552.8,453.6 L563.4,462.1 L573.9,468.0 L584.5,473.2 L595.1,478.1 L605.6,481.7 L616.2,485.0 L626.8,487.0 L637.3,488.6 L647.9,489.5 L658.4,490.4 L669.0,489.8"/>
<path d="M67.0,185.3 L77.6,219.7 L88.1,264.3 L98.7,340.3 L109.2,406.5 L119.8,454.6 L130.4,474.1 L140.9,486.6 L151.5,491.2 L162.1,493.3 L172.6,494.7 L183.2,495.4 L193.7,496.0 L204.3,496.5 L214.9,496.6 L225.4,496.7 L236.0,496.8 L246.5,496.9 L257.1,496.9 L267.7,497.1 L278.2,497.2 L288.8,497.1 L299.4,496.9 L309.9,494.5 L320.5,491.2 L331.0,485.7 L341.6,478.4 L352.2,469.3 L362.7,455.6 L373.3,429.6 L383.8,406.0 L394.4,372.3 L405.0,335.5 L415.5,304.2 L426.1,277.6 L436.6,264.9 L447.2,260.4 L457.8,268.2 L468.3,287.1 L478.9,312.5 L489.5,347.0 L500.0,376.3 L510.6,401.1 L521.1,417.5 L531.7,430.0 L542.3,439.6 L552.8,448.9 L563.4,458.2 L573.9,465.2 L584.5,470.9 L595.1,475.5 L605.6,480.2 L616.2,483.3 L626.8,486.2 L637.3,487.8 L647.9,489.3 L658.4,490.1 L669.0,490.6"/>
<path d="M67.0,183.3 L77.6,207.0 L88.1,248.2 L98.7,320.6 L109.2,385.3 L119.8,442.4 L130.4,468.4 L140.9,483.0 L151.5,486.5 L162.1,485.4 L172.6,487.0 L183.2,485.5 L193.7,484.7 L204.3,487.5 L214.9,487.4 L225.4,485.8 L236.0,483.1 L246.5,485.9 L257.1,486.5 L267.7,485.0 L278.2,486.6 L288.8,488.2 L299.4,487.5 L309.9,485.0 L320.5,482.9 L331.0,474.2 L341.6,463.5 L352.2,447.4 L362.7,417.3 L373.3,388.4 L383.8,351.0 L394.4,306.5 L405.0,267.8 L415.5,233.7 L426.1,213.9 L436.6,206.4 L447.2,211.2 L457.8,231.2 L468.3,259.1 L478.9,301.4 L489.5,335.1 L500.0,370.4 L510.6,392.8 L521.1,408.0 L531.7,421.2 L542.3,432.4 L552.8,443.6 L563.4,454.2 L573.9,460.9 L584.5,467.2 L595.1,472.8 L605.6,477.5 L616.2,481.2 L626.8,484.1 L637.3,486.0 L647.9,487.4 L658.4,485.5 L669.0,485.5"/>
<path d="M67.0,181.4 L77.6,218.0 L88.1,263.6 L98.7,341.2 L109.2,408.4 L119.8,455.3 L130.4,474.6 L140.9,487.0 L151.5,487.8 L162.1,489.1 L172.6,490.1 L183.2,488.2 L193.7,488.3 L204.3,489.9 L214.9,490.4 L225.4,490.0 L236.0,487.7 L246.5,489.2 L257.1,485.9 L267.7,489.6 L278.2,488.3 L288.8,488.6 L299.4,489.2 L309.9,488.0 L320.5,489.1 L331.0,482.0 L341.6,473.0 L352.2,461.3 L362.7,442.7 L373.3,409.8 L383.8,381.5 L394.4,337.0 L405.0,292.9 L415.5,255.0 L426.1,228.1 L436.6,216.2 L447.2,215.3 L457.8,229.0 L468.3,255.6 L478.9,294.2 L489.5,330.9 L500.0,368.5 L510.6,392.0 L521.1,408.6 L531.7,422.3 L542.3,433.6 L552.8,445.1 L563.4,455.6 L573.9,462.5 L584.5,468.7 L595.1,474.4 L605.6,478.8 L616.2,482.6 L626.8,485.0 L637.3,486.9 L647.9,488.1 L658.4,488.2 L669.0,488.3"/>
<path d="M67.0,194.7 L77.6,218.6 L88.1,258.8 L98.7,328.9 L109.2,391.5 L119.8,445.7 L130.4,470.0 L140.9,483.9 L151.5,490.6 L162.1,493.1 L172.6,494.6 L183.2,495.3 L193.7,496.0 L204.3,496.5 L214.9,496.3 L225.4,496.7 L236.0,496.8 L246.5,496.9 L257.1,496.6 L267.7,497.1 L278.2,497.2 L288.8,496.8 L299.4,494.6 L309.9,491.7 L320.5,486.9 L331.0,480.4 L341.6,473.1 L352.2,462.1 L362.7,443.2 L373.3,419.3 L383.8,397.6 L394.4,363.6 L405.0,329.8 L415.5,301.4 L426.1,277.2 L436.6,264.8 L447.2,259.1 L457.8,263.7 L468.3,278.6 L478.9,299.9 L489.5,330.9 L500.0,357.8 L510.6,386.0 L521.1,405.3 L531.7,419.2 L542.3,430.7 L552.8,439.3 L563.4,447.9 L573.9,456.5 L584.5,463.7 L595.1,468.9 L605.6,473.5 L616.2,477.8 L626.8,481.4 L637.3,484.2 L647.9,486.6 L658.4,488.0 L669.0,489.3"/>
<path d="M67.0,203.2 L77.6,231.6 L88.1,272.5 L98.7,342.7 L109.2,404.5 L119.8,452.9 L130.4,473.5 L140.9,486.1 L151.5,488.9 L162.1,490.1 L172.6,489.6 L183.2,489.0 L193.7,489.9 L204.3,490.8 L214.9,488.7 L225.4,491.3 L236.0,488.2 L246.5,490.4 L257.1,490.3 L267.7,489.3 L278.2,489.3 L288.8,489.2 L299.4,491.3 L309.9,490.7 L320.5,489.4 L331.0,487.6 L341.6,480.1 L352.2,471.1 L362.7,457.1 L373.3,431.0 L383.8,402.8 L394.4,368.5 L405.0,325.8 L415.5,289.3 L426.1,258.3 L436.6,243.8 L447.2,239.6 L457.8,249.8 L468.3,272.8 L478.9,305.9 L489.5,342.1 L500.0,376.9 L510.6,400.3 L521.1,416.2 L531.7,429.2 L542.3,439.8 L552.8,450.5 L563.4,460.1 L573.9,466.5 L584.5,472.2 L595.1,477.5 L605.6,481.4 L616.2,484.9 L626.8,486.7 L637.3,488.1 L647.9,489.1 L658.4,489.7 L669.0,488.9"/>
<path d="M67.0,193.3 L77.6,214.9 L88.1,254.3 L98.7,323.1 L109.2,386.5 L119.8,442.7 L130.4,468.6 L140.9,483.0 L151.5,490.3 L162.1,492.2 L172.6,490.8 L183.2,491.3 L193.7,491.7 L204.3,491.0 L214.9,492.8 L225.4,492.3 L236.0,489.5 L246.5,492.0 L257.1,490.9 L267.7,491.4 L278.2,490.4 L288.8,491.0 L299.4,490.9 L309.9,490.1 L320.5,491.0 L331.0,487.6 L341.6,480.2 L352.2,471.3 L362.7,458.3 L373.3,434.1 L383.8,404.8 L394.4,374.8 L405.0,331.2 L415.5,293.0 L426.1,259.6 L436.6,239.7 L447.2,232.5 L457.8,237.8 L468.3,257.6 L478.9,284.5 L489.5,324.9 L500.0,357.9 L510.6,387.7 L521.1,407.1 L531.7,421.4 L542.3,432.5 L552.8,443.2 L563.4,453.9 L573.9,461.7 L584.5,468.0 L595.1,473.4 L605.6,478.4 L616.2,482.0 L626.8,485.1 L637.3,486.9 L647.9,488.4 L658.4,489.3 L669.0,489.3"/>
<path d="M67.0,190.4 L77.6,216.3 L88.1,257.7 L98.7,329.4 L109.2,393.2 L119.8,446.8 L130.4,470.5 L140.9,484.3 L151.5,490.6 L162.1,493.1 L172.6,494.6 L183.2,495.3 L193.7,495.9 L204.3,496.3 L214.9,496.6 L225.4,496.7 L236.0,496.8 L246.5,496.9 L257.1,496.1 L267.7,497.1 L278.2,497.2 L288.8,497.3 L299.4,497.5 L309.9,497.0 L320.5,495.0 L331.0,491.9 L341.6,485.6 L352.2,477.0 L362.7,466.2 L373.3,449.5 L383.8,417.5 L394.4,389.3 L405.0,345.4 L415.5,303.3 L426.1,266.9 L436.6,244.5 L447.2,236.0 L457.8,240.9 L468.3,261.9 L478.9,291.3 L489.5,332.6 L500.0,368.1 L510.6,395.4 L521.1,413.2 L531.7,427.2 L542.3,438.3 L552.8,449.5 L563.4,459.6 L573.9,466.3 L584.5,472.2 L595.1,477.8 L605.6,481.6 L616.2,485.1 L626.8,487.0 L637.3,488.5 L647.9,489.5 L658.4,489.3 L669.0,489.2"/>
<path d="M67.0,205.2 L77.6,238.9 L88.1,281.1 L98.7,352.7 L109.2,415.0 L119.8,458.5 L130.4,476.3 L140.9,487.9 L151.5,491.8 L162.1,493.8 L172.6,495.0 L183.2,495.3 L193.7,495.6 L204.3,496.7 L214.9,495.3 L225.4,495.5 L236.0,496.2 L246.5,495.4 L257.1,496.3 L267.7,495.5 L278.2,496.5 L288.8,494.9 L299.4,495.2 L309.9,494.8 L320.5,491.8 L331.0,486.4 L341.6,479.2 L352.2,470.5 L362.7,457.3 L373.3,432.6 L383.8,408.2 L394.4,377.3 L405.0,340.0 L415.5,307.6 L426.1,279.4 L436.6,263.7 L447.2,257.4 L457.8,263.2 L468.3,280.6 L478.9,304.2 L489.5,339.8 L500.0,368.6 L510.6,396.1 L521.1,413.9 L531.7,426.5 L542.3,436.9 L552.8,446.2 L563.4,455.6 L573.9,463.5 L584.5,469.2 L595.1,474.1 L605.6,478.8 L616.2,482.3 L626.8,485.4 L637.3,487.3 L647.9,488.9 L658.4,489.8 L669.0,490.6"/>
<path d="M67.0,206.6 L77.6,240.6 L88.1,282.7 L98.7,354.2 L109.2,416.1 L119.8,458.9 L130.4,476.6 L140.9,488.1 L151.5,487.7 L162.1,487.1 L172.6,490.1 L183.2,487.3 L193.7,487.8 L204.3,487.3 L214.9,488.1 L225.4,487.1 L236.0,488.7 L246.5,488.8 L257.1,487.5 L267.7,487.5 L278.2,489.7 L288.8,487.0 L299.4,487.0 L309.9,487.2 L320.5,489.0 L331.0,484.1 L341.6,475.3 L352.2,464.5 L362.7,447.9 L373.3,416.7 L383.8,387.6 L394.4,346.2 L405.0,300.7 L415.5,262.4 L426.1,230.9 L436.6,216.8 L447.2,212.8 L457.8,221.4 L468.3,241.2 L478.9,266.7 L489.5,305.8 L500.0,336.1 L510.6,369.7 L521.1,390.0 L531.7,405.7 L542.3,420.8 L552.8,433.3 L563.4,446.2 L573.9,456.7 L584.5,465.4 L595.1,472.8 L605.6,478.3 L616.2,482.1 L626.8,484.7 L637.3,486.7 L647.9,487.9 L658.4,488.4 L669.0,488.0"/>
<path d="M67.0,311.8 L77.6,328.1 L88.1,353.5 L98.7,397.3 L109.2,436.0 L119.8,468.0 L130.4,482.0 L140.9,490.3 L151.5,488.3 L162.1,487.0 L172.6,487.6 L183.2,488.5 L193.7,486.1 L204.3,487.7 L214.9,487.8 L225.4,488.5 L236.0,487.6 L246.5,485.5 L257.1,487.8 L267.7,490.0 L278.2,488.0 L288.8,486.2 L299.4,487.0 L309.9,488.8 L320.5,487.9 L331.0,489.0 L341.6,482.4 L352.2,474.7 L362.7,463.2 L373.3,441.9 L383.8,416.2 L394.4,389.7 L405.0,351.4 L415.5,317.8 L426.1,288.5 L436.6,271.0 L447.2,264.8 L457.8,266.9 L468.3,273.9 L478.9,285.9 L489.5,301.1 L500.0,320.6 L510.6,344.4 L521.1,362.8 L531.7,384.6 L542.3,407.0 L552.8,424.6 L563.4,439.4 L573.9,452.6 L584.5,464.0 L595.1,474.1 L605.6,480.9 L616.2,484.0 L626.8,486.8 L637.3,488.4 L647.9,487.6 L658.4,488.5 L669.0,489.6"/>
<path d="M67.0,486.9 L77.6,486.4 L88.1,485.7 L98.7,487.8 L109.2,487.0 L119.8,486.0 L130.4,486.4 L140.9,487.5 L151.5,486.7 L162.1,487.1 L172.6,486.4 L183.2,488.1 L193.7,488.1 L204.3,487.9 L214.9,486.6 L225.4,483.8 L236.0,480.3 L246.5,471.7 L257.1,459.6 L267.7,440.4 L278.2,407.9 L288.8,349.4 L299.4,299.8 L309.9,242.1 L320.5,199.1 L331.0,170.4 L341.6,158.9 L352.2,154.7 L362.7,161.3 L373.3,181.9 L383.8,221.9 L394.4,289.7 L405.0,347.2 L415.5,389.1 L426.1,424.9 L436.6,441.4 L447.2,456.5 L457.8,468.2 L468.3,477.7 L478.9,484.3 L489.5,486.6 L500.0,488.3 L510.6,486.9 L521.1,486.3 L531.7,486.0 L542.3,486.8 L552.8,485.2 L563.4,488.2 L573.9,486.7 L584.5,486.9 L595.1,486.4 L605.6,486.7 L616.2,485.0 L626.8,486.4 L637.3,487.4 L647.9,483.8 L658.4,486.4 L669.0,486.6"/>
<path d="M67.0,494.8 L77.6,494.1 L88.1,492.6 L98.7,491.7 L109.2,493.7 L119.8,493.7 L130.4,492.5 L140.9,495.1 L151.5,494.3 L162.1,494.4 L172.6,495.1 L183.2,494.1 L193.7,493.0 L204.3,491.6 L214.9,488.9 L225.4,485.7 L236.0,480.1 L246.5,471.9 L257.1,459.9 L267.7,441.8 L278.2,407.7 L288.8,347.9 L299.4,296.0 L309.9,233.5 L320.5,187.7 L331.0,155.7 L341.6,141.9 L352.2,136.4 L362.7,142.6 L373.3,163.6 L383.8,204.3 L394.4,275.6 L405.0,337.2 L415.5,382.2 L426.1,420.6 L436.6,438.1 L447.2,454.2 L457.8,466.5 L468.3,476.6 L478.9,483.6 L489.5,487.5 L500.0,489.5 L510.6,491.0 L521.1,492.6 L531.7,493.4 L542.3,491.6 L552.8,493.2 L563.4,495.3 L573.9,493.9 L584.5,493.3 L595.1,492.3 L605.6,492.9 L616.2,493.9 L626.8,494.9 L637.3,493.6 L647.9,493.7 L658.4,492.2 L669.0,492.6"/>
<path d="M67.0,487.5 L77.6,485.7 L88.1,486.2 L98.7,488.8 L109.2,486.6 L119.8,486.8 L130.4,487.2 L140.9,486.4 L151.5,486.4 L162.1,484.4 L172.6,486.8 L183.2,487.8 L193.7,487.5 L204.3,486.2 L214.9,484.9 L225.4,483.9 L236.0,478.4 L246.5,468.6 L257.1,455.1 L267.7,432.9 L278.2,398.3 L288.8,334.5 L299.4,281.7 L309.9,222.2 L320.5,178.2 L331.0,149.8 L341.6,138.3 L352.2,134.7 L362.7,142.4 L373.3,165.0 L383.8,209.0 L394.4,280.9 L405.0,341.0 L415.5,384.2 L426.1,421.2 L436.6,438.6 L447.2,454.4 L457.8,466.6 L468.3,476.5 L478.9,483.5 L489.5,487.4 L500.0,487.2 L510.6,486.9 L521.1,486.9 L531.7,487.1 L542.3,486.3 L552.8,485.7 L563.4,486.1 L573.9,487.5 L584.5,488.9 L595.1,486.9 L605.6,490.0 L616.2,486.3 L626.8,486.3 L637.3,488.3 L647.9,486.4 L658.4,487.7 L669.0,485.6"/>
<path d="M67.0,490.7 L77.6,493.5 L88.1,491.2 L98.7,493.4 L109.2,493.4 L119.8,493.8 L130.4,493.9 L140.9,492.6 L151.5,491.8 L162.1,493.0 L172.6,494.0 L183.2,492.8 L193.7,492.5 L204.3,490.4 L214.9,487.7 L225.4,483.4 L236.0,477.8 L246.5,467.6 L257.1,453.6 L267.7,430.2 L278.2,394.9 L288.8,329.3 L299.4,275.0 L309.9,214.8 L320.5,170.7 L331.0,142.4 L341.6,131.0 L352.2,127.8 L362.7,136.1 L373.3,159.7 L383.8,206.0 L394.4,279.6 L405.0,340.6 L415.5,383.6 L426.1,420.5 L436.6,438.2 L447.2,454.1 L457.8,466.5 L468.3,476.4 L478.9,483.4 L489.5,487.4 L500.0,489.3 L510.6,490.8 L521.1,492.5 L531.7,492.1 L542.3,493.3 L552.8,494.4 L563.4,495.1 L573.9,493.6 L584.5,494.9 L595.1,493.0 L605.6,493.2 L616.2,491.2 L626.8,494.4 L637.3,492.4 L647.9,494.4 L658.4,494.2 L669.0,493.3"/>
<path d="M67.0,487.4 L77.6,486.9 L88.1,486.7 L98.7,487.3 L109.2,485.9 L119.8,485.3 L130.4,487.9 L140.9,487.0 L151.5,486.9 L162.1,488.0 L172.6,487.9 L183.2,486.9 L193.7,487.5 L204.3,486.2 L214.9,485.7 L225.4,486.3 L236.0,481.5 L246.5,473.9 L257.1,462.7 L267.7,445.7 L278.2,413.1 L288.8,356.2 L299.4,306.4 L309.9,247.3 L320.5,203.7 L331.0,173.7 L341.6,162.0 L352.2,157.8 L362.7,164.8 L373.3,186.2 L383.8,228.5 L394.4,297.5 L405.0,354.8 L415.5,394.8 L426.1,428.1 L436.6,444.8 L447.2,459.4 L457.8,470.7 L468.3,479.5 L478.9,485.4 L489.5,485.0 L500.0,485.3 L510.6,486.3 L521.1,484.6 L531.7,488.1 L542.3,486.6 L552.8,487.1 L563.4,485.0 L573.9,484.9 L584.5,487.0 L595.1,486.4 L605.6,485.6 L616.2,486.0 L626.8,486.3 L637.3,485.5 L647.9,484.5 L658.4,486.4 L669.0,487.7"/>
<path d="M67.0,487.6 L77.6,488.0 L88.1,488.3 L98.7,489.6 L109.2,488.9 L119.8,489.4 L130.4,488.2 L140.9,488.7 L151.5,488.6 L162.1,488.0 L172.6,488.8 L183.2,487.4 L193.7,487.5 L204.3,489.5 L214.9,487.2 L225.4,484.9 L236.0,479.9 L246.5,470.7 L257.1,458.1 L267.7,437.2 L278.2,406.1 L288.8,348.3 L299.4,300.7 L309.9,247.9 L320.5,209.0 L331.0,183.8 L341.6,173.6 L352.2,170.3 L362.7,177.0 L373.3,197.0 L383.8,235.6 L394.4,299.6 L405.0,353.8 L415.5,393.4 L426.1,427.7 L436.6,443.2 L447.2,457.7 L457.8,468.8 L468.3,478.0 L478.9,484.6 L489.5,488.1 L500.0,488.3 L510.6,488.9 L521.1,487.2 L531.7,489.2 L542.3,489.3 L552.8,489.4 L563.4,488.8 L573.9,488.4 L584.5,489.0 L595.1,489.5 L605.6,489.9 L616.2,488.4 L626.8,489.1 L637.3,489.6 L647.9,488.8 L658.4,488.2 L669.0,486.4"/>
<path d="M67.0,488.5 L77.6,485.7 L88.1,486.7 L98.7,488.1 L109.2,487.3 L119.8,487.1 L130.4,487.3 L140.9,485.1 L151.5,488.6 L162.1,487.1 L172.6,486.3 L183.2,486.1 L193.7,488.8 L204.3,486.4 L214.9,487.9 L225.4,487.2 L236.0,482.8 L246.5,476.2 L257.1,465.2 L267.7,448.6 L278.2,417.4 L288.8,361.2 L299.4,310.2 L309.9,248.7 L320.5,203.6 L331.0,172.9 L341.6,161.2 L352.2,157.7 L362.7,166.0 L373.3,189.7 L383.8,239.3 L394.4,309.9 L405.0,367.5 L415.5,404.3 L426.1,432.8 L436.6,450.2 L447.2,463.8 L457.8,474.7 L468.3,482.4 L478.9,484.3 L489.5,485.4 L500.0,486.4 L510.6,485.7 L521.1,486.2 L531.7,486.3 L542.3,487.6 L552.8,487.0 L563.4,486.9 L573.9,485.4 L584.5,486.1 L595.1,486.1 L605.6,486.7 L616.2,485.3 L626.8,489.1 L637.3,487.5 L647.9,485.6 L658.4,487.0 L669.0,485.9"/>
<path d="M67.0,487.8 L77.6,487.2 L88.1,488.5 L98.7,487.8 L109.2,488.5 L119.8,486.3 L130.4,488.1 L140.9,488.0 L151.5,487.7 L162.1,487.2 L172.6,487.6 L183.2,488.3 L193.7,488.2 L204.3,487.8 L214.9,487.7 L225.4,484.5 L236.0,479.2 L246.5,469.5 L257.1,456.1 L267.7,433.3 L278.2,399.4 L288.8,337.9 L299.4,286.0 L309.9,230.8 L320.5,191.2 L331.0,166.8 L341.6,157.0 L352.2,155.5 L362.7,164.9 L373.3,189.1 L383.8,239.7 L394.4,307.7 L405.0,363.4 L415.5,399.6 L426.1,429.9 L436.6,446.7 L447.2,460.6 L457.8,471.6 L468.3,480.0 L478.9,485.6 L489.5,487.0 L500.0,490.1 L510.6,487.4 L521.1,488.0 L531.7,486.9 L542.3,489.4 L552.8,487.1 L563.4,489.2 L573.9,488.0 L584.5,488.7 L595.1,490.8 L605.6,488.3 L616.2,487.9 L626.8,487.4 L637.3,488.9 L647.9,489.5 L658.4,487.5 L669.0,488.6"/>
<path d="M67.0,491.9 L77.6,489.9 L88.1,489.1 L98.7,488.8 L109.2,489.9 L119.8,488.0 L130.4,490.4 L140.9,489.9 L151.5,490.4 L162.1,490.3 L172.6,490.1 L183.2,490.6 L193.7,490.3 L204.3,489.6 L214.9,489.4 L225.4,486.1 L236.0,481.0 L246.5,472.8 L257.1,461.1 L267.7,442.6 L278.2,411.1 L288.8,354.3 L299.4,306.3 L309.9,250.6 L320.5,209.2 L331.0,182.1 L341.6,171.2 L352.2,167.5 L362.7,174.3 L373.3,194.8 L383.8,234.9 L394.4,300.8 L405.0,356.0 L415.5,395.4 L426.1,428.8 L436.6,444.7 L447.2,459.1 L457.8,470.2 L468.3,479.0 L478.9,485.2 L489.5,488.8 L500.0,490.4 L510.6,489.0 L521.1,492.1 L531.7,489.3 L542.3,489.2 L552.8,487.3 L563.4,490.8 L573.9,489.1 L584.5,489.2 L595.1,490.8 L605.6,489.6 L616.2,490.7 L626.8,491.1 L637.3,491.4 L647.9,490.1 L658.4,490.9 L669.0,492.0"/>
<path d="M67.0,490.6 L77.6,489.9 L88.1,490.4 L98.7,489.4 L109.2,489.4 L119.8,486.4 L130.4,491.1 L140.9,489.6 L151.5,488.4 L162.1,487.9 L172.6,487.6 L183.2,490.0 L193.7,488.1 L204.3,492.0 L214.9,489.2 L225.4,486.5 L236.0,481.5 L246.5,473.8 L257.1,462.8 L267.7,446.0 L278.2,415.4 L288.8,361.4 L299.4,315.0 L309.9,259.0 L320.5,218.0 L331.0,189.1 L341.6,176.3 L352.2,170.9 L362.7,175.5 L373.3,193.3 L383.8,227.4 L394.4,290.5 L405.0,346.9 L415.5,389.0 L426.1,425.4 L436.6,441.4 L447.2,456.4 L457.8,467.9 L468.3,477.4 L478.9,484.1 L489.5,487.9 L500.0,488.8 L510.6,488.2 L521.1,489.9 L531.7,487.8 L542.3,488.8 L552.8,490.0 L563.4,489.6 L573.9,489.2 L584.5,488.3 L595.1,487.5 L605.6,489.3 L616.2,489.2 L626.8,487.1 L637.3,485.6 L647.9,487.1 L658.4,488.8 L669.0,489.4"/>
<path d="M67.0,497.0 L77.6,497.0 L88.1,497.0 L98.7,497.0 L109.2,496.7 L119.8,496.7 L130.4,496.3 L140.9,496.0 L151.5,495.6 L162.1,495.3 L172.6,494.4 L183.2,493.4 L193.7,492.4 L204.3,489.9 L214.9,487.5 L225.4,482.6 L236.0,476.9 L246.5,466.5 L257.1,452.1 L267.7,427.0 L278.2,387.5 L288.8,331.4 L299.4,279.8 L309.9,226.5 L320.5,187.8 L331.0,163.3 L341.6,153.2 L352.2,150.5 L362.7,158.1 L373.3,179.4 L383.8,220.4 L394.4,287.4 L405.0,344.0 L415.5,385.7 L426.1,422.5 L436.6,438.6 L447.2,454.1 L457.8,465.9 L468.3,475.9 L478.9,482.8 L489.5,486.9 L500.0,489.4 L510.6,490.7 L521.1,492.3 L531.7,493.6 L542.3,494.3 L552.8,494.8 L563.4,495.2 L573.9,495.6 L584.5,496.0 L595.1,496.4 L605.6,495.9 L616.2,496.8 L626.8,496.8 L637.3,496.9 L647.9,496.6 L658.4,496.9 L669.0,496.8"/>
<path d="M67.0,496.2 L77.6,494.6 L88.1,496.0 L98.7,495.3 L109.2,493.9 L119.8,496.4 L130.4,495.4 L140.9,493.7 L151.5,494.1 L162.1,495.5 L172.6,495.0 L183.2,493.9 L193.7,492.9 L204.3,491.1 L214.9,488.5 L225.4,484.7 L236.0,479.4 L246.5,470.2 L257.1,457.5 L267.7,436.8 L278.2,403.7 L288.8,343.3 L299.4,292.9 L309.9,235.3 L320.5,192.5 L331.0,164.4 L341.6,153.1 L352.2,149.1 L362.7,155.9 L373.3,177.0 L383.8,217.7 L394.4,286.2 L405.0,344.3 L415.5,386.8 L426.1,423.4 L436.6,440.0 L447.2,455.4 L457.8,467.3 L468.3,477.0 L478.9,483.9 L489.5,487.6 L500.0,489.7 L510.6,491.0 L521.1,492.7 L531.7,493.5 L542.3,494.5 L552.8,494.9 L563.4,495.3 L573.9,495.5 L584.5,496.1 L595.1,494.6 L605.6,496.8 L616.2,496.0 L626.8,496.9 L637.3,494.8 L647.9,496.9 L658.4,496.7 L669.0,495.5"/>
<path d="M67.0,489.4 L77.6,487.9 L88.1,488.4 L98.7,488.0 L109.2,488.8 L119.8,487.5 L130.4,488.1 L140.9,487.1 L151.5,490.0 L162.1,488.2 L172.6,488.7 L183.2,488.1 L193.7,489.5 L204.3,487.6 L214.9,487.3 L225.4,482.3 L236.0,476.3 L246.5,466.2 L257.1,451.8 L267.7,426.6 L278.2,386.8 L288.8,333.1 L299.4,283.0 L309.9,231.0 L320.5,193.1 L331.0,168.6 L341.6,158.4 L352.2,155.0 L362.7,161.5 L373.3,181.1 L383.8,217.7 L394.4,282.0 L405.0,338.8 L415.5,381.7 L426.1,417.9 L436.6,436.3 L447.2,452.1 L457.8,464.1 L468.3,474.0 L478.9,481.2 L489.5,486.1 L500.0,487.9 L510.6,489.4 L521.1,488.4 L531.7,487.2 L542.3,487.1 L552.8,486.5 L563.4,487.2 L573.9,487.8 L584.5,487.9 L595.1,488.1 L605.6,488.5 L616.2,486.0 L626.8,488.5 L637.3,486.6 L647.9,488.6 L658.4,487.1 L669.0,491.5"/>
<path d="M67.0,493.1 L77.6,492.0 L88.1,492.7 L98.7,492.9 L109.2,492.0 L119.8,494.5 L130.4,491.3 L140.9,492.5 L151.5,495.7 L162.1,494.0 L172.6,493.1 L183.2,490.6 L193.7,492.7 L204.3,490.7 L214.9,488.3 L225.4,484.4 L236.0,479.2 L246.5,470.2 L257.1,458.0 L267.7,439.1 L278.2,406.9 L288.8,349.4 L299.4,301.0 L309.9,241.7 L320.5,198.7 L331.0,167.3 L341.6,151.8 L352.2,145.2 L362.7,148.2 L373.3,161.9 L383.8,193.3 L394.4,252.8 L405.0,316.7 L415.5,368.6 L426.1,402.6 L436.6,429.6 L447.2,446.1 L457.8,459.6 L468.3,470.5 L478.9,478.9 L489.5,484.7 L500.0,488.4 L510.6,489.9 L521.1,491.3 L531.7,492.9 L542.3,493.1 L552.8,494.1 L563.4,493.9 L573.9,495.1 L584.5,492.9 L595.1,490.9 L605.6,493.4 L616.2,493.1 L626.8,494.2 L637.3,493.5 L647.9,493.9 L658.4,494.6 L669.0,493.9"/>
<path d="M67.0,494.8 L77.6,493.7 L88.1,494.1 L98.7,495.6 L109.2,496.9 L119.8,495.3 L130.4,495.0 L140.9,494.0 L151.5,495.0 L162.1,492.1 L172.6,494.6 L183.2,493.5 L193.7,492.4 L204.3,490.3 L214.9,487.6 L225.4,483.3 L236.0,477.7 L246.5,467.5 L257.1,453.6 L267.7,430.4 L278.2,395.2 L288.8,330.0 L299.4,276.1 L309.9,215.8 L320.5,171.3 L331.0,142.5 L341.6,130.8 L352.2,127.0 L362.7,134.8 L373.3,157.5 L383.8,201.8 L394.4,274.7 L405.0,336.1 L415.5,380.6 L426.1,418.9 L436.6,436.5 L447.2,452.8 L457.8,465.4 L468.3,475.6 L478.9,482.9 L489.5,486.9 L500.0,489.1 L510.6,490.5 L521.1,492.3 L531.7,493.5 L542.3,493.2 L552.8,494.6 L563.4,495.1 L573.9,494.9 L584.5,493.1 L595.1,495.1 L605.6,496.0 L616.2,494.9 L626.8,496.5 L637.3,495.9 L647.9,495.8 L658.4,494.5 L669.0,495.7"/>
<path d="M67.0,497.0 L77.6,495.1 L88.1,495.5 L98.7,495.8 L109.2,496.3 L119.8,496.8 L130.4,497.1 L140.9,494.7 L151.5,496.0 L162.1,495.7 L172.6,495.4 L183.2,494.9 L193.7,493.7 L204.3,493.3 L214.9,491.5 L225.4,489.0 L236.0,485.0 L246.5,479.8 L257.1,469.8 L267.7,455.9 L278.2,431.1 L288.8,388.5 L299.4,334.0 L309.9,278.3 L320.5,229.0 L331.0,194.1 L341.6,175.9 L352.2,168.7 L362.7,171.6 L373.3,187.9 L383.8,222.3 L394.4,288.7 L405.0,348.0 L415.5,391.3 L426.1,427.5 L436.6,444.0 L447.2,459.0 L457.8,470.5 L468.3,479.5 L478.9,485.6 L489.5,489.3 L500.0,490.6 L510.6,492.1 L521.1,493.8 L531.7,494.3 L542.3,495.0 L552.8,495.4 L563.4,494.2 L573.9,494.9 L584.5,496.6 L595.1,496.9 L605.6,496.0 L616.2,495.0 L626.8,497.0 L637.3,494.5 L647.9,496.2 L658.4,494.9 L669.0,495.9"/>
<path d="M67.0,490.9 L77.6,489.2 L88.1,488.8 L98.7,489.5 L109.2,488.6 L119.8,491.3 L130.4,489.6 L140.9,488.5 L151.5,489.5 L162.1,490.7 L172.6,489.4 L183.2,489.3 L193.7,490.6 L204.3,488.1 L214.9,490.1 L225.4,487.6 L236.0,482.6 L246.5,476.2 L257.1,465.4 L267.7,449.5 L278.2,420.4 L288.8,367.9 L299.4,318.0 L309.9,258.2 L320.5,211.5 L331.0,177.7 L341.6,161.0 L352.2,154.2 L362.7,157.9 L373.3,174.9 L383.8,209.8 L394.4,277.2 L405.0,338.1 L415.5,383.5 L426.1,422.5 L436.6,439.3 L447.2,455.2 L457.8,467.3 L468.3,477.1 L478.9,484.1 L489.5,487.9 L500.0,487.8 L510.6,489.8 L521.1,490.4 L531.7,488.2 L542.3,491.1 L552.8,489.7 L563.4,488.9 L573.9,489.8 L584.5,490.1 L595.1,489.1 L605.6,490.8 L616.2,489.8 L626.8,488.8 L637.3,490.7 L647.9,488.1 L658.4,489.8 L669.0,489.6"/>
<path d="M67.0,492.0 L77.6,494.9 L88.1,491.9 L98.7,493.9 L109.2,493.0 L119.8,493.2 L130.4,493.0 L140.9,494.0 L151.5,492.7 L162.1,492.3 L172.6,493.9 L183.2,493.4 L193.7,492.5 L204.3,491.1 L214.9,488.6 L225.4,484.7 L236.0,479.5 L246.5,470.2 L257.1,457.3 L267.7,436.3 L278.2,403.5 L288.8,343.2 L299.4,293.2 L309.9,236.9 L320.5,195.3 L331.0,168.4 L341.6,157.5 L352.2,154.0 L362.7,161.3 L373.3,182.5 L383.8,224.0 L394.4,291.9 L405.0,348.9 L415.5,389.9 L426.1,425.1 L436.6,441.5 L447.2,456.6 L457.8,468.2 L468.3,477.6 L478.9,484.2 L489.5,488.0 L500.0,489.9 L510.6,491.2 L521.1,492.9 L531.7,493.9 L542.3,492.2 L552.8,492.8 L563.4,493.1 L573.9,493.5 L584.5,495.3 L595.1,495.6 L605.6,493.4 L616.2,492.3 L626.8,494.2 L637.3,493.3 L647.9,495.0 L658.4,495.0 L669.0,493.4"/>
<path d="M67.0,496.4 L77.6,497.1 L88.1,497.1 L98.7,497.1 L109.2,497.1 L119.8,496.3 L130.4,496.8 L140.9,496.6 L151.5,496.2 L162.1,495.9 L172.6,495.5 L183.2,494.8 L193.7,493.8 L204.3,492.8 L214.9,490.4 L225.4,487.9 L236.0,483.0 L246.5,476.8 L257.1,466.2 L267.7,450.7 L278.2,422.2 L288.8,370.6 L299.4,321.9 L309.9,263.2 L320.5,217.7 L331.0,184.9 L341.6,168.8 L352.2,162.3 L362.7,166.0 L373.3,183.3 L383.8,218.0 L394.4,284.3 L405.0,343.6 L415.5,387.4 L426.1,424.9 L436.6,441.3 L447.2,456.7 L457.8,468.4 L468.3,478.0 L478.9,484.6 L489.5,488.3 L500.0,490.2 L510.6,491.6 L521.1,493.2 L531.7,494.2 L542.3,494.8 L552.8,495.2 L563.4,495.6 L573.9,496.0 L584.5,496.4 L595.1,496.8 L605.6,496.9 L616.2,496.9 L626.8,496.9 L637.3,497.0 L647.9,497.0 L658.4,496.6 L669.0,496.0"/>
<path d="M67.0,496.4 L77.6,497.0 L88.1,497.0 L98.7,496.5 L109.2,497.0 L119.8,496.8 L130.4,496.7 L140.9,496.3 L151.5,496.0 L162.1,495.6 L172.6,495.2 L183.2,494.3 L193.7,493.2 L204.3,491.8 L214.9,489.2 L225.4,486.0 L236.0,480.6 L246.5,472.4 L257.1,460.6 L267.7,442.2 L278.2,409.1 L288.8,350.3 L299.4,299.8 L309.9,240.2 L320.5,196.1 L331.0,166.0 L341.6,154.3 L352.2,150.0 L362.7,156.9 L373.3,178.3 L383.8,220.3 L394.4,289.9 L405.0,348.4 L415.5,390.1 L426.1,425.2 L436.6,442.2 L447.2,457.3 L457.8,469.0 L468.3,478.2 L478.9,484.6 L489.5,488.4 L500.0,490.0 L510.6,491.5 L521.1,493.2 L531.7,494.0 L542.3,494.6 L552.8,495.0 L563.4,495.5 L573.9,495.9 L584.5,494.5 L595.1,496.7 L605.6,496.8 L616.2,496.8 L626.8,496.6 L637.3,496.9 L647.9,495.7 L658.4,496.4 L669.0,496.8"/>
<path d="M67.0,494.2 L77.6,493.5 L88.1,493.7 L98.7,494.0 L109.2,492.7 L119.8,492.5 L130.4,494.2 L140.9,491.3 L151.5,493.2 L162.1,492.3 L172.6,491.6 L183.2,494.3 L193.7,493.1 L204.3,491.7 L214.9,489.3 L225.4,485.8 L236.0,480.9 L246.5,472.3 L257.1,460.5 L267.7,441.2 L278.2,410.3 L288.8,353.7 L299.4,306.5 L309.9,252.8 L320.5,213.1 L331.0,187.3 L341.6,176.9 L352.2,173.6 L362.7,180.4 L373.3,200.6 L383.8,240.1 L394.4,304.5 L405.0,358.4 L415.5,396.9 L426.1,429.7 L436.6,445.3 L447.2,459.4 L457.8,470.3 L468.3,479.1 L478.9,485.3 L489.5,488.8 L500.0,490.5 L510.6,491.8 L521.1,493.3 L531.7,494.3 L542.3,494.9 L552.8,492.9 L563.4,493.6 L573.9,493.3 L584.5,495.3 L595.1,495.8 L605.6,495.5 L616.2,491.9 L626.8,492.4 L637.3,495.1 L647.9,493.5 L658.4,493.4 L669.0,494.7"/>
<path d="M67.0,494.0 L77.6,493.6 L88.1,494.3 L98.7,492.3 L109.2,493.8 L119.8,493.5 L130.4,494.2 L140.9,494.8 L151.5,494.1 L162.1,494.4 L172.6,494.9 L183.2,493.2 L193.7,491.9 L204.3,491.5 L214.9,489.1 L225.4,485.6 L236.0,480.7 L246.5,472.2 L257.1,460.6 L267.7,442.2 L278.2,411.8 L288.8,356.9 L299.4,310.9 L309.9,256.4 L320.5,216.1 L331.0,188.1 L341.6,175.8 L352.2,170.5 L362.7,175.0 L373.3,191.9 L383.8,224.0 L394.4,285.7 L405.0,342.3 L415.5,385.4 L426.1,420.4 L436.6,439.1 L447.2,454.5 L457.8,466.1 L468.3,475.8 L478.9,482.7 L489.5,487.1 L500.0,489.8 L510.6,491.0 L521.1,492.5 L531.7,493.9 L542.3,493.7 L552.8,494.2 L563.4,493.3 L573.9,493.7 L584.5,493.0 L595.1,493.9 L605.6,494.2 L616.2,493.4 L626.8,493.1 L637.3,494.5 L647.9,495.0 L658.4,492.6 L669.0,494.6"/>
<path d="M67.0,489.5 L77.6,489.7 L88.1,491.7 L98.7,487.5 L109.2,486.5 L119.8,487.9 L130.4,488.4 L140.9,487.3 L151.5,489.1 L162.1,487.4 L172.6,486.7 L183.2,486.8 L193.7,487.4 L204.3,488.7 L214.9,487.6 L225.4,483.1 L236.0,477.8 L246.5,467.5 L257.1,453.7 L267.7,430.8 L278.2,397.6 L288.8,335.5 L299.4,284.9 L309.9,227.8 L320.5,185.1 L331.0,156.6 L341.6,145.0 L352.2,140.1 L362.7,145.7 L373.3,165.0 L383.8,201.0 L394.4,268.0 L405.0,328.7 L415.5,375.1 L426.1,412.8 L436.6,433.2 L447.2,450.0 L457.8,462.6 L468.3,473.0 L478.9,480.7 L489.5,485.6 L500.0,488.1 L510.6,489.7 L521.1,487.3 L531.7,487.1 L542.3,487.5 L552.8,488.5 L563.4,487.5 L573.9,489.0 L584.5,487.9 L595.1,487.8 L605.6,488.4 L616.2,489.2 L626.8,488.4 L637.3,489.1 L647.9,489.4 L658.4,487.0 L669.0,488.3"/>
<path d="M67.0,497.1 L77.6,497.1 L88.1,497.1 L98.7,497.1 L109.2,496.7 L119.8,497.1 L130.4,496.8 L140.9,496.5 L151.5,496.2 L162.1,495.8 L172.6,495.5 L183.2,494.6 L193.7,493.6 L204.3,492.3 L214.9,489.9 L225.4,487.1 L236.0,482.1 L246.5,474.7 L257.1,464.1 L267.7,448.1 L278.2,417.3 L288.8,363.6 L299.4,316.8 L309.9,260.1 L320.5,218.6 L331.0,189.4 L341.6,176.7 L352.2,171.4 L362.7,176.9 L373.3,195.7 L383.8,232.2 L394.4,296.5 L405.0,352.3 L415.5,393.2 L426.1,428.1 L436.6,443.8 L447.2,458.4 L457.8,469.6 L468.3,478.7 L478.9,485.0 L489.5,488.6 L500.0,490.4 L510.6,491.7 L521.1,493.3 L531.7,494.3 L542.3,494.9 L552.8,495.2 L563.4,495.6 L573.9,496.0 L584.5,496.4 L595.1,496.8 L605.6,496.9 L616.2,497.0 L626.8,497.0 L637.3,497.0 L647.9,497.1 L658.4,497.1 L669.0,497.1"/>
<path d="M67.0,496.9 L77.6,496.9 L88.1,496.9 L98.7,496.9 L109.2,496.9 L119.8,496.9 L130.4,496.7 L140.9,496.4 L151.5,496.0 L162.1,495.6 L172.6,495.2 L183.2,494.4 L193.7,493.3 L204.3,492.2 L214.9,489.5 L225.4,486.8 L236.0,481.2 L246.5,473.7 L257.1,462.4 L267.7,444.9 L278.2,412.1 L288.8,353.9 L299.4,301.7 L309.9,237.5 L320.5,191.0 L331.0,157.7 L341.6,143.1 L352.2,137.2 L362.7,143.5 L373.3,165.0 L383.8,207.1 L394.4,279.5 L405.0,341.1 L415.5,385.4 L426.1,422.4 L436.6,440.2 L447.2,455.9 L457.8,468.1 L468.3,477.8 L478.9,484.3 L489.5,488.3 L500.0,489.8 L510.6,491.3 L521.1,493.1 L531.7,493.9 L542.3,494.5 L552.8,495.0 L563.4,495.4 L573.9,495.8 L584.5,496.3 L595.1,496.7 L605.6,496.7 L616.2,496.8 L626.8,496.8 L637.3,496.8 L647.9,496.9 L658.4,496.9 L669.0,496.9"/>
<path d="M67.0,496.7 L77.6,496.9 L88.1,496.9 L98.7,496.6 L109.2,496.9 L119.8,496.9 L130.4,496.6 L140.9,496.2 L151.5,495.8 L162.1,495.4 L172.6,495.0 L183.2,493.9 L193.7,492.9 L204.3,491.1 L214.9,488.5 L225.4,484.6 L236.0,479.2 L246.5,469.7 L257.1,456.6 L267.7,434.8 L278.2,400.5 L288.8,337.4 L299.4,284.8 L309.9,226.2 L320.5,183.3 L331.0,156.2 L341.6,145.3 L352.2,142.7 L362.7,151.5 L373.3,175.4 L383.8,223.4 L394.4,295.1 L405.0,353.6 L415.5,393.0 L426.1,426.0 L436.6,443.4 L447.2,458.2 L457.8,469.8 L468.3,478.8 L478.9,484.8 L489.5,488.6 L500.0,490.0 L510.6,491.5 L521.1,493.3 L531.7,494.0 L542.3,494.6 L552.8,495.0 L563.4,495.4 L573.9,495.8 L584.5,496.3 L595.1,496.7 L605.6,496.7 L616.2,496.8 L626.8,496.8 L637.3,496.7 L647.9,496.9 L658.4,496.9 L669.0,496.9"/>
<path d="M67.0,494.7 L77.6,494.8 L88.1,495.5 L98.7,494.6 L109.2,496.9 L119.8,493.9 L130.4,493.6 L140.9,494.6 L151.5,495.6 L162.1,493.2 L172.6,494.9 L183.2,493.2 L193.7,492.7 L204.3,490.8 L214.9,488.2 L225.4,484.2 L236.0,478.7 L246.5,468.9 L257.1,455.3 L267.7,432.7 L278.2,398.1 L288.8,334.0 L299.4,280.6 L309.9,221.9 L320.5,179.1 L331.0,152.1 L341.6,141.3 L352.2,138.8 L362.7,147.7 L373.3,171.8 L383.8,220.2 L394.4,292.5 L405.0,351.4 L415.5,391.3 L426.1,424.9 L436.6,442.4 L447.2,457.4 L457.8,469.1 L468.3,478.3 L478.9,484.5 L489.5,488.4 L500.0,489.8 L510.6,491.4 L521.1,493.1 L531.7,491.7 L542.3,494.5 L552.8,494.9 L563.4,494.7 L573.9,495.8 L584.5,495.4 L595.1,493.2 L605.6,494.7 L616.2,494.6 L626.8,493.4 L637.3,496.4 L647.9,494.5 L658.4,494.6 L669.0,494.3"/>
<path d="M67.0,490.1 L77.6,493.0 L88.1,490.3 L98.7,489.9 L109.2,491.7 L119.8,491.0 L130.4,490.7 L140.9,490.4 L151.5,489.4 L162.1,490.5 L172.6,491.0 L183.2,490.9 L193.7,490.4 L204.3,489.9 L214.9,488.0 L225.4,483.8 L236.0,478.5 L246.5,468.7 L257.1,455.3 L267.7,433.2 L278.2,399.7 L288.8,337.6 L299.4,286.5 L309.9,228.7 L320.5,185.8 L331.0,157.6 L341.6,146.1 L352.2,142.0 L362.7,148.6 L373.3,169.5 L383.8,209.4 L394.4,278.3 L405.0,337.8 L415.5,381.8 L426.1,420.4 L436.6,437.1 L447.2,453.1 L457.8,465.4 L468.3,475.6 L478.9,482.7 L489.5,486.8 L500.0,489.3 L510.6,490.6 L521.1,490.7 L531.7,490.9 L542.3,489.9 L552.8,490.3 L563.4,491.6 L573.9,490.7 L584.5,490.4 L595.1,491.0 L605.6,491.0 L616.2,490.8 L626.8,490.1 L637.3,490.5 L647.9,491.3 L658.4,490.8 L669.0,489.4"/>
<path d="M67.0,488.7 L77.6,488.8 L88.1,490.3 L98.7,489.3 L109.2,486.7 L119.8,488.4 L130.4,489.0 L140.9,488.7 L151.5,488.7 L162.1,489.7 L172.6,488.6 L183.2,488.2 L193.7,490.3 L204.3,489.0 L214.9,485.6 L225.4,481.0 L236.0,473.6 L246.5,463.7 L257.1,449.2 L267.7,422.0 L278.2,375.5 L288.8,331.9 L299.4,283.0 L309.9,237.4 L320.5,203.5 L331.0,181.6 L341.6,172.2 L352.2,168.9 L362.7,174.2 L373.3,191.2 L383.8,221.9 L394.4,280.0 L405.0,334.9 L415.5,379.3 L426.1,409.9 L436.6,433.8 L447.2,448.5 L457.8,460.9 L468.3,470.8 L478.9,478.9 L489.5,484.8 L500.0,488.1 L510.6,488.7 L521.1,489.0 L531.7,487.5 L542.3,487.8 L552.8,487.8 L563.4,489.2 L573.9,487.5 L584.5,488.8 L595.1,488.6 L605.6,488.3 L616.2,488.5 L626.8,490.1 L637.3,488.1 L647.9,490.4 L658.4,488.3 L669.0,488.8"/>
<path d="M67.0,495.4 L77.6,495.4 L88.1,494.6 L98.7,493.6 L109.2,496.0 L119.8,495.3 L130.4,495.2 L140.9,494.9 L151.5,495.1 L162.1,493.6 L172.6,493.9 L183.2,494.2 L193.7,493.1 L204.3,491.8 L214.9,489.1 L225.4,486.1 L236.0,480.6 L246.5,472.8 L257.1,461.5 L267.7,444.1 L278.2,411.2 L288.8,353.3 L299.4,302.1 L309.9,238.6 L320.5,192.7 L331.0,159.4 L341.6,143.8 L352.2,137.4 L362.7,141.9 L373.3,160.9 L383.8,197.9 L394.4,268.0 L405.0,330.9 L415.5,377.8 L426.1,418.4 L436.6,435.9 L447.2,452.5 L457.8,465.1 L468.3,475.6 L478.9,483.0 L489.5,487.0 L500.0,489.3 L510.6,490.7 L521.1,492.5 L531.7,493.7 L542.3,494.3 L552.8,494.3 L563.4,494.6 L573.9,493.1 L584.5,492.8 L595.1,496.1 L605.6,495.6 L616.2,493.9 L626.8,493.5 L637.3,494.5 L647.9,494.6 L658.4,496.6 L669.0,492.3"/>
<path d="M67.0,486.6 L77.6,488.2 L88.1,488.0 L98.7,487.5 L109.2,487.1 L119.8,487.2 L130.4,489.1 L140.9,489.1 L151.5,488.7 L162.1,490.9 L172.6,489.5 L183.2,488.3 L193.7,488.8 L204.3,489.0 L214.9,487.2 L225.4,487.7 L236.0,482.6 L246.5,475.6 L257.1,465.3 L267.7,449.1 L278.2,418.8 L288.8,364.9 L299.4,317.0 L309.9,258.3 L320.5,215.6 L331.0,185.4 L341.6,172.2 L352.2,167.2 L362.7,173.2 L373.3,193.1 L383.8,232.4 L394.4,299.0 L405.0,355.4 L415.5,395.6 L426.1,429.1 L436.6,445.4 L447.2,459.8 L457.8,470.9 L468.3,479.7 L478.9,485.6 L489.5,487.8 L500.0,487.9 L510.6,489.8 L521.1,488.4 L531.7,488.4 L542.3,489.1 L552.8,487.9 L563.4,487.1 L573.9,487.1 L584.5,489.1 L595.1,488.7 L605.6,487.4 L616.2,488.5 L626.8,488.5 L637.3,485.9 L647.9,490.8 L658.4,488.8 L669.0,489.0"/>
<path d="M67.0,492.4 L77.6,491.7 L88.1,489.5 L98.7,492.8 L109.2,492.3 L119.8,492.2 L130.4,494.3 L140.9,491.5 L151.5,492.2 L162.1,494.1 L172.6,492.4 L183.2,491.9 L193.7,493.0 L204.3,491.0 L214.9,489.4 L225.4,486.1 L236.0,481.0 L246.5,472.8 L257.1,461.1 L267.7,442.8 L278.2,410.7 L288.8,353.4 L299.4,304.5 L309.9,247.4 L320.5,204.9 L331.0,176.8 L341.6,165.6 L352.2,161.6 L362.7,168.4 L373.3,189.2 L383.8,230.0 L394.4,297.2 L405.0,353.5 L415.5,393.7 L426.1,427.6 L436.6,443.9 L447.2,458.5 L457.8,469.8 L468.3,478.8 L478.9,485.0 L489.5,488.7 L500.0,490.3 L510.6,491.4 L521.1,492.5 L531.7,491.2 L542.3,491.6 L552.8,491.6 L563.4,492.5 L573.9,492.3 L584.5,492.3 L595.1,493.1 L605.6,491.9 L616.2,493.2 L626.8,493.1 L637.3,493.5 L647.9,491.0 L658.4,492.7 L669.0,493.0"/>
<path d="M67.0,497.0 L77.6,497.0 L88.1,497.0 L98.7,497.0 L109.2,497.0 L119.8,497.0 L130.4,496.7 L140.9,496.4 L151.5,496.0 L162.1,495.7 L172.6,495.3 L183.2,494.4 L193.7,493.4 L204.3,491.9 L214.9,489.4 L225.4,486.3 L236.0,481.2 L246.5,473.2 L257.1,461.9 L267.7,444.6 L278.2,412.6 L288.8,356.2 L299.4,307.5 L309.9,249.3 L320.5,206.5 L331.0,176.7 L341.6,164.0 L352.2,159.1 L362.7,165.0 L373.3,184.8 L383.8,223.1 L394.4,289.9 L405.0,347.4 L415.5,389.5 L426.1,425.5 L436.6,441.8 L447.2,456.9 L457.8,468.5 L468.3,477.9 L478.9,484.5 L489.5,488.2 L500.0,490.1 L510.6,491.4 L521.1,493.1 L531.7,494.1 L542.3,494.7 L552.8,495.1 L563.4,495.5 L573.9,495.9 L584.5,496.3 L595.1,496.7 L605.6,496.9 L616.2,496.7 L626.8,496.9 L637.3,497.0 L647.9,497.0 L658.4,497.0 L669.0,497.0"/>
<path d="M67.0,487.3 L77.6,486.4 L88.1,485.6 L98.7,489.1 L109.2,486.8 L119.8,487.8 L130.4,487.3 L140.9,487.0 L151.5,486.5 L162.1,486.9 L172.6,487.3 L183.2,485.7 L193.7,487.0 L204.3,487.3 L214.9,486.1 L225.4,487.0 L236.0,481.8 L246.5,474.1 L257.1,462.8 L267.7,445.2 L278.2,412.8 L288.8,355.5 L299.4,305.9 L309.9,248.5 L320.5,206.1 L331.0,179.1 L341.6,168.4 L352.2,165.6 L362.7,174.0 L373.3,196.9 L383.8,244.6 L394.4,312.5 L405.0,367.9 L415.5,403.7 L426.1,432.9 L436.6,449.6 L447.2,463.0 L457.8,473.7 L468.3,481.6 L478.9,486.6 L489.5,488.0 L500.0,486.2 L510.6,488.8 L521.1,485.9 L531.7,486.7 L542.3,487.2 L552.8,487.4 L563.4,488.5 L573.9,488.4 L584.5,487.8 L595.1,487.7 L605.6,486.0 L616.2,488.3 L626.8,487.9 L637.3,489.1 L647.9,487.1 L658.4,487.3 L669.0,486.2"/>
<path d="M67.0,496.3 L77.6,497.1 L88.1,495.9 L98.7,497.1 L109.2,496.4 L119.8,496.6 L130.4,496.7 L140.9,495.7 L151.5,494.1 L162.1,495.7 L172.6,495.2 L183.2,494.2 L193.7,493.2 L204.3,491.4 L214.9,489.0 L225.4,485.2 L236.0,480.2 L246.5,471.1 L257.1,458.6 L267.7,437.6 L278.2,406.4 L288.8,348.4 L299.4,300.2 L309.9,247.5 L320.5,209.2 L331.0,184.8 L341.6,174.9 L352.2,172.4 L362.7,180.2 L373.3,201.4 L383.8,243.1 L394.4,308.3 L405.0,361.7 L415.5,398.8 L426.1,430.5 L436.6,446.2 L447.2,460.0 L457.8,470.8 L468.3,479.4 L478.9,485.4 L489.5,488.9 L500.0,490.5 L510.6,491.8 L521.1,493.4 L531.7,494.1 L542.3,494.9 L552.8,495.2 L563.4,495.4 L573.9,496.0 L584.5,496.4 L595.1,496.8 L605.6,496.9 L616.2,495.5 L626.8,496.1 L637.3,495.6 L647.9,495.4 L658.4,496.7 L669.0,495.6"/>
<path d="M67.0,496.8 L77.6,496.4 L88.1,496.1 L98.7,496.9 L109.2,496.8 L119.8,496.6 L130.4,496.6 L140.9,496.2 L151.5,495.8 L162.1,495.4 L172.6,495.1 L183.2,494.1 L193.7,493.0 L204.3,491.4 L214.9,488.8 L225.4,485.4 L236.0,479.9 L246.5,471.3 L257.1,459.1 L267.7,440.3 L278.2,405.9 L288.8,345.2 L299.4,292.8 L309.9,230.7 L320.5,184.8 L331.0,153.3 L341.6,140.4 L352.2,135.5 L362.7,142.2 L373.3,163.9 L383.8,206.1 L394.4,278.0 L405.0,339.2 L415.5,383.6 L426.1,421.2 L436.6,438.7 L447.2,454.7 L457.8,467.0 L468.3,476.9 L478.9,483.7 L489.5,487.7 L500.0,489.5 L510.6,491.0 L521.1,492.8 L531.7,493.8 L542.3,494.4 L552.8,494.8 L563.4,495.2 L573.9,495.7 L584.5,496.1 L595.1,496.5 L605.6,495.9 L616.2,496.7 L626.8,494.4 L637.3,495.1 L647.9,496.6 L658.4,494.6 L669.0,495.7"/>
<path d="M67.0,493.1 L77.6,492.3 L88.1,494.1 L98.7,494.0 L109.2,495.2 L119.8,494.5 L130.4,493.7 L140.9,495.5 L151.5,494.7 L162.1,495.4 L172.6,494.1 L183.2,493.3 L193.7,493.6 L204.3,492.4 L214.9,490.0 L225.4,487.2 L236.0,482.2 L246.5,475.0 L257.1,464.5 L267.7,448.6 L278.2,418.2 L288.8,364.9 L299.4,318.1 L309.9,260.5 L320.5,218.7 L331.0,188.7 L341.6,175.0 L352.2,169.4 L362.7,173.9 L373.3,192.1 L383.8,227.2 L394.4,291.5 L405.0,348.3 L415.5,390.3 L426.1,426.6 L436.6,442.4 L447.2,457.3 L457.8,468.7 L468.3,478.1 L478.9,484.7 L489.5,488.3 L500.0,490.3 L510.6,491.6 L521.1,493.2 L531.7,494.2 L542.3,493.5 L552.8,495.2 L563.4,492.6 L573.9,494.5 L584.5,494.1 L595.1,492.9 L605.6,494.3 L616.2,494.1 L626.8,494.9 L637.3,493.7 L647.9,493.5 L658.4,495.2 L669.0,493.6"/>
<path d="M67.0,496.9 L77.6,496.9 L88.1,496.9 L98.7,496.9 L109.2,496.3 L119.8,496.4 L130.4,496.3 L140.9,495.9 L151.5,495.5 L162.1,495.1 L172.6,494.4 L183.2,493.3 L193.7,492.2 L204.3,489.8 L214.9,487.2 L225.4,482.4 L236.0,476.9 L246.5,465.9 L257.1,451.2 L267.7,426.0 L278.2,388.0 L288.8,325.6 L299.4,271.6 L309.9,213.9 L320.5,172.0 L331.0,145.3 L341.6,134.3 L352.2,131.3 L362.7,139.4 L373.3,162.2 L383.8,206.3 L394.4,277.8 L405.0,337.8 L415.5,381.4 L426.1,419.4 L436.6,436.6 L447.2,452.7 L457.8,465.1 L468.3,475.4 L478.9,482.7 L489.5,486.7 L500.0,489.1 L510.6,490.4 L521.1,492.2 L531.7,493.5 L542.3,494.2 L552.8,494.6 L563.4,495.0 L573.9,495.5 L584.5,495.9 L595.1,496.3 L605.6,496.2 L616.2,496.7 L626.8,496.7 L637.3,496.3 L647.9,496.8 L658.4,496.8 L669.0,496.9"/>
<path d="M67.0,493.9 L77.6,493.1 L88.1,494.7 L98.7,492.5 L109.2,494.4 L119.8,492.9 L130.4,494.5 L140.9,493.6 L151.5,494.3 L162.1,492.2 L172.6,494.6 L183.2,493.6 L193.7,492.4 L204.3,490.3 L214.9,487.7 L225.4,483.1 L236.0,477.7 L246.5,467.0 L257.1,452.5 L267.7,427.4 L278.2,388.5 L288.8,327.9 L299.4,273.7 L309.9,217.7 L320.5,177.6 L331.0,152.9 L341.6,142.9 L352.2,141.3 L362.7,150.9 L373.3,175.4 L383.8,225.5 L394.4,296.0 L405.0,353.7 L415.5,392.5 L426.1,425.4 L436.6,442.6 L447.2,457.4 L457.8,469.0 L468.3,478.1 L478.9,484.4 L489.5,488.3 L500.0,489.8 L510.6,491.3 L521.1,493.0 L531.7,493.5 L542.3,494.5 L552.8,492.3 L563.4,493.6 L573.9,494.6 L584.5,492.5 L595.1,494.3 L605.6,491.9 L616.2,493.0 L626.8,494.0 L637.3,494.4 L647.9,494.8 L658.4,494.7 L669.0,494.2"/>
<path d="M67.0,497.1 L77.6,497.1 L88.1,495.2 L98.7,497.0 L109.2,495.0 L119.8,494.7 L130.4,496.4 L140.9,495.9 L151.5,496.0 L162.1,495.7 L172.6,495.2 L183.2,494.3 L193.7,493.3 L204.3,491.6 L214.9,489.2 L225.4,485.7 L236.0,480.8 L246.5,472.2 L257.1,460.3 L267.7,441.1 L278.2,410.5 L288.8,354.5 L299.4,308.0 L309.9,254.6 L320.5,214.8 L331.0,188.7 L341.6,178.1 L352.2,174.2 L362.7,180.3 L373.3,199.5 L383.8,236.4 L394.4,299.6 L405.0,353.8 L415.5,393.6 L426.1,428.2 L436.6,443.5 L447.2,458.0 L457.8,469.0 L468.3,478.2 L478.9,484.7 L489.5,488.2 L500.0,490.3 L510.6,491.5 L521.1,493.1 L531.7,494.2 L542.3,494.8 L552.8,495.2 L563.4,495.5 L573.9,495.9 L584.5,496.3 L595.1,496.7 L605.6,496.9 L616.2,495.5 L626.8,495.9 L637.3,496.6 L647.9,497.1 L658.4,496.8 L669.0,497.1"/>
<path d="M67.0,495.0 L77.6,492.4 L88.1,495.4 L98.7,494.9 L109.2,494.8 L119.8,494.3 L130.4,493.7 L140.9,496.2 L151.5,494.1 L162.1,492.0 L172.6,492.2 L183.2,492.6 L193.7,493.0 L204.3,491.1 L214.9,488.6 L225.4,484.7 L236.0,479.5 L246.5,470.1 L257.1,457.3 L267.7,436.0 L278.2,403.6 L288.8,343.7 L299.4,294.0 L309.9,238.7 L320.5,198.0 L331.0,171.8 L341.6,161.2 L352.2,157.9 L362.7,165.3 L373.3,186.5 L383.8,227.9 L394.4,295.1 L405.0,351.3 L415.5,391.5 L426.1,426.1 L436.6,442.3 L447.2,457.1 L457.8,468.6 L468.3,477.9 L478.9,484.4 L489.5,488.1 L500.0,490.0 L510.6,491.3 L521.1,493.0 L531.7,493.7 L542.3,493.0 L552.8,492.6 L563.4,493.7 L573.9,492.0 L584.5,494.0 L595.1,493.9 L605.6,493.4 L616.2,493.8 L626.8,492.7 L637.3,496.7 L647.9,495.5 L658.4,495.9 L669.0,492.0"/>
<path d="M67.0,490.9 L77.6,491.8 L88.1,490.2 L98.7,493.1 L109.2,491.2 L119.8,492.4 L130.4,492.2 L140.9,492.2 L151.5,491.7 L162.1,491.1 L172.6,492.4 L183.2,492.1 L193.7,492.6 L204.3,492.2 L214.9,490.7 L225.4,488.0 L236.0,483.3 L246.5,477.4 L257.1,466.2 L267.7,450.3 L278.2,420.9 L288.8,367.1 L299.4,315.5 L309.9,252.9 L320.5,205.9 L331.0,172.3 L341.6,157.1 L352.2,151.4 L362.7,158.0 L373.3,179.7 L383.8,223.4 L394.4,295.3 L405.0,355.0 L415.5,395.6 L426.1,428.5 L436.6,446.1 L447.2,460.7 L457.8,472.2 L468.3,480.7 L478.9,486.1 L489.5,489.3 L500.0,490.6 L510.6,492.3 L521.1,491.6 L531.7,491.0 L542.3,492.2 L552.8,493.6 L563.4,493.7 L573.9,491.6 L584.5,492.7 L595.1,492.7 L605.6,493.6 L616.2,492.2 L626.8,492.2 L637.3,491.6 L647.9,493.5 L658.4,492.5 L669.0,494.0"/>
<path d="M67.0,496.0 L77.6,496.9 L88.1,496.9 L98.7,496.9 L109.2,496.9 L119.8,496.7 L130.4,496.4 L140.9,496.0 L151.5,495.6 L162.1,495.3 L172.6,494.6 L183.2,493.5 L193.7,492.5 L204.3,490.2 L214.9,487.7 L225.4,483.2 L236.0,477.9 L246.5,467.5 L257.1,453.6 L267.7,430.1 L278.2,396.2 L288.8,333.6 L299.4,282.0 L309.9,225.2 L320.5,183.4 L331.0,156.2 L341.6,145.1 L352.2,141.4 L362.7,148.4 L373.3,169.5 L383.8,209.9 L394.4,278.6 L405.0,337.8 L415.5,381.6 L426.1,420.1 L436.6,436.7 L447.2,452.8 L457.8,465.0 L468.3,475.3 L478.9,482.4 L489.5,486.6 L500.0,489.2 L510.6,490.5 L521.1,492.2 L531.7,493.5 L542.3,494.2 L552.8,494.7 L563.4,495.1 L573.9,495.5 L584.5,495.9 L595.1,496.3 L605.6,496.7 L616.2,496.8 L626.8,496.8 L637.3,496.8 L647.9,496.9 L658.4,496.9 L669.0,496.9"/>
<path d="M67.0,497.1 L77.6,497.1 L88.1,497.1 L98.7,497.1 L109.2,497.1 L119.8,496.9 L130.4,496.7 L140.9,496.3 L151.5,495.9 L162.1,495.6 L172.6,495.1 L183.2,494.1 L193.7,493.1 L204.3,491.3 L214.9,488.9 L225.4,485.1 L236.0,480.0 L246.5,470.9 L257.1,458.4 L267.7,437.7 L278.2,405.5 L288.8,346.2 L299.4,296.9 L309.9,241.8 L320.5,201.4 L331.0,175.5 L341.6,165.1 L352.2,162.2 L362.7,169.9 L373.3,191.5 L383.8,234.0 L394.4,301.2 L405.0,356.6 L415.5,395.4 L426.1,428.3 L436.6,444.5 L447.2,458.8 L457.8,470.0 L468.3,478.9 L478.9,485.0 L489.5,488.7 L500.0,490.3 L510.6,491.6 L521.1,493.3 L531.7,494.2 L542.3,494.7 L552.8,495.1 L563.4,495.5 L573.9,495.9 L584.5,496.3 L595.1,496.7 L605.6,496.9 L616.2,496.9 L626.8,496.9 L637.3,497.0 L647.9,497.0 L658.4,497.0 L669.0,497.1"/>
<path d="M67.0,487.2 L77.6,486.9 L88.1,489.2 L98.7,488.2 L109.2,487.5 L119.8,490.6 L130.4,487.2 L140.9,487.2 L151.5,487.1 L162.1,486.4 L172.6,489.2 L183.2,487.0 L193.7,485.6 L204.3,490.5 L214.9,488.4 L225.4,486.6 L236.0,481.1 L246.5,473.7 L257.1,462.5 L267.7,445.3 L278.2,413.3 L288.8,356.6 L299.4,305.3 L309.9,241.8 L320.5,195.0 L331.0,160.9 L341.6,144.5 L352.2,137.9 L362.7,142.1 L373.3,160.5 L383.8,197.1 L394.4,267.3 L405.0,330.6 L415.5,377.7 L426.1,418.5 L436.6,436.0 L447.2,452.6 L457.8,465.3 L468.3,475.7 L478.9,483.1 L489.5,487.1 L500.0,488.8 L510.6,488.7 L521.1,488.7 L531.7,488.6 L542.3,490.3 L552.8,486.8 L563.4,487.3 L573.9,487.4 L584.5,488.0 L595.1,487.6 L605.6,488.5 L616.2,490.2 L626.8,487.9 L637.3,488.0 L647.9,489.5 L658.4,490.5 L669.0,486.8"/>
<path d="M67.0,495.1 L77.6,497.0 L88.1,495.2 L98.7,496.8 L109.2,497.0 L119.8,496.2 L130.4,496.3 L140.9,495.9 L151.5,495.6 L162.1,495.2 L172.6,494.3 L183.2,493.3 L193.7,492.1 L204.3,489.7 L214.9,487.3 L225.4,482.2 L236.0,476.1 L246.5,465.8 L257.1,451.2 L267.7,425.4 L278.2,384.2 L288.8,329.9 L299.4,278.3 L309.9,225.9 L320.5,187.9 L331.0,163.7 L341.6,153.7 L352.2,151.0 L362.7,158.4 L373.3,179.3 L383.8,219.1 L394.4,285.4 L405.0,342.0 L415.5,384.1 L426.1,421.7 L436.6,437.6 L447.2,453.2 L457.8,465.1 L468.3,475.2 L478.9,482.1 L489.5,486.5 L500.0,489.3 L510.6,490.5 L521.1,492.1 L531.7,493.6 L542.3,494.2 L552.8,494.7 L563.4,495.1 L573.9,495.5 L584.5,495.9 L595.1,494.2 L605.6,494.3 L616.2,494.6 L626.8,496.8 L637.3,495.9 L647.9,493.6 L658.4,495.8 L669.0,497.0"/>
<path d="M67.0,496.2 L77.6,496.9 L88.1,496.7 L98.7,497.1 L109.2,496.7 L119.8,495.9 L130.4,496.6 L140.9,496.5 L151.5,496.1 L162.1,495.5 L172.6,495.5 L183.2,494.5 L193.7,493.6 L204.3,492.1 L214.9,489.7 L225.4,486.6 L236.0,481.6 L246.5,473.7 L257.1,462.4 L267.7,444.7 L278.2,413.5 L288.8,357.7 L299.4,310.1 L309.9,254.7 L320.5,213.5 L331.0,186.7 L341.6,176.0 L352.2,172.4 L362.7,179.4 L373.3,200.1 L383.8,240.9 L394.4,306.6 L405.0,361.0 L415.5,399.0 L426.1,430.9 L436.6,446.8 L447.2,460.7 L457.8,471.5 L468.3,480.0 L478.9,485.8 L489.5,489.4 L500.0,490.7 L510.6,492.1 L521.1,493.7 L531.7,494.4 L542.3,494.9 L552.8,495.3 L563.4,495.7 L573.9,494.8 L584.5,496.5 L595.1,496.9 L605.6,496.7 L616.2,495.2 L626.8,497.0 L637.3,497.0 L647.9,495.6 L658.4,496.5 L669.0,497.1"/>
<path d="M67.0,494.4 L77.6,493.6 L88.1,494.8 L98.7,495.4 L109.2,494.5 L119.8,495.8 L130.4,494.4 L140.9,495.1 L151.5,495.1 L162.1,495.1 L172.6,495.2 L183.2,493.3 L193.7,493.1 L204.3,491.4 L214.9,488.8 L225.4,485.2 L236.0,479.8 L246.5,470.7 L257.1,457.8 L267.7,436.6 L278.2,402.9 L288.8,341.0 L299.4,289.1 L309.9,231.8 L320.5,190.3 L331.0,164.4 L341.6,154.0 L352.2,152.0 L362.7,161.3 L373.3,185.6 L383.8,236.5 L394.4,305.8 L405.0,362.6 L415.5,399.3 L426.1,429.7 L436.6,446.8 L447.2,460.8 L457.8,471.9 L468.3,480.3 L478.9,485.7 L489.5,489.1 L500.0,490.4 L510.6,492.0 L521.1,493.6 L531.7,494.3 L542.3,494.3 L552.8,495.2 L563.4,495.5 L573.9,493.7 L584.5,495.4 L595.1,495.5 L605.6,496.8 L616.2,494.0 L626.8,494.3 L637.3,495.3 L647.9,494.4 L658.4,496.5 L669.0,495.8"/>
<path d="M67.0,493.7 L77.6,495.6 L88.1,494.6 L98.7,494.4 L109.2,495.5 L119.8,494.9 L130.4,496.9 L140.9,495.5 L151.5,494.9 L162.1,494.2 L172.6,493.5 L183.2,494.8 L193.7,493.8 L204.3,492.7 L214.9,490.3 L225.4,487.7 L236.0,482.5 L246.5,475.7 L257.1,465.0 L267.7,448.6 L278.2,417.6 L288.8,362.5 L299.4,313.2 L309.9,253.6 L320.5,210.0 L331.0,179.6 L341.6,167.3 L352.2,163.1 L362.7,170.1 L373.3,191.6 L383.8,234.7 L394.4,303.6 L405.0,360.4 L415.5,398.9 L426.1,430.6 L436.6,447.3 L447.2,461.4 L457.8,472.4 L468.3,480.7 L478.9,486.2 L489.5,489.5 L500.0,490.8 L510.6,492.3 L521.1,493.8 L531.7,494.5 L542.3,495.0 L552.8,495.4 L563.4,494.6 L573.9,493.6 L584.5,495.9 L595.1,495.8 L605.6,494.4 L616.2,495.0 L626.8,495.0 L637.3,495.1 L647.9,495.3 L658.4,493.1 L669.0,493.9"/>
<path d="M67.0,492.5 L77.6,491.8 L88.1,491.7 L98.7,490.6 L109.2,493.0 L119.8,493.7 L130.4,492.5 L140.9,491.6 L151.5,494.1 L162.1,492.2 L172.6,492.9 L183.2,493.2 L193.7,491.8 L204.3,490.7 L214.9,489.3 L225.4,486.4 L236.0,481.1 L246.5,473.7 L257.1,463.0 L267.7,446.3 L278.2,415.5 L288.8,361.2 L299.4,312.0 L309.9,251.9 L320.5,205.7 L331.0,171.9 L341.6,154.5 L352.2,147.3 L362.7,149.9 L373.3,163.8 L383.8,196.2 L394.4,258.4 L405.0,322.8 L415.5,372.7 L426.1,409.1 L436.6,432.7 L447.2,449.7 L457.8,462.7 L468.3,473.2 L478.9,481.0 L489.5,486.0 L500.0,489.1 L510.6,490.4 L521.1,492.0 L531.7,492.6 L542.3,493.4 L552.8,492.3 L563.4,492.6 L573.9,493.2 L584.5,492.0 L595.1,490.9 L605.6,491.2 L616.2,492.3 L626.8,492.0 L637.3,493.1 L647.9,492.3 L658.4,491.3 L669.0,491.2"/>
<path d="M67.0,496.9 L77.6,496.7 L88.1,496.9 L98.7,496.9 L109.2,496.9 L119.8,496.9 L130.4,496.6 L140.9,496.2 L151.5,495.8 L162.1,495.5 L172.6,495.1 L183.2,494.1 L193.7,493.1 L204.3,491.6 L214.9,489.0 L225.4,486.0 L236.0,480.5 L246.5,472.7 L257.1,461.5 L267.7,444.4 L278.2,412.0 L288.8,355.2 L299.4,305.0 L309.9,242.3 L320.5,196.1 L331.0,162.3 L341.6,145.5 L352.2,138.6 L362.7,142.0 L373.3,158.2 L383.8,192.6 L394.4,259.2 L405.0,323.4 L415.5,372.7 L426.1,411.2 L436.6,432.8 L447.2,450.1 L457.8,463.0 L468.3,473.8 L478.9,481.4 L489.5,486.1 L500.0,489.0 L510.6,490.3 L521.1,492.0 L531.7,493.5 L542.3,494.2 L552.8,494.7 L563.4,495.1 L573.9,495.5 L584.5,495.9 L595.1,496.3 L605.6,496.7 L616.2,496.4 L626.8,496.8 L637.3,496.8 L647.9,496.2 L658.4,496.9 L669.0,496.9"/>
<path d="M67.0,494.2 L77.6,491.1 L88.1,492.2 L98.7,493.2 L109.2,494.1 L119.8,492.7 L130.4,491.8 L140.9,490.2 L151.5,490.6 L162.1,493.1 L172.6,493.1 L183.2,493.7 L193.7,492.2 L204.3,492.4 L214.9,489.9 L225.4,487.3 L236.0,482.1 L246.5,475.1 L257.1,464.6 L267.7,448.3 L278.2,418.1 L288.8,364.4 L299.4,316.1 L309.9,256.1 L320.5,212.3 L331.0,180.5 L341.6,165.5 L352.2,159.4 L362.7,163.7 L373.3,181.7 L383.8,217.1 L394.4,283.5 L405.0,342.6 L415.5,386.4 L426.1,424.1 L436.6,440.5 L447.2,456.0 L457.8,467.8 L468.3,477.5 L478.9,484.3 L489.5,488.0 L500.0,490.0 L510.6,491.3 L521.1,492.3 L531.7,492.4 L542.3,494.7 L552.8,492.5 L563.4,493.0 L573.9,491.6 L584.5,493.2 L595.1,494.0 L605.6,492.9 L616.2,490.7 L626.8,493.6 L637.3,491.3 L647.9,492.8 L658.4,494.9 L669.0,492.0"/>
<path d="M67.0,491.9 L77.6,494.4 L88.1,497.1 L98.7,494.1 L109.2,494.5 L119.8,496.1 L130.4,495.7 L140.9,495.1 L151.5,493.1 L162.1,495.6 L172.6,495.3 L183.2,494.0 L193.7,493.4 L204.3,491.6 L214.9,489.3 L225.4,485.6 L236.0,480.6 L246.5,471.8 L257.1,459.5 L267.7,438.9 L278.2,407.5 L288.8,349.5 L299.4,301.1 L309.9,248.1 L320.5,209.8 L331.0,185.8 L341.6,176.1 L352.2,174.1 L362.7,182.5 L373.3,204.6 L383.8,250.0 L394.4,314.9 L405.0,367.9 L415.5,403.2 L426.1,432.8 L436.6,448.7 L447.2,462.0 L457.8,472.6 L468.3,480.7 L478.9,486.1 L489.5,489.6 L500.0,490.8 L510.6,492.2 L521.1,493.5 L531.7,494.5 L542.3,495.0 L552.8,493.7 L563.4,494.9 L573.9,496.1 L584.5,495.5 L595.1,493.6 L605.6,494.6 L616.2,493.0 L626.8,494.3 L637.3,494.7 L647.9,493.9 L658.4,495.7 L669.0,493.8"/>
<path d="M67.0,497.1 L77.6,495.6 L88.1,495.9 L98.7,496.1 L109.2,495.4 L119.8,497.1 L130.4,496.6 L140.9,494.4 L151.5,496.2 L162.1,494.8 L172.6,495.5 L183.2,494.7 L193.7,493.7 L204.3,492.5 L214.9,490.1 L225.4,487.4 L236.0,482.4 L246.5,475.3 L257.1,464.8 L267.7,449.0 L278.2,418.5 L288.8,365.3 L299.4,318.6 L309.9,261.9 L320.5,220.6 L331.0,191.4 L341.6,178.7 L352.2,173.7 L362.7,179.4 L373.3,198.4 L383.8,235.5 L394.4,300.0 L405.0,355.2 L415.5,395.3 L426.1,429.3 L436.6,445.1 L447.2,459.4 L457.8,470.4 L468.3,479.3 L478.9,485.4 L489.5,489.0 L500.0,490.6 L510.6,491.9 L521.1,493.5 L531.7,494.4 L542.3,494.9 L552.8,495.3 L563.4,495.7 L573.9,495.8 L584.5,496.3 L595.1,496.5 L605.6,495.7 L616.2,495.5 L626.8,495.8 L637.3,495.2 L647.9,494.2 L658.4,494.3 L669.0,496.1"/>
<path d="M67.0,491.0 L77.6,493.1 L88.1,491.8 L98.7,493.4 L109.2,489.8 L119.8,492.2 L130.4,494.2 L140.9,490.6 L151.5,490.9 L162.1,490.5 L172.6,493.1 L183.2,491.5 L193.7,490.5 L204.3,490.7 L214.9,488.1 L225.4,484.0 L236.0,478.7 L246.5,469.1 L257.1,456.0 L267.7,434.5 L278.2,401.3 L288.8,340.0 L299.4,289.4 L309.9,231.4 L320.5,188.1 L331.0,159.3 L341.6,147.7 L352.2,143.1 L362.7,149.2 L373.3,169.4 L383.8,207.8 L394.4,276.0 L405.0,335.8 L415.5,380.4 L426.1,419.6 L436.6,436.4 L447.2,452.6 L457.8,464.9 L468.3,475.3 L478.9,482.4 L489.5,486.6 L500.0,489.3 L510.6,490.6 L521.1,492.2 L531.7,489.1 L542.3,490.3 L552.8,491.9 L563.4,493.7 L573.9,492.5 L584.5,492.9 L595.1,492.9 L605.6,494.2 L616.2,492.5 L626.8,492.6 L637.3,492.7 L647.9,493.3 L658.4,491.6 L669.0,492.9"/>
<path d="M67.0,493.3 L77.6,492.5 L88.1,492.1 L98.7,493.6 L109.2,492.8 L119.8,493.6 L130.4,495.0 L140.9,492.1 L151.5,493.2 L162.1,492.7 L172.6,493.3 L183.2,493.5 L193.7,492.5 L204.3,490.3 L214.9,487.8 L225.4,483.6 L236.0,478.2 L246.5,468.4 L257.1,455.2 L267.7,434.1 L278.2,400.2 L288.8,338.5 L299.4,287.3 L309.9,226.9 L320.5,182.2 L331.0,151.1 L341.6,137.4 L352.2,131.5 L362.7,136.2 L373.3,154.4 L383.8,189.7 L394.4,257.5 L405.0,321.0 L415.5,370.1 L426.1,408.3 L436.6,430.7 L447.2,448.2 L457.8,461.3 L468.3,472.1 L478.9,480.0 L489.5,485.2 L500.0,488.6 L510.6,489.9 L521.1,491.5 L531.7,492.8 L542.3,492.3 L552.8,493.4 L563.4,493.1 L573.9,493.1 L584.5,495.3 L595.1,492.3 L605.6,492.3 L616.2,494.1 L626.8,493.7 L637.3,492.8 L647.9,492.3 L658.4,493.1 L669.0,493.6"/>
<path d="M67.0,496.5 L77.6,496.9 L88.1,496.9 L98.7,496.9 L109.2,496.9 L119.8,494.7 L130.4,496.6 L140.9,496.1 L151.5,495.8 L162.1,495.4 L172.6,495.0 L183.2,493.9 L193.7,492.8 L204.3,491.0 L214.9,488.4 L225.4,484.5 L236.0,479.1 L246.5,469.5 L257.1,456.2 L267.7,434.3 L278.2,399.9 L288.8,336.5 L299.4,283.7 L309.9,225.1 L320.5,182.4 L331.0,155.4 L341.6,144.6 L352.2,142.1 L362.7,151.0 L373.3,175.0 L383.8,223.6 L394.4,295.3 L405.0,353.8 L415.5,393.1 L426.1,426.0 L436.6,443.4 L447.2,458.2 L457.8,469.8 L468.3,478.8 L478.9,484.8 L489.5,488.6 L500.0,490.0 L510.6,491.5 L521.1,493.3 L531.7,494.0 L542.3,494.6 L552.8,495.0 L563.4,495.4 L573.9,495.8 L584.5,496.3 L595.1,496.7 L605.6,496.7 L616.2,496.8 L626.8,496.8 L637.3,496.9 L647.9,496.9 L658.4,496.9 L669.0,496.9"/>
<path d="M67.0,497.1 L77.6,497.1 L88.1,497.1 L98.7,497.1 L109.2,497.1 L119.8,497.1 L130.4,496.8 L140.9,496.4 L151.5,496.1 L162.1,495.7 L172.6,495.4 L183.2,494.5 L193.7,493.5 L204.3,492.2 L214.9,489.8 L225.4,487.0 L236.0,481.9 L246.5,474.7 L257.1,464.3 L267.7,448.4 L278.2,418.4 L288.8,365.7 L299.4,319.0 L309.9,260.9 L320.5,218.3 L331.0,187.1 L341.6,171.9 L352.2,165.6 L362.7,169.0 L373.3,184.5 L383.8,216.8 L394.4,279.2 L405.0,338.1 L415.5,383.1 L426.1,419.2 L436.6,438.4 L447.2,454.2 L457.8,466.1 L468.3,476.2 L478.9,483.0 L489.5,487.2 L500.0,489.8 L510.6,491.1 L521.1,492.6 L531.7,493.9 L542.3,494.6 L552.8,495.0 L563.4,495.4 L573.9,495.8 L584.5,496.2 L595.1,496.6 L605.6,496.9 L616.2,496.9 L626.8,496.9 L637.3,497.0 L647.9,497.0 L658.4,497.0 L669.0,497.1"/>
<path d="M67.0,491.7 L77.6,492.5 L88.1,491.0 L98.7,496.1 L109.2,494.8 L119.8,492.4 L130.4,492.9 L140.9,493.4 L151.5,494.4 L162.1,492.6 L172.6,493.7 L183.2,491.7 L193.7,491.9 L204.3,491.1 L214.9,488.4 L225.4,484.7 L236.0,479.2 L246.5,470.1 L257.1,457.3 L267.7,436.8 L278.2,402.8 L288.8,341.2 L299.4,289.3 L309.9,229.2 L320.5,184.4 L331.0,155.0 L341.6,143.2 L352.2,138.9 L362.7,145.9 L373.3,167.6 L383.8,209.7 L394.4,280.5 L405.0,340.6 L415.5,384.2 L426.1,421.6 L436.6,438.8 L447.2,454.6 L457.8,466.8 L468.3,476.7 L478.9,483.6 L489.5,487.5 L500.0,489.5 L510.6,490.9 L521.1,492.7 L531.7,492.1 L542.3,491.5 L552.8,492.3 L563.4,491.7 L573.9,492.1 L584.5,492.1 L595.1,494.0 L605.6,495.2 L616.2,493.5 L626.8,496.7 L637.3,493.7 L647.9,494.3 L658.4,493.0 L669.0,493.9"/>
<path d="M67.0,496.9 L77.6,494.9 L88.1,495.6 L98.7,496.5 L109.2,496.9 L119.8,496.1 L130.4,496.3 L140.9,495.4 L151.5,495.6 L162.1,495.2 L172.6,494.4 L183.2,493.3 L193.7,492.3 L204.3,489.8 L214.9,487.3 L225.4,482.5 L236.0,476.9 L246.5,466.4 L257.1,452.0 L267.7,427.4 L278.2,390.5 L288.8,331.1 L299.4,279.6 L309.9,224.2 L320.5,183.5 L331.0,157.0 L341.6,146.1 L352.2,142.4 L362.7,149.1 L373.3,169.5 L383.8,208.2 L394.4,275.6 L405.0,334.7 L415.5,379.0 L426.1,417.3 L436.6,435.1 L447.2,451.4 L457.8,463.7 L468.3,474.1 L478.9,481.4 L489.5,486.0 L500.0,489.0 L510.6,490.3 L521.1,491.8 L531.7,493.4 L542.3,494.1 L552.8,494.6 L563.4,495.0 L573.9,495.4 L584.5,495.8 L595.1,493.7 L605.6,496.6 L616.2,496.7 L626.8,496.8 L637.3,496.7 L647.9,496.0 L658.4,494.8 L669.0,496.9"/>
<path d="M67.0,489.1 L77.6,490.7 L88.1,488.8 L98.7,492.4 L109.2,491.9 L119.8,491.1 L130.4,492.2 L140.9,490.4 L151.5,492.3 L162.1,490.7 L172.6,492.7 L183.2,492.0 L193.7,490.8 L204.3,490.4 L214.9,489.8 L225.4,487.2 L236.0,481.9 L246.5,475.0 L257.1,463.9 L267.7,447.2 L278.2,416.3 L288.8,360.7 L299.4,309.7 L309.9,246.8 L320.5,200.1 L331.0,166.4 L341.6,150.5 L352.2,144.1 L362.7,148.8 L373.3,168.6 L383.8,207.3 L394.4,277.7 L405.0,339.3 L415.5,384.3 L426.1,422.3 L436.6,439.6 L447.2,455.5 L457.8,467.7 L468.3,477.5 L478.9,484.2 L489.5,488.1 L500.0,489.8 L510.6,490.6 L521.1,490.8 L531.7,491.4 L542.3,491.1 L552.8,491.8 L563.4,489.6 L573.9,489.6 L584.5,491.1 L595.1,491.0 L605.6,490.7 L616.2,490.1 L626.8,490.8 L637.3,491.5 L647.9,491.3 L658.4,490.7 L669.0,491.2"/>
<path d="M67.0,490.3 L77.6,491.2 L88.1,491.5 L98.7,491.9 L109.2,491.9 L119.8,491.7 L130.4,491.1 L140.9,491.3 L151.5,489.0 L162.1,490.7 L172.6,490.9 L183.2,491.3 L193.7,492.0 L204.3,490.8 L214.9,488.3 L225.4,484.3 L236.0,479.1 L246.5,469.7 L257.1,456.9 L267.7,436.2 L278.2,403.6 L288.8,343.8 L299.4,294.3 L309.9,236.7 L320.5,193.8 L331.0,164.6 L341.6,152.4 L352.2,147.2 L362.7,152.6 L373.3,171.6 L383.8,207.4 L394.4,273.9 L405.0,333.8 L415.5,379.0 L426.1,416.9 L436.6,435.6 L447.2,452.0 L457.8,464.3 L468.3,474.6 L478.9,481.8 L489.5,486.4 L500.0,489.2 L510.6,490.5 L521.1,489.4 L531.7,490.1 L542.3,490.1 L552.8,489.7 L563.4,491.6 L573.9,489.9 L584.5,492.8 L595.1,492.0 L605.6,490.8 L616.2,490.3 L626.8,492.7 L637.3,493.2 L647.9,490.7 L658.4,490.8 L669.0,490.4"/>
<path d="M67.0,494.6 L77.6,496.7 L88.1,495.4 L98.7,497.1 L109.2,497.1 L119.8,497.0 L130.4,496.7 L140.9,496.3 L151.5,495.7 L162.1,495.6 L172.6,495.2 L183.2,494.2 L193.7,493.3 L204.3,491.6 L214.9,489.3 L225.4,485.9 L236.0,481.0 L246.5,472.9 L257.1,461.7 L267.7,444.6 L278.2,414.0 L288.8,359.8 L299.4,313.6 L309.9,257.1 L320.5,216.0 L331.0,186.4 L341.6,172.5 L352.2,166.6 L362.7,170.2 L373.3,185.6 L383.8,217.2 L394.4,278.1 L405.0,336.6 L415.5,381.9 L426.1,416.5 L436.6,437.2 L447.2,453.1 L457.8,465.0 L468.3,474.9 L478.9,482.1 L489.5,486.7 L500.0,489.6 L510.6,490.8 L521.1,492.3 L531.7,493.8 L542.3,494.4 L552.8,494.9 L563.4,495.3 L573.9,495.7 L584.5,496.1 L595.1,496.4 L605.6,495.1 L616.2,496.9 L626.8,496.9 L637.3,497.0 L647.9,496.8 L658.4,497.0 L669.0,496.7"/>
<path d="M67.0,493.5 L77.6,492.3 L88.1,491.1 L98.7,491.7 L109.2,493.1 L119.8,494.9 L130.4,493.0 L140.9,495.3 L151.5,494.5 L162.1,494.2 L172.6,494.7 L183.2,493.5 L193.7,493.5 L204.3,492.4 L214.9,490.0 L225.4,487.3 L236.0,482.4 L246.5,476.3 L257.1,465.3 L267.7,449.8 L278.2,422.0 L288.8,374.4 L299.4,319.3 L309.9,261.4 L320.5,209.2 L331.0,171.7 L341.6,150.5 L352.2,141.9 L362.7,142.7 L373.3,154.9 L383.8,184.9 L394.4,244.9 L405.0,312.7 L415.5,367.4 L426.1,403.6 L436.6,430.2 L447.2,447.7 L457.8,461.3 L468.3,472.3 L478.9,480.4 L489.5,485.6 L500.0,488.9 L510.6,490.2 L521.1,491.8 L531.7,493.4 L542.3,493.1 L552.8,492.8 L563.4,495.0 L573.9,493.9 L584.5,493.2 L595.1,493.2 L605.6,493.2 L616.2,491.7 L626.8,492.4 L637.3,494.9 L647.9,491.8 L658.4,494.3 L669.0,494.4"/>
<path d="M67.0,489.3 L77.6,491.4 L88.1,489.0 L98.7,490.5 L109.2,488.9 L119.8,491.2 L130.4,490.9 L140.9,492.0 L151.5,490.7 L162.1,488.7 L172.6,489.6 L183.2,490.5 L193.7,488.4 L204.3,489.6 L214.9,488.3 L225.4,483.8 L236.0,478.4 L246.5,468.6 L257.1,454.8 L267.7,430.5 L278.2,390.5 L288.8,339.6 L299.4,289.4 L309.9,240.9 L320.5,206.0 L331.0,185.0 L341.6,176.4 L352.2,175.6 L362.7,184.6 L373.3,207.0 L383.8,253.1 L394.4,316.1 L405.0,367.8 L415.5,402.4 L426.1,432.2 L436.6,447.6 L447.2,460.9 L457.8,471.4 L468.3,479.8 L478.9,485.6 L489.5,489.0 L500.0,488.0 L510.6,487.6 L521.1,490.6 L531.7,489.1 L542.3,489.5 L552.8,488.1 L563.4,492.6 L573.9,490.6 L584.5,491.8 L595.1,488.4 L605.6,489.6 L616.2,489.1 L626.8,489.4 L637.3,489.6 L647.9,489.4 L658.4,490.3 L669.0,492.1"/>
<path d="M67.0,492.0 L77.6,494.2 L88.1,494.6 L98.7,492.7 L109.2,491.8 L119.8,494.8 L130.4,494.5 L140.9,494.6 L151.5,493.0 L162.1,492.8 L172.6,491.8 L183.2,493.5 L193.7,493.7 L204.3,494.1 L214.9,492.2 L225.4,494.1 L236.0,494.3 L246.5,493.7 L257.1,493.4 L267.7,493.0 L278.2,494.1 L288.8,491.5 L299.4,491.3 L309.9,494.6 L320.5,493.2 L331.0,494.5 L341.6,493.7 L352.2,494.8 L362.7,493.7 L373.3,493.1 L383.8,493.2 L394.4,494.9 L405.0,494.8 L415.5,494.0 L426.1,492.1 L436.6,490.2 L447.2,487.5 L457.8,484.7 L468.3,481.8 L478.9,479.0 L489.5,476.6 L500.0,474.3 L510.6,472.6 L521.1,470.9 L531.7,469.2 L542.3,467.5 L552.8,465.3 L563.4,462.4 L573.9,456.2 L584.5,446.8 L595.1,431.6 L605.6,406.7 L616.2,372.6 L626.8,332.8 L637.3,293.2 L647.9,261.5 L658.4,238.8 L669.0,223.1"/>
<path d="M67.0,497.2 L77.6,497.2 L88.1,496.9 L98.7,497.2 L109.2,497.2 L119.8,497.2 L130.4,497.2 L140.9,497.2 L151.5,497.2 L162.1,497.2 L172.6,497.2 L183.2,497.2 L193.7,497.2 L204.3,497.2 L214.9,497.2 L225.4,496.6 L236.0,497.2 L246.5,497.2 L257.1,497.2 L267.7,497.1 L278.2,497.1 L288.8,497.1 L299.4,497.0 L309.9,496.9 L320.5,496.8 L331.0,496.8 L341.6,496.6 L352.2,496.3 L362.7,495.9 L373.3,495.6 L383.8,495.0 L394.4,494.2 L405.0,492.7 L415.5,490.6 L426.1,488.1 L436.6,485.3 L447.2,482.5 L457.8,479.8 L468.3,477.4 L478.9,475.2 L489.5,473.5 L500.0,471.9 L510.6,470.2 L521.1,468.6 L531.7,466.5 L542.3,463.7 L552.8,458.1 L563.4,449.4 L573.9,434.7 L584.5,411.4 L595.1,379.0 L605.6,340.5 L616.2,302.2 L626.8,270.7 L637.3,248.2 L647.9,232.8 L658.4,217.2 L669.0,201.5"/>
<path d="M67.0,491.1 L77.6,489.8 L88.1,489.5 L98.7,489.9 L109.2,491.5 L119.8,489.7 L130.4,488.8 L140.9,491.1 L151.5,490.8 L162.1,488.8 L172.6,490.0 L183.2,488.6 L193.7,490.2 L204.3,491.4 L214.9,489.9 L225.4,489.9 L236.0,489.5 L246.5,490.8 L257.1,490.3 L267.7,487.6 L278.2,490.4 L288.8,488.1 L299.4,491.1 L309.9,489.6 L320.5,489.4 L331.0,488.9 L341.6,489.8 L352.2,490.5 L362.7,489.7 L373.3,491.5 L383.8,492.6 L394.4,491.5 L405.0,488.1 L415.5,488.9 L426.1,487.8 L436.6,489.3 L447.2,486.5 L457.8,483.6 L468.3,480.8 L478.9,478.1 L489.5,475.9 L500.0,473.8 L510.6,472.1 L521.1,470.4 L531.7,468.8 L542.3,466.9 L552.8,464.4 L563.4,461.3 L573.9,453.3 L584.5,441.0 L595.1,422.3 L605.6,394.1 L616.2,357.9 L626.8,318.0 L637.3,279.4 L647.9,252.6 L658.4,234.4 L669.0,218.9"/>
<path d="M67.0,496.9 L77.6,497.3 L88.1,497.2 L98.7,497.3 L109.2,497.3 L119.8,496.7 L130.4,496.8 L140.9,497.3 L151.5,494.7 L162.1,497.2 L172.6,496.3 L183.2,496.8 L193.7,497.3 L204.3,496.3 L214.9,495.9 L225.4,497.0 L236.0,496.5 L246.5,494.0 L257.1,497.2 L267.7,497.2 L278.2,496.4 L288.8,497.1 L299.4,497.2 L309.9,497.1 L320.5,497.0 L331.0,496.9 L341.6,496.9 L352.2,495.3 L362.7,496.5 L373.3,496.2 L383.8,495.8 L394.4,495.4 L405.0,494.7 L415.5,493.7 L426.1,491.6 L436.6,489.4 L447.2,486.7 L457.8,484.1 L468.3,481.4 L478.9,478.9 L489.5,476.8 L500.0,474.9 L510.6,473.4 L521.1,471.8 L531.7,470.2 L542.3,468.5 L552.8,465.9 L563.4,462.2 L573.9,454.7 L584.5,442.1 L595.1,423.1 L605.6,395.4 L616.2,359.8 L626.8,322.5 L637.3,287.8 L647.9,263.5 L658.4,247.0 L669.0,232.3"/>
<path d="M67.0,486.3 L77.6,485.8 L88.1,485.6 L98.7,485.7 L109.2,488.0 L119.8,486.2 L130.4,486.0 L140.9,486.4 L151.5,487.9 L162.1,490.0 L172.6,486.7 L183.2,487.7 L193.7,485.9 L204.3,488.4 L214.9,486.3 L225.4,487.3 L236.0,488.3 L246.5,487.3 L257.1,487.0 L267.7,486.0 L278.2,486.0 L288.8,485.5 L299.4,486.0 L309.9,487.3 L320.5,487.3 L331.0,486.7 L341.6,487.2 L352.2,488.6 L362.7,489.1 L373.3,486.0 L383.8,486.7 L394.4,484.7 L405.0,487.4 L415.5,485.7 L426.1,486.7 L436.6,486.3 L447.2,485.6 L457.8,482.8 L468.3,480.1 L478.9,477.7 L489.5,475.5 L500.0,473.7 L510.6,472.1 L521.1,470.4 L531.7,468.8 L542.3,466.8 L552.8,464.0 L563.4,458.9 L573.9,450.9 L584.5,436.2 L595.1,413.9 L605.6,382.7 L616.2,344.5 L626.8,306.2 L637.3,273.5 L647.9,250.3 L658.4,234.4 L669.0,218.9"/>
<path d="M67.0,487.7 L77.6,489.6 L88.1,489.3 L98.7,486.7 L109.2,486.7 L119.8,488.7 L130.4,489.5 L140.9,489.9 L151.5,486.6 L162.1,487.4 L172.6,485.7 L183.2,486.4 L193.7,485.6 L204.3,486.9 L214.9,488.4 L225.4,488.2 L236.0,486.6 L246.5,489.3 L257.1,487.2 L267.7,488.3 L278.2,486.4 L288.8,488.4 L299.4,488.6 L309.9,486.8 L320.5,491.3 L331.0,486.7 L341.6,487.5 L352.2,488.5 L362.7,487.1 L373.3,488.3 L383.8,487.1 L394.4,487.7 L405.0,487.0 L415.5,488.8 L426.1,488.5 L436.6,485.8 L447.2,485.4 L457.8,482.5 L468.3,479.6 L478.9,477.0 L489.5,474.7 L500.0,472.8 L510.6,471.1 L521.1,469.4 L531.7,467.7 L542.3,465.8 L552.8,462.9 L563.4,458.2 L573.9,450.0 L584.5,435.5 L595.1,413.5 L605.6,382.6 L616.2,342.9 L626.8,303.0 L637.3,267.2 L647.9,242.0 L658.4,224.8 L669.0,208.8"/>
<path d="M67.0,487.8 L77.6,489.0 L88.1,489.1 L98.7,487.3 L109.2,487.7 L119.8,489.4 L130.4,488.5 L140.9,487.8 L151.5,488.6 L162.1,488.1 L172.6,489.3 L183.2,487.1 L193.7,486.9 L204.3,489.2 L214.9,490.0 L225.4,489.0 L236.0,487.6 L246.5,488.3 L257.1,488.6 L267.7,488.3 L278.2,490.1 L288.8,488.6 L299.4,488.6 L309.9,489.2 L320.5,487.6 L331.0,489.2 L341.6,489.2 L352.2,487.7 L362.7,487.8 L373.3,488.4 L383.8,488.3 L394.4,488.1 L405.0,488.1 L415.5,489.6 L426.1,487.6 L436.6,486.3 L447.2,485.5 L457.8,483.0 L468.3,480.5 L478.9,478.5 L489.5,476.6 L500.0,475.2 L510.6,473.7 L521.1,472.2 L531.7,470.6 L542.3,468.4 L552.8,465.9 L563.4,458.9 L573.9,448.5 L584.5,432.7 L595.1,408.2 L605.6,376.7 L616.2,340.9 L626.8,305.8 L637.3,281.4 L647.9,264.3 L658.4,250.6 L669.0,236.3"/>
<path d="M67.0,488.8 L77.6,488.9 L88.1,489.4 L98.7,489.6 L109.2,487.7 L119.8,491.5 L130.4,490.9 L140.9,488.0 L151.5,491.6 L162.1,490.0 L172.6,490.5 L183.2,491.3 L193.7,491.3 L204.3,490.5 L214.9,490.0 L225.4,489.8 L236.0,489.7 L246.5,490.2 L257.1,490.3 L267.7,489.6 L278.2,491.0 L288.8,491.8 L299.4,489.4 L309.9,492.6 L320.5,489.7 L331.0,488.9 L341.6,491.7 L352.2,492.7 L362.7,491.2 L373.3,490.0 L383.8,491.4 L394.4,489.2 L405.0,489.6 L415.5,491.4 L426.1,489.5 L436.6,491.0 L447.2,488.6 L457.8,486.0 L468.3,483.4 L478.9,480.8 L489.5,478.7 L500.0,476.6 L510.6,475.0 L521.1,473.5 L531.7,472.0 L542.3,470.4 L552.8,468.4 L563.4,465.8 L573.9,460.2 L584.5,451.6 L595.1,437.9 L605.6,415.1 L616.2,384.2 L626.8,348.1 L637.3,312.3 L647.9,283.7 L658.4,263.2 L669.0,249.1"/>
<path d="M67.0,485.6 L77.6,485.9 L88.1,486.2 L98.7,486.6 L109.2,488.6 L119.8,488.1 L130.4,488.1 L140.9,487.8 L151.5,487.3 L162.1,488.2 L172.6,487.7 L183.2,486.0 L193.7,487.7 L204.3,489.3 L214.9,487.5 L225.4,487.3 L236.0,487.6 L246.5,484.9 L257.1,486.2 L267.7,485.3 L278.2,487.9 L288.8,486.4 L299.4,486.9 L309.9,487.3 L320.5,488.1 L331.0,487.0 L341.6,489.3 L352.2,486.1 L362.7,484.2 L373.3,485.6 L383.8,489.5 L394.4,487.0 L405.0,488.0 L415.5,487.9 L426.1,487.5 L436.6,485.9 L447.2,486.4 L457.8,485.5 L468.3,483.2 L478.9,481.2 L489.5,479.3 L500.0,477.7 L510.6,476.4 L521.1,475.0 L531.7,473.6 L542.3,472.0 L552.8,469.7 L563.4,465.7 L573.9,459.1 L584.5,447.1 L595.1,429.0 L605.6,403.6 L616.2,371.4 L626.8,339.1 L637.3,310.6 L647.9,290.4 L658.4,276.7 L669.0,263.7"/>
<path d="M67.0,487.9 L77.6,487.8 L88.1,488.8 L98.7,489.7 L109.2,490.8 L119.8,489.7 L130.4,490.0 L140.9,489.1 L151.5,487.4 L162.1,487.1 L172.6,488.8 L183.2,489.0 L193.7,489.3 L204.3,488.8 L214.9,489.3 L225.4,487.2 L236.0,489.9 L246.5,489.0 L257.1,489.8 L267.7,488.1 L278.2,487.2 L288.8,488.4 L299.4,488.9 L309.9,489.1 L320.5,488.5 L331.0,489.6 L341.6,487.3 L352.2,487.2 L362.7,488.0 L373.3,488.2 L383.8,489.5 L394.4,487.1 L405.0,490.6 L415.5,489.9 L426.1,486.8 L436.6,489.5 L447.2,487.8 L457.8,485.6 L468.3,483.5 L478.9,481.8 L489.5,480.2 L500.0,478.9 L510.6,477.7 L521.1,476.4 L531.7,475.1 L542.3,473.3 L552.8,471.1 L563.4,465.6 L573.9,457.3 L584.5,444.6 L595.1,424.3 L605.6,398.0 L616.2,367.8 L626.8,338.2 L637.3,316.6 L647.9,301.3 L658.4,289.7 L669.0,277.7"/>
<path d="M67.0,490.2 L77.6,487.1 L88.1,489.2 L98.7,489.2 L109.2,488.1 L119.8,489.1 L130.4,490.7 L140.9,489.2 L151.5,488.8 L162.1,489.1 L172.6,488.1 L183.2,488.3 L193.7,488.7 L204.3,489.4 L214.9,489.2 L225.4,487.2 L236.0,491.0 L246.5,488.0 L257.1,488.7 L267.7,490.0 L278.2,489.2 L288.8,488.6 L299.4,490.7 L309.9,489.0 L320.5,488.6 L331.0,490.2 L341.6,489.1 L352.2,487.7 L362.7,489.0 L373.3,490.1 L383.8,490.9 L394.4,491.1 L405.0,488.2 L415.5,489.4 L426.1,489.3 L436.6,488.0 L447.2,485.4 L457.8,482.9 L468.3,480.4 L478.9,478.4 L489.5,476.5 L500.0,475.0 L510.6,473.5 L521.1,472.0 L531.7,470.4 L542.3,468.2 L552.8,465.6 L563.4,458.6 L573.9,448.1 L584.5,432.1 L595.1,407.4 L605.6,375.6 L616.2,339.6 L626.8,304.4 L637.3,279.8 L647.9,262.7 L658.4,249.0 L669.0,234.6"/>
<path d="M67.0,491.9 L77.6,490.7 L88.1,491.9 L98.7,492.3 L109.2,490.2 L119.8,490.3 L130.4,492.6 L140.9,491.2 L151.5,490.6 L162.1,492.3 L172.6,489.5 L183.2,491.4 L193.7,490.2 L204.3,490.0 L214.9,491.6 L225.4,490.3 L236.0,490.5 L246.5,490.2 L257.1,491.1 L267.7,489.6 L278.2,489.9 L288.8,489.0 L299.4,489.5 L309.9,492.1 L320.5,491.2 L331.0,490.2 L341.6,489.6 L352.2,491.4 L362.7,490.6 L373.3,490.3 L383.8,490.8 L394.4,489.6 L405.0,491.7 L415.5,490.1 L426.1,491.5 L436.6,489.6 L447.2,487.2 L457.8,484.7 L468.3,482.2 L478.9,480.0 L489.5,478.1 L500.0,476.4 L510.6,475.0 L521.1,473.5 L531.7,472.1 L542.3,470.4 L552.8,467.9 L563.4,463.5 L573.9,456.6 L584.5,443.7 L595.1,424.3 L605.6,397.0 L616.2,362.9 L626.8,328.7 L637.3,298.8 L647.9,277.7 L658.4,263.3 L669.0,249.5"/>
<path d="M67.0,494.0 L77.6,493.7 L88.1,491.9 L98.7,493.9 L109.2,493.7 L119.8,492.1 L130.4,495.5 L140.9,492.8 L151.5,492.9 L162.1,493.0 L172.6,495.1 L183.2,494.8 L193.7,494.1 L204.3,494.2 L214.9,492.6 L225.4,493.7 L236.0,491.8 L246.5,493.3 L257.1,492.6 L267.7,494.0 L278.2,493.9 L288.8,492.8 L299.4,492.3 L309.9,494.0 L320.5,491.9 L331.0,493.5 L341.6,491.6 L352.2,494.6 L362.7,493.6 L373.3,492.6 L383.8,493.3 L394.4,493.9 L405.0,492.6 L415.5,492.3 L426.1,493.7 L436.6,492.0 L447.2,489.9 L457.8,487.7 L468.3,485.6 L478.9,483.5 L489.5,481.8 L500.0,480.1 L510.6,478.8 L521.1,477.5 L531.7,476.3 L542.3,474.9 L552.8,473.1 L563.4,471.0 L573.9,465.5 L584.5,457.3 L595.1,444.7 L605.6,424.5 L616.2,398.1 L626.8,367.7 L637.3,337.8 L647.9,315.7 L658.4,300.0 L669.0,288.5"/>
<path d="M67.0,488.8 L77.6,490.1 L88.1,488.9 L98.7,490.5 L109.2,489.4 L119.8,490.1 L130.4,491.2 L140.9,489.5 L151.5,490.8 L162.1,492.9 L172.6,490.6 L183.2,491.8 L193.7,490.0 L204.3,488.9 L214.9,490.2 L225.4,489.9 L236.0,491.8 L246.5,491.4 L257.1,491.1 L267.7,488.4 L278.2,491.0 L288.8,490.2 L299.4,492.5 L309.9,491.1 L320.5,490.4 L331.0,490.7 L341.6,490.8 L352.2,490.1 L362.7,490.0 L373.3,491.8 L383.8,491.9 L394.4,489.9 L405.0,489.7 L415.5,492.0 L426.1,489.8 L436.6,488.0 L447.2,485.4 L457.8,482.9 L468.3,480.4 L478.9,478.3 L489.5,476.3 L500.0,474.9 L510.6,473.4 L521.1,471.8 L531.7,470.2 L542.3,468.0 L552.8,465.5 L563.4,458.7 L573.9,448.6 L584.5,433.1 L595.1,408.6 L605.6,376.9 L616.2,340.6 L626.8,305.0 L637.3,279.3 L647.9,261.2 L658.4,247.4 L669.0,232.8"/>
<path d="M67.0,497.6 L77.6,497.6 L88.1,497.6 L98.7,497.6 L109.2,497.0 L119.8,497.6 L130.4,496.8 L140.9,497.6 L151.5,497.6 L162.1,497.0 L172.6,497.6 L183.2,497.6 L193.7,497.6 L204.3,497.6 L214.9,497.6 L225.4,497.6 L236.0,497.6 L246.5,497.6 L257.1,497.6 L267.7,496.6 L278.2,497.5 L288.8,497.0 L299.4,497.5 L309.9,497.4 L320.5,497.4 L331.0,497.3 L341.6,497.3 L352.2,497.2 L362.7,495.7 L373.3,496.7 L383.8,496.4 L394.4,496.0 L405.0,495.4 L415.5,494.5 L426.1,492.8 L436.6,491.0 L447.2,488.8 L457.8,486.6 L468.3,484.4 L478.9,482.5 L489.5,480.8 L500.0,479.3 L510.6,478.0 L521.1,476.7 L531.7,475.5 L542.3,474.0 L552.8,471.8 L563.4,468.3 L573.9,462.2 L584.5,451.3 L595.1,434.8 L605.6,411.6 L616.2,381.8 L626.8,351.7 L637.3,324.7 L647.9,305.8 L658.4,292.8 L669.0,280.7"/>
<path d="M67.0,487.9 L77.6,487.4 L88.1,489.6 L98.7,489.6 L109.2,489.5 L119.8,488.2 L130.4,488.4 L140.9,488.8 L151.5,488.6 L162.1,490.3 L172.6,488.7 L183.2,488.7 L193.7,488.0 L204.3,489.3 L214.9,489.1 L225.4,488.3 L236.0,485.7 L246.5,489.2 L257.1,486.4 L267.7,489.5 L278.2,488.5 L288.8,489.5 L299.4,487.1 L309.9,488.4 L320.5,488.3 L331.0,487.4 L341.6,487.1 L352.2,489.2 L362.7,488.3 L373.3,489.1 L383.8,487.3 L394.4,490.8 L405.0,486.2 L415.5,488.8 L426.1,490.7 L436.6,488.2 L447.2,488.5 L457.8,486.2 L468.3,483.9 L478.9,481.8 L489.5,480.0 L500.0,478.4 L510.6,477.0 L521.1,475.7 L531.7,474.3 L542.3,472.8 L552.8,470.6 L563.4,467.5 L573.9,461.0 L584.5,450.2 L595.1,433.9 L605.6,410.2 L616.2,379.8 L626.8,347.8 L637.3,317.9 L647.9,297.1 L658.4,282.9 L669.0,270.3"/>
<path d="M67.0,495.0 L77.6,495.7 L88.1,495.4 L98.7,496.4 L109.2,497.2 L119.8,494.9 L130.4,494.9 L140.9,495.1 L151.5,496.7 L162.1,494.6 L172.6,495.7 L183.2,495.6 L193.7,496.5 L204.3,496.3 L214.9,496.5 L225.4,495.4 L236.0,496.5 L246.5,495.8 L257.1,496.4 L267.7,497.2 L278.2,495.8 L288.8,495.7 L299.4,495.7 L309.9,497.1 L320.5,494.7 L331.0,495.8 L341.6,496.8 L352.2,493.8 L362.7,495.8 L373.3,495.0 L383.8,495.7 L394.4,495.5 L405.0,494.5 L415.5,494.1 L426.1,492.4 L436.6,490.3 L447.2,487.7 L457.8,484.9 L468.3,482.2 L478.9,479.4 L489.5,477.1 L500.0,474.9 L510.6,473.3 L521.1,471.7 L531.7,470.0 L542.3,468.3 L552.8,466.1 L563.4,463.4 L573.9,457.0 L584.5,447.4 L595.1,432.5 L605.6,407.5 L616.2,374.2 L626.8,335.4 L637.3,297.0 L647.9,267.1 L658.4,245.5 L669.0,230.6"/>
<path d="M67.0,495.1 L77.6,495.4 L88.1,496.8 L98.7,497.4 L109.2,496.5 L119.8,497.1 L130.4,496.0 L140.9,496.5 L151.5,495.2 L162.1,497.4 L172.6,497.2 L183.2,496.2 L193.7,497.0 L204.3,497.0 L214.9,497.4 L225.4,494.5 L236.0,496.7 L246.5,495.8 L257.1,497.3 L267.7,497.0 L278.2,496.6 L288.8,494.8 L299.4,495.1 L309.9,494.3 L320.5,494.9 L331.0,494.9 L341.6,496.7 L352.2,497.0 L362.7,495.1 L373.3,496.6 L383.8,495.9 L394.4,496.0 L405.0,495.6 L415.5,494.9 L426.1,493.9 L436.6,491.9 L447.2,489.8 L457.8,487.3 L468.3,484.9 L478.9,482.4 L489.5,480.2 L500.0,478.2 L510.6,476.5 L521.1,475.0 L531.7,473.6 L542.3,472.1 L552.8,470.5 L563.4,468.0 L573.9,464.1 L584.5,457.1 L595.1,444.7 L605.6,426.0 L616.2,399.6 L626.8,365.7 L637.3,331.3 L647.9,300.2 L658.4,278.4 L669.0,263.5"/>
<path d="M67.0,487.1 L77.6,487.8 L88.1,489.5 L98.7,488.1 L109.2,489.0 L119.8,488.1 L130.4,487.5 L140.9,488.2 L151.5,486.0 L162.1,485.0 L172.6,486.8 L183.2,489.0 L193.7,485.8 L204.3,485.1 L214.9,487.5 L225.4,486.9 L236.0,486.2 L246.5,487.1 L257.1,486.0 L267.7,486.7 L278.2,488.0 L288.8,487.9 L299.4,487.6 L309.9,488.1 L320.5,485.9 L331.0,487.0 L341.6,487.5 L352.2,486.5 L362.7,487.3 L373.3,486.2 L383.8,485.6 L394.4,487.2 L405.0,488.0 L415.5,488.6 L426.1,485.5 L436.6,486.4 L447.2,483.5 L457.8,480.7 L468.3,477.9 L478.9,475.6 L489.5,473.4 L500.0,471.7 L510.6,470.0 L521.1,468.3 L531.7,466.5 L542.3,463.9 L552.8,461.0 L563.4,453.0 L573.9,441.0 L584.5,422.8 L595.1,394.6 L605.6,358.4 L616.2,317.5 L626.8,277.4 L637.3,249.6 L647.9,230.3 L658.4,214.6 L669.0,198.3"/>
<path d="M67.0,487.5 L77.6,485.8 L88.1,486.0 L98.7,489.3 L109.2,488.0 L119.8,484.8 L130.4,487.9 L140.9,485.7 L151.5,487.0 L162.1,486.2 L172.6,487.9 L183.2,487.4 L193.7,486.9 L204.3,487.5 L214.9,487.6 L225.4,486.0 L236.0,487.7 L246.5,486.1 L257.1,488.1 L267.7,487.8 L278.2,486.7 L288.8,487.0 L299.4,486.5 L309.9,487.5 L320.5,487.5 L331.0,488.0 L341.6,489.2 L352.2,487.9 L362.7,486.4 L373.3,487.6 L383.8,487.3 L394.4,486.2 L405.0,488.5 L415.5,487.1 L426.1,488.1 L436.6,486.3 L447.2,486.5 L457.8,483.8 L468.3,481.2 L478.9,478.7 L489.5,476.5 L500.0,474.6 L510.6,473.1 L521.1,471.5 L531.7,469.9 L542.3,468.1 L552.8,465.5 L563.4,461.6 L573.9,454.0 L584.5,441.1 L595.1,421.6 L605.6,393.4 L616.2,357.2 L626.8,319.6 L637.3,284.9 L647.9,260.6 L658.4,244.0 L669.0,229.1"/>
<path d="M67.0,488.1 L77.6,486.1 L88.1,486.8 L98.7,486.8 L109.2,488.7 L119.8,488.0 L130.4,487.1 L140.9,487.1 L151.5,485.5 L162.1,487.5 L172.6,486.8 L183.2,487.4 L193.7,488.5 L204.3,487.5 L214.9,487.0 L225.4,485.3 L236.0,485.8 L246.5,487.7 L257.1,488.0 L267.7,487.1 L278.2,487.7 L288.8,484.5 L299.4,486.2 L309.9,487.1 L320.5,487.7 L331.0,488.2 L341.6,487.2 L352.2,489.8 L362.7,487.5 L373.3,487.6 L383.8,485.5 L394.4,488.9 L405.0,486.1 L415.5,487.4 L426.1,486.3 L436.6,487.9 L447.2,486.7 L457.8,484.9 L468.3,482.3 L478.9,479.7 L489.5,477.6 L500.0,475.5 L510.6,473.9 L521.1,472.4 L531.7,470.8 L542.3,469.1 L552.8,466.8 L563.4,464.2 L573.9,457.2 L584.5,446.8 L595.1,430.7 L605.6,405.3 L616.2,372.4 L626.8,334.7 L637.3,297.8 L647.9,271.0 L658.4,252.1 L669.0,237.8"/>
<path d="M67.0,488.5 L77.6,486.5 L88.1,486.5 L98.7,486.3 L109.2,487.3 L119.8,487.9 L130.4,485.7 L140.9,486.0 L151.5,486.4 L162.1,487.8 L172.6,487.1 L183.2,488.2 L193.7,488.3 L204.3,487.2 L214.9,486.9 L225.4,486.7 L236.0,487.1 L246.5,485.1 L257.1,488.3 L267.7,485.9 L278.2,487.7 L288.8,486.3 L299.4,488.2 L309.9,485.0 L320.5,485.8 L331.0,488.9 L341.6,485.9 L352.2,487.1 L362.7,486.3 L373.3,487.2 L383.8,487.4 L394.4,488.7 L405.0,487.7 L415.5,487.3 L426.1,489.0 L436.6,488.3 L447.2,487.2 L457.8,486.5 L468.3,484.0 L478.9,481.5 L489.5,479.5 L500.0,477.5 L510.6,476.0 L521.1,474.5 L531.7,473.1 L542.3,471.5 L552.8,469.6 L563.4,467.1 L573.9,461.6 L584.5,453.2 L595.1,440.1 L605.6,418.0 L616.2,388.2 L626.8,353.5 L637.3,319.1 L647.9,291.9 L658.4,272.4 L669.0,258.9"/>
<path d="M67.0,492.1 L77.6,489.6 L88.1,490.0 L98.7,491.1 L109.2,491.1 L119.8,491.4 L130.4,490.7 L140.9,488.9 L151.5,490.4 L162.1,491.1 L172.6,488.9 L183.2,491.1 L193.7,491.1 L204.3,488.5 L214.9,490.0 L225.4,489.4 L236.0,490.0 L246.5,490.1 L257.1,490.0 L267.7,489.9 L278.2,488.4 L288.8,491.9 L299.4,493.2 L309.9,491.0 L320.5,492.2 L331.0,490.5 L341.6,491.9 L352.2,490.7 L362.7,489.5 L373.3,491.2 L383.8,491.5 L394.4,489.9 L405.0,491.5 L415.5,490.8 L426.1,490.8 L436.6,489.9 L447.2,487.2 L457.8,484.4 L468.3,481.6 L478.9,478.8 L489.5,476.5 L500.0,474.3 L510.6,472.6 L521.1,471.0 L531.7,469.3 L542.3,467.6 L552.8,465.2 L563.4,462.4 L573.9,455.5 L584.5,445.0 L595.1,429.0 L605.6,402.8 L616.2,368.4 L626.8,328.7 L637.3,289.6 L647.9,260.3 L658.4,239.3 L669.0,224.2"/>
<path d="M67.0,493.9 L77.6,494.7 L88.1,495.4 L98.7,494.1 L109.2,494.1 L119.8,495.3 L130.4,494.6 L140.9,493.6 L151.5,494.1 L162.1,494.4 L172.6,494.3 L183.2,495.2 L193.7,494.4 L204.3,494.3 L214.9,495.2 L225.4,494.5 L236.0,493.4 L246.5,493.3 L257.1,496.7 L267.7,495.9 L278.2,493.3 L288.8,493.9 L299.4,493.9 L309.9,495.9 L320.5,494.3 L331.0,493.8 L341.6,493.9 L352.2,495.1 L362.7,495.0 L373.3,494.1 L383.8,494.2 L394.4,493.0 L405.0,495.2 L415.5,494.0 L426.1,492.3 L436.6,490.3 L447.2,488.0 L457.8,485.8 L468.3,483.6 L478.9,481.7 L489.5,479.9 L500.0,478.5 L510.6,477.2 L521.1,475.9 L531.7,474.6 L542.3,472.9 L552.8,470.7 L563.4,466.2 L573.9,459.3 L584.5,447.6 L595.1,429.0 L605.6,403.1 L616.2,372.2 L626.8,341.4 L637.3,315.8 L647.9,297.6 L658.4,285.1 L669.0,272.5"/>
<path d="M67.0,488.6 L77.6,491.5 L88.1,492.1 L98.7,490.9 L109.2,491.4 L119.8,491.5 L130.4,490.0 L140.9,490.6 L151.5,489.8 L162.1,492.1 L172.6,490.3 L183.2,491.0 L193.7,491.6 L204.3,492.6 L214.9,491.1 L225.4,492.2 L236.0,490.2 L246.5,490.5 L257.1,490.5 L267.7,488.0 L278.2,489.6 L288.8,493.1 L299.4,490.3 L309.9,490.8 L320.5,490.8 L331.0,491.5 L341.6,490.0 L352.2,494.0 L362.7,492.4 L373.3,490.3 L383.8,490.8 L394.4,490.0 L405.0,491.4 L415.5,491.5 L426.1,490.2 L436.6,489.6 L447.2,486.8 L457.8,483.9 L468.3,481.1 L478.9,478.3 L489.5,476.0 L500.0,473.9 L510.6,472.2 L521.1,470.5 L531.7,468.9 L542.3,467.1 L552.8,464.6 L563.4,461.8 L573.9,454.1 L584.5,442.6 L595.1,425.1 L605.6,397.6 L616.2,362.4 L626.8,322.1 L637.3,282.7 L647.9,254.8 L658.4,235.2 L669.0,219.8"/>
<path d="M67.0,495.0 L77.6,494.3 L88.1,494.5 L98.7,497.1 L109.2,494.6 L119.8,494.1 L130.4,493.9 L140.9,493.4 L151.5,494.3 L162.1,493.3 L172.6,493.8 L183.2,495.2 L193.7,495.4 L204.3,493.3 L214.9,493.9 L225.4,496.5 L236.0,495.8 L246.5,493.4 L257.1,494.5 L267.7,496.5 L278.2,494.2 L288.8,493.6 L299.4,494.0 L309.9,494.7 L320.5,494.9 L331.0,495.2 L341.6,495.2 L352.2,494.4 L362.7,492.0 L373.3,491.9 L383.8,494.9 L394.4,495.7 L405.0,494.8 L415.5,494.3 L426.1,492.6 L436.6,490.6 L447.2,488.1 L457.8,485.4 L468.3,482.8 L478.9,480.2 L489.5,478.0 L500.0,475.9 L510.6,474.3 L521.1,472.8 L531.7,471.2 L542.3,469.6 L552.8,467.4 L563.4,464.8 L573.9,458.5 L584.5,449.1 L595.1,434.5 L605.6,410.3 L616.2,378.2 L626.8,341.1 L637.3,304.3 L647.9,276.1 L658.4,255.8 L669.0,241.6"/>
<path d="M67.0,487.2 L77.6,488.7 L88.1,488.6 L98.7,488.7 L109.2,488.7 L119.8,488.5 L130.4,489.3 L140.9,489.4 L151.5,489.0 L162.1,488.0 L172.6,487.4 L183.2,488.5 L193.7,488.9 L204.3,487.3 L214.9,488.0 L225.4,487.9 L236.0,488.8 L246.5,489.1 L257.1,488.1 L267.7,488.8 L278.2,487.4 L288.8,489.6 L299.4,488.3 L309.9,488.6 L320.5,489.7 L331.0,489.0 L341.6,489.8 L352.2,489.0 L362.7,488.9 L373.3,485.8 L383.8,489.7 L394.4,488.0 L405.0,489.1 L415.5,488.3 L426.1,488.7 L436.6,485.8 L447.2,483.0 L457.8,480.1 L468.3,477.5 L478.9,475.2 L489.5,473.2 L500.0,471.5 L510.6,469.8 L521.1,468.1 L531.7,466.2 L542.3,463.5 L552.8,459.5 L563.4,451.4 L573.9,437.9 L584.5,417.5 L595.1,387.8 L605.6,349.7 L616.2,309.6 L626.8,272.3 L637.3,246.2 L647.9,228.5 L658.4,212.7 L669.0,196.4"/>
<path d="M67.0,488.2 L77.6,488.6 L88.1,489.7 L98.7,489.1 L109.2,487.2 L119.8,487.1 L130.4,490.3 L140.9,488.2 L151.5,489.1 L162.1,489.3 L172.6,488.5 L183.2,487.1 L193.7,488.2 L204.3,489.8 L214.9,488.7 L225.4,488.3 L236.0,487.6 L246.5,488.8 L257.1,488.6 L267.7,488.5 L278.2,488.0 L288.8,490.7 L299.4,487.3 L309.9,488.4 L320.5,488.7 L331.0,489.9 L341.6,488.5 L352.2,486.6 L362.7,489.4 L373.3,490.5 L383.8,488.3 L394.4,488.7 L405.0,488.8 L415.5,490.4 L426.1,488.3 L436.6,488.0 L447.2,488.5 L457.8,485.9 L468.3,483.4 L478.9,480.9 L489.5,478.8 L500.0,476.8 L510.6,475.2 L521.1,473.8 L531.7,472.2 L542.3,470.7 L552.8,468.6 L563.4,466.1 L573.9,460.0 L584.5,451.0 L595.1,436.9 L605.6,413.6 L616.2,382.7 L626.8,346.9 L637.3,311.6 L647.9,284.4 L658.4,264.8 L669.0,251.2"/>
<path d="M67.0,488.8 L77.6,489.1 L88.1,490.0 L98.7,489.0 L109.2,490.2 L119.8,490.4 L130.4,488.9 L140.9,490.1 L151.5,490.9 L162.1,488.3 L172.6,490.2 L183.2,489.5 L193.7,488.4 L204.3,491.3 L214.9,490.3 L225.4,489.0 L236.0,490.3 L246.5,490.5 L257.1,490.1 L267.7,490.3 L278.2,490.3 L288.8,489.6 L299.4,489.9 L309.9,488.1 L320.5,489.6 L331.0,488.2 L341.6,489.8 L352.2,488.1 L362.7,490.1 L373.3,488.7 L383.8,489.8 L394.4,488.2 L405.0,490.8 L415.5,490.5 L426.1,489.6 L436.6,491.0 L447.2,488.4 L457.8,487.2 L468.3,484.9 L478.9,482.7 L489.5,480.9 L500.0,479.1 L510.6,477.8 L521.1,476.5 L531.7,475.2 L542.3,473.8 L552.8,471.9 L563.4,469.6 L573.9,463.8 L584.5,455.0 L595.1,441.6 L605.6,420.2 L616.2,392.5 L626.8,360.6 L637.3,329.4 L647.9,306.6 L658.4,290.5 L669.0,278.4"/>
<path d="M67.0,490.5 L77.6,489.6 L88.1,489.6 L98.7,489.4 L109.2,488.0 L119.8,488.0 L130.4,486.3 L140.9,486.6 L151.5,487.8 L162.1,488.3 L172.6,487.4 L183.2,487.7 L193.7,488.6 L204.3,487.4 L214.9,488.7 L225.4,488.2 L236.0,488.3 L246.5,488.8 L257.1,488.8 L267.7,488.1 L278.2,488.3 L288.8,489.4 L299.4,486.4 L309.9,486.3 L320.5,486.4 L331.0,486.9 L341.6,488.2 L352.2,489.1 L362.7,489.2 L373.3,490.0 L383.8,488.5 L394.4,490.0 L405.0,488.0 L415.5,487.9 L426.1,488.7 L436.6,488.7 L447.2,488.2 L457.8,487.2 L468.3,484.9 L478.9,482.6 L489.5,480.7 L500.0,478.8 L510.6,477.4 L521.1,476.1 L531.7,474.7 L542.3,473.3 L552.8,471.4 L563.4,469.1 L573.9,463.8 L584.5,455.8 L595.1,443.4 L605.6,422.4 L616.2,394.5 L626.8,362.0 L637.3,329.8 L647.9,304.6 L658.4,286.5 L669.0,274.0"/>
<path d="M67.0,489.4 L77.6,490.7 L88.1,489.4 L98.7,488.9 L109.2,491.9 L119.8,489.7 L130.4,490.6 L140.9,489.9 L151.5,491.4 L162.1,491.1 L172.6,490.1 L183.2,490.6 L193.7,490.5 L204.3,491.0 L214.9,489.6 L225.4,488.9 L236.0,491.0 L246.5,489.8 L257.1,490.5 L267.7,489.8 L278.2,488.9 L288.8,489.8 L299.4,490.2 L309.9,491.1 L320.5,488.9 L331.0,488.3 L341.6,492.0 L352.2,489.4 L362.7,490.2 L373.3,491.4 L383.8,488.2 L394.4,489.5 L405.0,487.8 L415.5,490.9 L426.1,490.5 L436.6,491.4 L447.2,489.1 L457.8,486.8 L468.3,484.5 L478.9,482.3 L489.5,480.5 L500.0,478.7 L510.6,477.4 L521.1,476.0 L531.7,474.7 L542.3,473.2 L552.8,471.2 L563.4,468.9 L573.9,462.7 L584.5,453.4 L595.1,439.1 L605.6,416.9 L616.2,388.4 L626.8,355.9 L637.3,324.1 L647.9,301.8 L658.4,286.1 L669.0,273.7"/>
<path d="M67.0,497.5 L77.6,497.5 L88.1,497.4 L98.7,497.5 L109.2,497.0 L119.8,497.1 L130.4,497.5 L140.9,496.8 L151.5,497.0 L162.1,497.5 L172.6,496.4 L183.2,497.0 L193.7,497.4 L204.3,496.9 L214.9,497.5 L225.4,497.5 L236.0,497.4 L246.5,497.5 L257.1,495.7 L267.7,497.0 L278.2,496.5 L288.8,495.4 L299.4,495.7 L309.9,495.0 L320.5,497.3 L331.0,495.5 L341.6,497.1 L352.2,497.0 L362.7,496.7 L373.3,496.4 L383.8,496.1 L394.4,495.5 L405.0,494.8 L415.5,493.3 L426.1,491.5 L436.6,489.3 L447.2,486.9 L457.8,484.7 L468.3,482.4 L478.9,480.6 L489.5,478.7 L500.0,477.4 L510.6,476.1 L521.1,474.7 L531.7,473.3 L542.3,471.3 L552.8,469.0 L563.4,463.1 L573.9,454.3 L584.5,440.8 L595.1,419.1 L605.6,390.8 L616.2,358.3 L626.8,326.4 L637.3,303.0 L647.9,286.3 L658.4,273.9 L669.0,260.9"/>
<path d="M67.0,488.6 L77.6,488.1 L88.1,490.3 L98.7,487.3 L109.2,487.9 L119.8,486.2 L130.4,488.1 L140.9,487.8 L151.5,488.6 L162.1,485.5 L172.6,487.4 L183.2,486.4 L193.7,488.0 L204.3,487.0 L214.9,488.6 L225.4,488.3 L236.0,488.0 L246.5,488.6 L257.1,486.9 L267.7,486.8 L278.2,486.4 L288.8,488.6 L299.4,488.3 L309.9,487.7 L320.5,487.0 L331.0,489.0 L341.6,487.9 L352.2,486.6 L362.7,487.6 L373.3,487.8 L383.8,488.8 L394.4,488.0 L405.0,486.9 L415.5,486.6 L426.1,489.4 L436.6,487.3 L447.2,487.6 L457.8,485.1 L468.3,482.6 L478.9,480.3 L489.5,478.3 L500.0,476.5 L510.6,475.1 L521.1,473.6 L531.7,472.1 L542.3,470.5 L552.8,468.1 L563.4,464.7 L573.9,457.7 L584.5,445.9 L595.1,428.2 L605.6,402.4 L616.2,369.2 L626.8,334.4 L637.3,301.9 L647.9,279.3 L658.4,263.8 L669.0,250.1"/>
<path d="M67.0,493.5 L77.6,493.0 L88.1,494.1 L98.7,493.8 L109.2,493.1 L119.8,495.9 L130.4,494.4 L140.9,494.2 L151.5,493.9 L162.1,494.2 L172.6,494.4 L183.2,493.4 L193.7,492.8 L204.3,493.1 L214.9,492.5 L225.4,493.1 L236.0,492.1 L246.5,492.0 L257.1,494.1 L267.7,494.5 L278.2,494.2 L288.8,494.0 L299.4,492.9 L309.9,493.1 L320.5,493.4 L331.0,494.3 L341.6,494.1 L352.2,493.8 L362.7,493.4 L373.3,496.1 L383.8,493.4 L394.4,493.1 L405.0,494.0 L415.5,492.1 L426.1,490.1 L436.6,487.7 L447.2,485.2 L457.8,482.8 L468.3,480.7 L478.9,478.7 L489.5,477.1 L500.0,475.7 L510.6,474.3 L521.1,472.8 L531.7,471.2 L542.3,468.8 L552.8,465.0 L563.4,458.2 L573.9,446.2 L584.5,428.1 L595.1,402.4 L605.6,369.4 L616.2,335.9 L626.8,305.6 L637.3,284.3 L647.9,269.8 L658.4,256.4 L669.0,242.7"/>
<path d="M67.0,489.8 L77.6,489.5 L88.1,490.7 L98.7,492.7 L109.2,489.3 L119.8,490.7 L130.4,489.4 L140.9,490.9 L151.5,489.6 L162.1,490.2 L172.6,490.3 L183.2,490.0 L193.7,489.6 L204.3,491.8 L214.9,488.7 L225.4,488.9 L236.0,489.6 L246.5,491.7 L257.1,489.1 L267.7,490.0 L278.2,488.2 L288.8,490.4 L299.4,490.2 L309.9,488.9 L320.5,492.2 L331.0,490.4 L341.6,490.1 L352.2,492.4 L362.7,491.0 L373.3,489.7 L383.8,489.6 L394.4,488.2 L405.0,489.0 L415.5,491.4 L426.1,489.1 L436.6,489.6 L447.2,489.8 L457.8,488.0 L468.3,485.9 L478.9,483.7 L489.5,482.0 L500.0,480.3 L510.6,479.0 L521.1,477.8 L531.7,476.5 L542.3,475.2 L552.8,473.4 L563.4,471.3 L573.9,466.2 L584.5,458.6 L595.1,446.8 L605.6,427.2 L616.2,401.2 L626.8,371.1 L637.3,341.4 L647.9,318.6 L658.4,302.1 L669.0,290.6"/>
<path d="M67.0,497.2 L77.6,496.4 L88.1,496.3 L98.7,496.9 L109.2,497.2 L119.8,497.2 L130.4,496.5 L140.9,494.7 L151.5,496.8 L162.1,496.7 L172.6,496.4 L183.2,497.2 L193.7,495.9 L204.3,497.2 L214.9,497.0 L225.4,497.2 L236.0,497.2 L246.5,497.2 L257.1,497.1 L267.7,497.1 L278.2,495.4 L288.8,496.7 L299.4,497.1 L309.9,496.6 L320.5,496.9 L331.0,495.9 L341.6,496.2 L352.2,496.7 L362.7,496.4 L373.3,496.0 L383.8,495.7 L394.4,495.3 L405.0,494.5 L415.5,493.6 L426.1,491.4 L436.6,489.2 L447.2,486.4 L457.8,483.5 L468.3,480.7 L478.9,478.1 L489.5,475.9 L500.0,473.8 L510.6,472.2 L521.1,470.5 L531.7,468.9 L542.3,467.0 L552.8,464.4 L563.4,461.0 L573.9,453.1 L584.5,440.5 L595.1,421.3 L605.6,392.8 L616.2,356.3 L626.8,316.8 L637.3,279.2 L647.9,253.0 L658.4,235.2 L669.0,219.8"/>
<path d="M67.0,496.9 L77.6,496.9 L88.1,495.6 L98.7,497.5 L109.2,497.0 L119.8,497.5 L130.4,497.5 L140.9,496.6 L151.5,497.2 L162.1,497.5 L172.6,497.5 L183.2,497.5 L193.7,496.6 L204.3,497.5 L214.9,497.1 L225.4,497.5 L236.0,497.1 L246.5,497.4 L257.1,497.5 L267.7,497.1 L278.2,497.5 L288.8,497.4 L299.4,496.8 L309.9,497.3 L320.5,496.1 L331.0,496.7 L341.6,497.2 L352.2,497.0 L362.7,496.8 L373.3,496.5 L383.8,496.2 L394.4,495.9 L405.0,495.2 L415.5,494.4 L426.1,492.6 L436.6,490.7 L447.2,488.4 L457.8,486.1 L468.3,483.8 L478.9,481.7 L489.5,479.8 L500.0,478.2 L510.6,476.8 L521.1,475.5 L531.7,474.1 L542.3,472.6 L552.8,470.4 L563.4,467.2 L573.9,460.7 L584.5,449.8 L595.1,433.3 L605.6,409.4 L616.2,378.6 L626.8,346.4 L637.3,316.3 L647.9,295.3 L658.4,281.0 L669.0,268.3"/>
<path d="M67.0,493.2 L77.6,495.1 L88.1,494.0 L98.7,496.5 L109.2,496.3 L119.8,494.2 L130.4,496.8 L140.9,492.0 L151.5,493.9 L162.1,493.1 L172.6,495.0 L183.2,496.4 L193.7,495.9 L204.3,495.9 L214.9,494.1 L225.4,496.1 L236.0,495.8 L246.5,493.3 L257.1,496.2 L267.7,495.6 L278.2,493.5 L288.8,492.3 L299.4,496.7 L309.9,497.2 L320.5,495.7 L331.0,494.7 L341.6,495.0 L352.2,495.5 L362.7,496.3 L373.3,494.0 L383.8,495.5 L394.4,495.6 L405.0,494.9 L415.5,493.4 L426.1,492.9 L436.6,490.9 L447.2,488.4 L457.8,485.8 L468.3,483.2 L478.9,480.6 L489.5,478.4 L500.0,476.4 L510.6,474.8 L521.1,473.2 L531.7,471.7 L542.3,470.1 L552.8,468.0 L563.4,465.4 L573.9,459.6 L584.5,450.7 L595.1,436.9 L605.6,413.5 L616.2,382.2 L626.8,345.7 L637.3,309.5 L647.9,280.9 L658.4,260.4 L669.0,246.2"/>
<path d="M67.0,490.3 L77.6,489.8 L88.1,488.5 L98.7,490.8 L109.2,489.5 L119.8,490.1 L130.4,492.6 L140.9,490.7 L151.5,489.7 L162.1,489.9 L172.6,490.4 L183.2,491.6 L193.7,490.0 L204.3,490.1 L214.9,489.7 L225.4,488.3 L236.0,490.2 L246.5,489.1 L257.1,489.8 L267.7,487.3 L278.2,489.7 L288.8,487.4 L299.4,491.4 L309.9,491.6 L320.5,489.7 L331.0,490.4 L341.6,488.8 L352.2,489.4 L362.7,489.4 L373.3,491.1 L383.8,490.3 L394.4,489.3 L405.0,490.9 L415.5,490.2 L426.1,488.9 L436.6,490.3 L447.2,489.2 L457.8,486.3 L468.3,483.5 L478.9,480.7 L489.5,478.1 L500.0,475.8 L510.6,473.8 L521.1,472.1 L531.7,470.5 L542.3,468.8 L552.8,467.0 L563.4,464.4 L573.9,460.9 L584.5,453.0 L595.1,440.3 L605.6,421.0 L616.2,392.5 L626.8,355.8 L637.3,316.3 L647.9,278.7 L658.4,252.5 L669.0,234.7"/>
<path d="M67.0,487.2 L77.6,487.7 L88.1,487.5 L98.7,486.8 L109.2,487.9 L119.8,488.5 L130.4,486.7 L140.9,488.6 L151.5,488.0 L162.1,490.5 L172.6,488.7 L183.2,488.2 L193.7,487.5 L204.3,487.6 L214.9,487.1 L225.4,488.8 L236.0,488.8 L246.5,487.9 L257.1,489.0 L267.7,488.6 L278.2,488.1 L288.8,490.3 L299.4,489.9 L309.9,487.7 L320.5,489.0 L331.0,487.4 L341.6,488.7 L352.2,489.3 L362.7,487.5 L373.3,488.5 L383.8,487.8 L394.4,488.9 L405.0,489.1 L415.5,488.6 L426.1,489.1 L436.6,488.4 L447.2,487.6 L457.8,485.1 L468.3,482.5 L478.9,480.2 L489.5,478.2 L500.0,476.3 L510.6,474.8 L521.1,473.4 L531.7,471.9 L542.3,470.2 L552.8,467.9 L563.4,464.8 L573.9,457.6 L584.5,446.2 L595.1,428.9 L605.6,403.2 L616.2,370.3 L626.8,334.7 L637.3,300.9 L647.9,277.3 L658.4,261.3 L669.0,247.4"/>
<path d="M67.0,486.4 L77.6,486.6 L88.1,487.4 L98.7,486.8 L109.2,485.0 L119.8,486.0 L130.4,486.8 L140.9,487.2 L151.5,484.8 L162.1,487.3 L172.6,488.9 L183.2,485.5 L193.7,487.3 L204.3,489.1 L214.9,488.3 L225.4,488.3 L236.0,489.2 L246.5,487.6 L257.1,487.4 L267.7,485.0 L278.2,486.9 L288.8,487.4 L299.4,487.0 L309.9,486.6 L320.5,485.7 L331.0,485.4 L341.6,488.9 L352.2,488.4 L362.7,486.8 L373.3,484.7 L383.8,487.3 L394.4,485.6 L405.0,487.4 L415.5,487.4 L426.1,487.1 L436.6,485.3 L447.2,485.7 L457.8,482.9 L468.3,480.1 L478.9,477.6 L489.5,475.4 L500.0,473.5 L510.6,471.9 L521.1,470.2 L531.7,468.6 L542.3,466.6 L552.8,463.9 L563.4,459.1 L573.9,451.2 L584.5,436.8 L595.1,415.0 L605.6,384.5 L616.2,345.9 L626.8,307.2 L637.3,273.1 L647.9,249.0 L658.4,232.5 L669.0,216.9"/>
<path d="M67.0,493.5 L77.6,493.6 L88.1,494.3 L98.7,493.0 L109.2,493.3 L119.8,493.3 L130.4,494.0 L140.9,492.3 L151.5,493.5 L162.1,492.9 L172.6,494.8 L183.2,495.4 L193.7,492.8 L204.3,494.3 L214.9,494.5 L225.4,493.2 L236.0,492.1 L246.5,493.9 L257.1,493.9 L267.7,493.1 L278.2,493.0 L288.8,493.5 L299.4,495.5 L309.9,492.7 L320.5,494.4 L331.0,491.3 L341.6,494.3 L352.2,493.3 L362.7,493.6 L373.3,493.4 L383.8,490.9 L394.4,493.8 L405.0,492.5 L415.5,493.6 L426.1,492.6 L436.6,490.7 L447.2,488.5 L457.8,486.4 L468.3,484.3 L478.9,482.4 L489.5,480.8 L500.0,479.4 L510.6,478.1 L521.1,476.9 L531.7,475.6 L542.3,474.0 L552.8,471.9 L563.4,467.8 L573.9,461.4 L584.5,450.1 L595.1,432.5 L605.6,408.1 L616.2,378.4 L626.8,348.8 L637.3,323.9 L647.9,306.2 L658.4,294.0 L669.0,282.0"/>
<path d="M67.0,491.9 L77.6,494.9 L88.1,494.4 L98.7,494.7 L109.2,494.3 L119.8,494.4 L130.4,495.5 L140.9,492.2 L151.5,493.0 L162.1,494.5 L172.6,495.8 L183.2,492.3 L193.7,496.1 L204.3,494.8 L214.9,495.0 L225.4,494.4 L236.0,493.1 L246.5,492.7 L257.1,493.3 L267.7,494.9 L278.2,492.2 L288.8,492.3 L299.4,492.8 L309.9,491.0 L320.5,494.8 L331.0,494.5 L341.6,494.5 L352.2,494.3 L362.7,492.9 L373.3,493.4 L383.8,494.1 L394.4,492.4 L405.0,493.1 L415.5,491.3 L426.1,489.0 L436.6,486.7 L447.2,484.4 L457.8,482.1 L468.3,480.3 L478.9,478.5 L489.5,477.1 L500.0,475.8 L510.6,474.4 L521.1,472.9 L531.7,470.9 L542.3,468.6 L552.8,462.4 L563.4,453.1 L573.9,438.9 L584.5,416.5 L595.1,387.7 L605.6,354.9 L616.2,322.7 L626.8,299.7 L637.3,283.6 L647.9,271.1 L658.4,257.9 L669.0,245.4"/>
<path d="M67.0,492.2 L77.6,489.7 L88.1,489.7 L98.7,490.1 L109.2,490.2 L119.8,489.2 L130.4,489.4 L140.9,489.7 L151.5,491.2 L162.1,489.4 L172.6,491.4 L183.2,490.1 L193.7,491.6 L204.3,490.7 L214.9,489.6 L225.4,490.8 L236.0,489.5 L246.5,491.0 L257.1,488.7 L267.7,490.7 L278.2,487.7 L288.8,489.7 L299.4,490.5 L309.9,491.7 L320.5,490.9 L331.0,488.3 L341.6,491.8 L352.2,492.2 L362.7,490.2 L373.3,489.1 L383.8,490.9 L394.4,491.4 L405.0,490.7 L415.5,490.7 L426.1,489.3 L436.6,488.4 L447.2,489.9 L457.8,487.6 L468.3,485.4 L478.9,483.1 L489.5,481.3 L500.0,479.5 L510.6,478.1 L521.1,476.8 L531.7,475.5 L542.3,474.1 L552.8,472.3 L563.4,470.1 L573.9,465.0 L584.5,457.3 L595.1,445.3 L605.6,425.0 L616.2,398.0 L626.8,366.5 L637.3,335.4 L647.9,310.9 L658.4,293.3 L669.0,281.2"/>
<path d="M67.0,497.5 L77.6,497.5 L88.1,497.5 L98.7,497.5 L109.2,497.5 L119.8,496.3 L130.4,497.5 L140.9,495.1 L151.5,497.5 L162.1,497.5 L172.6,497.5 L183.2,497.5 L193.7,496.5 L204.3,497.3 L214.9,497.5 L225.4,497.5 L236.0,497.5 L246.5,495.0 L257.1,497.4 L267.7,497.4 L278.2,497.3 L288.8,497.4 L299.4,497.4 L309.9,497.3 L320.5,497.3 L331.0,497.2 L341.6,497.2 L352.2,497.1 L362.7,497.0 L373.3,496.7 L383.8,496.3 L394.4,496.0 L405.0,495.5 L415.5,494.8 L426.1,493.5 L436.6,491.6 L447.2,489.4 L457.8,487.1 L468.3,484.7 L478.9,482.4 L489.5,480.4 L500.0,478.6 L510.6,477.1 L521.1,475.8 L531.7,474.4 L542.3,472.9 L552.8,471.1 L563.4,468.7 L573.9,463.4 L584.5,455.4 L595.1,442.9 L605.6,421.7 L616.2,393.5 L626.8,360.5 L637.3,327.9 L647.9,302.3 L658.4,283.8 L669.0,271.1"/>
<path d="M67.0,490.6 L77.6,489.0 L88.1,489.0 L98.7,490.1 L109.2,490.0 L119.8,493.8 L130.4,491.6 L140.9,492.2 L151.5,490.4 L162.1,490.4 L172.6,490.4 L183.2,490.4 L193.7,490.6 L204.3,491.1 L214.9,491.6 L225.4,490.2 L236.0,491.0 L246.5,489.9 L257.1,491.5 L267.7,491.3 L278.2,491.9 L288.8,490.3 L299.4,491.9 L309.9,493.6 L320.5,491.9 L331.0,491.8 L341.6,491.0 L352.2,491.4 L362.7,489.6 L373.3,490.7 L383.8,489.9 L394.4,489.5 L405.0,489.9 L415.5,490.0 L426.1,491.5 L436.6,490.5 L447.2,489.4 L457.8,486.9 L468.3,484.5 L478.9,482.1 L489.5,480.1 L500.0,478.2 L510.6,476.7 L521.1,475.3 L531.7,473.9 L542.3,472.4 L552.8,470.6 L563.4,468.2 L573.9,463.0 L584.5,455.1 L595.1,442.4 L605.6,421.5 L616.2,392.8 L626.8,359.2 L637.3,325.8 L647.9,298.9 L658.4,279.6 L669.0,266.4"/>
<path d="M67.0,491.3 L77.6,492.6 L88.1,491.7 L98.7,493.1 L109.2,489.7 L119.8,490.7 L130.4,492.3 L140.9,490.1 L151.5,491.6 L162.1,491.0 L172.6,492.3 L183.2,492.6 L193.7,490.6 L204.3,491.3 L214.9,491.2 L225.4,491.1 L236.0,492.0 L246.5,492.6 L257.1,491.7 L267.7,494.1 L278.2,492.0 L288.8,490.9 L299.4,492.4 L309.9,490.1 L320.5,492.5 L331.0,493.3 L341.6,491.5 L352.2,492.3 L362.7,491.5 L373.3,492.8 L383.8,491.5 L394.4,492.0 L405.0,491.9 L415.5,491.1 L426.1,493.0 L436.6,491.6 L447.2,489.4 L457.8,487.1 L468.3,484.8 L478.9,482.6 L489.5,480.7 L500.0,478.9 L510.6,477.5 L521.1,476.2 L531.7,474.8 L542.3,473.4 L552.8,471.5 L563.4,469.2 L573.9,463.6 L584.5,455.3 L595.1,442.3 L605.6,421.1 L616.2,393.1 L626.8,360.8 L637.3,328.9 L647.9,304.8 L658.4,287.4 L669.0,275.1"/>
<path d="M67.0,497.5 L77.6,497.5 L88.1,497.5 L98.7,497.5 L109.2,497.2 L119.8,497.5 L130.4,497.5 L140.9,497.5 L151.5,497.5 L162.1,497.5 L172.6,497.5 L183.2,497.5 L193.7,497.5 L204.3,497.5 L214.9,497.5 L225.4,496.4 L236.0,497.4 L246.5,497.4 L257.1,497.4 L267.7,497.4 L278.2,497.4 L288.8,497.4 L299.4,497.4 L309.9,497.3 L320.5,497.2 L331.0,497.2 L341.6,497.1 L352.2,497.1 L362.7,496.8 L373.3,496.5 L383.8,496.2 L394.4,495.9 L405.0,495.2 L415.5,494.4 L426.1,492.6 L436.6,490.6 L447.2,488.2 L457.8,485.9 L468.3,483.5 L478.9,481.3 L489.5,479.4 L500.0,477.7 L510.6,476.3 L521.1,474.9 L531.7,473.5 L542.3,472.0 L552.8,469.7 L563.4,466.7 L573.9,460.0 L584.5,449.1 L595.1,432.7 L605.6,408.4 L616.2,377.2 L626.8,344.0 L637.3,312.6 L647.9,290.7 L658.4,275.8 L669.0,262.7"/>
<path d="M67.0,494.0 L77.6,492.4 L88.1,492.7 L98.7,495.2 L109.2,494.6 L119.8,493.9 L130.4,493.1 L140.9,492.8 L151.5,493.5 L162.1,494.0 L172.6,495.5 L183.2,493.2 L193.7,495.0 L204.3,493.3 L214.9,492.9 L225.4,495.9 L236.0,492.2 L246.5,494.5 L257.1,493.2 L267.7,493.3 L278.2,492.3 L288.8,493.1 L299.4,492.6 L309.9,493.4 L320.5,495.2 L331.0,494.5 L341.6,493.6 L352.2,493.3 L362.7,494.2 L373.3,495.1 L383.8,495.1 L394.4,494.2 L405.0,491.1 L415.5,491.0 L426.1,488.6 L436.6,485.7 L447.2,482.9 L457.8,480.0 L468.3,477.5 L478.9,475.2 L489.5,473.2 L500.0,471.6 L510.6,469.9 L521.1,468.2 L531.7,466.3 L542.3,463.5 L552.8,459.2 L563.4,451.2 L573.9,437.2 L584.5,416.1 L595.1,386.1 L605.6,347.5 L616.2,307.9 L626.8,271.9 L637.3,246.6 L647.9,229.4 L658.4,213.6 L669.0,197.5"/>
<path d="M67.0,497.4 L77.6,497.4 L88.1,497.4 L98.7,497.4 L109.2,497.4 L119.8,497.4 L130.4,497.4 L140.9,497.4 L151.5,497.4 L162.1,496.7 L172.6,497.4 L183.2,497.4 L193.7,497.4 L204.3,497.1 L214.9,497.4 L225.4,497.3 L236.0,497.3 L246.5,497.3 L257.1,497.3 L267.7,497.3 L278.2,497.3 L288.8,497.3 L299.4,497.3 L309.9,497.2 L320.5,497.2 L331.0,497.1 L341.6,497.0 L352.2,497.0 L362.7,496.8 L373.3,496.5 L383.8,496.2 L394.4,495.8 L405.0,495.3 L415.5,494.6 L426.1,493.2 L436.6,491.3 L447.2,489.0 L457.8,486.4 L468.3,483.8 L478.9,481.3 L489.5,479.2 L500.0,477.1 L510.6,475.5 L521.1,474.0 L531.7,472.5 L542.3,471.0 L552.8,469.1 L563.4,466.6 L573.9,461.4 L584.5,453.4 L595.1,439.9 L605.6,418.5 L616.2,388.7 L626.8,353.3 L637.3,318.0 L647.9,289.0 L658.4,268.2 L669.0,254.0"/>
<path d="M67.0,495.9 L77.6,494.7 L88.1,494.7 L98.7,496.1 L109.2,494.4 L119.8,495.7 L130.4,495.8 L140.9,494.9 L151.5,496.5 L162.1,497.3 L172.6,495.9 L183.2,494.8 L193.7,496.0 L204.3,494.8 L214.9,494.4 L225.4,496.1 L236.0,495.7 L246.5,495.9 L257.1,495.0 L267.7,495.2 L278.2,495.5 L288.8,494.2 L299.4,495.3 L309.9,495.4 L320.5,496.5 L331.0,495.6 L341.6,494.3 L352.2,494.9 L362.7,495.6 L373.3,495.8 L383.8,496.3 L394.4,495.9 L405.0,494.6 L415.5,494.9 L426.1,494.2 L436.6,492.4 L447.2,490.3 L457.8,487.7 L468.3,485.0 L478.9,482.4 L489.5,479.7 L500.0,477.6 L510.6,475.5 L521.1,473.9 L531.7,472.3 L542.3,470.8 L552.8,469.1 L563.4,466.8 L573.9,464.2 L584.5,457.4 L595.1,447.2 L605.6,431.5 L616.2,406.3 L626.8,373.5 L637.3,335.8 L647.9,298.6 L658.4,271.3 L669.0,251.8"/>
<path d="M67.0,497.2 L77.6,494.5 L88.1,493.5 L98.7,494.6 L109.2,495.2 L119.8,495.9 L130.4,495.1 L140.9,493.3 L151.5,493.9 L162.1,496.2 L172.6,493.8 L183.2,496.2 L193.7,496.1 L204.3,495.6 L214.9,494.8 L225.4,495.7 L236.0,494.4 L246.5,495.1 L257.1,493.8 L267.7,496.9 L278.2,495.3 L288.8,494.7 L299.4,493.8 L309.9,497.0 L320.5,495.7 L331.0,496.8 L341.6,495.0 L352.2,496.0 L362.7,495.1 L373.3,494.3 L383.8,494.5 L394.4,495.4 L405.0,494.8 L415.5,492.1 L426.1,492.3 L436.6,490.1 L447.2,487.4 L457.8,484.5 L468.3,481.7 L478.9,478.9 L489.5,476.5 L500.0,474.3 L510.6,472.5 L521.1,470.9 L531.7,469.2 L542.3,467.4 L552.8,465.2 L563.4,462.3 L573.9,455.8 L584.5,446.0 L595.1,430.7 L605.6,404.9 L616.2,370.6 L626.8,330.7 L637.3,291.3 L647.9,260.5 L658.4,238.3 L669.0,222.9"/>
<path d="M67.0,491.4 L77.6,493.8 L88.1,494.2 L98.7,491.3 L109.2,490.4 L119.8,492.2 L130.4,491.4 L140.9,494.3 L151.5,493.9 L162.1,493.1 L172.6,492.9 L183.2,492.4 L193.7,493.0 L204.3,492.6 L214.9,492.7 L225.4,491.9 L236.0,491.4 L246.5,491.6 L257.1,491.0 L267.7,492.7 L278.2,493.0 L288.8,494.6 L299.4,494.3 L309.9,491.7 L320.5,492.0 L331.0,492.5 L341.6,492.9 L352.2,493.9 L362.7,494.9 L373.3,493.2 L383.8,492.8 L394.4,495.3 L405.0,491.1 L415.5,493.3 L426.1,492.1 L436.6,491.1 L447.2,490.1 L457.8,487.6 L468.3,485.2 L478.9,482.7 L489.5,480.5 L500.0,478.6 L510.6,476.9 L521.1,475.5 L531.7,474.1 L542.3,472.6 L552.8,471.0 L563.4,468.6 L573.9,464.8 L584.5,457.9 L595.1,445.9 L605.6,427.7 L616.2,401.9 L626.8,368.7 L637.3,334.9 L647.9,304.3 L658.4,282.8 L669.0,268.1"/>
<path d="M67.0,486.7 L77.6,487.3 L88.1,486.8 L98.7,485.8 L109.2,486.6 L119.8,487.3 L130.4,487.4 L140.9,486.3 L151.5,487.2 L162.1,485.9 L172.6,488.4 L183.2,486.0 L193.7,487.7 L204.3,486.9 L214.9,484.6 L225.4,485.7 L236.0,487.4 L246.5,487.3 L257.1,485.9 L267.7,485.8 L278.2,486.9 L288.8,486.0 L299.4,487.3 L309.9,489.8 L320.5,485.7 L331.0,487.4 L341.6,486.2 L352.2,487.0 L362.7,487.2 L373.3,487.8 L383.8,486.0 L394.4,485.9 L405.0,485.5 L415.5,486.1 L426.1,486.4 L436.6,487.4 L447.2,486.8 L457.8,485.0 L468.3,483.0 L478.9,481.3 L489.5,479.7 L500.0,478.5 L510.6,477.2 L521.1,475.9 L531.7,474.5 L542.3,472.5 L552.8,469.8 L563.4,463.8 L573.9,454.0 L584.5,439.2 L595.1,417.3 L605.6,389.2 L616.2,359.1 L626.8,330.4 L637.3,310.5 L647.9,296.9 L658.4,285.1 L669.0,273.0"/>
<path d="M67.0,488.3 L77.6,489.7 L88.1,486.9 L98.7,488.5 L109.2,488.5 L119.8,489.8 L130.4,487.2 L140.9,490.0 L151.5,489.4 L162.1,489.2 L172.6,488.7 L183.2,490.1 L193.7,489.4 L204.3,487.9 L214.9,488.6 L225.4,488.4 L236.0,487.5 L246.5,488.1 L257.1,487.5 L267.7,488.6 L278.2,489.6 L288.8,486.8 L299.4,490.4 L309.9,490.1 L320.5,489.8 L331.0,486.0 L341.6,488.5 L352.2,487.4 L362.7,490.3 L373.3,489.8 L383.8,488.2 L394.4,489.1 L405.0,488.5 L415.5,487.9 L426.1,488.5 L436.6,488.5 L447.2,487.5 L457.8,485.2 L468.3,482.9 L478.9,480.8 L489.5,478.9 L500.0,477.4 L510.6,476.0 L521.1,474.6 L531.7,473.2 L542.3,471.5 L552.8,469.2 L563.4,464.8 L573.9,457.9 L584.5,445.4 L595.1,426.4 L605.6,399.7 L616.2,367.1 L626.8,334.4 L637.3,306.6 L647.9,286.8 L658.4,273.3 L669.0,260.0"/>
<path d="M67.0,487.9 L77.6,488.4 L88.1,486.3 L98.7,487.9 L109.2,487.9 L119.8,488.5 L130.4,489.3 L140.9,488.0 L151.5,487.2 L162.1,488.4 L172.6,490.7 L183.2,489.2 L193.7,486.3 L204.3,489.0 L214.9,488.2 L225.4,490.5 L236.0,489.0 L246.5,489.3 L257.1,487.5 L267.7,487.7 L278.2,487.8 L288.8,487.3 L299.4,488.9 L309.9,486.6 L320.5,488.7 L331.0,487.4 L341.6,486.1 L352.2,489.0 L362.7,488.0 L373.3,488.5 L383.8,488.3 L394.4,488.1 L405.0,488.5 L415.5,488.4 L426.1,487.6 L436.6,489.8 L447.2,487.6 L457.8,485.1 L468.3,482.6 L478.9,480.4 L489.5,478.4 L500.0,476.6 L510.6,475.2 L521.1,473.7 L531.7,472.3 L542.3,470.6 L552.8,468.2 L563.4,464.8 L573.9,457.7 L584.5,446.0 L595.1,428.2 L605.6,402.4 L616.2,369.2 L626.8,334.6 L637.3,302.6 L647.9,280.2 L658.4,264.9 L669.0,251.2"/>
<path d="M67.0,497.4 L77.6,495.8 L88.1,494.5 L98.7,497.4 L109.2,497.6 L119.8,496.2 L130.4,496.0 L140.9,496.9 L151.5,497.0 L162.1,494.4 L172.6,497.1 L183.2,497.6 L193.7,496.6 L204.3,494.7 L214.9,495.4 L225.4,496.2 L236.0,497.5 L246.5,496.2 L257.1,493.0 L267.7,495.5 L278.2,495.0 L288.8,497.5 L299.4,496.6 L309.9,496.7 L320.5,494.2 L331.0,496.4 L341.6,496.2 L352.2,496.7 L362.7,496.9 L373.3,494.9 L383.8,496.3 L394.4,495.9 L405.0,495.3 L415.5,494.2 L426.1,492.5 L436.6,490.6 L447.2,488.3 L457.8,486.1 L468.3,484.0 L478.9,482.0 L489.5,480.3 L500.0,478.8 L510.6,477.5 L521.1,476.2 L531.7,474.9 L542.3,473.4 L552.8,471.2 L563.4,467.1 L573.9,460.9 L584.5,449.2 L595.1,431.6 L605.6,407.0 L616.2,376.5 L626.8,346.0 L637.3,319.6 L647.9,301.0 L658.4,288.2 L669.0,275.8"/>
<path d="M67.0,493.7 L77.6,493.4 L88.1,492.9 L98.7,492.0 L109.2,491.6 L119.8,492.3 L130.4,493.6 L140.9,491.9 L151.5,491.7 L162.1,493.6 L172.6,494.0 L183.2,492.9 L193.7,490.7 L204.3,493.1 L214.9,492.9 L225.4,492.0 L236.0,494.0 L246.5,493.9 L257.1,492.9 L267.7,491.8 L278.2,493.1 L288.8,493.5 L299.4,494.6 L309.9,491.0 L320.5,494.1 L331.0,491.3 L341.6,493.5 L352.2,491.5 L362.7,490.9 L373.3,493.7 L383.8,492.1 L394.4,492.0 L405.0,491.4 L415.5,493.1 L426.1,491.4 L436.6,489.4 L447.2,486.6 L457.8,483.8 L468.3,481.0 L478.9,478.4 L489.5,476.2 L500.0,474.2 L510.6,472.6 L521.1,471.0 L531.7,469.3 L542.3,467.5 L552.8,465.0 L563.4,461.7 L573.9,453.9 L584.5,441.5 L595.1,422.7 L605.6,394.7 L616.2,358.8 L626.8,319.9 L637.3,282.8 L647.9,257.0 L658.4,239.4 L669.0,224.2"/>
<path d="M67.0,490.0 L77.6,489.3 L88.1,490.5 L98.7,491.8 L109.2,487.9 L119.8,489.0 L130.4,489.8 L140.9,489.3 L151.5,488.4 L162.1,490.1 L172.6,489.1 L183.2,489.7 L193.7,487.8 L204.3,491.8 L214.9,490.7 L225.4,487.6 L236.0,490.5 L246.5,490.0 L257.1,490.5 L267.7,491.7 L278.2,489.3 L288.8,488.4 L299.4,488.8 L309.9,490.5 L320.5,489.7 L331.0,487.4 L341.6,489.4 L352.2,490.2 L362.7,488.2 L373.3,489.5 L383.8,491.2 L394.4,490.1 L405.0,488.2 L415.5,489.3 L426.1,489.3 L436.6,488.5 L447.2,488.8 L457.8,486.4 L468.3,484.0 L478.9,481.7 L489.5,479.9 L500.0,478.1 L510.6,476.7 L521.1,475.3 L531.7,473.9 L542.3,472.4 L552.8,470.3 L563.4,468.0 L573.9,461.5 L584.5,451.9 L595.1,437.1 L605.6,414.2 L616.2,384.8 L626.8,351.2 L637.3,318.5 L647.9,295.5 L658.4,279.4 L669.0,266.6"/>
<path d="M67.0,495.7 L77.6,495.0 L88.1,496.6 L98.7,495.8 L109.2,495.2 L119.8,496.6 L130.4,495.3 L140.9,494.6 L151.5,497.1 L162.1,496.0 L172.6,495.4 L183.2,496.6 L193.7,494.7 L204.3,494.5 L214.9,496.4 L225.4,495.6 L236.0,496.5 L246.5,495.9 L257.1,495.3 L267.7,496.0 L278.2,495.6 L288.8,496.3 L299.4,494.5 L309.9,494.8 L320.5,496.5 L331.0,495.2 L341.6,492.9 L352.2,496.3 L362.7,494.3 L373.3,492.9 L383.8,496.0 L394.4,494.9 L405.0,495.5 L415.5,494.3 L426.1,493.4 L436.6,491.6 L447.2,489.4 L457.8,487.1 L468.3,484.8 L478.9,482.5 L489.5,480.6 L500.0,478.7 L510.6,477.3 L521.1,476.0 L531.7,474.6 L542.3,473.2 L552.8,471.3 L563.4,469.0 L573.9,463.5 L584.5,455.2 L595.1,442.4 L605.6,421.1 L616.2,393.0 L626.8,360.3 L637.3,328.1 L647.9,303.4 L658.4,285.6 L669.0,273.1"/>
<path d="M67.0,489.4 L77.6,490.3 L88.1,491.8 L98.7,491.0 L109.2,489.4 L119.8,489.1 L130.4,490.2 L140.9,488.8 L151.5,489.3 L162.1,491.8 L172.6,491.3 L183.2,489.7 L193.7,491.1 L204.3,490.8 L214.9,489.8 L225.4,490.4 L236.0,490.9 L246.5,491.6 L257.1,487.9 L267.7,491.6 L278.2,490.6 L288.8,488.9 L299.4,490.2 L309.9,491.2 L320.5,491.4 L331.0,488.9 L341.6,489.3 L352.2,492.3 L362.7,491.6 L373.3,489.4 L383.8,488.4 L394.4,490.7 L405.0,489.1 L415.5,491.9 L426.1,492.0 L436.6,491.5 L447.2,489.6 L457.8,488.7 L468.3,486.5 L478.9,484.3 L489.5,482.4 L500.0,480.6 L510.6,479.1 L521.1,477.9 L531.7,476.6 L542.3,475.3 L552.8,473.8 L563.4,471.6 L573.9,468.1 L584.5,461.9 L595.1,450.9 L605.6,434.2 L616.2,410.8 L626.8,380.8 L637.3,350.5 L647.9,323.4 L658.4,304.4 L669.0,291.3"/>
<path d="M67.0,487.0 L77.6,486.3 L88.1,487.8 L98.7,487.8 L109.2,487.8 L119.8,485.9 L130.4,487.6 L140.9,487.4 L151.5,487.8 L162.1,486.5 L172.6,487.1 L183.2,488.8 L193.7,486.5 L204.3,487.1 L214.9,486.2 L225.4,486.9 L236.0,487.6 L246.5,488.6 L257.1,486.4 L267.7,486.1 L278.2,488.5 L288.8,487.6 L299.4,487.0 L309.9,487.7 L320.5,487.1 L331.0,487.9 L341.6,488.2 L352.2,486.2 L362.7,489.4 L373.3,486.8 L383.8,488.4 L394.4,487.5 L405.0,488.3 L415.5,487.4 L426.1,488.2 L436.6,487.2 L447.2,486.4 L457.8,483.5 L468.3,480.7 L478.9,477.9 L489.5,475.6 L500.0,473.5 L510.6,471.8 L521.1,470.1 L531.7,468.4 L542.3,466.6 L552.8,464.0 L563.4,461.1 L573.9,453.0 L584.5,440.8 L595.1,422.3 L605.6,394.1 L616.2,357.8 L626.8,317.2 L637.3,277.6 L647.9,250.3 L658.4,231.5 L669.0,215.9"/>
<path d="M67.0,489.4 L77.6,490.0 L88.1,488.0 L98.7,487.3 L109.2,489.3 L119.8,487.0 L130.4,488.1 L140.9,489.2 L151.5,487.6 L162.1,486.9 L172.6,486.9 L183.2,487.7 L193.7,486.8 L204.3,488.3 L214.9,487.9 L225.4,486.3 L236.0,488.4 L246.5,489.1 L257.1,489.6 L267.7,488.8 L278.2,490.3 L288.8,489.3 L299.4,489.5 L309.9,488.5 L320.5,489.8 L331.0,488.4 L341.6,488.3 L352.2,487.4 L362.7,487.1 L373.3,486.5 L383.8,488.5 L394.4,489.8 L405.0,487.4 L415.5,487.8 L426.1,488.7 L436.6,487.3 L447.2,486.1 L457.8,483.6 L468.3,480.9 L478.9,478.5 L489.5,476.3 L500.0,474.4 L510.6,472.9 L521.1,471.3 L531.7,469.7 L542.3,467.9 L552.8,465.2 L563.4,461.1 L573.9,453.4 L584.5,440.2 L595.1,420.2 L605.6,391.5 L616.2,354.8 L626.8,317.1 L637.3,282.7 L647.9,258.6 L658.4,242.1 L669.0,227.1"/>
<path d="M67.0,492.8 L77.6,492.1 L88.1,492.1 L98.7,489.9 L109.2,492.4 L119.8,491.9 L130.4,491.5 L140.9,490.8 L151.5,490.7 L162.1,492.7 L172.6,492.7 L183.2,493.0 L193.7,490.1 L204.3,491.7 L214.9,491.2 L225.4,491.4 L236.0,493.0 L246.5,493.2 L257.1,492.6 L267.7,489.3 L278.2,491.8 L288.8,490.9 L299.4,492.5 L309.9,488.5 L320.5,491.3 L331.0,493.1 L341.6,491.9 L352.2,491.0 L362.7,490.3 L373.3,491.8 L383.8,490.7 L394.4,491.1 L405.0,491.2 L415.5,491.9 L426.1,491.0 L436.6,490.2 L447.2,487.6 L457.8,485.0 L468.3,482.5 L478.9,480.1 L489.5,478.1 L500.0,476.3 L510.6,474.8 L521.1,473.3 L531.7,471.8 L542.3,470.1 L552.8,467.8 L563.4,464.7 L573.9,457.6 L584.5,446.2 L595.1,428.9 L605.6,403.2 L616.2,370.2 L626.8,334.6 L637.3,300.6 L647.9,276.9 L658.4,260.9 L669.0,247.0"/>
<path d="M67.0,489.2 L77.6,487.8 L88.1,487.4 L98.7,486.9 L109.2,488.8 L119.8,487.5 L130.4,488.3 L140.9,487.5 L151.5,488.1 L162.1,488.1 L172.6,488.4 L183.2,487.5 L193.7,487.9 L204.3,489.1 L214.9,490.3 L225.4,486.9 L236.0,487.2 L246.5,488.1 L257.1,486.7 L267.7,488.1 L278.2,488.2 L288.8,488.5 L299.4,486.6 L309.9,486.0 L320.5,488.2 L331.0,488.7 L341.6,486.9 L352.2,487.0 L362.7,487.3 L373.3,489.6 L383.8,487.7 L394.4,487.8 L405.0,488.3 L415.5,487.5 L426.1,488.2 L436.6,487.6 L447.2,485.2 L457.8,482.6 L468.3,479.9 L478.9,477.7 L489.5,475.5 L500.0,473.9 L510.6,472.3 L521.1,470.7 L531.7,469.1 L542.3,466.9 L552.8,464.2 L563.4,458.0 L573.9,448.6 L584.5,434.0 L595.1,409.5 L605.6,377.0 L616.2,339.2 L626.8,301.8 L637.3,272.7 L647.9,251.7 L658.4,237.2 L669.0,221.9"/>
<path d="M67.0,491.4 L77.6,491.4 L88.1,494.9 L98.7,492.2 L109.2,489.7 L119.8,492.4 L130.4,491.9 L140.9,492.3 L151.5,493.7 L162.1,491.1 L172.6,489.7 L183.2,490.0 L193.7,492.0 L204.3,492.7 L214.9,492.4 L225.4,491.2 L236.0,492.2 L246.5,490.9 L257.1,491.5 L267.7,493.1 L278.2,493.0 L288.8,490.9 L299.4,490.9 L309.9,491.8 L320.5,490.2 L331.0,491.8 L341.6,492.1 L352.2,491.8 L362.7,491.2 L373.3,494.3 L383.8,491.6 L394.4,491.6 L405.0,492.7 L415.5,492.7 L426.1,490.4 L436.6,489.0 L447.2,486.4 L457.8,483.8 L468.3,481.2 L478.9,479.0 L489.5,477.0 L500.0,475.3 L510.6,473.8 L521.1,472.3 L531.7,470.7 L542.3,468.8 L552.8,466.3 L563.4,461.3 L573.9,453.6 L584.5,440.0 L595.1,418.9 L605.6,389.4 L616.2,353.6 L626.8,317.8 L637.3,287.6 L647.9,266.2 L658.4,251.5 L669.0,237.0"/>
<path d="M67.0,495.1 L77.6,495.2 L88.1,496.9 L98.7,494.8 L109.2,496.4 L119.8,497.3 L130.4,494.6 L140.9,495.2 L151.5,495.9 L162.1,496.4 L172.6,494.8 L183.2,495.9 L193.7,496.4 L204.3,495.0 L214.9,495.3 L225.4,496.9 L236.0,494.2 L246.5,497.4 L257.1,496.5 L267.7,495.2 L278.2,495.7 L288.8,494.7 L299.4,495.0 L309.9,497.4 L320.5,494.2 L331.0,496.1 L341.6,495.6 L352.2,496.4 L362.7,496.8 L373.3,494.9 L383.8,495.1 L394.4,495.3 L405.0,495.8 L415.5,493.9 L426.1,494.0 L436.6,492.2 L447.2,490.2 L457.8,488.0 L468.3,485.8 L478.9,483.6 L489.5,481.7 L500.0,479.9 L510.6,478.5 L521.1,477.2 L531.7,475.9 L542.3,474.6 L552.8,472.9 L563.4,470.7 L573.9,466.1 L584.5,459.1 L595.1,447.4 L605.6,428.7 L616.2,402.6 L626.8,371.8 L637.3,341.0 L647.9,315.8 L658.4,297.8 L669.0,285.4"/>
<path d="M67.0,487.4 L77.6,487.5 L88.1,487.1 L98.7,486.5 L109.2,486.4 L119.8,489.2 L130.4,487.9 L140.9,486.8 L151.5,486.6 L162.1,487.0 L172.6,488.2 L183.2,486.8 L193.7,487.4 L204.3,487.2 L214.9,485.9 L225.4,487.4 L236.0,486.8 L246.5,485.7 L257.1,486.2 L267.7,488.6 L278.2,488.4 L288.8,489.4 L299.4,486.1 L309.9,487.4 L320.5,487.8 L331.0,487.3 L341.6,488.5 L352.2,486.6 L362.7,488.2 L373.3,486.3 L383.8,487.0 L394.4,487.3 L405.0,486.6 L415.5,487.5 L426.1,487.3 L436.6,485.9 L447.2,485.4 L457.8,484.1 L468.3,481.4 L478.9,478.9 L489.5,476.8 L500.0,474.8 L510.6,473.2 L521.1,471.6 L531.7,470.0 L542.3,468.3 L552.8,465.8 L563.4,462.5 L573.9,454.8 L584.5,442.7 L595.1,424.2 L605.6,396.8 L616.2,361.7 L626.8,323.7 L637.3,287.6 L647.9,262.5 L658.4,245.4 L669.0,230.6"/>
<path d="M67.0,487.2 L77.6,488.6 L88.1,489.7 L98.7,486.4 L109.2,486.3 L119.8,486.4 L130.4,487.7 L140.9,486.8 L151.5,487.6 L162.1,486.0 L172.6,488.5 L183.2,487.0 L193.7,487.8 L204.3,486.5 L214.9,487.2 L225.4,489.2 L236.0,487.6 L246.5,488.3 L257.1,486.8 L267.7,486.4 L278.2,488.6 L288.8,486.8 L299.4,488.4 L309.9,487.8 L320.5,487.1 L331.0,486.0 L341.6,486.8 L352.2,486.6 L362.7,487.8 L373.3,487.4 L383.8,486.6 L394.4,487.1 L405.0,487.1 L415.5,486.9 L426.1,485.5 L436.6,485.8 L447.2,485.8 L457.8,486.9 L468.3,486.0 L478.9,483.9 L489.5,482.1 L500.0,480.5 L510.6,479.2 L521.1,477.9 L531.7,476.6 L542.3,475.3 L552.8,473.6 L563.4,471.5 L573.9,466.6 L584.5,459.3 L595.1,447.9 L605.6,428.6 L616.2,402.9 L626.8,373.0 L637.3,343.4 L647.9,320.2 L658.4,303.6 L669.0,292.0"/>
<path d="M67.0,488.9 L77.6,489.1 L88.1,488.3 L98.7,489.5 L109.2,488.4 L119.8,488.3 L130.4,489.3 L140.9,489.2 L151.5,489.5 L162.1,489.8 L172.6,489.7 L183.2,490.2 L193.7,488.3 L204.3,488.6 L214.9,489.2 L225.4,488.9 L236.0,489.0 L246.5,487.5 L257.1,488.1 L267.7,489.4 L278.2,488.3 L288.8,490.8 L299.4,489.6 L309.9,489.9 L320.5,488.7 L331.0,489.6 L341.6,489.9 L352.2,489.8 L362.7,490.6 L373.3,490.5 L383.8,490.1 L394.4,488.7 L405.0,488.8 L415.5,488.3 L426.1,487.3 L436.6,488.1 L447.2,487.2 L457.8,484.3 L468.3,481.4 L478.9,478.5 L489.5,476.0 L500.0,473.7 L510.6,471.9 L521.1,470.2 L531.7,468.5 L542.3,466.7 L552.8,464.4 L563.4,461.5 L573.9,455.1 L584.5,445.4 L595.1,429.9 L605.6,404.3 L616.2,369.4 L626.8,328.5 L637.3,288.0 L647.9,255.5 L658.4,232.3 L669.0,216.3"/>
<path d="M67.0,495.5 L77.6,494.9 L88.1,495.9 L98.7,496.3 L109.2,494.9 L119.8,496.1 L130.4,493.1 L140.9,495.7 L151.5,493.3 L162.1,495.1 L172.6,495.1 L183.2,494.4 L193.7,494.9 L204.3,495.5 L214.9,495.8 L225.4,496.4 L236.0,496.4 L246.5,494.5 L257.1,497.6 L267.7,493.6 L278.2,494.4 L288.8,495.7 L299.4,493.6 L309.9,493.4 L320.5,494.2 L331.0,497.4 L341.6,497.3 L352.2,494.7 L362.7,496.7 L373.3,495.0 L383.8,495.9 L394.4,495.0 L405.0,495.7 L415.5,495.1 L426.1,493.6 L436.6,491.9 L447.2,489.8 L457.8,487.6 L468.3,485.5 L478.9,483.4 L489.5,481.7 L500.0,480.0 L510.6,478.8 L521.1,477.5 L531.7,476.3 L542.3,474.9 L552.8,473.0 L563.4,470.9 L573.9,465.1 L584.5,456.5 L595.1,443.3 L605.6,422.7 L616.2,396.1 L626.8,365.7 L637.3,335.9 L647.9,314.7 L658.4,299.9 L669.0,288.3"/>
<path d="M67.0,488.8 L77.6,487.8 L88.1,487.2 L98.7,489.2 L109.2,487.4 L119.8,489.5 L130.4,487.3 L140.9,489.6 L151.5,489.6 L162.1,490.1 L172.6,489.0 L183.2,488.7 L193.7,488.9 L204.3,489.1 L214.9,489.0 L225.4,489.2 L236.0,489.1 L246.5,488.6 L257.1,489.3 L267.7,488.6 L278.2,489.9 L288.8,490.1 L299.4,487.9 L309.9,489.6 L320.5,488.6 L331.0,489.8 L341.6,490.3 L352.2,490.2 L362.7,489.7 L373.3,487.4 L383.8,489.5 L394.4,488.5 L405.0,489.2 L415.5,488.6 L426.1,490.0 L436.6,487.6 L447.2,488.5 L457.8,487.0 L468.3,484.7 L478.9,482.3 L489.5,480.4 L500.0,478.5 L510.6,477.1 L521.1,475.7 L531.7,474.3 L542.3,472.8 L552.8,471.0 L563.4,468.6 L573.9,463.3 L584.5,455.3 L595.1,442.8 L605.6,421.6 L616.2,393.3 L626.8,360.2 L637.3,327.5 L647.9,301.7 L658.4,283.1 L669.0,270.3"/>
<path d="M67.0,488.6 L77.6,488.7 L88.1,490.5 L98.7,487.6 L109.2,489.0 L119.8,488.1 L130.4,487.5 L140.9,489.5 L151.5,487.6 L162.1,488.9 L172.6,488.7 L183.2,487.3 L193.7,489.7 L204.3,488.7 L214.9,488.4 L225.4,487.0 L236.0,488.2 L246.5,487.4 L257.1,489.3 L267.7,489.7 L278.2,488.3 L288.8,486.5 L299.4,487.6 L309.9,488.6 L320.5,488.8 L331.0,486.7 L341.6,487.4 L352.2,489.6 L362.7,490.2 L373.3,486.1 L383.8,487.9 L394.4,488.1 L405.0,487.7 L415.5,488.2 L426.1,488.3 L436.6,488.2 L447.2,486.2 L457.8,483.3 L468.3,480.4 L478.9,477.7 L489.5,475.4 L500.0,473.3 L510.6,471.6 L521.1,469.9 L531.7,468.2 L542.3,466.4 L552.8,463.8 L563.4,460.5 L573.9,452.4 L584.5,439.8 L595.1,420.7 L605.6,391.9 L616.2,354.9 L626.8,314.4 L637.3,275.3 L647.9,248.1 L658.4,229.7 L669.0,214.0"/>
<path d="M67.0,494.1 L77.6,493.5 L88.1,495.3 L98.7,497.3 L109.2,494.4 L119.8,495.6 L130.4,496.7 L140.9,494.8 L151.5,495.7 L162.1,495.0 L172.6,497.1 L183.2,494.3 L193.7,495.0 L204.3,494.7 L214.9,495.7 L225.4,495.8 L236.0,493.9 L246.5,494.2 L257.1,495.2 L267.7,496.2 L278.2,494.4 L288.8,495.4 L299.4,494.0 L309.9,495.7 L320.5,494.7 L331.0,494.5 L341.6,495.5 L352.2,494.3 L362.7,496.4 L373.3,493.5 L383.8,495.4 L394.4,495.4 L405.0,495.1 L415.5,494.9 L426.1,493.3 L436.6,491.5 L447.2,489.3 L457.8,487.0 L468.3,484.8 L478.9,482.6 L489.5,480.8 L500.0,479.1 L510.6,477.8 L521.1,476.5 L531.7,475.1 L542.3,473.7 L552.8,471.7 L563.4,469.5 L573.9,463.4 L584.5,454.2 L595.1,440.3 L605.6,418.5 L616.2,390.5 L626.8,358.6 L637.3,327.4 L647.9,305.4 L658.4,290.0 L669.0,277.9"/>
<path d="M67.0,492.5 L77.6,491.7 L88.1,490.2 L98.7,489.2 L109.2,492.0 L119.8,489.9 L130.4,491.4 L140.9,491.6 L151.5,491.6 L162.1,491.6 L172.6,493.0 L183.2,491.5 L193.7,492.6 L204.3,491.0 L214.9,488.5 L225.4,492.7 L236.0,489.6 L246.5,492.5 L257.1,491.7 L267.7,490.3 L278.2,490.8 L288.8,490.1 L299.4,489.9 L309.9,491.7 L320.5,491.9 L331.0,490.7 L341.6,490.8 L352.2,489.6 L362.7,493.6 L373.3,490.3 L383.8,490.8 L394.4,491.7 L405.0,492.2 L415.5,492.2 L426.1,490.2 L436.6,487.6 L447.2,484.7 L457.8,481.9 L468.3,479.1 L478.9,476.8 L489.5,474.6 L500.0,472.8 L510.6,471.2 L521.1,469.5 L531.7,467.8 L542.3,465.6 L552.8,462.8 L563.4,456.5 L573.9,446.9 L584.5,432.0 L595.1,406.9 L605.6,373.0 L616.2,333.6 L626.8,294.5 L637.3,263.6 L647.9,241.3 L658.4,226.0 L669.0,210.0"/>
</g>
<path d="M67.0,479.5 C69.2,479.2 75.0,478.6 80.0,478.0 C85.0,477.4 91.8,477.0 96.8,476.0 C101.8,475.0 105.9,473.2 110.0,472.0 C114.1,470.8 114.6,469.8 121.3,468.5 C128.0,467.2 141.1,465.8 150.0,464.0 C158.9,462.2 167.8,460.7 174.5,458.0 C181.2,455.3 185.2,451.3 190.0,448.0 C194.8,444.7 198.3,441.8 203.0,438.0 C207.7,434.2 212.6,429.4 218.2,425.5 C223.8,421.6 230.3,417.5 236.4,414.5 C242.5,411.5 248.4,409.7 254.5,407.3 C260.6,404.9 266.6,402.7 272.7,400.0 C278.8,397.3 284.8,394.2 290.9,390.9 C297.0,387.6 304.2,382.8 309.1,380.0 C314.0,377.2 315.8,375.6 320.5,374.0 C325.2,372.4 331.7,371.0 337.3,370.5 C342.9,370.0 348.4,370.6 354.0,371.1 C359.6,371.7 365.4,372.7 371.0,373.8 C376.6,374.9 382.1,376.7 387.7,377.9 C393.3,379.1 398.9,379.6 404.5,381.2 C410.1,382.8 415.8,385.6 421.4,387.3 C427.0,389.0 433.2,390.8 438.2,391.6 C443.2,392.4 447.1,392.7 451.6,392.3 C456.1,391.9 460.8,391.4 465.0,389.0 C469.2,386.6 472.8,382.3 477.0,378.0 C481.2,373.7 486.2,367.3 490.0,363.0 C493.8,358.7 497.2,354.7 500.0,352.0 C502.8,349.3 503.6,348.5 507.0,347.0 C510.4,345.5 516.0,343.3 520.5,343.0 C525.0,342.7 529.5,344.0 534.0,345.2 C538.5,346.4 543.0,348.6 547.5,350.3 C552.0,352.0 555.9,354.1 560.9,355.3 C565.9,356.5 572.1,357.7 577.7,357.7 C583.3,357.7 588.9,356.0 594.5,355.3 C600.1,354.6 606.9,353.9 611.4,353.6 C615.9,353.3 617.6,352.8 621.5,353.6 C625.4,354.5 629.9,357.0 634.9,358.7 C639.9,360.4 646.0,362.3 651.7,363.7 C657.4,365.1 666.1,366.5 669.0,367.1" stroke="#0000ff" stroke-width="4"/>
<path d="M67.0,165.0 C68.5,165.0 72.8,165.5 76.0,165.0 C79.2,164.5 82.7,163.3 86.0,162.0 C89.3,160.7 92.7,158.7 96.0,157.0 C99.3,155.3 102.2,153.3 106.0,152.0 C109.8,150.7 115.0,148.8 119.0,149.0 C123.0,149.2 126.5,150.8 130.0,153.0 C133.5,155.2 137.0,158.2 140.0,162.0 C143.0,165.8 145.8,171.0 148.0,176.0 C150.2,181.0 151.4,185.0 153.0,192.0 C154.6,199.0 155.7,209.1 157.8,218.0 C159.9,226.9 163.5,237.7 165.4,245.4 C167.3,253.1 168.2,257.6 169.5,264.0 C170.8,270.4 171.4,274.8 173.1,283.6 C174.8,292.4 178.0,309.0 179.4,316.7 C180.8,324.4 180.5,324.1 181.5,330.0 C182.5,335.9 184.1,344.3 185.5,352.0 C186.9,359.7 188.6,368.7 190.2,376.4 C191.8,384.1 193.4,391.3 195.0,398.0 C196.6,404.7 197.8,410.7 199.5,416.5 C201.2,422.3 202.9,427.8 205.0,433.0 C207.1,438.2 209.5,443.2 211.8,447.5 C214.1,451.8 216.4,455.4 219.0,459.0 C221.6,462.6 224.3,465.9 227.3,469.1 C230.3,472.3 233.4,475.4 237.0,478.0 C240.6,480.6 244.9,482.9 248.9,484.6 C252.9,486.4 256.9,487.5 261.0,488.5 C265.1,489.5 268.8,489.9 273.6,490.8 C278.4,491.7 284.7,493.1 290.0,494.0 C295.3,494.9 297.2,495.8 305.5,496.5 C313.8,497.2 327.6,497.8 340.0,498.0 C352.4,498.2 369.2,498.2 380.0,498.0 C390.8,497.8 399.2,497.4 405.0,497.0 C410.8,496.6 411.4,496.2 415.0,495.5 C418.6,494.8 422.3,493.9 426.6,493.0 C430.9,492.1 436.5,491.4 440.9,490.0 C445.3,488.6 449.0,487.0 453.1,484.8 C457.2,482.6 461.3,479.8 465.4,476.6 C469.5,473.4 473.9,469.3 477.7,465.4 C481.4,461.5 484.8,457.2 487.9,453.1 C490.9,449.0 493.3,445.3 496.0,440.9 C498.7,436.5 501.6,431.7 504.2,426.6 C506.8,421.5 508.9,415.4 511.4,410.2 C513.9,405.0 516.0,402.9 519.0,395.5 C522.0,388.1 526.1,375.6 529.5,366.0 C532.9,356.4 536.6,345.7 539.6,338.0 C542.6,330.3 545.1,324.5 547.5,320.0 C549.9,315.5 551.2,314.9 554.0,310.9 C556.8,306.9 560.2,299.9 564.0,296.0 C567.8,292.1 572.9,288.2 576.6,287.2 C580.3,286.2 582.9,288.1 586.0,290.0 C589.1,291.9 591.3,293.6 595.0,298.6 C598.7,303.6 604.1,312.5 608.0,320.0 C611.9,327.5 614.7,334.5 618.1,343.5 C621.5,352.5 624.3,364.8 628.2,373.8 C632.1,382.8 637.1,391.8 641.6,397.4 C646.1,403.0 650.5,405.3 655.1,407.5 C659.7,409.7 666.7,410.2 669.0,410.8" stroke="#008000" stroke-width="4"/>
<path d="M67.0,490.5 C69.2,489.8 75.7,487.8 80.0,486.0 C84.3,484.2 88.0,482.8 92.7,480.0 C97.4,477.2 104.0,473.1 108.0,469.0 C112.0,464.9 114.5,459.8 117.0,455.5 C119.5,451.2 121.4,447.6 123.3,443.0 C125.2,438.4 126.7,433.5 128.5,428.0 C130.3,422.5 132.3,416.6 134.0,410.0 C135.7,403.4 136.6,397.3 138.4,388.2 C140.2,379.1 142.7,366.4 144.9,355.5 C147.1,344.6 149.3,333.6 151.5,322.7 C153.7,311.8 155.9,302.6 158.0,290.0 C160.1,277.4 162.2,257.4 163.8,247.4 C165.4,237.4 166.0,235.9 167.5,230.0 C169.0,224.1 170.5,219.1 172.7,211.8 C174.8,204.5 177.4,194.2 180.4,186.3 C183.4,178.5 186.7,170.2 190.5,164.7 C194.3,159.2 199.1,156.1 203.3,153.3 C207.6,150.6 211.8,149.3 216.0,148.2 C220.2,147.1 224.5,146.7 228.7,146.9 C232.9,147.1 237.8,148.3 241.4,149.4 C245.0,150.5 247.3,151.7 250.0,153.6 C252.7,155.5 255.2,158.5 257.3,160.9 C259.4,163.3 260.9,165.5 262.7,168.2 C264.5,170.9 266.5,174.0 268.2,177.3 C269.9,180.6 271.2,184.3 272.7,188.2 C274.2,192.1 275.9,196.7 277.3,200.9 C278.7,205.1 279.7,209.1 280.9,213.6 C282.1,218.1 283.3,223.0 284.5,228.2 C285.7,233.3 287.1,239.0 288.2,244.5 C289.3,250.0 290.1,255.5 291.0,261.0 C291.9,266.5 292.6,271.5 293.6,277.3 C294.7,283.1 296.1,288.6 297.3,296.0 C298.5,303.4 299.6,313.3 301.0,322.0 C302.4,330.7 304.1,340.6 305.5,348.0 C306.9,355.4 307.9,360.3 309.1,366.4 C310.3,372.5 311.3,378.4 312.7,384.5 C314.1,390.6 315.6,396.6 317.3,402.7 C319.0,408.8 321.0,415.8 322.7,420.9 C324.4,425.9 325.4,428.3 327.5,433.0 C329.6,437.7 332.6,444.3 335.4,449.1 C338.2,453.9 341.6,458.2 344.4,461.8 C347.2,465.4 348.8,467.7 352.0,470.7 C355.2,473.7 359.4,477.1 363.4,479.6 C367.4,482.2 371.8,484.1 376.2,486.0 C380.6,487.9 385.3,489.6 390.0,491.0 C394.7,492.4 396.5,493.5 404.5,494.2 C412.5,494.9 423.9,494.9 438.2,495.0 C452.4,495.1 473.0,494.9 490.0,495.0 C507.0,495.1 521.7,495.2 540.0,495.3 C558.3,495.4 583.3,495.5 600.0,495.5 C616.7,495.5 628.5,495.6 640.0,495.5 C651.5,495.4 664.2,495.1 669.0,495.0" stroke="#ff0000" stroke-width="4"/>
<path d="M67.0,189.5 C67.6,191.7 69.4,197.9 70.7,202.5 C72.0,207.1 73.6,211.9 75.1,217.0 C76.6,222.1 78.0,227.4 79.5,233.0 C81.0,238.6 82.3,244.2 83.8,250.5 C85.2,256.8 86.9,264.4 88.2,271.0 C89.5,277.6 90.4,281.4 91.5,290.0 C92.6,298.6 93.2,311.8 94.7,322.7 C96.2,333.6 98.4,344.6 100.2,355.5 C102.0,366.4 104.1,379.1 105.6,388.2 C107.0,397.3 107.8,403.0 108.9,410.0 C110.1,417.0 110.8,422.4 112.5,430.0 C114.2,437.6 116.4,448.4 119.3,455.9 C122.2,463.4 126.2,469.6 130.0,475.0 C133.8,480.4 137.6,485.7 141.8,488.6 C146.0,491.5 150.2,491.5 155.0,492.5 C159.8,493.5 162.9,494.0 170.4,494.7 C177.9,495.4 185.1,496.1 200.0,496.5 C214.9,496.9 243.3,497.0 260.0,497.0 C276.7,497.0 291.7,496.9 300.0,496.5 C308.3,496.1 306.6,495.6 310.0,494.9 C313.4,494.2 316.6,493.8 320.2,492.3 C323.8,490.8 328.0,488.3 331.6,486.0 C335.2,483.7 338.6,480.9 341.8,478.3 C345.0,475.8 347.9,473.4 350.7,470.7 C353.4,467.9 355.8,465.4 358.3,461.8 C360.9,458.2 363.7,454.4 366.0,449.1 C368.3,443.8 370.6,434.9 372.3,430.0 C374.0,425.1 374.4,424.3 376.0,420.0 C377.6,415.7 380.2,408.5 382.0,404.0 C383.8,399.5 385.5,397.0 387.0,393.0 C388.5,389.0 389.7,385.2 391.0,380.0 C392.3,374.8 393.9,366.7 395.0,362.0 C396.1,357.3 396.5,356.5 397.7,351.8 C398.9,347.1 400.8,339.7 402.3,333.6 C403.8,327.6 404.8,322.5 406.8,315.5 C408.8,308.5 411.8,299.4 414.1,291.8 C416.4,284.2 418.4,276.3 420.5,270.0 C422.6,263.7 424.8,258.5 427.0,254.0 C429.2,249.5 430.9,246.1 434.0,243.0 C437.1,239.9 442.1,235.8 445.5,235.3 C448.9,234.8 451.7,237.1 454.5,240.0 C457.3,242.9 459.7,246.9 462.5,252.7 C465.3,258.4 469.1,268.4 471.5,274.5 C473.9,280.6 474.8,281.4 477.0,289.0 C479.2,296.6 481.7,310.4 484.5,320.0 C487.3,329.6 490.4,336.8 493.6,346.9 C496.8,357.0 500.1,371.0 503.7,380.5 C507.3,390.0 511.0,396.8 515.5,404.1 C520.0,411.4 525.3,418.1 530.6,424.3 C535.9,430.5 541.9,435.5 547.5,441.1 C553.1,446.7 558.7,453.4 564.3,457.9 C569.9,462.4 574.9,464.6 581.1,468.0 C587.3,471.4 594.6,475.3 601.3,478.1 C608.0,480.9 614.8,483.1 621.5,484.8 C628.2,486.5 634.9,487.4 641.6,488.2 C648.3,489.0 657.2,489.7 661.8,489.9 C666.4,490.1 667.8,489.3 669.0,489.2" stroke="#00bfbf" stroke-width="4"/>
<path d="M67.0,497.0 C75.8,497.0 102.4,497.3 120.0,497.0 C137.6,496.7 159.1,495.9 172.4,495.2 C185.7,494.4 191.8,493.8 200.0,492.5 C208.2,491.2 215.1,489.7 221.8,487.3 C228.5,484.9 234.6,482.1 240.0,478.2 C245.4,474.2 250.2,469.1 254.5,463.6 C258.8,458.2 263.2,451.1 266.0,445.5 C268.8,439.9 269.3,435.1 271.0,430.0 C272.7,424.9 274.4,420.0 276.0,415.0 C277.6,410.0 279.1,407.5 280.5,400.0 C281.9,392.5 282.9,379.6 284.5,370.0 C286.1,360.4 287.9,352.2 290.0,342.7 C292.1,333.1 294.8,322.7 296.8,312.7 C298.9,302.7 300.5,293.1 302.3,282.7 C304.1,272.2 305.9,259.3 307.7,250.0 C309.5,240.7 310.9,235.8 313.1,226.9 C315.3,218.0 317.7,206.1 320.7,196.3 C323.7,186.5 327.5,174.9 330.9,168.3 C334.3,161.7 337.6,159.7 341.0,156.9 C344.4,154.2 347.8,151.8 351.2,151.8 C354.6,151.8 358.4,154.2 361.4,156.9 C364.4,159.7 366.4,163.0 369.0,168.3 C371.6,173.6 374.6,181.9 376.7,188.7 C378.8,195.5 380.3,202.2 381.8,209.0 C383.3,215.8 384.5,222.6 385.6,229.4 C386.7,236.2 387.5,243.2 388.5,250.0 C389.5,256.8 390.2,262.1 391.4,270.0 C392.6,277.9 394.4,288.2 395.9,297.3 C397.4,306.4 399.0,316.3 400.5,324.5 C402.0,332.7 403.5,338.8 405.0,346.4 C406.5,354.0 408.2,364.4 409.5,370.0 C410.8,375.6 411.4,375.0 413.0,380.0 C414.6,385.0 417.1,393.0 419.0,400.0 C420.9,407.0 422.2,416.2 424.5,422.0 C426.8,427.8 429.6,429.8 432.7,434.7 C435.8,439.6 439.5,446.3 442.9,451.1 C446.3,455.9 449.4,459.3 453.1,463.4 C456.9,467.5 461.3,472.2 465.4,475.6 C469.5,479.0 473.3,481.6 477.7,483.8 C482.1,486.0 486.9,487.7 492.0,488.9 C497.1,490.1 502.9,490.1 508.3,490.9 C513.8,491.7 519.4,492.9 524.7,493.5 C530.0,494.1 527.5,493.9 540.0,494.5 C552.5,495.1 578.5,496.4 600.0,496.8 C621.5,497.2 657.5,497.0 669.0,497.0" stroke="#bf00bf" stroke-width="4"/>
<path d="M67.0,497.3 C89.2,497.3 161.2,497.3 200.0,497.3 C238.8,497.3 273.3,497.3 300.0,497.2 C326.7,497.1 343.3,497.1 360.0,496.8 C376.7,496.5 389.9,496.0 400.0,495.5 C410.1,495.0 413.6,494.9 420.4,494.0 C427.2,493.1 434.1,491.5 440.9,490.0 C447.7,488.5 454.5,486.5 461.3,484.8 C468.1,483.1 474.9,481.2 481.7,479.7 C488.5,478.2 495.4,476.8 502.2,475.6 C509.0,474.4 516.3,473.5 522.6,472.6 C528.9,471.7 535.4,470.7 540.0,470.0 C544.6,469.3 545.4,469.3 550.0,468.3 C554.6,467.3 562.0,466.4 567.5,463.9 C573.0,461.3 578.1,457.7 582.8,453.0 C587.5,448.3 592.1,442.1 595.9,435.5 C599.7,428.9 602.8,421.0 605.7,413.7 C608.6,406.4 610.9,399.1 613.3,391.8 C615.7,384.5 618.1,376.2 619.9,370.0 C621.7,363.8 621.9,362.4 624.0,354.7 C626.1,347.0 629.9,334.2 632.8,324.0 C635.7,313.8 638.2,302.9 641.5,293.5 C644.8,284.1 649.3,273.9 652.4,267.3 C655.5,260.7 657.2,258.2 660.0,254.0 C662.8,249.8 667.5,244.0 669.0,242.0" stroke="#bfbf00" stroke-width="4"/>
<path d="M67.0,239.0 C68.6,240.1 73.2,243.9 76.4,245.7 C79.6,247.5 83.0,249.4 86.0,250.0 C89.0,250.6 90.9,249.2 94.4,249.0 C98.0,248.8 104.4,249.4 107.3,249.0 C110.2,248.6 110.6,247.3 111.8,246.4 C113.0,245.5 112.5,246.2 114.5,243.6 C116.5,241.0 120.6,236.7 123.6,230.9 C126.6,225.1 130.0,215.4 132.7,209.0 C135.4,202.6 138.3,196.1 140.0,192.7 C141.7,189.3 141.7,188.9 142.7,188.5 C143.7,188.1 144.5,188.4 146.0,190.0 C147.5,191.6 149.8,193.3 151.8,198.0 C153.8,202.7 156.2,210.7 158.2,218.0 C160.2,225.3 161.8,233.9 163.6,241.8 C165.4,249.7 167.5,259.1 169.0,265.5 C170.5,271.9 171.3,275.6 172.5,280.0 C173.7,284.4 174.6,285.0 176.0,292.0 C177.4,299.0 179.3,313.5 181.0,322.0 C182.7,330.5 184.3,336.4 186.0,343.0 C187.7,349.6 189.4,354.8 190.9,361.8 C192.4,368.8 193.5,377.7 195.0,385.0 C196.5,392.3 197.9,397.2 200.0,405.5 C202.1,413.8 204.3,425.8 207.3,434.5 C210.3,443.2 214.6,451.8 218.2,458.0 C221.8,464.2 224.8,468.0 229.0,472.0 C233.2,476.0 238.1,479.2 243.6,482.0 C249.1,484.8 255.1,487.0 261.8,489.0 C268.5,491.0 276.3,492.7 283.6,494.0 C290.9,495.3 289.4,496.3 305.5,497.0 C321.6,497.7 357.6,498.0 380.0,498.0 C402.4,498.0 425.1,497.7 440.0,497.0 C454.9,496.3 462.9,495.9 469.5,494.0 C476.1,492.1 476.6,489.6 479.7,485.8 C482.8,482.1 485.3,476.3 487.9,471.5 C490.4,466.7 493.0,462.0 495.0,457.2 C497.0,452.4 498.4,447.0 500.1,442.9 C501.8,438.8 503.3,437.1 505.2,432.7 C507.1,428.3 509.5,421.4 511.4,416.3 C513.3,411.2 515.0,405.1 516.5,402.0 C518.0,398.9 517.6,404.9 520.5,397.4 C523.4,389.9 529.5,368.8 534.0,357.0 C538.5,345.2 544.2,332.4 547.5,326.7 C550.8,321.0 551.2,326.3 554.0,323.0 C556.8,319.7 560.5,310.5 564.3,306.8 C568.1,303.1 572.9,300.7 576.6,300.7 C580.4,300.7 583.2,303.6 586.8,306.8 C590.3,310.0 594.4,314.4 597.9,320.0 C601.4,325.6 604.6,331.8 608.0,340.2 C611.4,348.6 614.9,361.0 618.1,370.5 C621.3,380.0 623.4,387.3 627.0,397.4 C630.6,407.5 635.8,420.9 640.0,431.0 C644.2,441.1 648.3,450.0 652.5,457.9 C656.7,465.8 662.2,474.1 665.0,478.1 C667.8,482.1 668.3,481.4 669.0,482.0" stroke="#004000" stroke-width="3.3" stroke-dasharray="11 10"/>
<path d="M67.0,491.0 C69.2,490.2 75.7,488.2 80.0,486.5 C84.3,484.8 88.0,483.3 92.7,480.5 C97.4,477.7 104.0,473.6 108.0,469.5 C112.0,465.4 114.5,460.3 117.0,456.0 C119.5,451.7 121.4,448.1 123.3,443.5 C125.2,438.9 126.7,434.0 128.5,428.5 C130.3,423.0 132.3,417.2 134.0,410.5 C135.7,403.8 136.6,397.7 138.4,388.5 C140.2,379.3 142.7,366.5 144.9,355.5 C147.1,344.5 149.3,333.6 151.5,322.7 C153.7,311.8 155.8,303.4 158.0,290.0 C160.2,276.6 163.2,253.7 165.0,242.3 C166.8,230.9 167.3,229.0 169.0,221.8 C170.7,214.6 173.0,207.1 175.3,199.0 C177.6,190.9 180.6,178.7 182.7,173.0 C184.8,167.3 185.7,167.8 188.0,165.0 C190.3,162.2 193.9,158.2 196.4,156.0 C198.9,153.8 200.7,153.2 203.0,152.0 C205.3,150.8 207.8,150.2 210.0,148.5 C212.2,146.8 214.1,143.8 216.0,142.0 C217.9,140.2 219.7,138.4 221.4,137.7 C223.1,136.9 224.6,137.1 226.0,137.5 C227.4,137.9 228.5,138.4 230.0,140.0 C231.5,141.6 233.2,144.3 235.0,146.8 C236.8,149.3 239.1,151.9 241.0,155.0 C242.9,158.1 244.5,162.0 246.4,165.5 C248.3,169.0 250.9,172.2 252.7,176.0 C254.5,179.8 255.7,184.0 257.0,188.0 C258.3,192.0 259.4,195.8 260.5,200.0 C261.6,204.2 262.5,208.7 263.6,213.0 C264.7,217.3 265.9,221.5 267.0,226.0 C268.1,230.5 269.1,235.7 270.0,240.0 C270.9,244.3 271.7,247.8 272.7,252.0 C273.7,256.2 274.9,260.5 276.0,265.0 C277.1,269.5 278.2,274.3 279.5,279.0 C280.8,283.7 282.1,288.5 283.5,293.0 C284.9,297.5 286.5,301.7 288.0,306.0 C289.5,310.3 290.9,315.0 292.5,319.0 C294.1,323.0 295.8,325.7 297.3,330.0 C298.8,334.3 300.1,340.0 301.5,345.0 C302.9,350.0 304.2,354.7 305.5,360.0 C306.8,365.3 308.2,371.7 309.5,377.0 C310.8,382.3 311.6,386.5 313.0,392.0 C314.4,397.5 316.2,404.3 318.0,410.0 C319.8,415.7 321.2,419.0 324.0,426.0 C326.8,433.0 330.3,444.0 335.0,452.0 C339.7,460.0 344.9,467.9 352.0,474.0 C359.1,480.1 368.9,485.1 377.6,488.5 C386.4,491.9 394.4,493.3 404.5,494.5 C414.6,495.7 423.9,495.6 438.2,495.8 C452.4,496.1 469.7,495.9 490.0,496.0 C510.3,496.1 541.7,496.3 560.0,496.5 C578.3,496.7 587.5,496.7 600.0,497.0 C612.5,497.3 626.7,498.8 635.0,498.3 C643.3,497.8 645.8,495.3 650.0,494.0 C654.2,492.7 656.8,491.4 660.0,490.5 C663.2,489.6 667.5,488.8 669.0,488.5" stroke="#8c0000" stroke-width="3.3" stroke-dasharray="11 10"/>
<path d="M67.0,156.0 C67.6,159.6 69.4,170.3 70.7,177.8 C72.0,185.3 73.9,193.7 75.1,201.0 C76.3,208.3 76.8,213.2 78.0,221.5 C79.2,229.8 81.0,242.2 82.4,250.5 C83.9,258.8 85.3,263.8 86.7,271.0 C88.1,278.2 89.8,285.5 91.0,294.0 C92.2,302.5 92.6,311.8 94.0,322.0 C95.4,332.2 97.7,344.0 99.5,355.0 C101.3,366.0 103.5,378.8 105.0,388.0 C106.5,397.2 107.3,403.0 108.5,410.0 C109.7,417.0 110.2,422.3 112.0,430.0 C113.8,437.7 116.0,448.4 119.0,456.0 C122.0,463.6 126.2,470.0 130.0,475.5 C133.8,481.0 137.6,486.1 141.8,489.0 C146.0,491.9 150.2,492.0 155.0,493.0 C159.8,494.0 162.9,494.3 170.4,495.0 C177.9,495.7 185.1,496.6 200.0,497.0 C214.9,497.4 243.3,497.5 260.0,497.5 C276.7,497.5 290.0,497.2 300.0,497.0 C310.0,496.8 313.3,496.7 320.0,496.0 C326.7,495.3 334.4,494.7 340.0,493.0 C345.6,491.3 349.2,490.1 353.3,486.0 C357.4,481.9 361.5,474.8 364.7,468.2 C367.9,461.6 370.4,452.9 372.3,446.5 C374.2,440.1 375.2,434.4 376.2,430.0 C377.1,425.6 376.9,425.0 378.0,420.0 C379.1,415.0 381.3,406.7 383.0,400.0 C384.7,393.3 386.6,385.9 388.0,380.0 C389.4,374.1 389.9,371.3 391.4,364.5 C392.9,357.7 395.1,346.7 396.8,339.1 C398.5,331.5 399.7,325.5 401.4,319.1 C403.1,312.7 404.7,308.2 406.8,300.9 C408.9,293.6 411.6,282.6 414.1,275.5 C416.6,268.4 418.7,263.9 421.8,258.0 C424.9,252.1 429.4,243.6 432.7,240.0 C436.0,236.4 438.8,235.2 441.8,236.4 C444.8,237.6 447.9,242.2 450.9,247.3 C453.9,252.5 457.0,259.7 460.0,267.3 C463.0,274.9 466.4,284.8 469.1,292.7 C471.8,300.6 473.8,305.8 476.4,314.5 C479.0,323.2 481.4,333.3 484.5,345.0 C487.6,356.7 492.2,375.3 494.8,384.5 C497.4,393.7 497.9,394.0 500.1,400.0 C502.4,406.0 505.6,413.9 508.3,420.4 C511.0,426.9 513.8,432.7 516.5,438.8 C519.2,444.9 522.0,452.1 524.7,457.2 C527.4,462.3 530.2,466.1 532.8,469.5 C535.3,472.9 535.5,474.8 540.0,477.7 C544.5,480.6 552.5,484.4 560.0,487.0 C567.5,489.6 576.7,491.5 585.0,493.0 C593.3,494.5 596.0,495.2 610.0,496.0 C624.0,496.8 659.2,497.2 669.0,497.5" stroke="#0a3030" stroke-width="2.2" stroke-dasharray="10 9"/>
<path d="M67.0,498.0 C72.5,498.0 93.0,498.3 100.0,498.0 C107.0,497.7 106.0,496.7 109.3,496.0 C112.6,495.3 116.3,493.6 119.8,493.8 C123.3,494.1 123.7,496.9 130.4,497.5 C137.1,498.1 148.4,497.9 160.0,497.5 C171.6,497.1 189.7,496.1 200.0,495.0 C210.3,493.9 215.7,493.2 221.8,491.0 C227.9,488.8 232.5,487.0 236.4,481.8 C240.3,476.6 242.5,467.3 245.5,460.0 C248.5,452.7 251.5,446.1 254.5,438.2 C257.5,430.3 260.9,421.2 263.6,412.7 C266.3,404.2 268.5,395.2 270.9,387.3 C273.3,379.4 275.8,373.4 278.2,365.5 C280.6,357.6 283.1,349.1 285.5,340.0 C287.9,330.9 290.4,320.1 292.7,310.9 C294.9,301.7 296.7,293.9 299.0,285.0 C301.3,276.1 304.1,267.1 306.7,257.4 C309.3,247.7 311.8,237.1 314.4,226.9 C316.9,216.7 319.7,205.6 322.0,196.3 C324.3,187.0 326.8,175.8 328.3,170.9 C329.8,166.0 329.3,166.6 331.0,167.0 C332.7,167.4 336.0,170.2 338.5,173.4 C341.0,176.6 343.6,182.2 346.2,186.2 C348.8,190.2 350.8,194.6 353.8,197.6 C356.8,200.6 361.7,201.9 364.0,204.0 C366.3,206.1 366.1,206.8 367.8,210.3 C369.6,213.8 372.2,218.4 374.5,225.0 C376.8,231.6 380.0,243.4 381.8,249.8 C383.6,256.2 384.0,257.9 385.5,263.6 C387.0,269.3 389.2,277.3 390.7,284.0 C392.2,290.7 392.6,295.5 394.5,303.6 C396.4,311.7 399.1,321.2 401.8,332.7 C404.5,344.2 408.5,361.8 410.9,372.7 C413.3,383.6 414.2,390.1 416.4,398.0 C418.6,405.9 421.3,413.7 424.0,420.0 C426.7,426.3 429.6,430.7 432.7,436.0 C435.8,441.3 439.5,447.2 442.9,452.0 C446.3,456.8 449.4,460.4 453.1,464.5 C456.9,468.6 461.3,473.2 465.4,476.5 C469.5,479.8 473.3,482.3 477.7,484.5 C482.1,486.7 486.9,488.3 492.0,489.5 C497.1,490.7 502.9,490.8 508.3,491.5 C513.8,492.2 519.4,493.0 524.7,493.5 C530.0,494.0 527.5,494.0 540.0,494.5 C552.5,495.0 578.5,496.1 600.0,496.5 C621.5,496.9 657.5,496.9 669.0,497.0" stroke="#600060" stroke-width="3.3" stroke-dasharray="11 10"/>
<path d="M67.0,498.3 C89.2,498.3 144.5,498.4 200.0,498.3 C255.5,498.2 357.5,498.1 400.0,498.0 C442.5,497.9 443.4,498.8 455.0,497.5 C466.6,496.2 465.7,492.4 469.5,490.0 C473.3,487.6 475.0,483.3 477.7,482.8 C480.4,482.3 482.1,485.0 485.8,486.9 C489.5,488.8 495.3,493.1 500.1,494.0 C504.9,494.9 510.0,492.7 514.4,492.0 C518.8,491.3 522.4,491.4 526.7,490.0 C531.0,488.6 534.7,487.1 540.0,483.8 C545.3,480.5 553.8,475.9 558.7,470.4 C563.7,464.9 566.1,456.6 569.7,450.8 C573.4,445.0 577.3,441.3 580.6,435.5 C583.9,429.7 586.2,422.8 589.3,415.9 C592.4,409.0 595.7,401.3 599.0,394.0 C602.3,386.7 606.2,379.2 609.0,372.2 C611.8,365.2 613.7,358.7 616.0,352.0 C618.3,345.3 620.4,338.0 623.0,332.0 C625.6,326.0 629.5,319.8 631.8,316.0 C634.1,312.2 635.0,311.2 637.0,309.0 C639.0,306.8 641.5,304.4 644.0,302.7 C646.5,300.9 649.3,299.2 652.0,298.5 C654.7,297.8 657.6,297.5 660.4,298.6 C663.2,299.7 667.6,303.9 669.0,305.0" stroke="#111100" stroke-width="2" stroke-dasharray="10 11"/>
</g>
<rect x="569.5" y="49.5" width="90.5" height="124" fill="#fff" stroke="#000" stroke-width="1"/>
<line x1="579.5" y1="61.0" x2="610" y2="61.0" stroke="#0000ff" stroke-width="4"/>
<line x1="579.5" y1="81.2" x2="610" y2="81.2" stroke="#008000" stroke-width="4"/>
<line x1="579.5" y1="101.4" x2="610" y2="101.4" stroke="#ff0000" stroke-width="4"/>
<line x1="579.5" y1="121.6" x2="610" y2="121.6" stroke="#00bfbf" stroke-width="4"/>
<line x1="579.5" y1="141.8" x2="610" y2="141.8" stroke="#bf00bf" stroke-width="4"/>
<line x1="579.5" y1="162.0" x2="610" y2="162.0" stroke="#bfbf00" stroke-width="4"/>
<g opacity="0.999">
<text x="67.0" y="521" text-anchor="middle" font-family="Liberation Sans, sans-serif" font-size="18" fill="#000">35</text>
<text x="162.1" y="521" text-anchor="middle" font-family="Liberation Sans, sans-serif" font-size="18" fill="#000">44</text>
<text x="267.7" y="521" text-anchor="middle" font-family="Liberation Sans, sans-serif" font-size="18" fill="#000">54</text>
<text x="373.3" y="521" text-anchor="middle" font-family="Liberation Sans, sans-serif" font-size="18" fill="#000">64</text>
<text x="478.9" y="521" text-anchor="middle" font-family="Liberation Sans, sans-serif" font-size="18" fill="#000">74</text>
<text x="584.5" y="521" text-anchor="middle" font-family="Liberation Sans, sans-serif" font-size="18" fill="#000">84</text>
<text x="669.0" y="521" text-anchor="middle" font-family="Liberation Sans, sans-serif" font-size="18" fill="#000">92</text>
<text x="62" y="505.5" text-anchor="end" font-family="Liberation Sans, sans-serif" font-size="18" fill="#000">0</text>
<text x="62" y="415.5" text-anchor="end" font-family="Liberation Sans, sans-serif" font-size="18" fill="#000">50</text>
<text x="62" y="325.5" text-anchor="end" font-family="Liberation Sans, sans-serif" font-size="18" fill="#000">100</text>
<text x="62" y="235.5" text-anchor="end" font-family="Liberation Sans, sans-serif" font-size="18" fill="#000">150</text>
<text x="62" y="145.5" text-anchor="end" font-family="Liberation Sans, sans-serif" font-size="18" fill="#000">200</text>
<text x="62" y="55.5" text-anchor="end" font-family="Liberation Sans, sans-serif" font-size="18" fill="#000">250</text>
<text x="370.4" y="27" text-anchor="middle" font-family="Liberation Sans, sans-serif" font-size="18" fill="#000">cycle 14A8 (T = 67.975 min)</text>
<text x="367.5" y="542" text-anchor="middle" font-family="Liberation Sans, sans-serif" font-size="18" fill="#000">position</text>
<text transform="translate(20.5,268.8) rotate(-90)" text-anchor="middle" font-family="Liberation Sans, sans-serif" font-size="18" fill="#000">expression level</text>
<text x="620.5" y="67.3" font-family="Liberation Sans, sans-serif" font-size="18" fill="#000">cad</text>
<text x="620.5" y="87.5" font-family="Liberation Sans, sans-serif" font-size="18" fill="#000">hb</text>
<text x="620.5" y="107.7" font-family="Liberation Sans, sans-serif" font-size="18" fill="#000">Kr</text>
<text x="620.5" y="127.9" font-family="Liberation Sans, sans-serif" font-size="18" fill="#000">gt</text>
<text x="620.5" y="148.1" font-family="Liberation Sans, sans-serif" font-size="18" fill="#000">kni</text>
<text x="620.5" y="168.3" font-family="Liberation Sans, sans-serif" font-size="18" fill="#000">tll</text>
</svg>
</body></html>
